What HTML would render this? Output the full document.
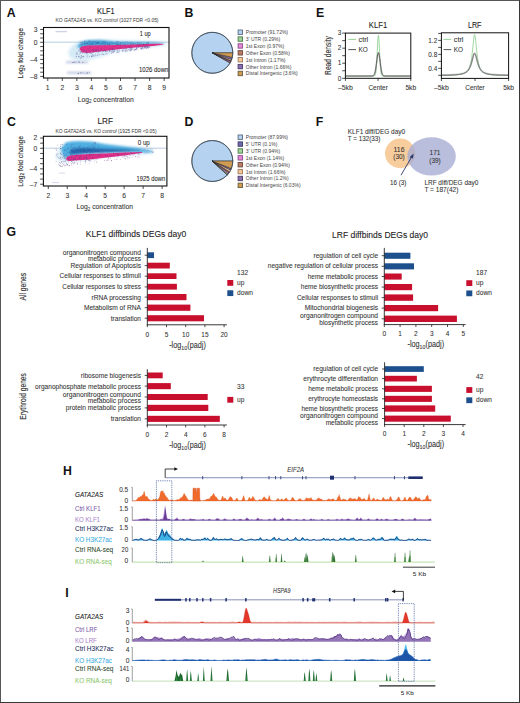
<!DOCTYPE html>
<html><head><meta charset="utf-8"><style>
html,body{margin:0;padding:0;background:#fff;}
svg{display:block;font-family:"Liberation Sans", sans-serif;}
</style></head><body>
<svg width="520" height="703" viewBox="0 0 520 703">
<defs>
<filter id="b1" x="-20%" y="-50%" width="140%" height="200%"><feGaussianBlur stdDeviation="0.8"/></filter>
<filter id="b2" x="-20%" y="-50%" width="140%" height="200%"><feGaussianBlur stdDeviation="1.5"/></filter>
<filter id="b05" x="-20%" y="-50%" width="140%" height="200%"><feGaussianBlur stdDeviation="0.4"/></filter>
</defs>
<rect x="0" y="0" width="520" height="703" fill="#fff"/>
<text x="6.8" y="16.6" font-size="12.3" fill="#111" font-weight="bold">A</text>
<text x="184.6" y="16.8" font-size="12.3" fill="#111" font-weight="bold">B</text>
<text x="316.0" y="16.9" font-size="12.3" fill="#111" font-weight="bold">E</text>
<text x="6.9" y="125.9" font-size="12.3" fill="#111" font-weight="bold">C</text>
<text x="184.6" y="125.8" font-size="12.3" fill="#111" font-weight="bold">D</text>
<text x="315.8" y="126.2" font-size="12.3" fill="#111" font-weight="bold">F</text>
<text x="6.6" y="236.4" font-size="12.3" fill="#111" font-weight="bold">G</text>
<text x="63.0" y="474.7" font-size="12.3" fill="#111" font-weight="bold">H</text>
<text x="65.3" y="596.7" font-size="12.3" fill="#111" font-weight="bold">I</text>
<g>
<path d="M68,52 L72,46 L80,41 L100,39.5 L130,40.5 L166,41.6 L166,45.5 L140,48.5 L116,52 L104,56 L90,60 L78,61 L70,58 Z" fill="#d3eaf6" stroke="none" stroke-width="1" filter="url(#b2)" opacity="0.95"/>
<line x1="43.5" y1="42.2" x2="169" y2="42.2" stroke="#a9cbdc" stroke-width="0.9"/>
<path d="M55.5,30.9 L67,30.9 L67,32.3 L55.5,32.3 Z" fill="#c9cfe2" stroke="none" stroke-width="1" filter="url(#b05)" opacity="0.9"/>
<path d="M66,61.0 L88,61.0 L88,63.4 L66,63.4 Z" fill="#c4cce4" stroke="none" stroke-width="1" filter="url(#b1)" opacity="0.95"/>
<path d="M67,71.6 L91,71.6 L91,74.0 L67,74.0 Z" fill="#c4cce4" stroke="none" stroke-width="1" filter="url(#b1)" opacity="0.95"/>
<path d="M77,47 L79,44 L83,41.5 L88,40.2 L100,40.0 L105,40.5 L116,41.8 L135,42.3 L153,42.6 L162,43.2 L162,44.2 L135,45.0 L116,45.4 L104,45.5 L90,46 L81,48.5 Z" fill="#4aa6da" stroke="none" stroke-width="1" filter="url(#b1)" opacity="0.95"/>
<path d="M84,43.5 L100,42.8 L120,43.4 L150,43.4 L120,44.6 L100,45.0 L86,45.6 Z" fill="#2a78b8" stroke="none" stroke-width="1" filter="url(#b1)" opacity="0.6"/>
<path d="M79.5,49 L81,46.8 L87,45.6 L100,45.3 L116,45.1 L135,44.5 L153,43.7 L163.5,43.8 L163.5,44.6 L153,46.0 L135,47.6 L116,49.4 L100,51.6 L88,53.0 L82,52.6 Z" fill="#e3318a" stroke="none" stroke-width="1" filter="url(#b05)" opacity="1"/>
<circle cx="102.7" cy="41.6" r="0.4" fill="#2c4f8e" opacity="0.65"/>
<circle cx="125.6" cy="41.7" r="0.4" fill="#2c4f8e" opacity="0.65"/>
<circle cx="117.5" cy="42.6" r="0.4" fill="#2c4f8e" opacity="0.65"/>
<circle cx="84.1" cy="42.8" r="0.4" fill="#2c4f8e" opacity="0.65"/>
<circle cx="82.6" cy="42.5" r="0.4" fill="#2c4f8e" opacity="0.65"/>
<circle cx="84.9" cy="41.0" r="0.4" fill="#2c4f8e" opacity="0.65"/>
<circle cx="109.7" cy="44.3" r="0.4" fill="#2c4f8e" opacity="0.65"/>
<circle cx="88.7" cy="41.6" r="0.4" fill="#2c4f8e" opacity="0.65"/>
<circle cx="123.9" cy="44.8" r="0.4" fill="#2c4f8e" opacity="0.65"/>
<circle cx="120.4" cy="42.8" r="0.4" fill="#2c4f8e" opacity="0.65"/>
<circle cx="148.3" cy="42.0" r="0.4" fill="#2c4f8e" opacity="0.65"/>
<circle cx="140.1" cy="42.7" r="0.4" fill="#2c4f8e" opacity="0.65"/>
<circle cx="90.1" cy="41.2" r="0.4" fill="#2c4f8e" opacity="0.65"/>
<circle cx="101.6" cy="44.3" r="0.4" fill="#2c4f8e" opacity="0.65"/>
<circle cx="92.7" cy="43.2" r="0.4" fill="#2c4f8e" opacity="0.65"/>
<circle cx="124.7" cy="42.7" r="0.4" fill="#2c4f8e" opacity="0.65"/>
<circle cx="118.3" cy="41.5" r="0.4" fill="#2c4f8e" opacity="0.65"/>
<circle cx="84.2" cy="41.5" r="0.4" fill="#2c4f8e" opacity="0.65"/>
<circle cx="127.6" cy="43.0" r="0.4" fill="#2c4f8e" opacity="0.65"/>
<circle cx="102.0" cy="43.3" r="0.4" fill="#2c4f8e" opacity="0.65"/>
<circle cx="111.7" cy="42.3" r="0.4" fill="#2c4f8e" opacity="0.65"/>
<circle cx="135.6" cy="44.0" r="0.4" fill="#2c4f8e" opacity="0.65"/>
<circle cx="97.1" cy="43.2" r="0.4" fill="#2c4f8e" opacity="0.65"/>
<circle cx="116.8" cy="44.5" r="0.4" fill="#2c4f8e" opacity="0.65"/>
<circle cx="131.1" cy="42.5" r="0.4" fill="#2c4f8e" opacity="0.65"/>
<circle cx="148.6" cy="42.2" r="0.4" fill="#2c4f8e" opacity="0.65"/>
<circle cx="109.3" cy="44.0" r="0.4" fill="#2c4f8e" opacity="0.65"/>
<circle cx="90.6" cy="42.8" r="0.4" fill="#2c4f8e" opacity="0.65"/>
<circle cx="82.7" cy="43.5" r="0.4" fill="#2c4f8e" opacity="0.65"/>
<circle cx="133.5" cy="43.5" r="0.4" fill="#2c4f8e" opacity="0.65"/>
<circle cx="141.3" cy="42.8" r="0.4" fill="#2c4f8e" opacity="0.65"/>
<circle cx="128.7" cy="43.6" r="0.4" fill="#2c4f8e" opacity="0.65"/>
<circle cx="120.6" cy="43.0" r="0.4" fill="#2c4f8e" opacity="0.65"/>
<circle cx="138.8" cy="44.8" r="0.4" fill="#2c4f8e" opacity="0.65"/>
<circle cx="113.2" cy="43.7" r="0.4" fill="#2c4f8e" opacity="0.65"/>
<circle cx="84.2" cy="43.7" r="0.4" fill="#2c4f8e" opacity="0.65"/>
<circle cx="125.3" cy="45.0" r="0.4" fill="#2c4f8e" opacity="0.65"/>
<circle cx="137.5" cy="42.6" r="0.4" fill="#2c4f8e" opacity="0.65"/>
<circle cx="107.0" cy="43.7" r="0.4" fill="#2c4f8e" opacity="0.65"/>
<circle cx="81.6" cy="42.6" r="0.4" fill="#2c4f8e" opacity="0.65"/>
<circle cx="91.8" cy="41.2" r="0.4" fill="#2c4f8e" opacity="0.65"/>
<circle cx="84.1" cy="44.0" r="0.4" fill="#2c4f8e" opacity="0.65"/>
<circle cx="89.1" cy="41.8" r="0.4" fill="#2c4f8e" opacity="0.65"/>
<circle cx="107.4" cy="44.5" r="0.4" fill="#2c4f8e" opacity="0.65"/>
<circle cx="85.6" cy="42.6" r="0.4" fill="#2c4f8e" opacity="0.65"/>
<circle cx="118.5" cy="44.6" r="0.4" fill="#2c4f8e" opacity="0.65"/>
<circle cx="137.3" cy="44.5" r="0.4" fill="#2c4f8e" opacity="0.65"/>
<circle cx="99.5" cy="42.6" r="0.4" fill="#2c4f8e" opacity="0.65"/>
<circle cx="105.1" cy="44.5" r="0.4" fill="#2c4f8e" opacity="0.65"/>
<circle cx="147.0" cy="42.3" r="0.4" fill="#2c4f8e" opacity="0.65"/>
<circle cx="92.3" cy="41.7" r="0.4" fill="#2c4f8e" opacity="0.65"/>
<circle cx="96.3" cy="42.9" r="0.4" fill="#2c4f8e" opacity="0.65"/>
<circle cx="121.2" cy="42.3" r="0.4" fill="#2c4f8e" opacity="0.65"/>
<circle cx="80.3" cy="42.4" r="0.4" fill="#2c4f8e" opacity="0.65"/>
<circle cx="105.8" cy="43.3" r="0.4" fill="#2c4f8e" opacity="0.65"/>
<circle cx="146.7" cy="44.0" r="0.4" fill="#2c4f8e" opacity="0.65"/>
<circle cx="116.1" cy="43.6" r="0.4" fill="#2c4f8e" opacity="0.65"/>
<circle cx="127.3" cy="41.6" r="0.4" fill="#2c4f8e" opacity="0.65"/>
<circle cx="143.0" cy="44.3" r="0.4" fill="#2c4f8e" opacity="0.65"/>
<circle cx="141.2" cy="44.3" r="0.4" fill="#2c4f8e" opacity="0.65"/>
<circle cx="107.5" cy="42.6" r="0.4" fill="#2c4f8e" opacity="0.65"/>
<circle cx="87.2" cy="43.4" r="0.4" fill="#2c4f8e" opacity="0.65"/>
<circle cx="84.4" cy="40.9" r="0.4" fill="#2c4f8e" opacity="0.65"/>
<circle cx="94.6" cy="41.5" r="0.4" fill="#2c4f8e" opacity="0.65"/>
<circle cx="103.8" cy="41.2" r="0.4" fill="#2c4f8e" opacity="0.65"/>
<circle cx="80.0" cy="41.2" r="0.4" fill="#2c4f8e" opacity="0.65"/>
<circle cx="87.1" cy="42.2" r="0.4" fill="#2c4f8e" opacity="0.65"/>
<circle cx="81.8" cy="44.4" r="0.4" fill="#2c4f8e" opacity="0.65"/>
<circle cx="123.0" cy="41.9" r="0.4" fill="#2c4f8e" opacity="0.65"/>
<circle cx="97.7" cy="42.3" r="0.4" fill="#2c4f8e" opacity="0.65"/>
<circle cx="105.5" cy="41.5" r="0.4" fill="#2c4f8e" opacity="0.65"/>
<circle cx="139.4" cy="45.0" r="0.4" fill="#2c4f8e" opacity="0.65"/>
<circle cx="112.6" cy="43.0" r="0.4" fill="#2c4f8e" opacity="0.65"/>
<circle cx="86.0" cy="41.1" r="0.4" fill="#2c4f8e" opacity="0.65"/>
<circle cx="104.0" cy="42.0" r="0.4" fill="#2c4f8e" opacity="0.65"/>
<circle cx="138.0" cy="42.2" r="0.4" fill="#2c4f8e" opacity="0.65"/>
<circle cx="81.6" cy="44.8" r="0.4" fill="#2c4f8e" opacity="0.65"/>
<circle cx="117.0" cy="41.8" r="0.4" fill="#2c4f8e" opacity="0.65"/>
<circle cx="118.0" cy="41.4" r="0.4" fill="#2c4f8e" opacity="0.65"/>
<circle cx="117.0" cy="44.9" r="0.4" fill="#2c4f8e" opacity="0.65"/>
<circle cx="140.4" cy="44.0" r="0.4" fill="#2c4f8e" opacity="0.65"/>
<circle cx="98.3" cy="42.4" r="0.4" fill="#2c4f8e" opacity="0.65"/>
<circle cx="91.7" cy="44.0" r="0.4" fill="#2c4f8e" opacity="0.65"/>
<circle cx="117.3" cy="44.2" r="0.4" fill="#2c4f8e" opacity="0.65"/>
<circle cx="103.1" cy="41.9" r="0.4" fill="#2c4f8e" opacity="0.65"/>
<circle cx="136.8" cy="44.9" r="0.4" fill="#2c4f8e" opacity="0.65"/>
<circle cx="139.7" cy="44.4" r="0.4" fill="#2c4f8e" opacity="0.65"/>
<circle cx="137.3" cy="44.1" r="0.4" fill="#2c4f8e" opacity="0.65"/>
<circle cx="95.9" cy="43.0" r="0.4" fill="#2c4f8e" opacity="0.65"/>
<circle cx="104.9" cy="41.1" r="0.4" fill="#2c4f8e" opacity="0.65"/>
<circle cx="82.0" cy="41.8" r="0.4" fill="#2c4f8e" opacity="0.65"/>
<circle cx="98.1" cy="43.7" r="0.4" fill="#2c4f8e" opacity="0.65"/>
<circle cx="147.0" cy="43.3" r="0.4" fill="#2c4f8e" opacity="0.65"/>
<circle cx="145.6" cy="45.0" r="0.4" fill="#2c4f8e" opacity="0.65"/>
<circle cx="146.9" cy="43.0" r="0.4" fill="#2c4f8e" opacity="0.65"/>
<circle cx="95.4" cy="41.8" r="0.4" fill="#2c4f8e" opacity="0.65"/>
<circle cx="93.8" cy="41.6" r="0.4" fill="#2c4f8e" opacity="0.65"/>
<circle cx="123.7" cy="44.6" r="0.4" fill="#2c4f8e" opacity="0.65"/>
<circle cx="138.8" cy="43.3" r="0.4" fill="#2c4f8e" opacity="0.65"/>
<circle cx="125.7" cy="44.3" r="0.4" fill="#2c4f8e" opacity="0.65"/>
<circle cx="85.9" cy="43.5" r="0.4" fill="#2c4f8e" opacity="0.65"/>
<circle cx="143.7" cy="44.3" r="0.4" fill="#2c4f8e" opacity="0.65"/>
<circle cx="132.5" cy="43.2" r="0.4" fill="#2c4f8e" opacity="0.65"/>
<circle cx="92.5" cy="44.1" r="0.4" fill="#2c4f8e" opacity="0.65"/>
<circle cx="103.3" cy="44.2" r="0.4" fill="#2c4f8e" opacity="0.65"/>
<circle cx="148.0" cy="43.1" r="0.4" fill="#2c4f8e" opacity="0.65"/>
<circle cx="108.1" cy="44.8" r="0.4" fill="#2c4f8e" opacity="0.65"/>
<circle cx="130.7" cy="42.1" r="0.4" fill="#2c4f8e" opacity="0.65"/>
<circle cx="88.9" cy="41.3" r="0.4" fill="#2c4f8e" opacity="0.65"/>
<circle cx="143.3" cy="44.4" r="0.4" fill="#2c4f8e" opacity="0.65"/>
<circle cx="90.2" cy="44.3" r="0.4" fill="#2c4f8e" opacity="0.65"/>
<circle cx="148.6" cy="43.9" r="0.4" fill="#2c4f8e" opacity="0.65"/>
<circle cx="104.5" cy="43.2" r="0.4" fill="#2c4f8e" opacity="0.65"/>
<circle cx="89.2" cy="40.7" r="0.4" fill="#2c4f8e" opacity="0.65"/>
<circle cx="148.0" cy="43.9" r="0.4" fill="#2c4f8e" opacity="0.65"/>
<circle cx="116.9" cy="44.8" r="0.4" fill="#2c4f8e" opacity="0.65"/>
<circle cx="110.4" cy="44.5" r="0.4" fill="#2c4f8e" opacity="0.65"/>
<circle cx="137.8" cy="42.4" r="0.4" fill="#2c4f8e" opacity="0.65"/>
<circle cx="97.6" cy="42.1" r="0.4" fill="#2c4f8e" opacity="0.65"/>
<circle cx="96.8" cy="43.3" r="0.4" fill="#2c4f8e" opacity="0.65"/>
<circle cx="98.2" cy="42.6" r="0.4" fill="#2c4f8e" opacity="0.65"/>
<circle cx="89.2" cy="44.6" r="0.4" fill="#2c4f8e" opacity="0.65"/>
<circle cx="104.8" cy="42.8" r="0.4" fill="#2c4f8e" opacity="0.65"/>
<circle cx="120.8" cy="44.6" r="0.4" fill="#2c4f8e" opacity="0.65"/>
<circle cx="109.4" cy="44.7" r="0.4" fill="#2c4f8e" opacity="0.65"/>
<circle cx="115.1" cy="43.2" r="0.4" fill="#2c4f8e" opacity="0.65"/>
<circle cx="116.6" cy="41.3" r="0.4" fill="#2c4f8e" opacity="0.65"/>
<circle cx="110.8" cy="41.8" r="0.4" fill="#2c4f8e" opacity="0.65"/>
<circle cx="80.3" cy="44.1" r="0.4" fill="#2c4f8e" opacity="0.65"/>
<circle cx="92.1" cy="42.8" r="0.4" fill="#2c4f8e" opacity="0.65"/>
<circle cx="130.8" cy="43.5" r="0.4" fill="#2c4f8e" opacity="0.65"/>
<circle cx="102.8" cy="43.1" r="0.4" fill="#2c4f8e" opacity="0.65"/>
<circle cx="118.9" cy="44.2" r="0.4" fill="#2c4f8e" opacity="0.65"/>
<circle cx="87.4" cy="43.1" r="0.4" fill="#2c4f8e" opacity="0.65"/>
<circle cx="97.4" cy="42.0" r="0.4" fill="#2c4f8e" opacity="0.65"/>
<circle cx="134.1" cy="43.3" r="0.4" fill="#2c4f8e" opacity="0.65"/>
<circle cx="119.3" cy="44.1" r="0.4" fill="#2c4f8e" opacity="0.65"/>
<circle cx="143.9" cy="43.2" r="0.4" fill="#2c4f8e" opacity="0.65"/>
<circle cx="122.9" cy="43.2" r="0.4" fill="#2c4f8e" opacity="0.65"/>
<circle cx="115.9" cy="43.8" r="0.4" fill="#2c4f8e" opacity="0.65"/>
<circle cx="109.5" cy="51.3" r="0.45" fill="#5a4a9a" opacity="0.65"/>
<circle cx="111.4" cy="53.4" r="0.45" fill="#5a4a9a" opacity="0.65"/>
<circle cx="127.7" cy="50.8" r="0.45" fill="#5a4a9a" opacity="0.65"/>
<circle cx="145.7" cy="47.0" r="0.45" fill="#5a4a9a" opacity="0.65"/>
<circle cx="117.4" cy="52.5" r="0.45" fill="#5a4a9a" opacity="0.65"/>
<circle cx="138.2" cy="47.3" r="0.45" fill="#5a4a9a" opacity="0.65"/>
<circle cx="85.0" cy="53.1" r="0.45" fill="#5a4a9a" opacity="0.65"/>
<circle cx="81.4" cy="51.8" r="0.45" fill="#5a4a9a" opacity="0.65"/>
<circle cx="81.4" cy="55.4" r="0.45" fill="#5a4a9a" opacity="0.65"/>
<circle cx="134.0" cy="50.0" r="0.45" fill="#5a4a9a" opacity="0.65"/>
<circle cx="87.4" cy="55.1" r="0.45" fill="#5a4a9a" opacity="0.65"/>
<circle cx="124.9" cy="48.1" r="0.45" fill="#5a4a9a" opacity="0.65"/>
<circle cx="141.3" cy="49.1" r="0.45" fill="#5a4a9a" opacity="0.65"/>
<circle cx="92.2" cy="56.2" r="0.45" fill="#5a4a9a" opacity="0.65"/>
<circle cx="105.5" cy="51.5" r="0.45" fill="#5a4a9a" opacity="0.65"/>
<circle cx="149.3" cy="47.7" r="0.45" fill="#5a4a9a" opacity="0.65"/>
<circle cx="87.9" cy="52.8" r="0.45" fill="#5a4a9a" opacity="0.65"/>
<circle cx="114.2" cy="49.9" r="0.45" fill="#5a4a9a" opacity="0.65"/>
<circle cx="90.5" cy="51.7" r="0.45" fill="#5a4a9a" opacity="0.65"/>
<circle cx="129.4" cy="47.4" r="0.45" fill="#5a4a9a" opacity="0.65"/>
<circle cx="117.0" cy="50.1" r="0.45" fill="#5a4a9a" opacity="0.65"/>
<circle cx="77.3" cy="52.9" r="0.45" fill="#5a4a9a" opacity="0.65"/>
<circle cx="122.2" cy="49.9" r="0.45" fill="#5a4a9a" opacity="0.65"/>
<circle cx="80.8" cy="58.2" r="0.45" fill="#5a4a9a" opacity="0.65"/>
<circle cx="134.3" cy="50.2" r="0.45" fill="#5a4a9a" opacity="0.65"/>
<circle cx="83.8" cy="51.8" r="0.45" fill="#5a4a9a" opacity="0.65"/>
<circle cx="78.9" cy="56.6" r="0.45" fill="#5a4a9a" opacity="0.65"/>
<circle cx="96.0" cy="49.9" r="0.45" fill="#5a4a9a" opacity="0.65"/>
<circle cx="107.2" cy="53.8" r="0.45" fill="#5a4a9a" opacity="0.65"/>
<circle cx="136.6" cy="47.7" r="0.45" fill="#5a4a9a" opacity="0.65"/>
<circle cx="87.1" cy="56.7" r="0.45" fill="#5a4a9a" opacity="0.65"/>
<circle cx="118.2" cy="51.2" r="0.45" fill="#5a4a9a" opacity="0.65"/>
<circle cx="82.6" cy="50.1" r="0.45" fill="#5a4a9a" opacity="0.65"/>
<circle cx="126.9" cy="49.1" r="0.45" fill="#5a4a9a" opacity="0.65"/>
<circle cx="81.4" cy="57.7" r="0.45" fill="#5a4a9a" opacity="0.65"/>
<circle cx="122.9" cy="51.1" r="0.45" fill="#5a4a9a" opacity="0.65"/>
<circle cx="82.2" cy="56.9" r="0.45" fill="#5a4a9a" opacity="0.65"/>
<circle cx="80.9" cy="57.1" r="0.45" fill="#5a4a9a" opacity="0.65"/>
<circle cx="109.6" cy="50.2" r="0.45" fill="#5a4a9a" opacity="0.65"/>
<circle cx="116.9" cy="52.5" r="0.45" fill="#5a4a9a" opacity="0.65"/>
<circle cx="95.8" cy="49.9" r="0.45" fill="#5a4a9a" opacity="0.65"/>
<circle cx="115.0" cy="49.3" r="0.45" fill="#5a4a9a" opacity="0.65"/>
<circle cx="84.1" cy="50.9" r="0.45" fill="#5a4a9a" opacity="0.65"/>
<circle cx="79.7" cy="51.6" r="0.45" fill="#5a4a9a" opacity="0.65"/>
<circle cx="99.1" cy="50.9" r="0.45" fill="#5a4a9a" opacity="0.65"/>
<circle cx="132.2" cy="48.2" r="0.45" fill="#5a4a9a" opacity="0.65"/>
<circle cx="113.0" cy="49.1" r="0.45" fill="#5a4a9a" opacity="0.65"/>
<circle cx="101.7" cy="48.8" r="0.45" fill="#5a4a9a" opacity="0.65"/>
<circle cx="94.5" cy="49.2" r="0.45" fill="#5a4a9a" opacity="0.65"/>
<circle cx="130.2" cy="49.3" r="0.45" fill="#5a4a9a" opacity="0.65"/>
<circle cx="90.0" cy="52.9" r="0.45" fill="#5a4a9a" opacity="0.65"/>
<circle cx="145.2" cy="46.8" r="0.45" fill="#5a4a9a" opacity="0.65"/>
<circle cx="136.6" cy="48.2" r="0.45" fill="#5a4a9a" opacity="0.65"/>
<circle cx="112.6" cy="52.6" r="0.45" fill="#5a4a9a" opacity="0.65"/>
<circle cx="105.1" cy="51.6" r="0.45" fill="#5a4a9a" opacity="0.65"/>
<circle cx="126.9" cy="51.3" r="0.45" fill="#5a4a9a" opacity="0.65"/>
<circle cx="101.4" cy="54.1" r="0.45" fill="#5a4a9a" opacity="0.65"/>
<circle cx="128.3" cy="49.8" r="0.45" fill="#5a4a9a" opacity="0.65"/>
<circle cx="105.9" cy="50.6" r="0.45" fill="#5a4a9a" opacity="0.65"/>
<circle cx="80.0" cy="50.9" r="0.45" fill="#5a4a9a" opacity="0.65"/>
<circle cx="81.2" cy="56.0" r="0.45" fill="#5a4a9a" opacity="0.65"/>
<circle cx="94.9" cy="50.2" r="0.45" fill="#5a4a9a" opacity="0.65"/>
<circle cx="82.3" cy="56.7" r="0.45" fill="#5a4a9a" opacity="0.65"/>
<circle cx="140.4" cy="48.5" r="0.45" fill="#5a4a9a" opacity="0.65"/>
<circle cx="96.9" cy="50.6" r="0.45" fill="#5a4a9a" opacity="0.65"/>
<circle cx="97.7" cy="52.1" r="0.45" fill="#5a4a9a" opacity="0.65"/>
<circle cx="87.7" cy="52.9" r="0.45" fill="#5a4a9a" opacity="0.65"/>
<circle cx="95.5" cy="55.8" r="0.45" fill="#5a4a9a" opacity="0.65"/>
<circle cx="148.0" cy="47.4" r="0.45" fill="#5a4a9a" opacity="0.65"/>
<circle cx="94.1" cy="56.0" r="0.45" fill="#5a4a9a" opacity="0.65"/>
<circle cx="98.9" cy="51.2" r="0.45" fill="#5a4a9a" opacity="0.65"/>
<circle cx="76.1" cy="53.4" r="0.45" fill="#5a4a9a" opacity="0.65"/>
<circle cx="111.1" cy="51.0" r="0.45" fill="#5a4a9a" opacity="0.65"/>
<circle cx="90.9" cy="53.0" r="0.45" fill="#5a4a9a" opacity="0.65"/>
<circle cx="76.4" cy="52.3" r="0.45" fill="#5a4a9a" opacity="0.65"/>
<circle cx="82.6" cy="53.0" r="0.45" fill="#5a4a9a" opacity="0.65"/>
<circle cx="79.1" cy="50.0" r="0.45" fill="#5a4a9a" opacity="0.65"/>
<circle cx="98.5" cy="50.4" r="0.45" fill="#5a4a9a" opacity="0.65"/>
<circle cx="119.3" cy="50.3" r="0.45" fill="#5a4a9a" opacity="0.65"/>
<circle cx="131.5" cy="49.5" r="0.45" fill="#5a4a9a" opacity="0.65"/>
<circle cx="129.0" cy="50.6" r="0.45" fill="#5a4a9a" opacity="0.65"/>
<circle cx="104.8" cy="50.6" r="0.45" fill="#5a4a9a" opacity="0.65"/>
<circle cx="148.9" cy="46.6" r="0.45" fill="#5a4a9a" opacity="0.65"/>
<circle cx="129.6" cy="49.7" r="0.45" fill="#5a4a9a" opacity="0.65"/>
<circle cx="79.2" cy="57.1" r="0.45" fill="#5a4a9a" opacity="0.65"/>
<circle cx="142.0" cy="48.2" r="0.45" fill="#5a4a9a" opacity="0.65"/>
<circle cx="130.3" cy="50.2" r="0.45" fill="#5a4a9a" opacity="0.65"/>
<circle cx="86.3" cy="53.7" r="0.45" fill="#5a4a9a" opacity="0.65"/>
<circle cx="113.3" cy="52.5" r="0.45" fill="#5a4a9a" opacity="0.65"/>
<circle cx="135.5" cy="49.5" r="0.45" fill="#5a4a9a" opacity="0.65"/>
<circle cx="119.2" cy="52.0" r="0.45" fill="#5a4a9a" opacity="0.65"/>
<circle cx="126.5" cy="50.2" r="0.45" fill="#5a4a9a" opacity="0.65"/>
<circle cx="93.0" cy="49.4" r="0.45" fill="#5a4a9a" opacity="0.65"/>
<circle cx="85.8" cy="52.4" r="0.45" fill="#5a4a9a" opacity="0.65"/>
<circle cx="83.8" cy="56.5" r="0.45" fill="#5a4a9a" opacity="0.65"/>
<circle cx="117.3" cy="51.0" r="0.45" fill="#5a4a9a" opacity="0.65"/>
<circle cx="122.3" cy="50.7" r="0.45" fill="#5a4a9a" opacity="0.65"/>
<circle cx="112.2" cy="48.2" r="0.45" fill="#5a4a9a" opacity="0.65"/>
<circle cx="135.0" cy="49.4" r="0.45" fill="#5a4a9a" opacity="0.65"/>
<circle cx="113.2" cy="51.0" r="0.45" fill="#5a4a9a" opacity="0.65"/>
<circle cx="124.8" cy="47.8" r="0.45" fill="#5a4a9a" opacity="0.65"/>
<circle cx="130.5" cy="48.2" r="0.45" fill="#5a4a9a" opacity="0.65"/>
<circle cx="81.5" cy="52.0" r="0.45" fill="#5a4a9a" opacity="0.65"/>
<circle cx="130.0" cy="48.0" r="0.45" fill="#5a4a9a" opacity="0.65"/>
<circle cx="130.7" cy="50.7" r="0.45" fill="#5a4a9a" opacity="0.65"/>
<circle cx="112.6" cy="50.2" r="0.45" fill="#5a4a9a" opacity="0.65"/>
<circle cx="111.4" cy="52.0" r="0.45" fill="#5a4a9a" opacity="0.65"/>
<circle cx="132.8" cy="49.2" r="0.45" fill="#5a4a9a" opacity="0.65"/>
<circle cx="123.6" cy="48.0" r="0.45" fill="#5a4a9a" opacity="0.65"/>
<circle cx="86.9" cy="51.5" r="0.45" fill="#5a4a9a" opacity="0.65"/>
<circle cx="131.0" cy="48.3" r="0.45" fill="#5a4a9a" opacity="0.65"/>
<circle cx="118.0" cy="48.0" r="0.45" fill="#5a4a9a" opacity="0.65"/>
<circle cx="80.5" cy="52.1" r="0.45" fill="#5a4a9a" opacity="0.65"/>
<circle cx="125.7" cy="50.3" r="0.45" fill="#5a4a9a" opacity="0.65"/>
<circle cx="126.0" cy="48.7" r="0.45" fill="#5a4a9a" opacity="0.65"/>
<circle cx="114.2" cy="50.5" r="0.45" fill="#5a4a9a" opacity="0.65"/>
<circle cx="110.5" cy="48.9" r="0.45" fill="#5a4a9a" opacity="0.65"/>
<circle cx="142.1" cy="47.2" r="0.45" fill="#5a4a9a" opacity="0.65"/>
<circle cx="148.4" cy="48.0" r="0.45" fill="#5a4a9a" opacity="0.65"/>
<circle cx="77.3" cy="54.0" r="0.45" fill="#5a4a9a" opacity="0.65"/>
<circle cx="136.7" cy="49.8" r="0.45" fill="#5a4a9a" opacity="0.65"/>
<circle cx="109.3" cy="49.9" r="0.45" fill="#5a4a9a" opacity="0.65"/>
<circle cx="91.5" cy="56.3" r="0.45" fill="#5a4a9a" opacity="0.65"/>
<circle cx="91.6" cy="53.5" r="0.45" fill="#5a4a9a" opacity="0.65"/>
<circle cx="86.5" cy="53.6" r="0.45" fill="#5a4a9a" opacity="0.65"/>
<circle cx="146.5" cy="46.7" r="0.45" fill="#5a4a9a" opacity="0.65"/>
<circle cx="136.7" cy="48.5" r="0.45" fill="#5a4a9a" opacity="0.65"/>
<circle cx="141.6" cy="48.4" r="0.45" fill="#5a4a9a" opacity="0.65"/>
<circle cx="93.1" cy="55.7" r="0.45" fill="#5a4a9a" opacity="0.65"/>
<circle cx="112.0" cy="48.3" r="0.45" fill="#5a4a9a" opacity="0.65"/>
<circle cx="76.3" cy="54.4" r="0.45" fill="#5a4a9a" opacity="0.65"/>
<circle cx="109.4" cy="50.0" r="0.45" fill="#5a4a9a" opacity="0.65"/>
<circle cx="86.4" cy="52.2" r="0.45" fill="#5a4a9a" opacity="0.65"/>
<circle cx="99.4" cy="54.4" r="0.45" fill="#5a4a9a" opacity="0.65"/>
<circle cx="76.1" cy="56.7" r="0.45" fill="#5a4a9a" opacity="0.65"/>
<circle cx="138.1" cy="47.2" r="0.45" fill="#5a4a9a" opacity="0.65"/>
<circle cx="144.6" cy="48.1" r="0.45" fill="#5a4a9a" opacity="0.65"/>
<circle cx="142.7" cy="47.3" r="0.45" fill="#5a4a9a" opacity="0.65"/>
<circle cx="103.5" cy="51.1" r="0.45" fill="#5a4a9a" opacity="0.65"/>
<circle cx="149.9" cy="47.3" r="0.45" fill="#5a4a9a" opacity="0.65"/>
<circle cx="102.7" cy="51.4" r="0.45" fill="#5a4a9a" opacity="0.65"/>
<circle cx="96.4" cy="49.3" r="0.45" fill="#5a4a9a" opacity="0.65"/>
<circle cx="83.5" cy="56.5" r="0.45" fill="#5a4a9a" opacity="0.65"/>
<circle cx="97.1" cy="55.4" r="0.45" fill="#5a4a9a" opacity="0.65"/>
<circle cx="94.5" cy="51.0" r="0.45" fill="#5a4a9a" opacity="0.65"/>
<circle cx="113.8" cy="49.1" r="0.45" fill="#5a4a9a" opacity="0.65"/>
<circle cx="103.6" cy="54.6" r="0.45" fill="#5a4a9a" opacity="0.65"/>
<circle cx="141.4" cy="48.7" r="0.45" fill="#5a4a9a" opacity="0.65"/>
<circle cx="122.7" cy="51.6" r="0.45" fill="#5a4a9a" opacity="0.65"/>
<circle cx="145.6" cy="47.6" r="0.45" fill="#5a4a9a" opacity="0.65"/>
<circle cx="129.2" cy="47.5" r="0.45" fill="#5a4a9a" opacity="0.65"/>
<circle cx="130.2" cy="48.9" r="0.45" fill="#5a4a9a" opacity="0.65"/>
<circle cx="131.7" cy="49.4" r="0.45" fill="#5a4a9a" opacity="0.65"/>
<circle cx="97.2" cy="49.3" r="0.45" fill="#5a4a9a" opacity="0.65"/>
<circle cx="144.6" cy="46.8" r="0.45" fill="#5a4a9a" opacity="0.65"/>
<circle cx="110.9" cy="50.1" r="0.45" fill="#5a4a9a" opacity="0.65"/>
<circle cx="98.0" cy="53.9" r="0.45" fill="#5a4a9a" opacity="0.65"/>
<circle cx="148.2" cy="46.8" r="0.45" fill="#5a4a9a" opacity="0.65"/>
<circle cx="124.5" cy="48.8" r="0.45" fill="#5a4a9a" opacity="0.65"/>
<circle cx="117.2" cy="49.9" r="0.45" fill="#5a4a9a" opacity="0.65"/>
<circle cx="88.4" cy="50.6" r="0.45" fill="#5a4a9a" opacity="0.65"/>
<circle cx="91.4" cy="56.0" r="0.45" fill="#5a4a9a" opacity="0.65"/>
<circle cx="112.8" cy="49.3" r="0.45" fill="#5a4a9a" opacity="0.65"/>
<circle cx="143.1" cy="48.9" r="0.45" fill="#5a4a9a" opacity="0.65"/>
<circle cx="109.3" cy="49.1" r="0.45" fill="#5a4a9a" opacity="0.65"/>
<circle cx="90.2" cy="50.0" r="0.45" fill="#5a4a9a" opacity="0.65"/>
<circle cx="101.3" cy="49.3" r="0.45" fill="#5a4a9a" opacity="0.65"/>
<circle cx="93.7" cy="51.0" r="0.45" fill="#5a4a9a" opacity="0.65"/>
<circle cx="118.2" cy="52.1" r="0.45" fill="#5a4a9a" opacity="0.65"/>
<circle cx="131.5" cy="48.7" r="0.45" fill="#5a4a9a" opacity="0.65"/>
<circle cx="106.6" cy="51.6" r="0.45" fill="#5a4a9a" opacity="0.65"/>
<circle cx="103.9" cy="50.7" r="0.45" fill="#5a4a9a" opacity="0.65"/>
<circle cx="80.6" cy="52.1" r="0.45" fill="#5a4a9a" opacity="0.65"/>
<circle cx="147.6" cy="46.7" r="0.45" fill="#5a4a9a" opacity="0.65"/>
<circle cx="113.3" cy="51.5" r="0.45" fill="#5a4a9a" opacity="0.65"/>
<circle cx="139.9" cy="47.4" r="0.45" fill="#5a4a9a" opacity="0.65"/>
<circle cx="96.1" cy="50.7" r="0.45" fill="#5a4a9a" opacity="0.65"/>
<circle cx="105.6" cy="51.2" r="0.45" fill="#5a4a9a" opacity="0.65"/>
<circle cx="146.6" cy="48.1" r="0.45" fill="#5a4a9a" opacity="0.65"/>
<circle cx="140.6" cy="46.8" r="0.45" fill="#5a4a9a" opacity="0.65"/>
<circle cx="78.4" cy="56.1" r="0.45" fill="#5a4a9a" opacity="0.65"/>
<circle cx="142.3" cy="47.8" r="0.45" fill="#5a4a9a" opacity="0.65"/>
<circle cx="119.5" cy="47.8" r="0.45" fill="#5a4a9a" opacity="0.65"/>
<circle cx="105.0" cy="54.2" r="0.45" fill="#5a4a9a" opacity="0.65"/>
<circle cx="137.1" cy="49.4" r="0.45" fill="#5a4a9a" opacity="0.65"/>
<circle cx="147.9" cy="46.9" r="0.45" fill="#5a4a9a" opacity="0.65"/>
<circle cx="84.1" cy="50.9" r="0.45" fill="#5a4a9a" opacity="0.65"/>
<circle cx="114.7" cy="51.6" r="0.45" fill="#5a4a9a" opacity="0.65"/>
<circle cx="145.7" cy="48.0" r="0.45" fill="#5a4a9a" opacity="0.65"/>
<circle cx="123.9" cy="50.8" r="0.45" fill="#5a4a9a" opacity="0.65"/>
<circle cx="109.8" cy="51.4" r="0.45" fill="#5a4a9a" opacity="0.65"/>
<circle cx="78.9" cy="56.7" r="0.45" fill="#5a4a9a" opacity="0.65"/>
<circle cx="93.2" cy="55.8" r="0.45" fill="#5a4a9a" opacity="0.65"/>
<circle cx="123.8" cy="48.9" r="0.45" fill="#5a4a9a" opacity="0.65"/>
<circle cx="85.5" cy="51.6" r="0.45" fill="#5a4a9a" opacity="0.65"/>
<circle cx="123.1" cy="50.6" r="0.45" fill="#5a4a9a" opacity="0.65"/>
<circle cx="84.3" cy="50.2" r="0.45" fill="#5a4a9a" opacity="0.65"/>
<circle cx="114.8" cy="51.0" r="0.45" fill="#5a4a9a" opacity="0.65"/>
<circle cx="104.7" cy="49.9" r="0.45" fill="#5a4a9a" opacity="0.65"/>
<circle cx="120.5" cy="47.8" r="0.45" fill="#5a4a9a" opacity="0.65"/>
<circle cx="98.3" cy="52.0" r="0.45" fill="#5a4a9a" opacity="0.65"/>
<circle cx="147.0" cy="47.7" r="0.45" fill="#5a4a9a" opacity="0.65"/>
<circle cx="141.4" cy="47.9" r="0.45" fill="#5a4a9a" opacity="0.65"/>
<circle cx="93.4" cy="50.9" r="0.45" fill="#5a4a9a" opacity="0.65"/>
<circle cx="147.1" cy="47.8" r="0.45" fill="#5a4a9a" opacity="0.65"/>
<circle cx="98.7" cy="49.0" r="0.45" fill="#5a4a9a" opacity="0.65"/>
<circle cx="112.9" cy="51.7" r="0.45" fill="#5a4a9a" opacity="0.65"/>
<circle cx="107.1" cy="50.0" r="0.45" fill="#5a4a9a" opacity="0.65"/>
<circle cx="125.4" cy="51.3" r="0.45" fill="#5a4a9a" opacity="0.65"/>
<circle cx="92.8" cy="49.4" r="0.45" fill="#5a4a9a" opacity="0.65"/>
<circle cx="101.0" cy="51.5" r="0.45" fill="#5a4a9a" opacity="0.65"/>
<circle cx="126.5" cy="48.3" r="0.45" fill="#5a4a9a" opacity="0.65"/>
<circle cx="135.0" cy="49.3" r="0.45" fill="#5a4a9a" opacity="0.65"/>
<circle cx="113.4" cy="49.2" r="0.45" fill="#5a4a9a" opacity="0.65"/>
<circle cx="147.8" cy="47.0" r="0.45" fill="#5a4a9a" opacity="0.65"/>
<circle cx="136.7" cy="47.6" r="0.45" fill="#5a4a9a" opacity="0.65"/>
<circle cx="92.4" cy="54.8" r="0.45" fill="#5a4a9a" opacity="0.65"/>
<circle cx="97.8" cy="55.4" r="0.45" fill="#5a4a9a" opacity="0.65"/>
<circle cx="112.7" cy="49.2" r="0.45" fill="#5a4a9a" opacity="0.65"/>
<circle cx="92.5" cy="52.2" r="0.45" fill="#5a4a9a" opacity="0.65"/>
<circle cx="125.2" cy="51.4" r="0.45" fill="#5a4a9a" opacity="0.65"/>
<circle cx="86.8" cy="52.6" r="0.45" fill="#5a4a9a" opacity="0.65"/>
<circle cx="91.8" cy="56.4" r="0.45" fill="#5a4a9a" opacity="0.65"/>
<circle cx="86.5" cy="49.9" r="0.45" fill="#5a4a9a" opacity="0.65"/>
<circle cx="80.5" cy="53.1" r="0.45" fill="#5a4a9a" opacity="0.65"/>
<circle cx="142.5" cy="48.8" r="0.45" fill="#5a4a9a" opacity="0.65"/>
<circle cx="130.2" cy="50.9" r="0.45" fill="#5a4a9a" opacity="0.65"/>
<circle cx="144.9" cy="47.2" r="0.45" fill="#5a4a9a" opacity="0.65"/>
<circle cx="89.7" cy="56.5" r="0.45" fill="#5a4a9a" opacity="0.65"/>
<circle cx="131.2" cy="47.3" r="0.45" fill="#5a4a9a" opacity="0.65"/>
<circle cx="125.2" cy="49.1" r="0.45" fill="#5a4a9a" opacity="0.65"/>
<circle cx="103.7" cy="50.7" r="0.45" fill="#5a4a9a" opacity="0.65"/>
<circle cx="88.5" cy="49.4" r="0.45" fill="#5a4a9a" opacity="0.65"/>
<circle cx="96.7" cy="51.4" r="0.45" fill="#5a4a9a" opacity="0.65"/>
<circle cx="146.7" cy="46.7" r="0.45" fill="#5a4a9a" opacity="0.65"/>
<circle cx="147.4" cy="46.8" r="0.45" fill="#5a4a9a" opacity="0.65"/>
<circle cx="102.4" cy="53.9" r="0.45" fill="#5a4a9a" opacity="0.65"/>
<circle cx="136.8" cy="48.2" r="0.45" fill="#5a4a9a" opacity="0.65"/>
<circle cx="79.6" cy="53.9" r="0.45" fill="#5a4a9a" opacity="0.65"/>
<circle cx="103.6" cy="54.4" r="0.45" fill="#5a4a9a" opacity="0.65"/>
<circle cx="90.3" cy="52.0" r="0.45" fill="#5a4a9a" opacity="0.65"/>
<circle cx="142.4" cy="46.8" r="0.45" fill="#5a4a9a" opacity="0.65"/>
<circle cx="106.4" cy="53.3" r="0.45" fill="#5a4a9a" opacity="0.65"/>
<circle cx="132.7" cy="47.3" r="0.45" fill="#5a4a9a" opacity="0.65"/>
<circle cx="78.6" cy="50.4" r="0.45" fill="#5a4a9a" opacity="0.65"/>
<circle cx="144.1" cy="47.2" r="0.45" fill="#5a4a9a" opacity="0.65"/>
<circle cx="131.3" cy="50.4" r="0.45" fill="#5a4a9a" opacity="0.65"/>
<circle cx="101.1" cy="50.5" r="0.45" fill="#5a4a9a" opacity="0.65"/>
<circle cx="146.9" cy="47.6" r="0.45" fill="#5a4a9a" opacity="0.65"/>
<circle cx="95.4" cy="54.1" r="0.45" fill="#5a4a9a" opacity="0.65"/>
<circle cx="99.4" cy="50.7" r="0.45" fill="#5a4a9a" opacity="0.65"/>
<circle cx="76.3" cy="56.8" r="0.45" fill="#5a4a9a" opacity="0.65"/>
<circle cx="143.8" cy="48.0" r="0.45" fill="#5a4a9a" opacity="0.65"/>
<circle cx="145.8" cy="46.6" r="0.45" fill="#5a4a9a" opacity="0.65"/>
<circle cx="93.3" cy="52.6" r="0.45" fill="#5a4a9a" opacity="0.65"/>
<circle cx="146.8" cy="48.3" r="0.45" fill="#5a4a9a" opacity="0.65"/>
<circle cx="104.6" cy="50.1" r="0.45" fill="#5a4a9a" opacity="0.65"/>
<circle cx="107.8" cy="51.3" r="0.45" fill="#5a4a9a" opacity="0.65"/>
<circle cx="144.7" cy="47.0" r="0.45" fill="#5a4a9a" opacity="0.65"/>
<circle cx="135.4" cy="49.3" r="0.45" fill="#5a4a9a" opacity="0.65"/>
<circle cx="145.8" cy="45.5" r="0.45" fill="#b0307a" opacity="0.5"/>
<circle cx="128.6" cy="45.5" r="0.45" fill="#b0307a" opacity="0.5"/>
<circle cx="105.6" cy="46.8" r="0.45" fill="#b0307a" opacity="0.5"/>
<circle cx="142.6" cy="44.4" r="0.45" fill="#b0307a" opacity="0.5"/>
<circle cx="95.8" cy="49.5" r="0.45" fill="#b0307a" opacity="0.5"/>
<circle cx="99.8" cy="45.5" r="0.45" fill="#b0307a" opacity="0.5"/>
<circle cx="82.7" cy="49.2" r="0.45" fill="#b0307a" opacity="0.5"/>
<circle cx="106.1" cy="49.8" r="0.45" fill="#b0307a" opacity="0.5"/>
<circle cx="150.7" cy="45.4" r="0.45" fill="#b0307a" opacity="0.5"/>
<circle cx="101.2" cy="45.5" r="0.45" fill="#b0307a" opacity="0.5"/>
<circle cx="87.7" cy="48.5" r="0.45" fill="#b0307a" opacity="0.5"/>
<circle cx="136.8" cy="45.5" r="0.45" fill="#b0307a" opacity="0.5"/>
<circle cx="98.7" cy="47.4" r="0.45" fill="#b0307a" opacity="0.5"/>
<circle cx="129.6" cy="46.6" r="0.45" fill="#b0307a" opacity="0.5"/>
<circle cx="139.8" cy="46.2" r="0.45" fill="#b0307a" opacity="0.5"/>
<circle cx="133.2" cy="44.8" r="0.45" fill="#b0307a" opacity="0.5"/>
<circle cx="147.3" cy="44.6" r="0.45" fill="#b0307a" opacity="0.5"/>
<circle cx="125.4" cy="45.9" r="0.45" fill="#b0307a" opacity="0.5"/>
<circle cx="139.0" cy="44.8" r="0.45" fill="#b0307a" opacity="0.5"/>
<circle cx="99.8" cy="46.4" r="0.45" fill="#b0307a" opacity="0.5"/>
<circle cx="92.3" cy="50.6" r="0.45" fill="#b0307a" opacity="0.5"/>
<circle cx="126.3" cy="45.7" r="0.45" fill="#b0307a" opacity="0.5"/>
<circle cx="111.7" cy="49.3" r="0.45" fill="#b0307a" opacity="0.5"/>
<circle cx="120.6" cy="45.6" r="0.45" fill="#b0307a" opacity="0.5"/>
<circle cx="144.7" cy="45.4" r="0.45" fill="#b0307a" opacity="0.5"/>
<circle cx="159.3" cy="44.0" r="0.45" fill="#b0307a" opacity="0.5"/>
<circle cx="118.0" cy="48.0" r="0.45" fill="#b0307a" opacity="0.5"/>
<circle cx="147.2" cy="45.6" r="0.45" fill="#b0307a" opacity="0.5"/>
<circle cx="83.2" cy="47.4" r="0.45" fill="#b0307a" opacity="0.5"/>
<circle cx="89.5" cy="46.5" r="0.45" fill="#b0307a" opacity="0.5"/>
<circle cx="157.8" cy="44.4" r="0.45" fill="#b0307a" opacity="0.5"/>
<circle cx="154.4" cy="44.4" r="0.45" fill="#b0307a" opacity="0.5"/>
<circle cx="149.3" cy="44.8" r="0.45" fill="#b0307a" opacity="0.5"/>
<circle cx="100.8" cy="49.2" r="0.45" fill="#b0307a" opacity="0.5"/>
<circle cx="155.7" cy="44.1" r="0.45" fill="#b0307a" opacity="0.5"/>
<circle cx="127.7" cy="46.5" r="0.45" fill="#b0307a" opacity="0.5"/>
<circle cx="97.4" cy="47.2" r="0.45" fill="#b0307a" opacity="0.5"/>
<circle cx="91.3" cy="46.5" r="0.45" fill="#b0307a" opacity="0.5"/>
<circle cx="100.4" cy="48.3" r="0.45" fill="#b0307a" opacity="0.5"/>
<circle cx="132.1" cy="45.0" r="0.45" fill="#b0307a" opacity="0.5"/>
<circle cx="80.9" cy="47.7" r="0.45" fill="#b0307a" opacity="0.5"/>
<circle cx="134.3" cy="44.9" r="0.45" fill="#b0307a" opacity="0.5"/>
<circle cx="105.0" cy="46.0" r="0.45" fill="#b0307a" opacity="0.5"/>
<circle cx="143.6" cy="45.3" r="0.45" fill="#b0307a" opacity="0.5"/>
<circle cx="85.1" cy="46.1" r="0.45" fill="#b0307a" opacity="0.5"/>
<circle cx="111.6" cy="47.3" r="0.45" fill="#b0307a" opacity="0.5"/>
<circle cx="131.1" cy="44.7" r="0.45" fill="#b0307a" opacity="0.5"/>
<circle cx="93.1" cy="49.4" r="0.45" fill="#b0307a" opacity="0.5"/>
<circle cx="112.8" cy="46.1" r="0.45" fill="#b0307a" opacity="0.5"/>
<circle cx="104.6" cy="49.8" r="0.45" fill="#b0307a" opacity="0.5"/>
<circle cx="105.0" cy="47.8" r="0.45" fill="#b0307a" opacity="0.5"/>
<circle cx="108.6" cy="46.9" r="0.45" fill="#b0307a" opacity="0.5"/>
<circle cx="149.1" cy="45.6" r="0.45" fill="#b0307a" opacity="0.5"/>
<circle cx="109.1" cy="45.8" r="0.45" fill="#b0307a" opacity="0.5"/>
<circle cx="138.2" cy="44.8" r="0.45" fill="#b0307a" opacity="0.5"/>
<circle cx="80.5" cy="51.8" r="0.45" fill="#b0307a" opacity="0.5"/>
<circle cx="113.9" cy="48.3" r="0.45" fill="#b0307a" opacity="0.5"/>
<circle cx="112.5" cy="48.7" r="0.45" fill="#b0307a" opacity="0.5"/>
<circle cx="116.9" cy="45.4" r="0.45" fill="#b0307a" opacity="0.5"/>
<circle cx="81.2" cy="49.3" r="0.45" fill="#b0307a" opacity="0.5"/>
<circle cx="131.3" cy="47.1" r="0.45" fill="#b0307a" opacity="0.5"/>
<circle cx="87.1" cy="49.4" r="0.45" fill="#b0307a" opacity="0.5"/>
<circle cx="109.7" cy="47.2" r="0.45" fill="#b0307a" opacity="0.5"/>
<circle cx="91.7" cy="47.0" r="0.45" fill="#b0307a" opacity="0.5"/>
<circle cx="121.7" cy="48.1" r="0.45" fill="#b0307a" opacity="0.5"/>
<circle cx="88.7" cy="48.4" r="0.45" fill="#b0307a" opacity="0.5"/>
<circle cx="144.4" cy="46.0" r="0.45" fill="#b0307a" opacity="0.5"/>
<circle cx="95.8" cy="45.9" r="0.45" fill="#b0307a" opacity="0.5"/>
<circle cx="155.4" cy="44.9" r="0.45" fill="#b0307a" opacity="0.5"/>
<circle cx="118.6" cy="44.9" r="0.45" fill="#b0307a" opacity="0.5"/>
<circle cx="154.1" cy="44.4" r="0.45" fill="#b0307a" opacity="0.5"/>
<circle cx="152.3" cy="44.8" r="0.45" fill="#b0307a" opacity="0.5"/>
<circle cx="146.0" cy="44.5" r="0.45" fill="#b0307a" opacity="0.5"/>
<circle cx="142.9" cy="44.7" r="0.45" fill="#b0307a" opacity="0.5"/>
<circle cx="112.4" cy="48.6" r="0.45" fill="#b0307a" opacity="0.5"/>
<circle cx="146.3" cy="44.5" r="0.45" fill="#b0307a" opacity="0.5"/>
<circle cx="97.5" cy="47.4" r="0.45" fill="#b0307a" opacity="0.5"/>
<circle cx="121.4" cy="46.1" r="0.45" fill="#b0307a" opacity="0.5"/>
<circle cx="89.8" cy="46.8" r="0.45" fill="#b0307a" opacity="0.5"/>
<circle cx="138.0" cy="46.5" r="0.45" fill="#b0307a" opacity="0.5"/>
<circle cx="83.3" cy="49.2" r="0.45" fill="#b0307a" opacity="0.5"/>
<circle cx="140.6" cy="44.4" r="0.45" fill="#b0307a" opacity="0.5"/>
<circle cx="147.1" cy="44.4" r="0.45" fill="#b0307a" opacity="0.5"/>
<circle cx="128.0" cy="46.3" r="0.45" fill="#b0307a" opacity="0.5"/>
<circle cx="130.2" cy="45.4" r="0.45" fill="#b0307a" opacity="0.5"/>
<circle cx="113.6" cy="47.3" r="0.45" fill="#b0307a" opacity="0.5"/>
<circle cx="114.1" cy="47.6" r="0.45" fill="#b0307a" opacity="0.5"/>
<circle cx="115.7" cy="46.6" r="0.45" fill="#b0307a" opacity="0.5"/>
<circle cx="81.9" cy="49.7" r="0.45" fill="#b0307a" opacity="0.5"/>
<circle cx="119.2" cy="45.6" r="0.45" fill="#b0307a" opacity="0.5"/>
<circle cx="141.1" cy="45.9" r="0.45" fill="#b0307a" opacity="0.5"/>
<circle cx="116.7" cy="45.5" r="0.45" fill="#b0307a" opacity="0.5"/>
<circle cx="117.9" cy="45.2" r="0.45" fill="#b0307a" opacity="0.5"/>
<circle cx="90.3" cy="48.0" r="0.45" fill="#b0307a" opacity="0.5"/>
<circle cx="87.3" cy="48.2" r="0.45" fill="#b0307a" opacity="0.5"/>
<circle cx="120.8" cy="44.8" r="0.45" fill="#b0307a" opacity="0.5"/>
<circle cx="130.9" cy="44.7" r="0.45" fill="#b0307a" opacity="0.5"/>
<circle cx="138.7" cy="46.1" r="0.45" fill="#b0307a" opacity="0.5"/>
<circle cx="120.9" cy="44.9" r="0.45" fill="#b0307a" opacity="0.5"/>
<circle cx="120.3" cy="46.1" r="0.45" fill="#b0307a" opacity="0.5"/>
<circle cx="156.1" cy="44.1" r="0.45" fill="#b0307a" opacity="0.5"/>
<circle cx="148.6" cy="45.6" r="0.45" fill="#b0307a" opacity="0.5"/>
<circle cx="138.6" cy="46.2" r="0.45" fill="#b0307a" opacity="0.5"/>
<circle cx="95.5" cy="50.8" r="0.45" fill="#b0307a" opacity="0.5"/>
<circle cx="119.3" cy="48.4" r="0.45" fill="#b0307a" opacity="0.5"/>
<circle cx="153.3" cy="44.2" r="0.45" fill="#b0307a" opacity="0.5"/>
<circle cx="143.1" cy="46.1" r="0.45" fill="#b0307a" opacity="0.5"/>
<circle cx="85.2" cy="47.7" r="0.45" fill="#b0307a" opacity="0.5"/>
<circle cx="140.5" cy="44.6" r="0.45" fill="#b0307a" opacity="0.5"/>
<circle cx="151.7" cy="44.4" r="0.45" fill="#b0307a" opacity="0.5"/>
<circle cx="145.3" cy="44.5" r="0.45" fill="#b0307a" opacity="0.5"/>
<circle cx="120.2" cy="48.2" r="0.45" fill="#b0307a" opacity="0.5"/>
<circle cx="96.7" cy="46.7" r="0.45" fill="#b0307a" opacity="0.5"/>
<circle cx="120.5" cy="45.9" r="0.45" fill="#b0307a" opacity="0.5"/>
<circle cx="82.9" cy="46.7" r="0.45" fill="#b0307a" opacity="0.5"/>
<circle cx="92.9" cy="50.8" r="0.45" fill="#b0307a" opacity="0.5"/>
<circle cx="134.4" cy="46.8" r="0.45" fill="#b0307a" opacity="0.5"/>
<circle cx="93.5" cy="49.9" r="0.45" fill="#b0307a" opacity="0.5"/>
<circle cx="89.2" cy="48.6" r="0.45" fill="#b0307a" opacity="0.5"/>
<circle cx="130.9" cy="45.5" r="0.45" fill="#b0307a" opacity="0.5"/>
<circle cx="149.8" cy="44.9" r="0.45" fill="#b0307a" opacity="0.5"/>
<circle cx="126.4" cy="47.5" r="0.45" fill="#b0307a" opacity="0.5"/>
<circle cx="88.4" cy="51.6" r="0.45" fill="#b0307a" opacity="0.5"/>
<circle cx="130.4" cy="45.7" r="0.45" fill="#b0307a" opacity="0.5"/>
<circle cx="143.8" cy="44.7" r="0.45" fill="#b0307a" opacity="0.5"/>
<circle cx="159.2" cy="44.3" r="0.45" fill="#b0307a" opacity="0.5"/>
<circle cx="108.8" cy="48.5" r="0.45" fill="#b0307a" opacity="0.5"/>
<circle cx="115.4" cy="45.5" r="0.45" fill="#b0307a" opacity="0.5"/>
<circle cx="139.5" cy="44.4" r="0.45" fill="#b0307a" opacity="0.5"/>
<circle cx="145.6" cy="44.6" r="0.45" fill="#b0307a" opacity="0.5"/>
<circle cx="131.1" cy="47.3" r="0.45" fill="#b0307a" opacity="0.5"/>
<circle cx="126.9" cy="46.7" r="0.45" fill="#b0307a" opacity="0.5"/>
<circle cx="105.0" cy="45.0" r="0.45" fill="#b0307a" opacity="0.5"/>
<circle cx="82.7" cy="46.5" r="0.45" fill="#b0307a" opacity="0.5"/>
<circle cx="129.3" cy="45.8" r="0.45" fill="#b0307a" opacity="0.5"/>
<circle cx="121.0" cy="48.0" r="0.45" fill="#b0307a" opacity="0.5"/>
<circle cx="90.6" cy="46.7" r="0.45" fill="#b0307a" opacity="0.5"/>
<circle cx="132.2" cy="44.5" r="0.45" fill="#b0307a" opacity="0.5"/>
<circle cx="80.2" cy="48.0" r="0.45" fill="#b0307a" opacity="0.5"/>
<circle cx="88.5" cy="47.6" r="0.45" fill="#b0307a" opacity="0.5"/>
<circle cx="74.7" cy="62.3" r="0.4" fill="#50508a" opacity="0.7"/>
<circle cx="79.1" cy="61.8" r="0.4" fill="#50508a" opacity="0.7"/>
<circle cx="79.5" cy="62.2" r="0.4" fill="#50508a" opacity="0.7"/>
<circle cx="73.6" cy="62.7" r="0.4" fill="#50508a" opacity="0.7"/>
<circle cx="74.9" cy="61.8" r="0.4" fill="#50508a" opacity="0.7"/>
<circle cx="73.1" cy="62.4" r="0.4" fill="#50508a" opacity="0.7"/>
<circle cx="82.5" cy="62.5" r="0.4" fill="#50508a" opacity="0.7"/>
<circle cx="76.8" cy="61.9" r="0.4" fill="#50508a" opacity="0.7"/>
<circle cx="72.1" cy="62.4" r="0.4" fill="#50508a" opacity="0.7"/>
<circle cx="78.7" cy="62.0" r="0.4" fill="#50508a" opacity="0.7"/>
<circle cx="79.7" cy="62.1" r="0.4" fill="#50508a" opacity="0.7"/>
<circle cx="83.2" cy="62.5" r="0.4" fill="#50508a" opacity="0.7"/>
<circle cx="75.0" cy="62.7" r="0.4" fill="#50508a" opacity="0.7"/>
<circle cx="72.5" cy="62.2" r="0.4" fill="#50508a" opacity="0.7"/>
<circle cx="82.9" cy="72.7" r="0.4" fill="#50508a" opacity="0.7"/>
<circle cx="78.7" cy="73.5" r="0.4" fill="#50508a" opacity="0.7"/>
<circle cx="78.1" cy="73.2" r="0.4" fill="#50508a" opacity="0.7"/>
<circle cx="89.3" cy="72.6" r="0.4" fill="#50508a" opacity="0.7"/>
<circle cx="80.4" cy="73.3" r="0.4" fill="#50508a" opacity="0.7"/>
<circle cx="84.1" cy="73.3" r="0.4" fill="#50508a" opacity="0.7"/>
<circle cx="87.8" cy="72.6" r="0.4" fill="#50508a" opacity="0.7"/>
<circle cx="81.7" cy="72.8" r="0.4" fill="#50508a" opacity="0.7"/>
<circle cx="78.6" cy="73.6" r="0.4" fill="#50508a" opacity="0.7"/>
<circle cx="87.4" cy="73.4" r="0.4" fill="#50508a" opacity="0.7"/>
<circle cx="78.1" cy="73.6" r="0.4" fill="#50508a" opacity="0.7"/>
<circle cx="86.9" cy="73.1" r="0.4" fill="#50508a" opacity="0.7"/>
<circle cx="86.9" cy="73.0" r="0.4" fill="#50508a" opacity="0.7"/>
<circle cx="80.7" cy="72.5" r="0.4" fill="#50508a" opacity="0.7"/>
</g>
<line x1="40.2" y1="29.49" x2="43.5" y2="29.49" stroke="#222" stroke-width="0.8"/>
<line x1="40.2" y1="33.76" x2="43.5" y2="33.76" stroke="#222" stroke-width="0.8"/>
<line x1="40.2" y1="38.03" x2="43.5" y2="38.03" stroke="#222" stroke-width="0.8"/>
<line x1="40.2" y1="42.3" x2="43.5" y2="42.3" stroke="#222" stroke-width="0.8"/>
<line x1="40.2" y1="46.56999999999999" x2="43.5" y2="46.56999999999999" stroke="#222" stroke-width="0.8"/>
<line x1="40.2" y1="50.839999999999996" x2="43.5" y2="50.839999999999996" stroke="#222" stroke-width="0.8"/>
<line x1="40.2" y1="55.11" x2="43.5" y2="55.11" stroke="#222" stroke-width="0.8"/>
<line x1="40.2" y1="59.379999999999995" x2="43.5" y2="59.379999999999995" stroke="#222" stroke-width="0.8"/>
<line x1="40.2" y1="63.64999999999999" x2="43.5" y2="63.64999999999999" stroke="#222" stroke-width="0.8"/>
<line x1="40.2" y1="67.91999999999999" x2="43.5" y2="67.91999999999999" stroke="#222" stroke-width="0.8"/>
<line x1="40.2" y1="72.19" x2="43.5" y2="72.19" stroke="#222" stroke-width="0.8"/>
<line x1="40.2" y1="76.46" x2="43.5" y2="76.46" stroke="#222" stroke-width="0.8"/>
<text x="37.4" y="31.79" font-size="6.7" fill="#333" stroke="#333" stroke-width="0.067" text-anchor="end">3</text>
<text x="37.4" y="44.599999999999994" font-size="6.7" fill="#333" stroke="#333" stroke-width="0.067" text-anchor="end">0</text>
<text x="37.4" y="61.67999999999999" font-size="6.7" fill="#333" stroke="#333" stroke-width="0.067" text-anchor="end">&#8211;4</text>
<text x="37.4" y="78.75999999999999" font-size="6.7" fill="#333" stroke="#333" stroke-width="0.067" text-anchor="end">&#8211;8</text>
<line x1="47.75" y1="78" x2="47.75" y2="81" stroke="#222" stroke-width="0.8"/>
<text x="47.75" y="90.2" font-size="6.8" fill="#333" stroke="#333" stroke-width="0.068" text-anchor="middle">1</text>
<line x1="62.3" y1="78" x2="62.3" y2="81" stroke="#222" stroke-width="0.8"/>
<text x="62.3" y="90.2" font-size="6.8" fill="#333" stroke="#333" stroke-width="0.068" text-anchor="middle">2</text>
<line x1="76.85" y1="78" x2="76.85" y2="81" stroke="#222" stroke-width="0.8"/>
<text x="76.85" y="90.2" font-size="6.8" fill="#333" stroke="#333" stroke-width="0.068" text-anchor="middle">3</text>
<line x1="91.4" y1="78" x2="91.4" y2="81" stroke="#222" stroke-width="0.8"/>
<text x="91.4" y="90.2" font-size="6.8" fill="#333" stroke="#333" stroke-width="0.068" text-anchor="middle">4</text>
<line x1="105.95" y1="78" x2="105.95" y2="81" stroke="#222" stroke-width="0.8"/>
<text x="105.95" y="90.2" font-size="6.8" fill="#333" stroke="#333" stroke-width="0.068" text-anchor="middle">5</text>
<line x1="120.5" y1="78" x2="120.5" y2="81" stroke="#222" stroke-width="0.8"/>
<text x="120.5" y="90.2" font-size="6.8" fill="#333" stroke="#333" stroke-width="0.068" text-anchor="middle">6</text>
<line x1="135.05" y1="78" x2="135.05" y2="81" stroke="#222" stroke-width="0.8"/>
<text x="135.05" y="90.2" font-size="6.8" fill="#333" stroke="#333" stroke-width="0.068" text-anchor="middle">7</text>
<line x1="149.60000000000002" y1="78" x2="149.60000000000002" y2="81" stroke="#222" stroke-width="0.8"/>
<text x="149.60000000000002" y="90.2" font-size="6.8" fill="#333" stroke="#333" stroke-width="0.068" text-anchor="middle">8</text>
<line x1="164.15" y1="78" x2="164.15" y2="81" stroke="#222" stroke-width="0.8"/>
<text x="164.15" y="90.2" font-size="6.8" fill="#333" stroke="#333" stroke-width="0.068" text-anchor="middle">9</text>
<rect x="43.5" y="27.5" width="125.5" height="50.5" fill="none" stroke="#111" stroke-width="1.1"/>
<text x="105.85" y="13.9" font-size="8.9" fill="#222" stroke="#222" stroke-width="0.089" text-anchor="middle" textLength="17.6" lengthAdjust="spacingAndGlyphs">KLF1</text>
<text x="107" y="22.4" font-size="5.1" fill="#333" text-anchor="middle" textLength="103" lengthAdjust="spacingAndGlyphs">KO <tspan font-style="italic">GATA2AS</tspan> vs. KO <tspan font-style="italic">control</tspan> (1027 FDR &lt;0.05)</text>
<text x="145.2" y="35.6" font-size="6.5" fill="#222" stroke="#222" stroke-width="0.065" text-anchor="middle" textLength="11" lengthAdjust="spacingAndGlyphs">1 up</text>
<text x="168.4" y="72.4" font-size="6.5" fill="#222" stroke="#222" stroke-width="0.065" text-anchor="end" textLength="29.4" lengthAdjust="spacingAndGlyphs">1026 down</text>
<text x="77.7" y="101.6" font-size="7.9" fill="#333" stroke="#333" stroke-width="0.079" textLength="56" lengthAdjust="spacingAndGlyphs">Log<tspan font-size="5.4" dy="1.8">2</tspan><tspan dy="-1.8"> concentration</tspan></text>
<text transform="translate(22.6,78.4) rotate(-90)" font-size="8.0" fill="#333" stroke="#333" stroke-width="0.15" textLength="50.4" lengthAdjust="spacingAndGlyphs">Log<tspan font-size="5.4" dy="1.8">2</tspan><tspan dy="-1.8"> fold change</tspan></text>
<path d="M56,155 L60,148 L66,143 L75,141.5 L90,142.5 L110,144.5 L130,146.3 L153,148 L153,153.5 L130,155.5 L110,157.0 L90,159.5 L75,161.5 L64,163 L57,160 Z" fill="#d5eaf6" stroke="none" stroke-width="1" filter="url(#b2)" opacity="0.9"/>
<line x1="43.4" y1="148.2" x2="166.9" y2="148.2" stroke="#a9bfdc" stroke-width="0.8"/>
<path d="M61,150 L63,146 L66,142.5 L72,141.4 L80,141.2 L92,141.8 L105,144.2 L124,146.6 L140,148.5 L152,151 L152,152.5 L130,152.0 L105,152.5 L85,153.6 L72,156.5 L64,158 Z" fill="#4fafe0" stroke="none" stroke-width="1" filter="url(#b1)" opacity="1"/>
<path d="M70,150 L78,148.0 L90,148.0 L105,148.8 L124,149.6 L140,150.6 L124,151.6 L100,152.4 L80,153.5 L70,154 Z" fill="#1a5aa0" stroke="none" stroke-width="1" filter="url(#b1)" opacity="0.85"/>
<path d="M66,159 L67,156.8 L70,155.4 L80,154.6 L90,154.0 L110,153.2 L124,152.4 L141,152.0 L143,152.8 L124,155.6 L116,156.6 L105,157.8 L90,159.4 L75,160.6 L69,160.9 L67,160.4 Z" fill="#e02f88" stroke="none" stroke-width="1" filter="url(#b05)" opacity="1"/>
<circle cx="66.2" cy="144.6" r="0.45" fill="#3a3f8a" opacity="0.75"/>
<circle cx="70.8" cy="159.6" r="0.45" fill="#3a3f8a" opacity="0.75"/>
<circle cx="86.6" cy="158.9" r="0.45" fill="#3a3f8a" opacity="0.75"/>
<circle cx="87.3" cy="147.7" r="0.45" fill="#3a3f8a" opacity="0.75"/>
<circle cx="80.4" cy="151.8" r="0.45" fill="#3a3f8a" opacity="0.75"/>
<circle cx="90.7" cy="152.2" r="0.45" fill="#3a3f8a" opacity="0.75"/>
<circle cx="67.7" cy="157.8" r="0.45" fill="#3a3f8a" opacity="0.75"/>
<circle cx="98.5" cy="145.9" r="0.45" fill="#3a3f8a" opacity="0.75"/>
<circle cx="94.7" cy="142.5" r="0.45" fill="#3a3f8a" opacity="0.75"/>
<circle cx="67.5" cy="148.8" r="0.45" fill="#3a3f8a" opacity="0.75"/>
<circle cx="88.7" cy="160.4" r="0.45" fill="#3a3f8a" opacity="0.75"/>
<circle cx="88.8" cy="148.7" r="0.45" fill="#3a3f8a" opacity="0.75"/>
<circle cx="94.7" cy="148.2" r="0.45" fill="#3a3f8a" opacity="0.75"/>
<circle cx="66.5" cy="163.8" r="0.45" fill="#3a3f8a" opacity="0.75"/>
<circle cx="83.8" cy="156.4" r="0.45" fill="#3a3f8a" opacity="0.75"/>
<circle cx="85.3" cy="161.7" r="0.45" fill="#3a3f8a" opacity="0.75"/>
<circle cx="76.7" cy="160.6" r="0.45" fill="#3a3f8a" opacity="0.75"/>
<circle cx="86.7" cy="159.1" r="0.45" fill="#3a3f8a" opacity="0.75"/>
<circle cx="75.2" cy="158.4" r="0.45" fill="#3a3f8a" opacity="0.75"/>
<circle cx="81.1" cy="149.1" r="0.45" fill="#3a3f8a" opacity="0.75"/>
<circle cx="65.3" cy="157.7" r="0.45" fill="#3a3f8a" opacity="0.75"/>
<circle cx="59.4" cy="165.2" r="0.45" fill="#3a3f8a" opacity="0.75"/>
<circle cx="62.4" cy="144.5" r="0.45" fill="#3a3f8a" opacity="0.75"/>
<circle cx="60.7" cy="165.4" r="0.45" fill="#3a3f8a" opacity="0.75"/>
<circle cx="71.2" cy="146.5" r="0.45" fill="#3a3f8a" opacity="0.75"/>
<circle cx="57.3" cy="145.1" r="0.45" fill="#3a3f8a" opacity="0.75"/>
<circle cx="86.5" cy="154.9" r="0.45" fill="#3a3f8a" opacity="0.75"/>
<circle cx="86.7" cy="156.8" r="0.45" fill="#3a3f8a" opacity="0.75"/>
<circle cx="58.9" cy="157.9" r="0.45" fill="#3a3f8a" opacity="0.75"/>
<circle cx="72.0" cy="160.9" r="0.45" fill="#3a3f8a" opacity="0.75"/>
<circle cx="92.1" cy="158.8" r="0.45" fill="#3a3f8a" opacity="0.75"/>
<circle cx="58.9" cy="164.3" r="0.45" fill="#3a3f8a" opacity="0.75"/>
<circle cx="96.2" cy="159.0" r="0.45" fill="#3a3f8a" opacity="0.75"/>
<circle cx="60.7" cy="148.7" r="0.45" fill="#3a3f8a" opacity="0.75"/>
<circle cx="60.9" cy="144.7" r="0.45" fill="#3a3f8a" opacity="0.75"/>
<circle cx="93.3" cy="157.1" r="0.45" fill="#3a3f8a" opacity="0.75"/>
<circle cx="83.9" cy="159.0" r="0.45" fill="#3a3f8a" opacity="0.75"/>
<circle cx="83.8" cy="148.5" r="0.45" fill="#3a3f8a" opacity="0.75"/>
<circle cx="60.4" cy="146.2" r="0.45" fill="#3a3f8a" opacity="0.75"/>
<circle cx="89.3" cy="146.4" r="0.45" fill="#3a3f8a" opacity="0.75"/>
<circle cx="70.0" cy="152.7" r="0.45" fill="#3a3f8a" opacity="0.75"/>
<circle cx="56.9" cy="150.2" r="0.45" fill="#3a3f8a" opacity="0.75"/>
<circle cx="68.4" cy="159.3" r="0.45" fill="#3a3f8a" opacity="0.75"/>
<circle cx="72.2" cy="150.2" r="0.45" fill="#3a3f8a" opacity="0.75"/>
<circle cx="98.4" cy="150.9" r="0.45" fill="#3a3f8a" opacity="0.75"/>
<circle cx="93.5" cy="153.6" r="0.45" fill="#3a3f8a" opacity="0.75"/>
<circle cx="57.4" cy="153.9" r="0.45" fill="#3a3f8a" opacity="0.75"/>
<circle cx="75.2" cy="159.4" r="0.45" fill="#3a3f8a" opacity="0.75"/>
<circle cx="71.3" cy="158.6" r="0.45" fill="#3a3f8a" opacity="0.75"/>
<circle cx="79.7" cy="147.4" r="0.45" fill="#3a3f8a" opacity="0.75"/>
<circle cx="93.9" cy="143.9" r="0.45" fill="#3a3f8a" opacity="0.75"/>
<circle cx="92.1" cy="145.5" r="0.45" fill="#3a3f8a" opacity="0.75"/>
<circle cx="56.1" cy="149.0" r="0.45" fill="#3a3f8a" opacity="0.75"/>
<circle cx="89.5" cy="160.9" r="0.45" fill="#3a3f8a" opacity="0.75"/>
<circle cx="56.2" cy="155.9" r="0.45" fill="#3a3f8a" opacity="0.75"/>
<circle cx="77.6" cy="159.5" r="0.45" fill="#3a3f8a" opacity="0.75"/>
<circle cx="64.1" cy="155.0" r="0.45" fill="#3a3f8a" opacity="0.75"/>
<circle cx="71.3" cy="161.3" r="0.45" fill="#3a3f8a" opacity="0.75"/>
<circle cx="67.5" cy="164.5" r="0.45" fill="#3a3f8a" opacity="0.75"/>
<circle cx="68.5" cy="148.3" r="0.45" fill="#3a3f8a" opacity="0.75"/>
<circle cx="86.8" cy="152.2" r="0.45" fill="#3a3f8a" opacity="0.75"/>
<circle cx="60.8" cy="158.6" r="0.45" fill="#3a3f8a" opacity="0.75"/>
<circle cx="59.6" cy="162.4" r="0.45" fill="#3a3f8a" opacity="0.75"/>
<circle cx="86.7" cy="157.8" r="0.45" fill="#3a3f8a" opacity="0.75"/>
<circle cx="83.6" cy="149.8" r="0.45" fill="#3a3f8a" opacity="0.75"/>
<circle cx="73.7" cy="151.7" r="0.45" fill="#3a3f8a" opacity="0.75"/>
<circle cx="95.2" cy="143.8" r="0.45" fill="#3a3f8a" opacity="0.75"/>
<circle cx="95.1" cy="142.7" r="0.45" fill="#3a3f8a" opacity="0.75"/>
<circle cx="65.1" cy="149.7" r="0.45" fill="#3a3f8a" opacity="0.75"/>
<circle cx="95.7" cy="151.2" r="0.45" fill="#3a3f8a" opacity="0.75"/>
<circle cx="72.7" cy="162.2" r="0.45" fill="#3a3f8a" opacity="0.75"/>
<circle cx="66.3" cy="153.9" r="0.45" fill="#3a3f8a" opacity="0.75"/>
<circle cx="79.4" cy="158.3" r="0.45" fill="#3a3f8a" opacity="0.75"/>
<circle cx="89.1" cy="154.7" r="0.45" fill="#3a3f8a" opacity="0.75"/>
<circle cx="71.3" cy="150.5" r="0.45" fill="#3a3f8a" opacity="0.75"/>
<circle cx="62.8" cy="163.1" r="0.45" fill="#3a3f8a" opacity="0.75"/>
<circle cx="85.1" cy="157.2" r="0.45" fill="#3a3f8a" opacity="0.75"/>
<circle cx="63.5" cy="153.8" r="0.45" fill="#3a3f8a" opacity="0.75"/>
<circle cx="90.0" cy="153.3" r="0.45" fill="#3a3f8a" opacity="0.75"/>
<circle cx="61.5" cy="154.5" r="0.45" fill="#3a3f8a" opacity="0.75"/>
<circle cx="94.9" cy="146.5" r="0.45" fill="#3a3f8a" opacity="0.75"/>
<circle cx="64.4" cy="150.6" r="0.45" fill="#3a3f8a" opacity="0.75"/>
<circle cx="86.9" cy="158.8" r="0.45" fill="#3a3f8a" opacity="0.75"/>
<circle cx="62.8" cy="147.4" r="0.45" fill="#3a3f8a" opacity="0.75"/>
<circle cx="66.9" cy="150.9" r="0.45" fill="#3a3f8a" opacity="0.75"/>
<circle cx="79.0" cy="146.3" r="0.45" fill="#3a3f8a" opacity="0.75"/>
<circle cx="70.4" cy="147.6" r="0.45" fill="#3a3f8a" opacity="0.75"/>
<circle cx="98.9" cy="154.7" r="0.45" fill="#3a3f8a" opacity="0.75"/>
<circle cx="60.5" cy="166.2" r="0.45" fill="#3a3f8a" opacity="0.75"/>
<circle cx="60.5" cy="152.9" r="0.45" fill="#3a3f8a" opacity="0.75"/>
<circle cx="99.3" cy="155.8" r="0.45" fill="#3a3f8a" opacity="0.75"/>
<circle cx="88.3" cy="150.8" r="0.45" fill="#3a3f8a" opacity="0.75"/>
<circle cx="64.6" cy="158.1" r="0.45" fill="#3a3f8a" opacity="0.75"/>
<circle cx="60.7" cy="148.7" r="0.45" fill="#3a3f8a" opacity="0.75"/>
<circle cx="73.1" cy="144.1" r="0.45" fill="#3a3f8a" opacity="0.75"/>
<circle cx="73.6" cy="160.1" r="0.45" fill="#3a3f8a" opacity="0.75"/>
<circle cx="86.5" cy="152.3" r="0.45" fill="#3a3f8a" opacity="0.75"/>
<circle cx="83.8" cy="151.9" r="0.45" fill="#3a3f8a" opacity="0.75"/>
<circle cx="62.2" cy="157.7" r="0.45" fill="#3a3f8a" opacity="0.75"/>
<circle cx="73.8" cy="159.0" r="0.45" fill="#3a3f8a" opacity="0.75"/>
<circle cx="96.0" cy="149.9" r="0.45" fill="#3a3f8a" opacity="0.75"/>
<circle cx="81.3" cy="157.9" r="0.45" fill="#3a3f8a" opacity="0.75"/>
<circle cx="74.5" cy="148.1" r="0.45" fill="#3a3f8a" opacity="0.75"/>
<circle cx="87.8" cy="159.4" r="0.45" fill="#3a3f8a" opacity="0.75"/>
<circle cx="90.1" cy="155.6" r="0.45" fill="#3a3f8a" opacity="0.75"/>
<circle cx="93.5" cy="154.7" r="0.45" fill="#3a3f8a" opacity="0.75"/>
<circle cx="84.2" cy="151.7" r="0.45" fill="#3a3f8a" opacity="0.75"/>
<circle cx="69.8" cy="157.2" r="0.45" fill="#3a3f8a" opacity="0.75"/>
<circle cx="60.3" cy="153.7" r="0.45" fill="#3a3f8a" opacity="0.75"/>
<circle cx="90.4" cy="155.8" r="0.45" fill="#3a3f8a" opacity="0.75"/>
<circle cx="83.7" cy="147.7" r="0.45" fill="#3a3f8a" opacity="0.75"/>
<circle cx="74.6" cy="152.8" r="0.45" fill="#3a3f8a" opacity="0.75"/>
<circle cx="83.3" cy="150.9" r="0.45" fill="#3a3f8a" opacity="0.75"/>
<circle cx="85.7" cy="160.7" r="0.45" fill="#3a3f8a" opacity="0.75"/>
<circle cx="64.1" cy="158.6" r="0.45" fill="#3a3f8a" opacity="0.75"/>
<circle cx="90.2" cy="149.7" r="0.45" fill="#3a3f8a" opacity="0.75"/>
<circle cx="77.6" cy="163.2" r="0.45" fill="#3a3f8a" opacity="0.75"/>
<circle cx="57.7" cy="156.9" r="0.45" fill="#3a3f8a" opacity="0.75"/>
<circle cx="63.1" cy="161.6" r="0.45" fill="#3a3f8a" opacity="0.75"/>
<circle cx="97.4" cy="151.3" r="0.45" fill="#3a3f8a" opacity="0.75"/>
<circle cx="60.4" cy="157.3" r="0.45" fill="#3a3f8a" opacity="0.75"/>
<circle cx="79.8" cy="157.5" r="0.45" fill="#3a3f8a" opacity="0.75"/>
<circle cx="78.5" cy="156.1" r="0.45" fill="#3a3f8a" opacity="0.75"/>
<circle cx="92.5" cy="151.9" r="0.45" fill="#3a3f8a" opacity="0.75"/>
<circle cx="74.1" cy="163.3" r="0.45" fill="#3a3f8a" opacity="0.75"/>
<circle cx="65.2" cy="159.1" r="0.45" fill="#3a3f8a" opacity="0.75"/>
<circle cx="73.3" cy="159.5" r="0.45" fill="#3a3f8a" opacity="0.75"/>
<circle cx="61.4" cy="166.6" r="0.45" fill="#3a3f8a" opacity="0.75"/>
<circle cx="71.6" cy="144.6" r="0.45" fill="#3a3f8a" opacity="0.75"/>
<circle cx="68.1" cy="152.4" r="0.45" fill="#3a3f8a" opacity="0.75"/>
<circle cx="56.6" cy="154.1" r="0.45" fill="#3a3f8a" opacity="0.75"/>
<circle cx="74.5" cy="158.0" r="0.45" fill="#3a3f8a" opacity="0.75"/>
<circle cx="71.5" cy="149.1" r="0.45" fill="#3a3f8a" opacity="0.75"/>
<circle cx="65.9" cy="160.3" r="0.45" fill="#3a3f8a" opacity="0.75"/>
<circle cx="97.4" cy="151.4" r="0.45" fill="#3a3f8a" opacity="0.75"/>
<circle cx="65.6" cy="161.6" r="0.45" fill="#3a3f8a" opacity="0.75"/>
<circle cx="73.2" cy="147.8" r="0.45" fill="#3a3f8a" opacity="0.75"/>
<circle cx="61.7" cy="161.7" r="0.45" fill="#3a3f8a" opacity="0.75"/>
<circle cx="91.6" cy="154.1" r="0.45" fill="#3a3f8a" opacity="0.75"/>
<circle cx="76.6" cy="154.8" r="0.45" fill="#3a3f8a" opacity="0.75"/>
<circle cx="65.9" cy="165.2" r="0.45" fill="#3a3f8a" opacity="0.75"/>
<circle cx="71.5" cy="157.1" r="0.45" fill="#3a3f8a" opacity="0.75"/>
<circle cx="92.0" cy="157.4" r="0.45" fill="#3a3f8a" opacity="0.75"/>
<circle cx="76.6" cy="149.3" r="0.45" fill="#3a3f8a" opacity="0.75"/>
<circle cx="80.1" cy="145.5" r="0.45" fill="#3a3f8a" opacity="0.75"/>
<circle cx="92.7" cy="148.9" r="0.45" fill="#3a3f8a" opacity="0.75"/>
<circle cx="93.4" cy="147.2" r="0.45" fill="#3a3f8a" opacity="0.75"/>
<circle cx="72.6" cy="148.8" r="0.45" fill="#3a3f8a" opacity="0.75"/>
<circle cx="74.7" cy="147.2" r="0.45" fill="#3a3f8a" opacity="0.75"/>
<circle cx="56.1" cy="161.4" r="0.45" fill="#3a3f8a" opacity="0.75"/>
<circle cx="116.3" cy="150.1" r="0.4" fill="#5a5fa0" opacity="0.55"/>
<circle cx="117.5" cy="151.2" r="0.4" fill="#5a5fa0" opacity="0.55"/>
<circle cx="124.9" cy="151.9" r="0.4" fill="#5a5fa0" opacity="0.55"/>
<circle cx="138.2" cy="150.6" r="0.4" fill="#5a5fa0" opacity="0.55"/>
<circle cx="153.9" cy="152.8" r="0.4" fill="#5a5fa0" opacity="0.55"/>
<circle cx="103.3" cy="152.7" r="0.4" fill="#5a5fa0" opacity="0.55"/>
<circle cx="152.5" cy="152.5" r="0.4" fill="#5a5fa0" opacity="0.55"/>
<circle cx="108.1" cy="152.7" r="0.4" fill="#5a5fa0" opacity="0.55"/>
<circle cx="136.7" cy="149.1" r="0.4" fill="#5a5fa0" opacity="0.55"/>
<circle cx="100.7" cy="153.3" r="0.4" fill="#5a5fa0" opacity="0.55"/>
<circle cx="138.0" cy="150.1" r="0.4" fill="#5a5fa0" opacity="0.55"/>
<circle cx="105.9" cy="149.6" r="0.4" fill="#5a5fa0" opacity="0.55"/>
<circle cx="113.6" cy="152.5" r="0.4" fill="#5a5fa0" opacity="0.55"/>
<circle cx="120.1" cy="149.7" r="0.4" fill="#5a5fa0" opacity="0.55"/>
<circle cx="152.4" cy="152.6" r="0.4" fill="#5a5fa0" opacity="0.55"/>
<circle cx="109.7" cy="153.0" r="0.4" fill="#5a5fa0" opacity="0.55"/>
<circle cx="135.3" cy="152.5" r="0.4" fill="#5a5fa0" opacity="0.55"/>
<circle cx="138.8" cy="153.0" r="0.4" fill="#5a5fa0" opacity="0.55"/>
<circle cx="145.7" cy="152.8" r="0.4" fill="#5a5fa0" opacity="0.55"/>
<circle cx="111.4" cy="152.1" r="0.4" fill="#5a5fa0" opacity="0.55"/>
<circle cx="130.8" cy="152.3" r="0.4" fill="#5a5fa0" opacity="0.55"/>
<circle cx="125.4" cy="153.0" r="0.4" fill="#5a5fa0" opacity="0.55"/>
<circle cx="132.2" cy="150.2" r="0.4" fill="#5a5fa0" opacity="0.55"/>
<circle cx="113.6" cy="149.6" r="0.4" fill="#5a5fa0" opacity="0.55"/>
<circle cx="128.6" cy="149.3" r="0.4" fill="#5a5fa0" opacity="0.55"/>
<circle cx="127.1" cy="149.6" r="0.4" fill="#5a5fa0" opacity="0.55"/>
<circle cx="128.5" cy="151.2" r="0.4" fill="#5a5fa0" opacity="0.55"/>
<circle cx="131.3" cy="152.9" r="0.4" fill="#5a5fa0" opacity="0.55"/>
<circle cx="100.4" cy="152.8" r="0.4" fill="#5a5fa0" opacity="0.55"/>
<circle cx="127.1" cy="151.5" r="0.4" fill="#5a5fa0" opacity="0.55"/>
<circle cx="138.6" cy="152.8" r="0.4" fill="#5a5fa0" opacity="0.55"/>
<circle cx="121.7" cy="150.9" r="0.4" fill="#5a5fa0" opacity="0.55"/>
<circle cx="155.7" cy="149.3" r="0.4" fill="#5a5fa0" opacity="0.55"/>
<circle cx="136.9" cy="151.9" r="0.4" fill="#5a5fa0" opacity="0.55"/>
<circle cx="101.7" cy="151.7" r="0.4" fill="#5a5fa0" opacity="0.55"/>
<circle cx="139.6" cy="153.2" r="0.4" fill="#5a5fa0" opacity="0.55"/>
<circle cx="119.2" cy="153.4" r="0.4" fill="#5a5fa0" opacity="0.55"/>
<circle cx="129.6" cy="151.2" r="0.4" fill="#5a5fa0" opacity="0.55"/>
<circle cx="152.1" cy="149.2" r="0.4" fill="#5a5fa0" opacity="0.55"/>
<circle cx="141.7" cy="151.8" r="0.4" fill="#5a5fa0" opacity="0.55"/>
<circle cx="119.6" cy="152.9" r="0.4" fill="#5a5fa0" opacity="0.55"/>
<circle cx="121.2" cy="151.1" r="0.4" fill="#5a5fa0" opacity="0.55"/>
<circle cx="130.5" cy="152.5" r="0.4" fill="#5a5fa0" opacity="0.55"/>
<circle cx="112.2" cy="151.0" r="0.4" fill="#5a5fa0" opacity="0.55"/>
<circle cx="124.5" cy="151.5" r="0.4" fill="#5a5fa0" opacity="0.55"/>
<circle cx="148.0" cy="150.3" r="0.4" fill="#5a5fa0" opacity="0.55"/>
<circle cx="148.0" cy="150.8" r="0.4" fill="#5a5fa0" opacity="0.55"/>
<circle cx="129.2" cy="150.2" r="0.4" fill="#5a5fa0" opacity="0.55"/>
<circle cx="129.4" cy="153.4" r="0.4" fill="#5a5fa0" opacity="0.55"/>
<circle cx="138.0" cy="152.6" r="0.4" fill="#5a5fa0" opacity="0.55"/>
<circle cx="119.2" cy="150.4" r="0.4" fill="#5a5fa0" opacity="0.55"/>
<circle cx="117.4" cy="151.6" r="0.4" fill="#5a5fa0" opacity="0.55"/>
<circle cx="136.8" cy="152.5" r="0.4" fill="#5a5fa0" opacity="0.55"/>
<circle cx="102.3" cy="152.3" r="0.4" fill="#5a5fa0" opacity="0.55"/>
<circle cx="151.4" cy="151.5" r="0.4" fill="#5a5fa0" opacity="0.55"/>
<circle cx="102.9" cy="150.4" r="0.4" fill="#5a5fa0" opacity="0.55"/>
<circle cx="100.4" cy="149.9" r="0.4" fill="#5a5fa0" opacity="0.55"/>
<circle cx="153.4" cy="151.7" r="0.4" fill="#5a5fa0" opacity="0.55"/>
<circle cx="138.2" cy="152.6" r="0.4" fill="#5a5fa0" opacity="0.55"/>
<circle cx="152.8" cy="151.8" r="0.4" fill="#5a5fa0" opacity="0.55"/>
<circle cx="135.8" cy="151.8" r="0.4" fill="#5a5fa0" opacity="0.55"/>
<circle cx="140.4" cy="151.7" r="0.4" fill="#5a5fa0" opacity="0.55"/>
<circle cx="139.5" cy="150.0" r="0.4" fill="#5a5fa0" opacity="0.55"/>
<circle cx="138.7" cy="151.1" r="0.4" fill="#5a5fa0" opacity="0.55"/>
<circle cx="144.2" cy="149.5" r="0.4" fill="#5a5fa0" opacity="0.55"/>
<circle cx="110.5" cy="149.2" r="0.4" fill="#5a5fa0" opacity="0.55"/>
<circle cx="144.9" cy="153.1" r="0.4" fill="#5a5fa0" opacity="0.55"/>
<circle cx="138.0" cy="150.7" r="0.4" fill="#5a5fa0" opacity="0.55"/>
<circle cx="147.7" cy="152.5" r="0.4" fill="#5a5fa0" opacity="0.55"/>
<circle cx="132.6" cy="150.2" r="0.4" fill="#5a5fa0" opacity="0.55"/>
<circle cx="84.2" cy="158.4" r="0.45" fill="#7a3a8a" opacity="0.55"/>
<circle cx="85.5" cy="158.4" r="0.45" fill="#7a3a8a" opacity="0.55"/>
<circle cx="111.3" cy="160.4" r="0.45" fill="#7a3a8a" opacity="0.55"/>
<circle cx="64.4" cy="161.5" r="0.45" fill="#7a3a8a" opacity="0.55"/>
<circle cx="63.2" cy="156.3" r="0.45" fill="#7a3a8a" opacity="0.55"/>
<circle cx="124.8" cy="156.6" r="0.45" fill="#7a3a8a" opacity="0.55"/>
<circle cx="133.5" cy="155.2" r="0.45" fill="#7a3a8a" opacity="0.55"/>
<circle cx="61.1" cy="159.6" r="0.45" fill="#7a3a8a" opacity="0.55"/>
<circle cx="107.4" cy="160.8" r="0.45" fill="#7a3a8a" opacity="0.55"/>
<circle cx="138.5" cy="155.0" r="0.45" fill="#7a3a8a" opacity="0.55"/>
<circle cx="93.0" cy="154.9" r="0.45" fill="#7a3a8a" opacity="0.55"/>
<circle cx="111.6" cy="155.0" r="0.45" fill="#7a3a8a" opacity="0.55"/>
<circle cx="72.1" cy="154.8" r="0.45" fill="#7a3a8a" opacity="0.55"/>
<circle cx="60.4" cy="163.2" r="0.45" fill="#7a3a8a" opacity="0.55"/>
<circle cx="69.7" cy="165.5" r="0.45" fill="#7a3a8a" opacity="0.55"/>
<circle cx="67.1" cy="164.7" r="0.45" fill="#7a3a8a" opacity="0.55"/>
<circle cx="70.3" cy="154.9" r="0.45" fill="#7a3a8a" opacity="0.55"/>
<circle cx="117.5" cy="154.9" r="0.45" fill="#7a3a8a" opacity="0.55"/>
<circle cx="118.7" cy="154.5" r="0.45" fill="#7a3a8a" opacity="0.55"/>
<circle cx="64.0" cy="163.9" r="0.45" fill="#7a3a8a" opacity="0.55"/>
<circle cx="117.1" cy="159.2" r="0.45" fill="#7a3a8a" opacity="0.55"/>
<circle cx="118.4" cy="153.8" r="0.45" fill="#7a3a8a" opacity="0.55"/>
<circle cx="110.3" cy="158.8" r="0.45" fill="#7a3a8a" opacity="0.55"/>
<circle cx="96.8" cy="162.0" r="0.45" fill="#7a3a8a" opacity="0.55"/>
<circle cx="80.3" cy="164.2" r="0.45" fill="#7a3a8a" opacity="0.55"/>
<circle cx="117.4" cy="153.4" r="0.45" fill="#7a3a8a" opacity="0.55"/>
<circle cx="61.2" cy="162.7" r="0.45" fill="#7a3a8a" opacity="0.55"/>
<circle cx="125.4" cy="153.5" r="0.45" fill="#7a3a8a" opacity="0.55"/>
<circle cx="84.9" cy="161.4" r="0.45" fill="#7a3a8a" opacity="0.55"/>
<circle cx="73.3" cy="163.9" r="0.45" fill="#7a3a8a" opacity="0.55"/>
<circle cx="98.9" cy="154.3" r="0.45" fill="#7a3a8a" opacity="0.55"/>
<circle cx="89.4" cy="159.5" r="0.45" fill="#7a3a8a" opacity="0.55"/>
<circle cx="95.1" cy="159.9" r="0.45" fill="#7a3a8a" opacity="0.55"/>
<circle cx="71.6" cy="163.4" r="0.45" fill="#7a3a8a" opacity="0.55"/>
<circle cx="89.1" cy="160.2" r="0.45" fill="#7a3a8a" opacity="0.55"/>
<circle cx="110.4" cy="156.6" r="0.45" fill="#7a3a8a" opacity="0.55"/>
<circle cx="90.9" cy="161.3" r="0.45" fill="#7a3a8a" opacity="0.55"/>
<circle cx="135.6" cy="156.8" r="0.45" fill="#7a3a8a" opacity="0.55"/>
<circle cx="105.3" cy="156.0" r="0.45" fill="#7a3a8a" opacity="0.55"/>
<circle cx="64.9" cy="166.1" r="0.45" fill="#7a3a8a" opacity="0.55"/>
<circle cx="116.3" cy="159.1" r="0.45" fill="#7a3a8a" opacity="0.55"/>
<circle cx="86.6" cy="160.0" r="0.45" fill="#7a3a8a" opacity="0.55"/>
<circle cx="138.2" cy="156.8" r="0.45" fill="#7a3a8a" opacity="0.55"/>
<circle cx="108.1" cy="155.9" r="0.45" fill="#7a3a8a" opacity="0.55"/>
<circle cx="94.3" cy="161.9" r="0.45" fill="#7a3a8a" opacity="0.55"/>
<circle cx="90.1" cy="160.5" r="0.45" fill="#7a3a8a" opacity="0.55"/>
<circle cx="108.1" cy="160.4" r="0.45" fill="#7a3a8a" opacity="0.55"/>
<circle cx="124.6" cy="154.8" r="0.45" fill="#7a3a8a" opacity="0.55"/>
<circle cx="60.1" cy="158.1" r="0.45" fill="#7a3a8a" opacity="0.55"/>
<circle cx="93.8" cy="159.2" r="0.45" fill="#7a3a8a" opacity="0.55"/>
<circle cx="125.3" cy="158.5" r="0.45" fill="#7a3a8a" opacity="0.55"/>
<circle cx="63.4" cy="164.6" r="0.45" fill="#7a3a8a" opacity="0.55"/>
<circle cx="124.9" cy="158.4" r="0.45" fill="#7a3a8a" opacity="0.55"/>
<circle cx="105.8" cy="155.8" r="0.45" fill="#7a3a8a" opacity="0.55"/>
<circle cx="128.1" cy="157.7" r="0.45" fill="#7a3a8a" opacity="0.55"/>
<circle cx="114.8" cy="159.8" r="0.45" fill="#7a3a8a" opacity="0.55"/>
<circle cx="87.7" cy="155.0" r="0.45" fill="#7a3a8a" opacity="0.55"/>
<circle cx="104.3" cy="160.1" r="0.45" fill="#7a3a8a" opacity="0.55"/>
<circle cx="76.0" cy="162.4" r="0.45" fill="#7a3a8a" opacity="0.55"/>
<circle cx="134.5" cy="154.0" r="0.45" fill="#7a3a8a" opacity="0.55"/>
<circle cx="108.6" cy="158.7" r="0.45" fill="#7a3a8a" opacity="0.55"/>
<circle cx="97.2" cy="155.7" r="0.45" fill="#7a3a8a" opacity="0.55"/>
<circle cx="80.4" cy="162.0" r="0.45" fill="#7a3a8a" opacity="0.55"/>
<circle cx="123.3" cy="156.0" r="0.45" fill="#7a3a8a" opacity="0.55"/>
<circle cx="67.0" cy="164.0" r="0.45" fill="#7a3a8a" opacity="0.55"/>
<circle cx="121.8" cy="154.6" r="0.45" fill="#7a3a8a" opacity="0.55"/>
<circle cx="106.4" cy="160.6" r="0.45" fill="#7a3a8a" opacity="0.55"/>
<circle cx="130.8" cy="155.8" r="0.45" fill="#7a3a8a" opacity="0.55"/>
<circle cx="98.1" cy="158.9" r="0.45" fill="#7a3a8a" opacity="0.55"/>
<circle cx="75.1" cy="156.6" r="0.45" fill="#7a3a8a" opacity="0.55"/>
<circle cx="74.5" cy="162.1" r="0.45" fill="#7a3a8a" opacity="0.55"/>
<circle cx="89.0" cy="159.4" r="0.45" fill="#7a3a8a" opacity="0.55"/>
<circle cx="92.2" cy="158.7" r="0.45" fill="#7a3a8a" opacity="0.55"/>
<circle cx="71.9" cy="155.1" r="0.45" fill="#7a3a8a" opacity="0.55"/>
<circle cx="139.8" cy="154.4" r="0.45" fill="#7a3a8a" opacity="0.55"/>
<circle cx="68.5" cy="161.9" r="0.45" fill="#7a3a8a" opacity="0.55"/>
<circle cx="123.0" cy="154.1" r="0.45" fill="#7a3a8a" opacity="0.55"/>
<circle cx="107.8" cy="156.2" r="0.45" fill="#7a3a8a" opacity="0.55"/>
<circle cx="101.6" cy="153.9" r="0.45" fill="#7a3a8a" opacity="0.55"/>
<circle cx="62.7" cy="166.6" r="0.45" fill="#7a3a8a" opacity="0.55"/>
<circle cx="129.3" cy="155.7" r="0.45" fill="#7a3a8a" opacity="0.55"/>
<circle cx="105.4" cy="155.7" r="0.45" fill="#7a3a8a" opacity="0.55"/>
<circle cx="122.3" cy="155.9" r="0.45" fill="#7a3a8a" opacity="0.55"/>
<circle cx="135.7" cy="156.7" r="0.45" fill="#7a3a8a" opacity="0.55"/>
<circle cx="125.5" cy="158.9" r="0.45" fill="#7a3a8a" opacity="0.55"/>
<circle cx="80.3" cy="154.8" r="0.45" fill="#7a3a8a" opacity="0.55"/>
<circle cx="76.1" cy="156.4" r="0.45" fill="#7a3a8a" opacity="0.55"/>
<circle cx="66.7" cy="155.4" r="0.45" fill="#7a3a8a" opacity="0.55"/>
<circle cx="104.6" cy="160.6" r="0.45" fill="#7a3a8a" opacity="0.55"/>
<circle cx="96.7" cy="162.1" r="0.45" fill="#7a3a8a" opacity="0.55"/>
<circle cx="132.8" cy="153.2" r="0.45" fill="#7a3a8a" opacity="0.55"/>
<circle cx="107.8" cy="156.6" r="0.45" fill="#7a3a8a" opacity="0.55"/>
<circle cx="69.6" cy="165.4" r="0.45" fill="#7a3a8a" opacity="0.55"/>
<circle cx="80.6" cy="160.1" r="0.45" fill="#7a3a8a" opacity="0.55"/>
<circle cx="111.3" cy="160.5" r="0.45" fill="#7a3a8a" opacity="0.55"/>
<circle cx="113.6" cy="156.2" r="0.45" fill="#7a3a8a" opacity="0.55"/>
<circle cx="95.9" cy="155.3" r="0.45" fill="#7a3a8a" opacity="0.55"/>
<circle cx="137.3" cy="157.7" r="0.45" fill="#7a3a8a" opacity="0.55"/>
<circle cx="77.7" cy="154.9" r="0.45" fill="#7a3a8a" opacity="0.55"/>
<circle cx="80.5" cy="158.0" r="0.45" fill="#7a3a8a" opacity="0.55"/>
<circle cx="132.2" cy="157.8" r="0.45" fill="#7a3a8a" opacity="0.55"/>
<circle cx="127.0" cy="153.3" r="0.45" fill="#7a3a8a" opacity="0.55"/>
<circle cx="122.9" cy="157.6" r="0.45" fill="#7a3a8a" opacity="0.55"/>
<circle cx="111.7" cy="160.7" r="0.45" fill="#7a3a8a" opacity="0.55"/>
<circle cx="64.5" cy="156.5" r="0.45" fill="#7a3a8a" opacity="0.55"/>
<circle cx="120.4" cy="159.4" r="0.45" fill="#7a3a8a" opacity="0.55"/>
<circle cx="114.2" cy="155.5" r="0.45" fill="#7a3a8a" opacity="0.55"/>
<circle cx="107.3" cy="159.4" r="0.45" fill="#7a3a8a" opacity="0.55"/>
<circle cx="68.4" cy="158.4" r="0.45" fill="#7a3a8a" opacity="0.55"/>
<circle cx="80.6" cy="155.6" r="0.45" fill="#7a3a8a" opacity="0.55"/>
<circle cx="98.5" cy="155.3" r="0.45" fill="#7a3a8a" opacity="0.55"/>
<circle cx="79.1" cy="155.9" r="0.45" fill="#7a3a8a" opacity="0.55"/>
<circle cx="114.2" cy="153.5" r="0.45" fill="#7a3a8a" opacity="0.55"/>
<circle cx="117.4" cy="154.6" r="0.45" fill="#7a3a8a" opacity="0.55"/>
<circle cx="62.9" cy="165.8" r="0.45" fill="#7a3a8a" opacity="0.55"/>
<circle cx="77.6" cy="164.2" r="0.45" fill="#7a3a8a" opacity="0.55"/>
<circle cx="129.3" cy="158.0" r="0.45" fill="#7a3a8a" opacity="0.55"/>
<circle cx="71.2" cy="159.6" r="0.45" fill="#7a3a8a" opacity="0.55"/>
<circle cx="67.8" cy="165.3" r="0.45" fill="#7a3a8a" opacity="0.55"/>
<circle cx="127.4" cy="156.7" r="0.45" fill="#7a3a8a" opacity="0.55"/>
<circle cx="96.2" cy="156.9" r="0.45" fill="#7a3a8a" opacity="0.55"/>
<circle cx="125.8" cy="155.9" r="0.45" fill="#7a3a8a" opacity="0.55"/>
<circle cx="110.3" cy="154.6" r="0.45" fill="#7a3a8a" opacity="0.55"/>
<circle cx="77.7" cy="155.1" r="0.45" fill="#7a3a8a" opacity="0.55"/>
<circle cx="117.1" cy="157.1" r="0.45" fill="#7a3a8a" opacity="0.55"/>
<circle cx="71.6" cy="164.2" r="0.45" fill="#7a3a8a" opacity="0.55"/>
<circle cx="81.3" cy="158.5" r="0.45" fill="#7a3a8a" opacity="0.55"/>
<circle cx="72.5" cy="157.6" r="0.45" fill="#7a3a8a" opacity="0.55"/>
<circle cx="127.2" cy="155.0" r="0.45" fill="#7a3a8a" opacity="0.55"/>
<circle cx="73.4" cy="159.9" r="0.45" fill="#7a3a8a" opacity="0.55"/>
<circle cx="85.4" cy="163.0" r="0.45" fill="#7a3a8a" opacity="0.55"/>
<circle cx="69.1" cy="165.7" r="0.45" fill="#7a3a8a" opacity="0.55"/>
<circle cx="64.5" cy="165.2" r="0.45" fill="#7a3a8a" opacity="0.55"/>
<circle cx="113.5" cy="154.9" r="0.45" fill="#7a3a8a" opacity="0.55"/>
<circle cx="98.2" cy="156.3" r="0.45" fill="#7a3a8a" opacity="0.55"/>
<circle cx="80.6" cy="156.4" r="0.45" fill="#7a3a8a" opacity="0.55"/>
<circle cx="89.1" cy="163.4" r="0.45" fill="#7a3a8a" opacity="0.55"/>
<circle cx="139.8" cy="157.1" r="0.45" fill="#7a3a8a" opacity="0.55"/>
<circle cx="67.8" cy="158.0" r="0.45" fill="#7a3a8a" opacity="0.55"/>
<circle cx="131.7" cy="153.2" r="0.45" fill="#7a3a8a" opacity="0.55"/>
<circle cx="118.1" cy="155.2" r="0.45" fill="#7a3a8a" opacity="0.55"/>
<circle cx="138.3" cy="152.7" r="0.45" fill="#7a3a8a" opacity="0.55"/>
<circle cx="124.6" cy="155.2" r="0.45" fill="#7a3a8a" opacity="0.55"/>
<circle cx="71.2" cy="154.7" r="0.45" fill="#7a3a8a" opacity="0.55"/>
<circle cx="126.6" cy="156.2" r="0.45" fill="#7a3a8a" opacity="0.55"/>
<circle cx="74.9" cy="159.2" r="0.45" fill="#7a3a8a" opacity="0.55"/>
<circle cx="133.0" cy="154.0" r="0.45" fill="#7a3a8a" opacity="0.55"/>
<circle cx="105.7" cy="154.7" r="0.45" fill="#7a3a8a" opacity="0.55"/>
<circle cx="74.4" cy="162.8" r="0.45" fill="#7a3a8a" opacity="0.55"/>
<circle cx="116.9" cy="154.6" r="0.45" fill="#7a3a8a" opacity="0.55"/>
<circle cx="66.3" cy="155.8" r="0.45" fill="#7a3a8a" opacity="0.55"/>
<circle cx="108.7" cy="157.3" r="0.45" fill="#7a3a8a" opacity="0.55"/>
<circle cx="81.9" cy="156.4" r="0.45" fill="#7a3a8a" opacity="0.55"/>
<circle cx="109.0" cy="158.9" r="0.45" fill="#7a3a8a" opacity="0.55"/>
<circle cx="124.9" cy="156.6" r="0.45" fill="#7a3a8a" opacity="0.55"/>
<circle cx="76.2" cy="155.2" r="0.45" fill="#7a3a8a" opacity="0.55"/>
<circle cx="118.6" cy="156.0" r="0.45" fill="#7a3a8a" opacity="0.55"/>
<circle cx="117.7" cy="153.6" r="0.45" fill="#7a3a8a" opacity="0.55"/>
<circle cx="124.9" cy="155.1" r="0.45" fill="#7a3a8a" opacity="0.55"/>
<circle cx="127.4" cy="158.1" r="0.45" fill="#7a3a8a" opacity="0.55"/>
<path d="M52,182 L59,182 L59,183.1 L52,183.1 Z" fill="#d5d8ea" stroke="none" stroke-width="1" filter="url(#b05)" opacity="0.9"/>
<path d="M59,172.6 L65,172.6 L65,173.6 L59,173.6 Z" fill="#d5d8ea" stroke="none" stroke-width="1" filter="url(#b05)" opacity="0.9"/>
<line x1="40.1" y1="138.04000000000002" x2="43.4" y2="138.04000000000002" stroke="#222" stroke-width="0.8"/>
<line x1="40.1" y1="143.17000000000002" x2="43.4" y2="143.17000000000002" stroke="#222" stroke-width="0.8"/>
<line x1="40.1" y1="148.3" x2="43.4" y2="148.3" stroke="#222" stroke-width="0.8"/>
<line x1="40.1" y1="153.43" x2="43.4" y2="153.43" stroke="#222" stroke-width="0.8"/>
<line x1="40.1" y1="158.56" x2="43.4" y2="158.56" stroke="#222" stroke-width="0.8"/>
<line x1="40.1" y1="163.69" x2="43.4" y2="163.69" stroke="#222" stroke-width="0.8"/>
<line x1="40.1" y1="168.82000000000002" x2="43.4" y2="168.82000000000002" stroke="#222" stroke-width="0.8"/>
<line x1="40.1" y1="173.95000000000002" x2="43.4" y2="173.95000000000002" stroke="#222" stroke-width="0.8"/>
<line x1="40.1" y1="179.08" x2="43.4" y2="179.08" stroke="#222" stroke-width="0.8"/>
<line x1="40.1" y1="184.21" x2="43.4" y2="184.21" stroke="#222" stroke-width="0.8"/>
<text x="37.3" y="140.34000000000003" font-size="6.7" fill="#333" stroke="#333" stroke-width="0.067" text-anchor="end">2</text>
<text x="37.3" y="150.60000000000002" font-size="6.7" fill="#333" stroke="#333" stroke-width="0.067" text-anchor="end">0</text>
<text x="37.3" y="171.12000000000003" font-size="6.7" fill="#333" stroke="#333" stroke-width="0.067" text-anchor="end">&#8211;4</text>
<text x="37.3" y="186.51000000000002" font-size="6.7" fill="#333" stroke="#333" stroke-width="0.067" text-anchor="end">&#8211;7</text>
<line x1="48.3" y1="186" x2="48.3" y2="189" stroke="#222" stroke-width="0.8"/>
<text x="48.3" y="197.8" font-size="6.8" fill="#333" stroke="#333" stroke-width="0.068" text-anchor="middle">2</text>
<line x1="67.27" y1="186" x2="67.27" y2="189" stroke="#222" stroke-width="0.8"/>
<text x="67.27" y="197.8" font-size="6.8" fill="#333" stroke="#333" stroke-width="0.068" text-anchor="middle">3</text>
<line x1="86.24" y1="186" x2="86.24" y2="189" stroke="#222" stroke-width="0.8"/>
<text x="86.24" y="197.8" font-size="6.8" fill="#333" stroke="#333" stroke-width="0.068" text-anchor="middle">4</text>
<line x1="105.21" y1="186" x2="105.21" y2="189" stroke="#222" stroke-width="0.8"/>
<text x="105.21" y="197.8" font-size="6.8" fill="#333" stroke="#333" stroke-width="0.068" text-anchor="middle">5</text>
<line x1="124.17999999999999" y1="186" x2="124.17999999999999" y2="189" stroke="#222" stroke-width="0.8"/>
<text x="124.17999999999999" y="197.8" font-size="6.8" fill="#333" stroke="#333" stroke-width="0.068" text-anchor="middle">6</text>
<line x1="143.14999999999998" y1="186" x2="143.14999999999998" y2="189" stroke="#222" stroke-width="0.8"/>
<text x="143.14999999999998" y="197.8" font-size="6.8" fill="#333" stroke="#333" stroke-width="0.068" text-anchor="middle">7</text>
<line x1="162.12" y1="186" x2="162.12" y2="189" stroke="#222" stroke-width="0.8"/>
<text x="162.12" y="197.8" font-size="6.8" fill="#333" stroke="#333" stroke-width="0.068" text-anchor="middle">8</text>
<rect x="43.4" y="136.3" width="123.5" height="49.69999999999999" fill="none" stroke="#111" stroke-width="1.1"/>
<text x="105.3" y="123.9" font-size="8.9" fill="#222" stroke="#222" stroke-width="0.089" text-anchor="middle" textLength="15.5" lengthAdjust="spacingAndGlyphs">LRF</text>
<text x="106" y="132.5" font-size="5.1" fill="#333" text-anchor="middle" textLength="101" lengthAdjust="spacingAndGlyphs">KO <tspan font-style="italic">GATA2AS</tspan> vs. KO <tspan font-style="italic">control</tspan> (1925 FDR &lt;0.05)</text>
<text x="143.8" y="145.0" font-size="6.5" fill="#222" stroke="#222" stroke-width="0.065" text-anchor="middle" textLength="12" lengthAdjust="spacingAndGlyphs">0 up</text>
<text x="165.2" y="180.8" font-size="6.5" fill="#222" stroke="#222" stroke-width="0.065" text-anchor="end" textLength="28.7" lengthAdjust="spacingAndGlyphs">1925 down</text>
<text x="76.4" y="208.7" font-size="7.9" fill="#333" stroke="#333" stroke-width="0.079" textLength="56.6" lengthAdjust="spacingAndGlyphs">Log<tspan font-size="5.4" dy="1.8">2</tspan><tspan dy="-1.8"> concentration</tspan></text>
<text transform="translate(22.6,186.7) rotate(-90)" font-size="8.0" fill="#333" stroke="#333" stroke-width="0.15" textLength="50.7" lengthAdjust="spacingAndGlyphs">Log<tspan font-size="5.4" dy="1.8">2</tspan><tspan dy="-1.8"> fold change</tspan></text>
<path d="M212.3,52.8 L232.80,52.80 A20.5,20.5 0 1 0 230.09,62.98 Z" fill="#b5d3f0" stroke="#222" stroke-width="0.5" stroke-linejoin="round"/>
<path d="M212.3,52.8 L230.09,62.98 A20.5,20.5 0 0 0 230.28,62.65 Z" fill="#a3d39c" stroke="#222" stroke-width="0.5" stroke-linejoin="round"/>
<path d="M212.3,52.8 L230.28,62.65 A20.5,20.5 0 0 0 230.84,61.54 Z" fill="#e58bd6" stroke="#222" stroke-width="0.5" stroke-linejoin="round"/>
<path d="M212.3,52.8 L230.84,61.54 A20.5,20.5 0 0 0 231.15,60.86 Z" fill="#b87c68" stroke="#222" stroke-width="0.5" stroke-linejoin="round"/>
<path d="M212.3,52.8 L231.15,60.86 A20.5,20.5 0 0 0 231.69,59.45 Z" fill="#f3c79a" stroke="#222" stroke-width="0.5" stroke-linejoin="round"/>
<path d="M212.3,52.8 L231.69,59.45 A20.5,20.5 0 0 0 232.28,57.40 Z" fill="#8a6fae" stroke="#222" stroke-width="0.5" stroke-linejoin="round"/>
<path d="M212.3,52.8 L232.28,57.40 A20.5,20.5 0 0 0 232.80,52.80 Z" fill="#cf9a52" stroke="#222" stroke-width="0.5" stroke-linejoin="round"/>
<circle cx="212.3" cy="52.8" r="20.5" fill="none" stroke="#3a4a5a" stroke-width="0.8"/>
<rect x="238.1" y="29.999999999999996" width="4.4" height="4.4" fill="#b5d3f0" stroke="#5a6a80" stroke-width="0.9"/>
<text x="245.79999999999998" y="34.099999999999994" font-size="5.0" fill="#444">Promoter (91.72%)</text>
<rect x="238.1" y="36.88" width="4.4" height="4.4" fill="#a3d39c" stroke="#4a7a4a" stroke-width="0.9"/>
<text x="245.79999999999998" y="40.98" font-size="5.0" fill="#444">3' UTR (0.29%)</text>
<rect x="238.1" y="43.76" width="4.4" height="4.4" fill="#e58bd6" stroke="#8a4a8a" stroke-width="0.9"/>
<text x="245.79999999999998" y="47.85999999999999" font-size="5.0" fill="#444">1st Exon (0.97%)</text>
<rect x="238.1" y="50.64" width="4.4" height="4.4" fill="#b87c68" stroke="#6a4a3a" stroke-width="0.9"/>
<text x="245.79999999999998" y="54.739999999999995" font-size="5.0" fill="#444">Other Exon (0.58%)</text>
<rect x="238.1" y="57.519999999999996" width="4.4" height="4.4" fill="#f3c79a" stroke="#9a7a5a" stroke-width="0.9"/>
<text x="245.79999999999998" y="61.61999999999999" font-size="5.0" fill="#444">1st Intron (1.17%)</text>
<rect x="238.1" y="64.39999999999999" width="4.4" height="4.4" fill="#8a6fae" stroke="#4a3a6a" stroke-width="0.9"/>
<text x="245.79999999999998" y="68.49999999999999" font-size="5.0" fill="#444">Other Intron (1.66%)</text>
<rect x="238.1" y="71.28" width="4.4" height="4.4" fill="#cf9a52" stroke="#6a5a3a" stroke-width="0.9"/>
<text x="245.79999999999998" y="75.38" font-size="5.0" fill="#444">Distal Intergenic (3.6%)</text>
<path d="M212.3,161.0 L232.80,161.00 A20.5,20.5 0 1 0 227.24,175.04 Z" fill="#b5d3f0" stroke="#222" stroke-width="0.5" stroke-linejoin="round"/>
<path d="M212.3,161.0 L227.24,175.04 A20.5,20.5 0 0 0 227.32,174.95 Z" fill="#6f6aa8" stroke="#222" stroke-width="0.5" stroke-linejoin="round"/>
<path d="M212.3,161.0 L227.32,174.95 A20.5,20.5 0 0 0 228.12,174.04 Z" fill="#a3d39c" stroke="#222" stroke-width="0.5" stroke-linejoin="round"/>
<path d="M212.3,161.0 L228.12,174.04 A20.5,20.5 0 0 0 229.01,172.87 Z" fill="#e58bd6" stroke="#222" stroke-width="0.5" stroke-linejoin="round"/>
<path d="M212.3,161.0 L229.01,172.87 A20.5,20.5 0 0 0 229.68,171.86 Z" fill="#b87c68" stroke="#222" stroke-width="0.5" stroke-linejoin="round"/>
<path d="M212.3,161.0 L229.68,171.86 A20.5,20.5 0 0 0 230.72,170.00 Z" fill="#f3c79a" stroke="#222" stroke-width="0.5" stroke-linejoin="round"/>
<path d="M212.3,161.0 L230.72,170.00 A20.5,20.5 0 0 0 231.35,168.58 Z" fill="#8a6fae" stroke="#222" stroke-width="0.5" stroke-linejoin="round"/>
<path d="M212.3,161.0 L231.35,168.58 A20.5,20.5 0 0 0 232.80,161.00 Z" fill="#cf9a52" stroke="#222" stroke-width="0.5" stroke-linejoin="round"/>
<circle cx="212.3" cy="161.0" r="20.5" fill="none" stroke="#3a4a5a" stroke-width="0.8"/>
<rect x="238.1" y="135.0" width="4.4" height="4.4" fill="#b5d3f0" stroke="#5a6a80" stroke-width="0.9"/>
<text x="245.79999999999998" y="139.10000000000002" font-size="5.0" fill="#444">Promoter (87.99%)</text>
<rect x="238.1" y="141.88" width="4.4" height="4.4" fill="#6f6aa8" stroke="#3a3a6a" stroke-width="0.9"/>
<text x="245.79999999999998" y="145.98000000000002" font-size="5.0" fill="#444">5' UTR (0.1%)</text>
<rect x="238.1" y="148.76" width="4.4" height="4.4" fill="#a3d39c" stroke="#4a7a4a" stroke-width="0.9"/>
<text x="245.79999999999998" y="152.86" font-size="5.0" fill="#444">3' UTR (0.94%)</text>
<rect x="238.1" y="155.64" width="4.4" height="4.4" fill="#e58bd6" stroke="#8a4a8a" stroke-width="0.9"/>
<text x="245.79999999999998" y="159.74" font-size="5.0" fill="#444">1st Exon (1.14%)</text>
<rect x="238.1" y="162.52" width="4.4" height="4.4" fill="#b87c68" stroke="#6a4a3a" stroke-width="0.9"/>
<text x="245.79999999999998" y="166.62000000000003" font-size="5.0" fill="#444">Other Exon (0.94%)</text>
<rect x="238.1" y="169.4" width="4.4" height="4.4" fill="#f3c79a" stroke="#9a7a5a" stroke-width="0.9"/>
<text x="245.79999999999998" y="173.50000000000003" font-size="5.0" fill="#444">1st Intron (1.66%)</text>
<rect x="238.1" y="176.28" width="4.4" height="4.4" fill="#8a6fae" stroke="#4a3a6a" stroke-width="0.9"/>
<text x="245.79999999999998" y="180.38000000000002" font-size="5.0" fill="#444">Other Intron (1.2%)</text>
<rect x="238.1" y="183.16" width="4.4" height="4.4" fill="#cf9a52" stroke="#6a5a3a" stroke-width="0.9"/>
<text x="245.79999999999998" y="187.26000000000002" font-size="5.0" fill="#444">Distal Intergenic (6.03%)</text>
<line x1="342.2" y1="70.765" x2="345.4" y2="70.765" stroke="#222" stroke-width="0.8"/>
<line x1="342.2" y1="55.69499999999999" x2="345.4" y2="55.69499999999999" stroke="#222" stroke-width="0.8"/>
<line x1="342.2" y1="40.625" x2="345.4" y2="40.625" stroke="#222" stroke-width="0.8"/>
<line x1="342.2" y1="33.089999999999996" x2="345.4" y2="33.089999999999996" stroke="#222" stroke-width="0.8"/>
<text x="341.2" y="35.29" font-size="6.4" fill="#333" stroke="#333" stroke-width="0.064" text-anchor="end">3</text>
<line x1="342.2" y1="48.16" x2="345.4" y2="48.16" stroke="#222" stroke-width="0.8"/>
<text x="341.2" y="50.36" font-size="6.4" fill="#333" stroke="#333" stroke-width="0.064" text-anchor="end">2</text>
<line x1="342.2" y1="63.23" x2="345.4" y2="63.23" stroke="#222" stroke-width="0.8"/>
<text x="341.2" y="65.42999999999999" font-size="6.4" fill="#333" stroke="#333" stroke-width="0.064" text-anchor="end">1</text>
<line x1="342.2" y1="78.3" x2="345.4" y2="78.3" stroke="#222" stroke-width="0.8"/>
<text x="341.2" y="80.5" font-size="6.4" fill="#333" stroke="#333" stroke-width="0.064" text-anchor="end">0</text>
<line x1="345.4" y1="78.3" x2="345.4" y2="80.89999999999999" stroke="#222" stroke-width="0.8"/>
<text x="345.4" y="90.3" font-size="7.0" fill="#333" stroke="#333" stroke-width="0.070" text-anchor="middle" textLength="14.9" lengthAdjust="spacingAndGlyphs">&#8211;5kb</text>
<line x1="378.1" y1="78.3" x2="378.1" y2="80.89999999999999" stroke="#222" stroke-width="0.8"/>
<text x="378.1" y="90.3" font-size="7.0" fill="#333" stroke="#333" stroke-width="0.070" text-anchor="middle" textLength="19.4" lengthAdjust="spacingAndGlyphs">Center</text>
<line x1="410.8" y1="78.3" x2="410.8" y2="80.89999999999999" stroke="#222" stroke-width="0.8"/>
<text x="410.8" y="90.3" font-size="7.0" fill="#333" stroke="#333" stroke-width="0.070" text-anchor="middle" textLength="10.8" lengthAdjust="spacingAndGlyphs">5kb</text>
<polyline points="345.40,76.00 345.56,76.00 345.73,76.00 345.89,76.00 346.05,76.00 346.22,76.00 346.38,76.00 346.54,76.00 346.71,76.00 346.87,76.00 347.03,76.00 347.20,76.00 347.36,76.00 347.53,76.00 347.69,76.00 347.85,76.00 348.02,76.00 348.18,76.00 348.34,76.00 348.51,76.00 348.67,76.00 348.83,76.00 349.00,76.00 349.16,76.00 349.32,76.00 349.49,76.00 349.65,76.00 349.81,76.00 349.98,76.00 350.14,76.00 350.31,76.00 350.47,76.00 350.63,76.00 350.80,76.00 350.96,76.00 351.12,76.00 351.29,76.00 351.45,76.00 351.61,76.00 351.78,76.00 351.94,76.00 352.10,76.00 352.27,76.00 352.43,76.00 352.59,76.00 352.76,76.00 352.92,76.00 353.08,76.00 353.25,76.00 353.41,76.00 353.57,76.00 353.74,76.00 353.90,76.00 354.07,76.00 354.23,76.00 354.39,76.00 354.56,76.00 354.72,76.00 354.88,76.00 355.05,76.00 355.21,76.00 355.37,76.00 355.54,76.00 355.70,76.00 355.86,76.00 356.03,76.00 356.19,76.00 356.35,76.00 356.52,76.00 356.68,76.00 356.84,76.00 357.01,76.00 357.17,76.00 357.34,76.00 357.50,76.00 357.66,76.00 357.83,76.00 357.99,76.00 358.15,76.00 358.32,76.00 358.48,76.00 358.64,76.00 358.81,76.00 358.97,76.00 359.13,76.00 359.30,76.00 359.46,76.00 359.62,76.00 359.79,76.00 359.95,76.00 360.12,76.00 360.28,76.00 360.44,76.00 360.61,76.00 360.77,76.00 360.93,76.00 361.10,76.00 361.26,76.00 361.42,76.00 361.59,76.00 361.75,76.00 361.91,76.00 362.08,76.00 362.24,76.00 362.40,76.00 362.57,76.00 362.73,76.00 362.89,76.00 363.06,76.00 363.22,76.00 363.38,76.00 363.55,76.00 363.71,76.00 363.88,76.00 364.04,76.00 364.20,76.00 364.37,76.00 364.53,76.00 364.69,76.00 364.86,76.00 365.02,76.00 365.18,76.00 365.35,76.00 365.51,76.00 365.67,76.00 365.84,76.00 366.00,76.00 366.16,76.00 366.33,76.00 366.49,76.00 366.65,76.00 366.82,76.00 366.98,76.00 367.15,76.00 367.31,76.00 367.47,76.00 367.64,76.00 367.80,76.00 367.96,76.00 368.13,76.00 368.29,76.00 368.45,76.00 368.62,76.00 368.78,76.00 368.94,76.00 369.11,76.00 369.27,76.00 369.43,76.00 369.60,76.00 369.76,76.00 369.93,76.00 370.09,76.00 370.25,76.00 370.42,76.00 370.58,76.00 370.74,76.00 370.91,76.00 371.07,76.00 371.23,76.00 371.40,76.00 371.56,76.00 371.72,76.00 371.89,76.00 372.05,76.00 372.21,76.00 372.38,76.00 372.54,76.00 372.70,76.00 372.87,76.00 373.03,76.00 373.19,76.00 373.36,76.00 373.52,75.99 373.69,75.99 373.85,75.98 374.01,75.97 374.18,75.95 374.34,75.92 374.50,75.87 374.67,75.79 374.83,75.67 374.99,75.49 375.16,75.24 375.32,74.87 375.48,74.37 375.65,73.68 375.81,72.77 375.97,71.60 376.14,70.12 376.30,68.30 376.46,66.12 376.63,63.57 376.79,60.69 376.96,57.51 377.12,54.11 377.28,50.62 377.45,47.15 377.61,43.86 377.77,40.92 377.94,38.48 378.10,36.66 378.26,35.59 378.43,35.31 378.59,35.85 378.75,37.18 378.92,39.22 379.08,41.85 379.24,44.92 379.41,48.28 379.57,51.78 379.74,55.25 379.90,58.59 380.06,61.68 380.23,64.45 380.39,66.88 380.55,68.94 380.72,70.64 380.88,72.02 381.04,73.10 381.21,73.93 381.37,74.55 381.53,75.01 381.70,75.33 381.86,75.56 382.02,75.72 382.19,75.82 382.35,75.89 382.51,75.93 382.68,75.96 382.84,75.98 383.00,75.99 383.17,75.99 383.33,76.00 383.50,76.00 383.66,76.00 383.82,76.00 383.99,76.00 384.15,76.00 384.31,76.00 384.48,76.00 384.64,76.00 384.80,76.00 384.97,76.00 385.13,76.00 385.29,76.00 385.46,76.00 385.62,76.00 385.78,76.00 385.95,76.00 386.11,76.00 386.27,76.00 386.44,76.00 386.60,76.00 386.77,76.00 386.93,76.00 387.09,76.00 387.26,76.00 387.42,76.00 387.58,76.00 387.75,76.00 387.91,76.00 388.07,76.00 388.24,76.00 388.40,76.00 388.56,76.00 388.73,76.00 388.89,76.00 389.05,76.00 389.22,76.00 389.38,76.00 389.55,76.00 389.71,76.00 389.87,76.00 390.04,76.00 390.20,76.00 390.36,76.00 390.53,76.00 390.69,76.00 390.85,76.00 391.02,76.00 391.18,76.00 391.34,76.00 391.51,76.00 391.67,76.00 391.83,76.00 392.00,76.00 392.16,76.00 392.32,76.00 392.49,76.00 392.65,76.00 392.81,76.00 392.98,76.00 393.14,76.00 393.31,76.00 393.47,76.00 393.63,76.00 393.80,76.00 393.96,76.00 394.12,76.00 394.29,76.00 394.45,76.00 394.61,76.00 394.78,76.00 394.94,76.00 395.10,76.00 395.27,76.00 395.43,76.00 395.59,76.00 395.76,76.00 395.92,76.00 396.09,76.00 396.25,76.00 396.41,76.00 396.58,76.00 396.74,76.00 396.90,76.00 397.07,76.00 397.23,76.00 397.39,76.00 397.56,76.00 397.72,76.00 397.88,76.00 398.05,76.00 398.21,76.00 398.37,76.00 398.54,76.00 398.70,76.00 398.86,76.00 399.03,76.00 399.19,76.00 399.36,76.00 399.52,76.00 399.68,76.00 399.85,76.00 400.01,76.00 400.17,76.00 400.34,76.00 400.50,76.00 400.66,76.00 400.83,76.00 400.99,76.00 401.15,76.00 401.32,76.00 401.48,76.00 401.64,76.00 401.81,76.00 401.97,76.00 402.13,76.00 402.30,76.00 402.46,76.00 402.62,76.00 402.79,76.00 402.95,76.00 403.12,76.00 403.28,76.00 403.44,76.00 403.61,76.00 403.77,76.00 403.93,76.00 404.10,76.00 404.26,76.00 404.42,76.00 404.59,76.00 404.75,76.00 404.91,76.00 405.08,76.00 405.24,76.00 405.40,76.00 405.57,76.00 405.73,76.00 405.89,76.00 406.06,76.00 406.22,76.00 406.39,76.00 406.55,76.00 406.71,76.00 406.88,76.00 407.04,76.00 407.20,76.00 407.37,76.00 407.53,76.00 407.69,76.00 407.86,76.00 408.02,76.00 408.18,76.00 408.35,76.00 408.51,76.00 408.67,76.00 408.84,76.00 409.00,76.00 409.17,76.00 409.33,76.00 409.49,76.00 409.66,76.00 409.82,76.00 409.98,76.00 410.15,76.00 410.31,76.00 410.47,76.00 410.64,76.00 410.80,76.00" fill="none" stroke="#8fd18f" stroke-width="0.9" opacity="1" stroke-linejoin="round"/>
<polyline points="345.40,76.00 345.56,76.00 345.73,76.00 345.89,76.00 346.05,76.00 346.22,76.00 346.38,76.00 346.54,76.00 346.71,76.00 346.87,76.00 347.03,76.00 347.20,76.00 347.36,76.00 347.53,76.00 347.69,76.00 347.85,76.00 348.02,76.00 348.18,76.00 348.34,76.00 348.51,76.00 348.67,76.00 348.83,76.00 349.00,76.00 349.16,76.00 349.32,76.00 349.49,76.00 349.65,76.00 349.81,76.00 349.98,76.00 350.14,76.00 350.31,76.00 350.47,76.00 350.63,76.00 350.80,76.00 350.96,76.00 351.12,76.00 351.29,76.00 351.45,76.00 351.61,76.00 351.78,76.00 351.94,76.00 352.10,76.00 352.27,76.00 352.43,76.00 352.59,76.00 352.76,76.00 352.92,76.00 353.08,76.00 353.25,76.00 353.41,76.00 353.57,76.00 353.74,76.00 353.90,76.00 354.07,76.00 354.23,76.00 354.39,76.00 354.56,76.00 354.72,76.00 354.88,76.00 355.05,76.00 355.21,76.00 355.37,76.00 355.54,76.00 355.70,76.00 355.86,76.00 356.03,76.00 356.19,76.00 356.35,76.00 356.52,76.00 356.68,76.00 356.84,76.00 357.01,76.00 357.17,76.00 357.34,76.00 357.50,76.00 357.66,76.00 357.83,76.00 357.99,76.00 358.15,76.00 358.32,76.00 358.48,76.00 358.64,76.00 358.81,76.00 358.97,76.00 359.13,76.00 359.30,76.00 359.46,76.00 359.62,76.00 359.79,76.00 359.95,76.00 360.12,76.00 360.28,76.00 360.44,76.00 360.61,76.00 360.77,76.00 360.93,76.00 361.10,76.00 361.26,76.00 361.42,76.00 361.59,76.00 361.75,76.00 361.91,76.00 362.08,76.00 362.24,76.00 362.40,76.00 362.57,76.00 362.73,76.00 362.89,76.00 363.06,76.00 363.22,76.00 363.38,76.00 363.55,76.00 363.71,76.00 363.88,76.00 364.04,76.00 364.20,76.00 364.37,76.00 364.53,76.00 364.69,76.00 364.86,76.00 365.02,76.00 365.18,76.00 365.35,76.00 365.51,76.00 365.67,76.00 365.84,76.00 366.00,76.00 366.16,76.00 366.33,76.00 366.49,76.00 366.65,76.00 366.82,76.00 366.98,76.00 367.15,76.00 367.31,76.00 367.47,76.00 367.64,76.00 367.80,76.00 367.96,76.00 368.13,76.00 368.29,76.00 368.45,76.00 368.62,76.00 368.78,76.00 368.94,76.00 369.11,76.00 369.27,76.00 369.43,76.00 369.60,76.00 369.76,76.00 369.93,76.00 370.09,76.00 370.25,76.00 370.42,76.00 370.58,76.00 370.74,76.00 370.91,76.00 371.07,76.00 371.23,75.99 371.40,75.99 371.56,75.99 371.72,75.98 371.89,75.98 372.05,75.97 372.21,75.95 372.38,75.94 372.54,75.91 372.70,75.88 372.87,75.84 373.03,75.79 373.19,75.72 373.36,75.63 373.52,75.52 373.69,75.38 373.85,75.21 374.01,74.99 374.18,74.73 374.34,74.42 374.50,74.05 374.67,73.61 374.83,73.09 374.99,72.50 375.16,71.82 375.32,71.05 375.48,70.19 375.65,69.24 375.81,68.20 375.97,67.08 376.14,65.89 376.30,64.65 376.46,63.36 376.63,62.04 376.79,60.72 376.96,59.43 377.12,58.18 377.28,57.00 377.45,55.92 377.61,54.96 377.77,54.15 377.94,53.50 378.10,53.04 378.26,52.77 378.43,52.70 378.59,52.84 378.75,53.17 378.92,53.70 379.08,54.40 379.24,55.26 379.41,56.26 379.57,57.38 379.74,58.58 379.90,59.85 380.06,61.16 380.23,62.48 380.39,63.79 380.55,65.06 380.72,66.29 380.88,67.46 381.04,68.55 381.21,69.56 381.37,70.48 381.53,71.31 381.70,72.05 381.86,72.70 382.02,73.27 382.19,73.76 382.35,74.18 382.51,74.53 382.68,74.83 382.84,75.07 383.00,75.27 383.17,75.43 383.33,75.56 383.50,75.66 383.66,75.75 383.82,75.81 383.99,75.86 384.15,75.89 384.31,75.92 384.48,75.94 384.64,75.96 384.80,75.97 384.97,75.98 385.13,75.99 385.29,75.99 385.46,75.99 385.62,76.00 385.78,76.00 385.95,76.00 386.11,76.00 386.27,76.00 386.44,76.00 386.60,76.00 386.77,76.00 386.93,76.00 387.09,76.00 387.26,76.00 387.42,76.00 387.58,76.00 387.75,76.00 387.91,76.00 388.07,76.00 388.24,76.00 388.40,76.00 388.56,76.00 388.73,76.00 388.89,76.00 389.05,76.00 389.22,76.00 389.38,76.00 389.55,76.00 389.71,76.00 389.87,76.00 390.04,76.00 390.20,76.00 390.36,76.00 390.53,76.00 390.69,76.00 390.85,76.00 391.02,76.00 391.18,76.00 391.34,76.00 391.51,76.00 391.67,76.00 391.83,76.00 392.00,76.00 392.16,76.00 392.32,76.00 392.49,76.00 392.65,76.00 392.81,76.00 392.98,76.00 393.14,76.00 393.31,76.00 393.47,76.00 393.63,76.00 393.80,76.00 393.96,76.00 394.12,76.00 394.29,76.00 394.45,76.00 394.61,76.00 394.78,76.00 394.94,76.00 395.10,76.00 395.27,76.00 395.43,76.00 395.59,76.00 395.76,76.00 395.92,76.00 396.09,76.00 396.25,76.00 396.41,76.00 396.58,76.00 396.74,76.00 396.90,76.00 397.07,76.00 397.23,76.00 397.39,76.00 397.56,76.00 397.72,76.00 397.88,76.00 398.05,76.00 398.21,76.00 398.37,76.00 398.54,76.00 398.70,76.00 398.86,76.00 399.03,76.00 399.19,76.00 399.36,76.00 399.52,76.00 399.68,76.00 399.85,76.00 400.01,76.00 400.17,76.00 400.34,76.00 400.50,76.00 400.66,76.00 400.83,76.00 400.99,76.00 401.15,76.00 401.32,76.00 401.48,76.00 401.64,76.00 401.81,76.00 401.97,76.00 402.13,76.00 402.30,76.00 402.46,76.00 402.62,76.00 402.79,76.00 402.95,76.00 403.12,76.00 403.28,76.00 403.44,76.00 403.61,76.00 403.77,76.00 403.93,76.00 404.10,76.00 404.26,76.00 404.42,76.00 404.59,76.00 404.75,76.00 404.91,76.00 405.08,76.00 405.24,76.00 405.40,76.00 405.57,76.00 405.73,76.00 405.89,76.00 406.06,76.00 406.22,76.00 406.39,76.00 406.55,76.00 406.71,76.00 406.88,76.00 407.04,76.00 407.20,76.00 407.37,76.00 407.53,76.00 407.69,76.00 407.86,76.00 408.02,76.00 408.18,76.00 408.35,76.00 408.51,76.00 408.67,76.00 408.84,76.00 409.00,76.00 409.17,76.00 409.33,76.00 409.49,76.00 409.66,76.00 409.82,76.00 409.98,76.00 410.15,76.00 410.31,76.00 410.47,76.00 410.64,76.00 410.80,76.00" fill="none" stroke="#bbb" stroke-width="1.6" opacity="0.8" stroke-linejoin="round"/>
<polyline points="345.40,76.00 345.56,76.00 345.73,76.00 345.89,76.00 346.05,76.00 346.22,76.00 346.38,76.00 346.54,76.00 346.71,76.00 346.87,76.00 347.03,76.00 347.20,76.00 347.36,76.00 347.53,76.00 347.69,76.00 347.85,76.00 348.02,76.00 348.18,76.00 348.34,76.00 348.51,76.00 348.67,76.00 348.83,76.00 349.00,76.00 349.16,76.00 349.32,76.00 349.49,76.00 349.65,76.00 349.81,76.00 349.98,76.00 350.14,76.00 350.31,76.00 350.47,76.00 350.63,76.00 350.80,76.00 350.96,76.00 351.12,76.00 351.29,76.00 351.45,76.00 351.61,76.00 351.78,76.00 351.94,76.00 352.10,76.00 352.27,76.00 352.43,76.00 352.59,76.00 352.76,76.00 352.92,76.00 353.08,76.00 353.25,76.00 353.41,76.00 353.57,76.00 353.74,76.00 353.90,76.00 354.07,76.00 354.23,76.00 354.39,76.00 354.56,76.00 354.72,76.00 354.88,76.00 355.05,76.00 355.21,76.00 355.37,76.00 355.54,76.00 355.70,76.00 355.86,76.00 356.03,76.00 356.19,76.00 356.35,76.00 356.52,76.00 356.68,76.00 356.84,76.00 357.01,76.00 357.17,76.00 357.34,76.00 357.50,76.00 357.66,76.00 357.83,76.00 357.99,76.00 358.15,76.00 358.32,76.00 358.48,76.00 358.64,76.00 358.81,76.00 358.97,76.00 359.13,76.00 359.30,76.00 359.46,76.00 359.62,76.00 359.79,76.00 359.95,76.00 360.12,76.00 360.28,76.00 360.44,76.00 360.61,76.00 360.77,76.00 360.93,76.00 361.10,76.00 361.26,76.00 361.42,76.00 361.59,76.00 361.75,76.00 361.91,76.00 362.08,76.00 362.24,76.00 362.40,76.00 362.57,76.00 362.73,76.00 362.89,76.00 363.06,76.00 363.22,76.00 363.38,76.00 363.55,76.00 363.71,76.00 363.88,76.00 364.04,76.00 364.20,76.00 364.37,76.00 364.53,76.00 364.69,76.00 364.86,76.00 365.02,76.00 365.18,76.00 365.35,76.00 365.51,76.00 365.67,76.00 365.84,76.00 366.00,76.00 366.16,76.00 366.33,76.00 366.49,76.00 366.65,76.00 366.82,76.00 366.98,76.00 367.15,76.00 367.31,76.00 367.47,76.00 367.64,76.00 367.80,76.00 367.96,76.00 368.13,76.00 368.29,76.00 368.45,76.00 368.62,76.00 368.78,76.00 368.94,76.00 369.11,76.00 369.27,76.00 369.43,76.00 369.60,76.00 369.76,76.00 369.93,76.00 370.09,76.00 370.25,76.00 370.42,76.00 370.58,76.00 370.74,76.00 370.91,76.00 371.07,76.00 371.23,75.99 371.40,75.99 371.56,75.99 371.72,75.98 371.89,75.98 372.05,75.97 372.21,75.95 372.38,75.94 372.54,75.91 372.70,75.88 372.87,75.84 373.03,75.79 373.19,75.72 373.36,75.63 373.52,75.52 373.69,75.38 373.85,75.21 374.01,74.99 374.18,74.73 374.34,74.42 374.50,74.05 374.67,73.61 374.83,73.09 374.99,72.50 375.16,71.82 375.32,71.05 375.48,70.19 375.65,69.24 375.81,68.20 375.97,67.08 376.14,65.89 376.30,64.65 376.46,63.36 376.63,62.04 376.79,60.72 376.96,59.43 377.12,58.18 377.28,57.00 377.45,55.92 377.61,54.96 377.77,54.15 377.94,53.50 378.10,53.04 378.26,52.77 378.43,52.70 378.59,52.84 378.75,53.17 378.92,53.70 379.08,54.40 379.24,55.26 379.41,56.26 379.57,57.38 379.74,58.58 379.90,59.85 380.06,61.16 380.23,62.48 380.39,63.79 380.55,65.06 380.72,66.29 380.88,67.46 381.04,68.55 381.21,69.56 381.37,70.48 381.53,71.31 381.70,72.05 381.86,72.70 382.02,73.27 382.19,73.76 382.35,74.18 382.51,74.53 382.68,74.83 382.84,75.07 383.00,75.27 383.17,75.43 383.33,75.56 383.50,75.66 383.66,75.75 383.82,75.81 383.99,75.86 384.15,75.89 384.31,75.92 384.48,75.94 384.64,75.96 384.80,75.97 384.97,75.98 385.13,75.99 385.29,75.99 385.46,75.99 385.62,76.00 385.78,76.00 385.95,76.00 386.11,76.00 386.27,76.00 386.44,76.00 386.60,76.00 386.77,76.00 386.93,76.00 387.09,76.00 387.26,76.00 387.42,76.00 387.58,76.00 387.75,76.00 387.91,76.00 388.07,76.00 388.24,76.00 388.40,76.00 388.56,76.00 388.73,76.00 388.89,76.00 389.05,76.00 389.22,76.00 389.38,76.00 389.55,76.00 389.71,76.00 389.87,76.00 390.04,76.00 390.20,76.00 390.36,76.00 390.53,76.00 390.69,76.00 390.85,76.00 391.02,76.00 391.18,76.00 391.34,76.00 391.51,76.00 391.67,76.00 391.83,76.00 392.00,76.00 392.16,76.00 392.32,76.00 392.49,76.00 392.65,76.00 392.81,76.00 392.98,76.00 393.14,76.00 393.31,76.00 393.47,76.00 393.63,76.00 393.80,76.00 393.96,76.00 394.12,76.00 394.29,76.00 394.45,76.00 394.61,76.00 394.78,76.00 394.94,76.00 395.10,76.00 395.27,76.00 395.43,76.00 395.59,76.00 395.76,76.00 395.92,76.00 396.09,76.00 396.25,76.00 396.41,76.00 396.58,76.00 396.74,76.00 396.90,76.00 397.07,76.00 397.23,76.00 397.39,76.00 397.56,76.00 397.72,76.00 397.88,76.00 398.05,76.00 398.21,76.00 398.37,76.00 398.54,76.00 398.70,76.00 398.86,76.00 399.03,76.00 399.19,76.00 399.36,76.00 399.52,76.00 399.68,76.00 399.85,76.00 400.01,76.00 400.17,76.00 400.34,76.00 400.50,76.00 400.66,76.00 400.83,76.00 400.99,76.00 401.15,76.00 401.32,76.00 401.48,76.00 401.64,76.00 401.81,76.00 401.97,76.00 402.13,76.00 402.30,76.00 402.46,76.00 402.62,76.00 402.79,76.00 402.95,76.00 403.12,76.00 403.28,76.00 403.44,76.00 403.61,76.00 403.77,76.00 403.93,76.00 404.10,76.00 404.26,76.00 404.42,76.00 404.59,76.00 404.75,76.00 404.91,76.00 405.08,76.00 405.24,76.00 405.40,76.00 405.57,76.00 405.73,76.00 405.89,76.00 406.06,76.00 406.22,76.00 406.39,76.00 406.55,76.00 406.71,76.00 406.88,76.00 407.04,76.00 407.20,76.00 407.37,76.00 407.53,76.00 407.69,76.00 407.86,76.00 408.02,76.00 408.18,76.00 408.35,76.00 408.51,76.00 408.67,76.00 408.84,76.00 409.00,76.00 409.17,76.00 409.33,76.00 409.49,76.00 409.66,76.00 409.82,76.00 409.98,76.00 410.15,76.00 410.31,76.00 410.47,76.00 410.64,76.00 410.80,76.00" fill="none" stroke="#444" stroke-width="0.8" opacity="1" stroke-linejoin="round"/>
<rect x="345.4" y="33.1" width="65.40000000000003" height="45.199999999999996" fill="none" stroke="#111" stroke-width="1.0"/>
<line x1="348.3" y1="39.4" x2="356.0" y2="39.4" stroke="#7cc47c" stroke-width="0.8"/>
<text x="358.5" y="41.5" font-size="6.3" fill="#333" stroke="#333" stroke-width="0.063" textLength="9.7" lengthAdjust="spacingAndGlyphs">ctrl</text>
<line x1="348.3" y1="49.6" x2="356.0" y2="49.6" stroke="#444" stroke-width="0.9"/>
<text x="358.5" y="51.7" font-size="6.3" fill="#333" stroke="#333" stroke-width="0.063" textLength="9.3" lengthAdjust="spacingAndGlyphs">KO</text>
<text x="378.0" y="27.8" font-size="8.4" fill="#222" stroke="#222" stroke-width="0.084" text-anchor="middle" textLength="18.3" lengthAdjust="spacingAndGlyphs">KLF1</text>
<text transform="translate(331.0,74.9) rotate(-90)" font-size="8.3" fill="#333" stroke="#333" stroke-width="0.12" textLength="38.8" lengthAdjust="spacingAndGlyphs">Read density</text>
<line x1="438.2" y1="33.42" x2="441.4" y2="33.42" stroke="#222" stroke-width="0.8"/>
<line x1="438.2" y1="47.379999999999995" x2="441.4" y2="47.379999999999995" stroke="#222" stroke-width="0.8"/>
<line x1="438.2" y1="61.339999999999996" x2="441.4" y2="61.339999999999996" stroke="#222" stroke-width="0.8"/>
<line x1="438.2" y1="75.3" x2="441.4" y2="75.3" stroke="#222" stroke-width="0.8"/>
<line x1="438.2" y1="40.4" x2="441.4" y2="40.4" stroke="#222" stroke-width="0.8"/>
<text x="437.2" y="42.6" font-size="6.4" fill="#333" stroke="#333" stroke-width="0.064" text-anchor="end">1.2</text>
<line x1="438.2" y1="54.35999999999999" x2="441.4" y2="54.35999999999999" stroke="#222" stroke-width="0.8"/>
<text x="437.2" y="56.559999999999995" font-size="6.4" fill="#333" stroke="#333" stroke-width="0.064" text-anchor="end">0.8</text>
<line x1="438.2" y1="68.32" x2="441.4" y2="68.32" stroke="#222" stroke-width="0.8"/>
<text x="437.2" y="70.52" font-size="6.4" fill="#333" stroke="#333" stroke-width="0.064" text-anchor="end">0.4</text>
<line x1="441.4" y1="78.4" x2="441.4" y2="81.0" stroke="#222" stroke-width="0.8"/>
<text x="441.4" y="90.3" font-size="7.0" fill="#333" stroke="#333" stroke-width="0.070" text-anchor="middle" textLength="14.9" lengthAdjust="spacingAndGlyphs">&#8211;5kb</text>
<line x1="475.0" y1="78.4" x2="475.0" y2="81.0" stroke="#222" stroke-width="0.8"/>
<text x="475.0" y="90.3" font-size="7.0" fill="#333" stroke="#333" stroke-width="0.070" text-anchor="middle" textLength="19.4" lengthAdjust="spacingAndGlyphs">Center</text>
<line x1="508.6" y1="78.4" x2="508.6" y2="81.0" stroke="#222" stroke-width="0.8"/>
<text x="508.6" y="90.3" font-size="7.0" fill="#333" stroke="#333" stroke-width="0.070" text-anchor="middle" textLength="10.8" lengthAdjust="spacingAndGlyphs">5kb</text>
<polyline points="441.40,75.35 441.57,75.35 441.74,75.34 441.90,75.34 442.07,75.34 442.24,75.34 442.41,75.33 442.58,75.33 442.74,75.33 442.91,75.33 443.08,75.32 443.25,75.32 443.42,75.32 443.58,75.31 443.75,75.31 443.92,75.31 444.09,75.30 444.26,75.30 444.42,75.30 444.59,75.29 444.76,75.29 444.93,75.29 445.10,75.28 445.26,75.28 445.43,75.28 445.60,75.27 445.77,75.27 445.94,75.27 446.10,75.26 446.27,75.26 446.44,75.25 446.61,75.25 446.78,75.25 446.94,75.24 447.11,75.24 447.28,75.23 447.45,75.23 447.62,75.22 447.78,75.22 447.95,75.21 448.12,75.21 448.29,75.20 448.46,75.20 448.62,75.19 448.79,75.19 448.96,75.18 449.13,75.18 449.30,75.17 449.46,75.17 449.63,75.16 449.80,75.15 449.97,75.15 450.14,75.14 450.30,75.14 450.47,75.13 450.64,75.12 450.81,75.12 450.98,75.11 451.14,75.10 451.31,75.10 451.48,75.09 451.65,75.08 451.82,75.07 451.98,75.07 452.15,75.06 452.32,75.05 452.49,75.04 452.66,75.03 452.82,75.02 452.99,75.01 453.16,75.01 453.33,75.00 453.50,74.99 453.66,74.98 453.83,74.97 454.00,74.96 454.17,74.95 454.34,74.94 454.50,74.93 454.67,74.91 454.84,74.90 455.01,74.89 455.18,74.88 455.34,74.87 455.51,74.85 455.68,74.84 455.85,74.83 456.02,74.81 456.18,74.80 456.35,74.78 456.52,74.77 456.69,74.75 456.86,74.74 457.02,74.72 457.19,74.71 457.36,74.69 457.53,74.67 457.70,74.65 457.86,74.63 458.03,74.61 458.20,74.59 458.37,74.57 458.54,74.55 458.70,74.53 458.87,74.51 459.04,74.49 459.21,74.46 459.38,74.44 459.54,74.41 459.71,74.39 459.88,74.36 460.05,74.33 460.22,74.30 460.38,74.27 460.55,74.24 460.72,74.21 460.89,74.18 461.06,74.14 461.22,74.11 461.39,74.07 461.56,74.03 461.73,73.99 461.90,73.95 462.06,73.91 462.23,73.86 462.40,73.82 462.57,73.77 462.74,73.72 462.90,73.67 463.07,73.62 463.24,73.56 463.41,73.50 463.58,73.44 463.74,73.38 463.91,73.31 464.08,73.24 464.25,73.17 464.42,73.09 464.58,73.01 464.75,72.93 464.92,72.84 465.09,72.75 465.26,72.65 465.42,72.55 465.59,72.45 465.76,72.34 465.93,72.22 466.10,72.10 466.26,71.97 466.43,71.83 466.60,71.68 466.77,71.53 466.94,71.37 467.10,71.20 467.27,71.02 467.44,70.82 467.61,70.62 467.78,70.40 467.94,70.17 468.11,69.93 468.28,69.67 468.45,69.39 468.62,69.09 468.78,68.77 468.95,68.43 469.12,68.07 469.29,67.68 469.46,67.26 469.62,66.81 469.79,66.32 469.96,65.80 470.13,65.24 470.30,64.64 470.46,63.99 470.63,63.28 470.80,62.53 470.97,61.71 471.14,60.83 471.30,59.87 471.47,58.85 471.64,57.74 471.81,56.56 471.98,55.29 472.14,53.93 472.31,52.49 472.48,50.97 472.65,49.38 472.82,47.72 472.98,46.03 473.15,44.31 473.32,42.60 473.49,40.94 473.66,39.38 473.82,37.95 473.99,36.73 474.16,35.74 474.33,35.04 474.50,34.67 474.66,34.62 474.83,34.92 475.00,35.55 475.17,36.47 475.34,37.64 475.50,39.02 475.67,40.56 475.84,42.20 476.01,43.90 476.18,45.62 476.34,47.32 476.51,48.99 476.68,50.60 476.85,52.14 477.02,53.60 477.18,54.97 477.35,56.26 477.52,57.47 477.69,58.59 477.86,59.64 478.02,60.61 478.19,61.50 478.36,62.34 478.53,63.11 478.70,63.82 478.86,64.49 479.03,65.10 479.20,65.67 479.37,66.20 479.54,66.70 479.70,67.15 479.87,67.58 480.04,67.98 480.21,68.35 480.38,68.69 480.54,69.02 480.71,69.32 480.88,69.60 481.05,69.87 481.22,70.12 481.38,70.35 481.55,70.57 481.72,70.78 481.89,70.97 482.06,71.15 482.22,71.33 482.39,71.49 482.56,71.65 482.73,71.79 482.90,71.93 483.06,72.06 483.23,72.19 483.40,72.31 483.57,72.42 483.74,72.53 483.90,72.63 484.07,72.73 484.24,72.82 484.41,72.91 484.58,72.99 484.74,73.07 484.91,73.15 485.08,73.22 485.25,73.29 485.42,73.36 485.58,73.42 485.75,73.49 485.92,73.55 486.09,73.60 486.26,73.66 486.42,73.71 486.59,73.76 486.76,73.81 486.93,73.85 487.10,73.90 487.26,73.94 487.43,73.98 487.60,74.02 487.77,74.06 487.94,74.10 488.10,74.13 488.27,74.17 488.44,74.20 488.61,74.23 488.78,74.27 488.94,74.30 489.11,74.32 489.28,74.35 489.45,74.38 489.62,74.41 489.78,74.43 489.95,74.46 490.12,74.48 490.29,74.50 490.46,74.53 490.62,74.55 490.79,74.57 490.96,74.59 491.13,74.61 491.30,74.63 491.46,74.65 491.63,74.67 491.80,74.68 491.97,74.70 492.14,74.72 492.30,74.73 492.47,74.75 492.64,74.77 492.81,74.78 492.98,74.80 493.14,74.81 493.31,74.82 493.48,74.84 493.65,74.85 493.82,74.86 493.98,74.88 494.15,74.89 494.32,74.90 494.49,74.91 494.66,74.92 494.82,74.93 494.99,74.94 495.16,74.95 495.33,74.96 495.50,74.97 495.66,74.98 495.83,74.99 496.00,75.00 496.17,75.01 496.34,75.02 496.50,75.03 496.67,75.04 496.84,75.05 497.01,75.06 497.18,75.06 497.34,75.07 497.51,75.08 497.68,75.09 497.85,75.09 498.02,75.10 498.18,75.11 498.35,75.11 498.52,75.12 498.69,75.13 498.86,75.13 499.02,75.14 499.19,75.15 499.36,75.15 499.53,75.16 499.70,75.16 499.86,75.17 500.03,75.18 500.20,75.18 500.37,75.19 500.54,75.19 500.70,75.20 500.87,75.20 501.04,75.21 501.21,75.21 501.38,75.22 501.54,75.22 501.71,75.23 501.88,75.23 502.05,75.24 502.22,75.24 502.38,75.24 502.55,75.25 502.72,75.25 502.89,75.26 503.06,75.26 503.22,75.26 503.39,75.27 503.56,75.27 503.73,75.28 503.90,75.28 504.06,75.28 504.23,75.29 504.40,75.29 504.57,75.29 504.74,75.30 504.90,75.30 505.07,75.30 505.24,75.31 505.41,75.31 505.58,75.31 505.74,75.32 505.91,75.32 506.08,75.32 506.25,75.33 506.42,75.33 506.58,75.33 506.75,75.33 506.92,75.34 507.09,75.34 507.26,75.34 507.42,75.34 507.59,75.35 507.76,75.35 507.93,75.35 508.10,75.35 508.26,75.36 508.43,75.36 508.60,75.36" fill="none" stroke="#8fd18f" stroke-width="0.9" opacity="1" stroke-linejoin="round"/>
<polyline points="441.40,75.05 441.57,75.04 441.74,75.04 441.90,75.04 442.07,75.03 442.24,75.03 442.41,75.03 442.58,75.03 442.74,75.02 442.91,75.02 443.08,75.02 443.25,75.02 443.42,75.01 443.58,75.01 443.75,75.01 443.92,75.00 444.09,75.00 444.26,75.00 444.42,74.99 444.59,74.99 444.76,74.99 444.93,74.98 445.10,74.98 445.26,74.98 445.43,74.97 445.60,74.97 445.77,74.96 445.94,74.96 446.10,74.96 446.27,74.95 446.44,74.95 446.61,74.94 446.78,74.94 446.94,74.94 447.11,74.93 447.28,74.93 447.45,74.92 447.62,74.92 447.78,74.91 447.95,74.91 448.12,74.90 448.29,74.90 448.46,74.89 448.62,74.89 448.79,74.88 448.96,74.88 449.13,74.87 449.30,74.87 449.46,74.86 449.63,74.85 449.80,74.85 449.97,74.84 450.14,74.84 450.30,74.83 450.47,74.82 450.64,74.82 450.81,74.81 450.98,74.80 451.14,74.80 451.31,74.79 451.48,74.78 451.65,74.77 451.82,74.77 451.98,74.76 452.15,74.75 452.32,74.74 452.49,74.73 452.66,74.73 452.82,74.72 452.99,74.71 453.16,74.70 453.33,74.69 453.50,74.68 453.66,74.67 453.83,74.66 454.00,74.65 454.17,74.64 454.34,74.63 454.50,74.62 454.67,74.61 454.84,74.60 455.01,74.58 455.18,74.57 455.34,74.56 455.51,74.55 455.68,74.53 455.85,74.52 456.02,74.51 456.18,74.49 456.35,74.48 456.52,74.46 456.69,74.45 456.86,74.43 457.02,74.42 457.19,74.40 457.36,74.38 457.53,74.37 457.70,74.35 457.86,74.33 458.03,74.31 458.20,74.29 458.37,74.27 458.54,74.25 458.70,74.23 458.87,74.21 459.04,74.19 459.21,74.16 459.38,74.14 459.54,74.12 459.71,74.09 459.88,74.06 460.05,74.04 460.22,74.01 460.38,73.98 460.55,73.95 460.72,73.92 460.89,73.89 461.06,73.85 461.22,73.82 461.39,73.79 461.56,73.75 461.73,73.71 461.90,73.67 462.06,73.63 462.23,73.59 462.40,73.55 462.57,73.50 462.74,73.45 462.90,73.40 463.07,73.35 463.24,73.30 463.41,73.25 463.58,73.19 463.74,73.13 463.91,73.07 464.08,73.00 464.25,72.94 464.42,72.87 464.58,72.79 464.75,72.72 464.92,72.64 465.09,72.56 465.26,72.47 465.42,72.38 465.59,72.28 465.76,72.18 465.93,72.08 466.10,71.97 466.26,71.86 466.43,71.74 466.60,71.61 466.77,71.48 466.94,71.34 467.10,71.20 467.27,71.04 467.44,70.88 467.61,70.71 467.78,70.53 467.94,70.34 468.11,70.14 468.28,69.93 468.45,69.71 468.62,69.48 468.78,69.23 468.95,68.97 469.12,68.70 469.29,68.41 469.46,68.10 469.62,67.78 469.79,67.43 469.96,67.07 470.13,66.69 470.30,66.29 470.46,65.86 470.63,65.41 470.80,64.94 470.97,64.45 471.14,63.93 471.30,63.39 471.47,62.82 471.64,62.23 471.81,61.63 471.98,61.00 472.14,60.36 472.31,59.70 472.48,59.04 472.65,58.38 472.82,57.72 472.98,57.07 473.15,56.45 473.32,55.86 473.49,55.31 473.66,54.81 473.82,54.37 473.99,54.01 474.16,53.72 474.33,53.52 474.50,53.42 474.66,53.41 474.83,53.49 475.00,53.67 475.17,53.93 475.34,54.28 475.50,54.70 475.67,55.18 475.84,55.72 476.01,56.31 476.18,56.92 476.34,57.56 476.51,58.22 476.68,58.88 476.85,59.54 477.02,60.20 477.18,60.85 477.35,61.48 477.52,62.09 477.69,62.68 477.86,63.25 478.02,63.80 478.19,64.33 478.36,64.83 478.53,65.30 478.70,65.76 478.86,66.19 479.03,66.59 479.20,66.98 479.37,67.35 479.54,67.70 479.70,68.02 479.87,68.34 480.04,68.63 480.21,68.91 480.38,69.17 480.54,69.42 480.71,69.66 480.88,69.88 481.05,70.10 481.22,70.30 481.38,70.49 481.55,70.67 481.72,70.84 481.89,71.00 482.06,71.16 482.22,71.31 482.39,71.45 482.56,71.58 482.73,71.71 482.90,71.83 483.06,71.95 483.23,72.06 483.40,72.16 483.57,72.26 483.74,72.36 483.90,72.45 484.07,72.54 484.24,72.62 484.41,72.70 484.58,72.78 484.74,72.85 484.91,72.92 485.08,72.99 485.25,73.05 485.42,73.12 485.58,73.18 485.75,73.23 485.92,73.29 486.09,73.34 486.26,73.39 486.42,73.44 486.59,73.49 486.76,73.54 486.93,73.58 487.10,73.62 487.26,73.66 487.43,73.70 487.60,73.74 487.77,73.78 487.94,73.81 488.10,73.85 488.27,73.88 488.44,73.91 488.61,73.94 488.78,73.97 488.94,74.00 489.11,74.03 489.28,74.06 489.45,74.08 489.62,74.11 489.78,74.13 489.95,74.16 490.12,74.18 490.29,74.20 490.46,74.23 490.62,74.25 490.79,74.27 490.96,74.29 491.13,74.31 491.30,74.33 491.46,74.35 491.63,74.36 491.80,74.38 491.97,74.40 492.14,74.41 492.30,74.43 492.47,74.45 492.64,74.46 492.81,74.48 492.98,74.49 493.14,74.50 493.31,74.52 493.48,74.53 493.65,74.54 493.82,74.56 493.98,74.57 494.15,74.58 494.32,74.59 494.49,74.61 494.66,74.62 494.82,74.63 494.99,74.64 495.16,74.65 495.33,74.66 495.50,74.67 495.66,74.68 495.83,74.69 496.00,74.70 496.17,74.71 496.34,74.72 496.50,74.72 496.67,74.73 496.84,74.74 497.01,74.75 497.18,74.76 497.34,74.76 497.51,74.77 497.68,74.78 497.85,74.79 498.02,74.79 498.18,74.80 498.35,74.81 498.52,74.81 498.69,74.82 498.86,74.83 499.02,74.83 499.19,74.84 499.36,74.85 499.53,74.85 499.70,74.86 499.86,74.86 500.03,74.87 500.20,74.88 500.37,74.88 500.54,74.89 500.70,74.89 500.87,74.90 501.04,74.90 501.21,74.91 501.38,74.91 501.54,74.92 501.71,74.92 501.88,74.93 502.05,74.93 502.22,74.93 502.38,74.94 502.55,74.94 502.72,74.95 502.89,74.95 503.06,74.96 503.22,74.96 503.39,74.96 503.56,74.97 503.73,74.97 503.90,74.97 504.06,74.98 504.23,74.98 504.40,74.98 504.57,74.99 504.74,74.99 504.90,75.00 505.07,75.00 505.24,75.00 505.41,75.00 505.58,75.01 505.74,75.01 505.91,75.01 506.08,75.02 506.25,75.02 506.42,75.02 506.58,75.03 506.75,75.03 506.92,75.03 507.09,75.03 507.26,75.04 507.42,75.04 507.59,75.04 507.76,75.04 507.93,75.05 508.10,75.05 508.26,75.05 508.43,75.05 508.60,75.06" fill="none" stroke="#aaa" stroke-width="1.8" opacity="0.6" stroke-linejoin="round"/>
<polyline points="441.40,75.34 441.57,75.34 441.74,75.34 441.90,75.33 442.07,75.33 442.24,75.33 442.41,75.33 442.58,75.32 442.74,75.32 442.91,75.32 443.08,75.31 443.25,75.31 443.42,75.31 443.58,75.30 443.75,75.30 443.92,75.30 444.09,75.30 444.26,75.29 444.42,75.29 444.59,75.29 444.76,75.28 444.93,75.28 445.10,75.27 445.26,75.27 445.43,75.27 445.60,75.26 445.77,75.26 445.94,75.26 446.10,75.25 446.27,75.25 446.44,75.24 446.61,75.24 446.78,75.23 446.94,75.23 447.11,75.23 447.28,75.22 447.45,75.22 447.62,75.21 447.78,75.21 447.95,75.20 448.12,75.20 448.29,75.19 448.46,75.19 448.62,75.18 448.79,75.18 448.96,75.17 449.13,75.17 449.30,75.16 449.46,75.15 449.63,75.15 449.80,75.14 449.97,75.14 450.14,75.13 450.30,75.12 450.47,75.12 450.64,75.11 450.81,75.10 450.98,75.10 451.14,75.09 451.31,75.08 451.48,75.07 451.65,75.07 451.82,75.06 451.98,75.05 452.15,75.04 452.32,75.04 452.49,75.03 452.66,75.02 452.82,75.01 452.99,75.00 453.16,74.99 453.33,74.98 453.50,74.97 453.66,74.96 453.83,74.95 454.00,74.94 454.17,74.93 454.34,74.92 454.50,74.91 454.67,74.90 454.84,74.89 455.01,74.87 455.18,74.86 455.34,74.85 455.51,74.84 455.68,74.82 455.85,74.81 456.02,74.80 456.18,74.78 456.35,74.77 456.52,74.75 456.69,74.74 456.86,74.72 457.02,74.71 457.19,74.69 457.36,74.67 457.53,74.65 457.70,74.64 457.86,74.62 458.03,74.60 458.20,74.58 458.37,74.56 458.54,74.54 458.70,74.52 458.87,74.49 459.04,74.47 459.21,74.45 459.38,74.42 459.54,74.40 459.71,74.37 459.88,74.35 460.05,74.32 460.22,74.29 460.38,74.26 460.55,74.23 460.72,74.20 460.89,74.17 461.06,74.14 461.22,74.10 461.39,74.06 461.56,74.03 461.73,73.99 461.90,73.95 462.06,73.91 462.23,73.87 462.40,73.82 462.57,73.78 462.74,73.73 462.90,73.68 463.07,73.63 463.24,73.57 463.41,73.52 463.58,73.46 463.74,73.40 463.91,73.34 464.08,73.27 464.25,73.20 464.42,73.13 464.58,73.06 464.75,72.98 464.92,72.90 465.09,72.82 465.26,72.73 465.42,72.64 465.59,72.54 465.76,72.44 465.93,72.34 466.10,72.23 466.26,72.11 466.43,71.99 466.60,71.86 466.77,71.73 466.94,71.59 467.10,71.44 467.27,71.28 467.44,71.12 467.61,70.95 467.78,70.77 467.94,70.58 468.11,70.37 468.28,70.16 468.45,69.94 468.62,69.70 468.78,69.45 468.95,69.19 469.12,68.91 469.29,68.61 469.46,68.30 469.62,67.97 469.79,67.63 469.96,67.26 470.13,66.87 470.30,66.46 470.46,66.03 470.63,65.58 470.80,65.10 470.97,64.60 471.14,64.07 471.30,63.52 471.47,62.95 471.64,62.35 471.81,61.74 471.98,61.10 472.14,60.45 472.31,59.79 472.48,59.12 472.65,58.44 472.82,57.78 472.98,57.12 473.15,56.49 473.32,55.89 473.49,55.33 473.66,54.83 473.82,54.39 473.99,54.02 474.16,53.73 474.33,53.53 474.50,53.42 474.66,53.41 474.83,53.49 475.00,53.67 475.17,53.94 475.34,54.29 475.50,54.72 475.67,55.21 475.84,55.75 476.01,56.35 476.18,56.97 476.34,57.62 476.51,58.28 476.68,58.96 476.85,59.63 477.02,60.29 477.18,60.95 477.35,61.59 477.52,62.21 477.69,62.81 477.86,63.39 478.02,63.94 478.19,64.48 478.36,64.98 478.53,65.47 478.70,65.92 478.86,66.36 479.03,66.78 479.20,67.17 479.37,67.54 479.54,67.89 479.70,68.22 479.87,68.54 480.04,68.84 480.21,69.12 480.38,69.39 480.54,69.64 480.71,69.88 480.88,70.11 481.05,70.32 481.22,70.53 481.38,70.72 481.55,70.91 481.72,71.08 481.89,71.25 482.06,71.40 482.22,71.55 482.39,71.69 482.56,71.83 482.73,71.96 482.90,72.08 483.06,72.20 483.23,72.31 483.40,72.42 483.57,72.52 483.74,72.62 483.90,72.71 484.07,72.80 484.24,72.88 484.41,72.96 484.58,73.04 484.74,73.12 484.91,73.19 485.08,73.26 485.25,73.32 485.42,73.39 485.58,73.45 485.75,73.50 485.92,73.56 486.09,73.61 486.26,73.67 486.42,73.72 486.59,73.76 486.76,73.81 486.93,73.86 487.10,73.90 487.26,73.94 487.43,73.98 487.60,74.02 487.77,74.06 487.94,74.09 488.10,74.13 488.27,74.16 488.44,74.19 488.61,74.22 488.78,74.26 488.94,74.28 489.11,74.31 489.28,74.34 489.45,74.37 489.62,74.39 489.78,74.42 489.95,74.44 490.12,74.47 490.29,74.49 490.46,74.51 490.62,74.53 490.79,74.55 490.96,74.57 491.13,74.59 491.30,74.61 491.46,74.63 491.63,74.65 491.80,74.67 491.97,74.69 492.14,74.70 492.30,74.72 492.47,74.73 492.64,74.75 492.81,74.76 492.98,74.78 493.14,74.79 493.31,74.81 493.48,74.82 493.65,74.83 493.82,74.85 493.98,74.86 494.15,74.87 494.32,74.88 494.49,74.90 494.66,74.91 494.82,74.92 494.99,74.93 495.16,74.94 495.33,74.95 495.50,74.96 495.66,74.97 495.83,74.98 496.00,74.99 496.17,75.00 496.34,75.01 496.50,75.02 496.67,75.02 496.84,75.03 497.01,75.04 497.18,75.05 497.34,75.06 497.51,75.07 497.68,75.07 497.85,75.08 498.02,75.09 498.18,75.09 498.35,75.10 498.52,75.11 498.69,75.11 498.86,75.12 499.02,75.13 499.19,75.13 499.36,75.14 499.53,75.15 499.70,75.15 499.86,75.16 500.03,75.16 500.20,75.17 500.37,75.17 500.54,75.18 500.70,75.19 500.87,75.19 501.04,75.20 501.21,75.20 501.38,75.21 501.54,75.21 501.71,75.22 501.88,75.22 502.05,75.22 502.22,75.23 502.38,75.23 502.55,75.24 502.72,75.24 502.89,75.25 503.06,75.25 503.22,75.25 503.39,75.26 503.56,75.26 503.73,75.27 503.90,75.27 504.06,75.27 504.23,75.28 504.40,75.28 504.57,75.28 504.74,75.29 504.90,75.29 505.07,75.29 505.24,75.30 505.41,75.30 505.58,75.30 505.74,75.31 505.91,75.31 506.08,75.31 506.25,75.32 506.42,75.32 506.58,75.32 506.75,75.33 506.92,75.33 507.09,75.33 507.26,75.33 507.42,75.34 507.59,75.34 507.76,75.34 507.93,75.34 508.10,75.35 508.26,75.35 508.43,75.35 508.60,75.35" fill="none" stroke="#555" stroke-width="0.8" opacity="1" stroke-linejoin="round"/>
<rect x="441.4" y="32.8" width="67.20000000000005" height="45.60000000000001" fill="none" stroke="#111" stroke-width="1.0"/>
<line x1="443.6" y1="39.4" x2="451.3" y2="39.4" stroke="#7cc47c" stroke-width="0.8"/>
<text x="453.8" y="41.5" font-size="6.3" fill="#333" stroke="#333" stroke-width="0.063" textLength="9.7" lengthAdjust="spacingAndGlyphs">ctrl</text>
<line x1="443.6" y1="49.6" x2="451.3" y2="49.6" stroke="#444" stroke-width="0.9"/>
<text x="453.8" y="51.7" font-size="6.3" fill="#333" stroke="#333" stroke-width="0.063" textLength="9.3" lengthAdjust="spacingAndGlyphs">KO</text>
<text x="474.7" y="27.8" font-size="8.4" fill="#222" stroke="#222" stroke-width="0.084" text-anchor="middle" textLength="13.5" lengthAdjust="spacingAndGlyphs">LRF</text>
<ellipse cx="400.2" cy="153.4" rx="15.2" ry="14.8" fill="#f8cd9e"/>
<ellipse cx="431.6" cy="156.4" rx="24.2" ry="19.2" fill="#a7acd3" opacity="0.78"/>
<text x="399.0" y="152.0" font-size="6.6" fill="#333" stroke="#333" stroke-width="0.066" text-anchor="middle" textLength="11.0" lengthAdjust="spacingAndGlyphs">116</text>
<text x="399.0" y="159.3" font-size="6.6" fill="#333" stroke="#333" stroke-width="0.066" text-anchor="middle" textLength="11.5" lengthAdjust="spacingAndGlyphs">(30)</text>
<text x="435.0" y="155.0" font-size="6.6" fill="#333" stroke="#333" stroke-width="0.066" text-anchor="middle" textLength="11.0" lengthAdjust="spacingAndGlyphs">171</text>
<text x="435.0" y="162.5" font-size="6.6" fill="#333" stroke="#333" stroke-width="0.066" text-anchor="middle" textLength="11.5" lengthAdjust="spacingAndGlyphs">(39)</text>
<text x="347.8" y="134.2" font-size="6.8" fill="#333" stroke="#333" stroke-width="0.068" textLength="57.3" lengthAdjust="spacingAndGlyphs">KLF1 diff/DEG day0</text>
<text x="347.8" y="141.2" font-size="6.8" fill="#333" stroke="#333" stroke-width="0.068" textLength="32.5" lengthAdjust="spacingAndGlyphs">T = 132(33)</text>
<text x="424.4" y="185.1" font-size="6.8" fill="#333" stroke="#333" stroke-width="0.068" textLength="54.0" lengthAdjust="spacingAndGlyphs">LRF diff/DEG day0</text>
<text x="424.4" y="191.9" font-size="6.8" fill="#333" stroke="#333" stroke-width="0.068" textLength="34.0" lengthAdjust="spacingAndGlyphs">T = 187(42)</text>
<text x="398.2" y="185.1" font-size="6.8" fill="#333" stroke="#333" stroke-width="0.068" text-anchor="middle" textLength="16.4" lengthAdjust="spacingAndGlyphs">16 (3)</text>
<line x1="401.0" y1="175.2" x2="411.6" y2="157.0" stroke="#2a3a6a" stroke-width="0.9"/>
<path d="M413.6,153.6 L409.5,157.2 L413.0,158.6 Z" fill="#2a3a6a" stroke="none" stroke-width="1"/>
<rect x="147.3" y="252.3" width="6.699999999999989" height="5.800000000000011" fill="#1d4f8c" stroke="none" stroke-width="1"/>
<rect x="147.3" y="262.7" width="22.5" height="5.800000000000011" fill="#c8102e" stroke="none" stroke-width="1"/>
<rect x="147.3" y="273.3" width="29.19999999999999" height="5.699999999999989" fill="#c8102e" stroke="none" stroke-width="1"/>
<rect x="147.3" y="283.8" width="29.599999999999994" height="5.800000000000011" fill="#c8102e" stroke="none" stroke-width="1"/>
<rect x="147.3" y="294.0" width="39.19999999999999" height="6.199999999999989" fill="#c8102e" stroke="none" stroke-width="1"/>
<rect x="147.3" y="304.6" width="43.099999999999994" height="6.199999999999989" fill="#c8102e" stroke="none" stroke-width="1"/>
<rect x="147.3" y="315.2" width="56.69999999999999" height="6.100000000000023" fill="#c8102e" stroke="none" stroke-width="1"/>
<line x1="147.3" y1="247.9" x2="147.3" y2="325.2" stroke="#222" stroke-width="0.9"/>
<line x1="146.9" y1="324.8" x2="226.9" y2="324.8" stroke="#222" stroke-width="0.9"/>
<line x1="144.70000000000002" y1="255.2" x2="147.3" y2="255.2" stroke="#222" stroke-width="0.8"/>
<line x1="144.70000000000002" y1="265.6" x2="147.3" y2="265.6" stroke="#222" stroke-width="0.8"/>
<line x1="144.70000000000002" y1="276.2" x2="147.3" y2="276.2" stroke="#222" stroke-width="0.8"/>
<line x1="144.70000000000002" y1="286.9" x2="147.3" y2="286.9" stroke="#222" stroke-width="0.8"/>
<line x1="144.70000000000002" y1="297.1" x2="147.3" y2="297.1" stroke="#222" stroke-width="0.8"/>
<line x1="144.70000000000002" y1="307.7" x2="147.3" y2="307.7" stroke="#222" stroke-width="0.8"/>
<line x1="144.70000000000002" y1="318.2" x2="147.3" y2="318.2" stroke="#222" stroke-width="0.8"/>
<line x1="147.3" y1="324.8" x2="147.3" y2="327.2" stroke="#222" stroke-width="0.8"/>
<text x="147.3" y="336.6" font-size="6.5" fill="#333" stroke="#333" stroke-width="0.065" text-anchor="middle">0</text>
<line x1="166.5" y1="324.8" x2="166.5" y2="327.2" stroke="#222" stroke-width="0.8"/>
<text x="166.5" y="336.6" font-size="6.5" fill="#333" stroke="#333" stroke-width="0.065" text-anchor="middle">5</text>
<line x1="185.70000000000002" y1="324.8" x2="185.70000000000002" y2="327.2" stroke="#222" stroke-width="0.8"/>
<text x="185.70000000000002" y="336.6" font-size="6.5" fill="#333" stroke="#333" stroke-width="0.065" text-anchor="middle">10</text>
<line x1="204.9" y1="324.8" x2="204.9" y2="327.2" stroke="#222" stroke-width="0.8"/>
<text x="204.9" y="336.6" font-size="6.5" fill="#333" stroke="#333" stroke-width="0.065" text-anchor="middle">15</text>
<line x1="224.10000000000002" y1="324.8" x2="224.10000000000002" y2="327.2" stroke="#222" stroke-width="0.8"/>
<text x="224.10000000000002" y="336.6" font-size="6.5" fill="#333" stroke="#333" stroke-width="0.065" text-anchor="middle">20</text>
<text x="187.5" y="347.6" font-size="8.2" fill="#333" stroke="#333" stroke-width="0.082" text-anchor="middle" textLength="36.6" lengthAdjust="spacingAndGlyphs">-log<tspan font-size="6.0" dy="2.0">10</tspan><tspan dy="-2.0">(padj)</tspan></text>
<text x="141.0" y="255.0" font-size="6.4" fill="#333" stroke="#333" stroke-width="0.064" text-anchor="end" textLength="78.3" lengthAdjust="spacingAndGlyphs">organonitrogen compound</text>
<text x="141.0" y="261.0" font-size="6.4" fill="#333" stroke="#333" stroke-width="0.064" text-anchor="end" textLength="53.1" lengthAdjust="spacingAndGlyphs">metabolic process</text>
<text x="141.0" y="267.8" font-size="6.4" fill="#333" stroke="#333" stroke-width="0.064" text-anchor="end" textLength="70.5" lengthAdjust="spacingAndGlyphs">Regulation of Apoptosis</text>
<text x="141.0" y="278.40000000000003" font-size="6.4" fill="#333" stroke="#333" stroke-width="0.064" text-anchor="end" textLength="81.4" lengthAdjust="spacingAndGlyphs">Cellular responses to stimuli</text>
<text x="141.0" y="289.0" font-size="6.4" fill="#333" stroke="#333" stroke-width="0.064" text-anchor="end" textLength="78.7" lengthAdjust="spacingAndGlyphs">Cellular responses to stress</text>
<text x="141.0" y="299.8" font-size="6.4" fill="#333" stroke="#333" stroke-width="0.064" text-anchor="end" textLength="49.4" lengthAdjust="spacingAndGlyphs">rRNA processing</text>
<text x="141.0" y="310.0" font-size="6.4" fill="#333" stroke="#333" stroke-width="0.064" text-anchor="end" textLength="57.1" lengthAdjust="spacingAndGlyphs">Metabolism of RNA</text>
<text x="141.0" y="320.5" font-size="6.4" fill="#333" stroke="#333" stroke-width="0.064" text-anchor="end" textLength="30.2" lengthAdjust="spacingAndGlyphs">translation</text>
<text x="237.10000000000002" y="274.9" font-size="6.6" fill="#333" stroke="#333" stroke-width="0.066">132</text>
<rect x="227.3" y="279.99999999999994" width="6.0" height="5.8" fill="#c8102e" stroke="none" stroke-width="1"/>
<text x="237.10000000000002" y="284.99999999999994" font-size="6.6" fill="#333" stroke="#333" stroke-width="0.066">up</text>
<rect x="227.3" y="290.24999999999994" width="6.0" height="5.8" fill="#1d4f8c" stroke="none" stroke-width="1"/>
<text x="237.10000000000002" y="295.24999999999994" font-size="6.6" fill="#333" stroke="#333" stroke-width="0.066">down</text>
<rect x="384.3" y="252.7" width="26.099999999999966" height="6.100000000000023" fill="#1d4f8c" stroke="none" stroke-width="1"/>
<rect x="384.3" y="263.3" width="29.69999999999999" height="6.099999999999966" fill="#1d4f8c" stroke="none" stroke-width="1"/>
<rect x="384.3" y="273.5" width="17.399999999999977" height="6.100000000000023" fill="#c8102e" stroke="none" stroke-width="1"/>
<rect x="384.3" y="284.0" width="27.80000000000001" height="6.199999999999989" fill="#c8102e" stroke="none" stroke-width="1"/>
<rect x="384.3" y="294.4" width="28.80000000000001" height="6.400000000000034" fill="#c8102e" stroke="none" stroke-width="1"/>
<rect x="384.3" y="305.0" width="53.80000000000001" height="6.199999999999989" fill="#c8102e" stroke="none" stroke-width="1"/>
<rect x="384.3" y="315.6" width="72.59999999999997" height="6.399999999999977" fill="#c8102e" stroke="none" stroke-width="1"/>
<line x1="384.3" y1="247.9" x2="384.3" y2="325.0" stroke="#222" stroke-width="0.9"/>
<line x1="383.90000000000003" y1="324.6" x2="465.6" y2="324.6" stroke="#222" stroke-width="0.9"/>
<line x1="381.7" y1="255.7" x2="384.3" y2="255.7" stroke="#222" stroke-width="0.8"/>
<line x1="381.7" y1="266.3" x2="384.3" y2="266.3" stroke="#222" stroke-width="0.8"/>
<line x1="381.7" y1="276.5" x2="384.3" y2="276.5" stroke="#222" stroke-width="0.8"/>
<line x1="381.7" y1="287.1" x2="384.3" y2="287.1" stroke="#222" stroke-width="0.8"/>
<line x1="381.7" y1="297.6" x2="384.3" y2="297.6" stroke="#222" stroke-width="0.8"/>
<line x1="381.7" y1="308.1" x2="384.3" y2="308.1" stroke="#222" stroke-width="0.8"/>
<line x1="381.7" y1="318.8" x2="384.3" y2="318.8" stroke="#222" stroke-width="0.8"/>
<line x1="384.3" y1="324.6" x2="384.3" y2="327.0" stroke="#222" stroke-width="0.8"/>
<text x="384.3" y="336.40000000000003" font-size="6.5" fill="#333" stroke="#333" stroke-width="0.065" text-anchor="middle">0</text>
<line x1="400.1" y1="324.6" x2="400.1" y2="327.0" stroke="#222" stroke-width="0.8"/>
<text x="400.1" y="336.40000000000003" font-size="6.5" fill="#333" stroke="#333" stroke-width="0.065" text-anchor="middle">1</text>
<line x1="415.90000000000003" y1="324.6" x2="415.90000000000003" y2="327.0" stroke="#222" stroke-width="0.8"/>
<text x="415.90000000000003" y="336.40000000000003" font-size="6.5" fill="#333" stroke="#333" stroke-width="0.065" text-anchor="middle">2</text>
<line x1="431.70000000000005" y1="324.6" x2="431.70000000000005" y2="327.0" stroke="#222" stroke-width="0.8"/>
<text x="431.70000000000005" y="336.40000000000003" font-size="6.5" fill="#333" stroke="#333" stroke-width="0.065" text-anchor="middle">3</text>
<line x1="447.5" y1="324.6" x2="447.5" y2="327.0" stroke="#222" stroke-width="0.8"/>
<text x="447.5" y="336.40000000000003" font-size="6.5" fill="#333" stroke="#333" stroke-width="0.065" text-anchor="middle">4</text>
<line x1="463.3" y1="324.6" x2="463.3" y2="327.0" stroke="#222" stroke-width="0.8"/>
<text x="463.3" y="336.40000000000003" font-size="6.5" fill="#333" stroke="#333" stroke-width="0.065" text-anchor="middle">5</text>
<text x="425.8" y="347.40000000000003" font-size="8.2" fill="#333" stroke="#333" stroke-width="0.082" text-anchor="middle" textLength="36.6" lengthAdjust="spacingAndGlyphs">-log<tspan font-size="6.0" dy="2.0">10</tspan><tspan dy="-2.0">(padj)</tspan></text>
<text x="378.1" y="257.7" font-size="6.4" fill="#333" stroke="#333" stroke-width="0.064" text-anchor="end" textLength="64.6" lengthAdjust="spacingAndGlyphs">regulation of cell cycle</text>
<text x="378.1" y="268.1" font-size="6.4" fill="#333" stroke="#333" stroke-width="0.064" text-anchor="end" textLength="110.3" lengthAdjust="spacingAndGlyphs">negative regulation of cellular process</text>
<text x="378.1" y="278.7" font-size="6.4" fill="#333" stroke="#333" stroke-width="0.064" text-anchor="end" textLength="70.4" lengthAdjust="spacingAndGlyphs">heme metabolic process</text>
<text x="378.1" y="289.1" font-size="6.4" fill="#333" stroke="#333" stroke-width="0.064" text-anchor="end" textLength="77.3" lengthAdjust="spacingAndGlyphs">heme biosynthetic process</text>
<text x="378.1" y="299.6" font-size="6.4" fill="#333" stroke="#333" stroke-width="0.064" text-anchor="end" textLength="81.2" lengthAdjust="spacingAndGlyphs">Cellular responses to stimuli</text>
<text x="378.1" y="310.1" font-size="6.4" fill="#333" stroke="#333" stroke-width="0.064" text-anchor="end" textLength="73.4" lengthAdjust="spacingAndGlyphs">Mitochondrial biogenesis</text>
<text x="378.1" y="317.90000000000003" font-size="6.4" fill="#333" stroke="#333" stroke-width="0.064" text-anchor="end" textLength="78.0" lengthAdjust="spacingAndGlyphs">organonitrogen compound</text>
<text x="378.1" y="324.7" font-size="6.4" fill="#333" stroke="#333" stroke-width="0.064" text-anchor="end" textLength="58.8" lengthAdjust="spacingAndGlyphs">biosynthetic process</text>
<text x="476.1" y="275.2" font-size="6.6" fill="#333" stroke="#333" stroke-width="0.066">187</text>
<rect x="466.3" y="280.2" width="6.0" height="5.8" fill="#c8102e" stroke="none" stroke-width="1"/>
<text x="476.1" y="285.2" font-size="6.6" fill="#333" stroke="#333" stroke-width="0.066">up</text>
<rect x="466.3" y="290.45" width="6.0" height="5.8" fill="#1d4f8c" stroke="none" stroke-width="1"/>
<text x="476.1" y="295.45" font-size="6.6" fill="#333" stroke="#333" stroke-width="0.066">down</text>
<rect x="147.3" y="372.5" width="15.399999999999977" height="5.800000000000011" fill="#c8102e" stroke="none" stroke-width="1"/>
<rect x="147.3" y="383.1" width="23.5" height="6.099999999999966" fill="#c8102e" stroke="none" stroke-width="1"/>
<rect x="147.3" y="394.0" width="60.39999999999998" height="6.0" fill="#c8102e" stroke="none" stroke-width="1"/>
<rect x="147.3" y="404.8" width="61.0" height="6.199999999999989" fill="#c8102e" stroke="none" stroke-width="1"/>
<rect x="147.3" y="415.8" width="72.5" height="6.099999999999966" fill="#c8102e" stroke="none" stroke-width="1"/>
<line x1="147.3" y1="369.2" x2="147.3" y2="425.4" stroke="#222" stroke-width="0.9"/>
<line x1="146.9" y1="425.0" x2="226.9" y2="425.0" stroke="#222" stroke-width="0.9"/>
<line x1="144.70000000000002" y1="375.4" x2="147.3" y2="375.4" stroke="#222" stroke-width="0.8"/>
<line x1="144.70000000000002" y1="386.1" x2="147.3" y2="386.1" stroke="#222" stroke-width="0.8"/>
<line x1="144.70000000000002" y1="397.0" x2="147.3" y2="397.0" stroke="#222" stroke-width="0.8"/>
<line x1="144.70000000000002" y1="407.9" x2="147.3" y2="407.9" stroke="#222" stroke-width="0.8"/>
<line x1="144.70000000000002" y1="418.8" x2="147.3" y2="418.8" stroke="#222" stroke-width="0.8"/>
<line x1="147.3" y1="425.0" x2="147.3" y2="427.4" stroke="#222" stroke-width="0.8"/>
<text x="147.3" y="436.8" font-size="6.5" fill="#333" stroke="#333" stroke-width="0.065" text-anchor="middle">0</text>
<line x1="166.5" y1="425.0" x2="166.5" y2="427.4" stroke="#222" stroke-width="0.8"/>
<text x="166.5" y="436.8" font-size="6.5" fill="#333" stroke="#333" stroke-width="0.065" text-anchor="middle">2</text>
<line x1="185.70000000000002" y1="425.0" x2="185.70000000000002" y2="427.4" stroke="#222" stroke-width="0.8"/>
<text x="185.70000000000002" y="436.8" font-size="6.5" fill="#333" stroke="#333" stroke-width="0.065" text-anchor="middle">4</text>
<line x1="204.9" y1="425.0" x2="204.9" y2="427.4" stroke="#222" stroke-width="0.8"/>
<text x="204.9" y="436.8" font-size="6.5" fill="#333" stroke="#333" stroke-width="0.065" text-anchor="middle">6</text>
<line x1="224.10000000000002" y1="425.0" x2="224.10000000000002" y2="427.4" stroke="#222" stroke-width="0.8"/>
<text x="224.10000000000002" y="436.8" font-size="6.5" fill="#333" stroke="#333" stroke-width="0.065" text-anchor="middle">8</text>
<text x="187.5" y="447.8" font-size="8.2" fill="#333" stroke="#333" stroke-width="0.082" text-anchor="middle" textLength="36.6" lengthAdjust="spacingAndGlyphs">-log<tspan font-size="6.0" dy="2.0">10</tspan><tspan dy="-2.0">(padj)</tspan></text>
<text x="141.0" y="377.7" font-size="6.4" fill="#333" stroke="#333" stroke-width="0.064" text-anchor="end" textLength="60.2" lengthAdjust="spacingAndGlyphs">ribosome biogenesis</text>
<text x="141.0" y="388.7" font-size="6.4" fill="#333" stroke="#333" stroke-width="0.064" text-anchor="end" textLength="105.9" lengthAdjust="spacingAndGlyphs">organophosphate metabolic process</text>
<text x="141.0" y="396.6" font-size="6.4" fill="#333" stroke="#333" stroke-width="0.064" text-anchor="end" textLength="78.2" lengthAdjust="spacingAndGlyphs">organonitrogen compound</text>
<text x="141.0" y="403.3" font-size="6.4" fill="#333" stroke="#333" stroke-width="0.064" text-anchor="end" textLength="53.3" lengthAdjust="spacingAndGlyphs">metabolic process</text>
<text x="141.0" y="410.3" font-size="6.4" fill="#333" stroke="#333" stroke-width="0.064" text-anchor="end" textLength="75.2" lengthAdjust="spacingAndGlyphs">protein metabolic process</text>
<text x="141.0" y="420.90000000000003" font-size="6.4" fill="#333" stroke="#333" stroke-width="0.064" text-anchor="end" textLength="30.2" lengthAdjust="spacingAndGlyphs">translation</text>
<text x="237.10000000000002" y="388.8" font-size="6.6" fill="#333" stroke="#333" stroke-width="0.066">33</text>
<rect x="227.3" y="396.9" width="6.0" height="5.8" fill="#c8102e" stroke="none" stroke-width="1"/>
<text x="237.10000000000002" y="401.9" font-size="6.6" fill="#333" stroke="#333" stroke-width="0.066">up</text>
<rect x="384.6" y="366.2" width="39.19999999999999" height="5.699999999999989" fill="#1d4f8c" stroke="none" stroke-width="1"/>
<rect x="384.6" y="375.8" width="32.299999999999955" height="5.699999999999989" fill="#c8102e" stroke="none" stroke-width="1"/>
<rect x="384.6" y="385.8" width="47.299999999999955" height="6.099999999999966" fill="#c8102e" stroke="none" stroke-width="1"/>
<rect x="384.6" y="395.8" width="47.299999999999955" height="6.099999999999966" fill="#c8102e" stroke="none" stroke-width="1"/>
<rect x="384.6" y="405.4" width="50.599999999999966" height="6.300000000000011" fill="#c8102e" stroke="none" stroke-width="1"/>
<rect x="384.6" y="415.6" width="66.19999999999999" height="6.099999999999966" fill="#c8102e" stroke="none" stroke-width="1"/>
<line x1="384.6" y1="362.3" x2="384.6" y2="425.0" stroke="#222" stroke-width="0.9"/>
<line x1="384.20000000000005" y1="424.6" x2="465.6" y2="424.6" stroke="#222" stroke-width="0.9"/>
<line x1="382.0" y1="369.0" x2="384.6" y2="369.0" stroke="#222" stroke-width="0.8"/>
<line x1="382.0" y1="378.6" x2="384.6" y2="378.6" stroke="#222" stroke-width="0.8"/>
<line x1="382.0" y1="388.8" x2="384.6" y2="388.8" stroke="#222" stroke-width="0.8"/>
<line x1="382.0" y1="398.8" x2="384.6" y2="398.8" stroke="#222" stroke-width="0.8"/>
<line x1="382.0" y1="408.5" x2="384.6" y2="408.5" stroke="#222" stroke-width="0.8"/>
<line x1="382.0" y1="418.6" x2="384.6" y2="418.6" stroke="#222" stroke-width="0.8"/>
<line x1="384.6" y1="424.6" x2="384.6" y2="427.0" stroke="#222" stroke-width="0.8"/>
<text x="384.6" y="436.40000000000003" font-size="6.5" fill="#333" stroke="#333" stroke-width="0.065" text-anchor="middle">0</text>
<line x1="404.20000000000005" y1="424.6" x2="404.20000000000005" y2="427.0" stroke="#222" stroke-width="0.8"/>
<text x="404.20000000000005" y="436.40000000000003" font-size="6.5" fill="#333" stroke="#333" stroke-width="0.065" text-anchor="middle">1</text>
<line x1="423.8" y1="424.6" x2="423.8" y2="427.0" stroke="#222" stroke-width="0.8"/>
<text x="423.8" y="436.40000000000003" font-size="6.5" fill="#333" stroke="#333" stroke-width="0.065" text-anchor="middle">2</text>
<line x1="443.40000000000003" y1="424.6" x2="443.40000000000003" y2="427.0" stroke="#222" stroke-width="0.8"/>
<text x="443.40000000000003" y="436.40000000000003" font-size="6.5" fill="#333" stroke="#333" stroke-width="0.065" text-anchor="middle">3</text>
<line x1="463.0" y1="424.6" x2="463.0" y2="427.0" stroke="#222" stroke-width="0.8"/>
<text x="463.0" y="436.40000000000003" font-size="6.5" fill="#333" stroke="#333" stroke-width="0.065" text-anchor="middle">4</text>
<text x="425.8" y="447.40000000000003" font-size="8.2" fill="#333" stroke="#333" stroke-width="0.082" text-anchor="middle" textLength="36.6" lengthAdjust="spacingAndGlyphs">-log<tspan font-size="6.0" dy="2.0">10</tspan><tspan dy="-2.0">(padj)</tspan></text>
<text x="378.1" y="370.90000000000003" font-size="6.4" fill="#333" stroke="#333" stroke-width="0.064" text-anchor="end" textLength="64.8" lengthAdjust="spacingAndGlyphs">regulation of cell cycle</text>
<text x="378.1" y="380.90000000000003" font-size="6.4" fill="#333" stroke="#333" stroke-width="0.064" text-anchor="end" textLength="74.9" lengthAdjust="spacingAndGlyphs">erythrocyte differentiation</text>
<text x="378.1" y="391.0" font-size="6.4" fill="#333" stroke="#333" stroke-width="0.064" text-anchor="end" textLength="69.9" lengthAdjust="spacingAndGlyphs">heme metabolic process</text>
<text x="378.1" y="401.1" font-size="6.4" fill="#333" stroke="#333" stroke-width="0.064" text-anchor="end" textLength="69.9" lengthAdjust="spacingAndGlyphs">erythrocyte homeostasis</text>
<text x="378.1" y="410.7" font-size="6.4" fill="#333" stroke="#333" stroke-width="0.064" text-anchor="end" textLength="76.7" lengthAdjust="spacingAndGlyphs">heme biosynthetic process</text>
<text x="378.1" y="417.7" font-size="6.4" fill="#333" stroke="#333" stroke-width="0.064" text-anchor="end" textLength="78.0" lengthAdjust="spacingAndGlyphs">organonitrogen compound</text>
<text x="378.1" y="424.5" font-size="6.4" fill="#333" stroke="#333" stroke-width="0.064" text-anchor="end" textLength="52.4" lengthAdjust="spacingAndGlyphs">metabolic process</text>
<text x="476.1" y="378.75" font-size="6.6" fill="#333" stroke="#333" stroke-width="0.066">42</text>
<rect x="466.3" y="387.09999999999997" width="6.0" height="5.8" fill="#c8102e" stroke="none" stroke-width="1"/>
<text x="476.1" y="392.09999999999997" font-size="6.6" fill="#333" stroke="#333" stroke-width="0.066">up</text>
<rect x="466.3" y="397.34999999999997" width="6.0" height="5.8" fill="#1d4f8c" stroke="none" stroke-width="1"/>
<text x="476.1" y="402.34999999999997" font-size="6.6" fill="#333" stroke="#333" stroke-width="0.066">down</text>
<text x="136.0" y="237.2" font-size="8.3" fill="#222" stroke="#222" stroke-width="0.083" text-anchor="middle" textLength="100.4" lengthAdjust="spacingAndGlyphs">KLF1 diffbinds DEGs day0</text>
<text x="380.0" y="237.9" font-size="8.3" fill="#222" stroke="#222" stroke-width="0.083" text-anchor="middle" textLength="96.0" lengthAdjust="spacingAndGlyphs">LRF diffbinds DEGs day0</text>
<text transform="translate(26.2,300.6) rotate(-90)" font-size="8.4" fill="#333" stroke="#333" stroke-width="0.15" textLength="27.8" lengthAdjust="spacingAndGlyphs">All genes</text>
<text transform="translate(26.2,419.7) rotate(-90)" font-size="8.4" fill="#333" stroke="#333" stroke-width="0.15" textLength="46.6" lengthAdjust="spacingAndGlyphs">Erythroid genes</text>
<line x1="165.2" y1="477.7" x2="422.7" y2="477.7" stroke="#4a5a95" stroke-width="0.6"/>
<line x1="167" y1="477.09999999999997" x2="167.6" y2="478.3" stroke="#6a78aa" stroke-width="0.3"/>
<line x1="169" y1="477.09999999999997" x2="169.6" y2="478.3" stroke="#6a78aa" stroke-width="0.3"/>
<line x1="171" y1="477.09999999999997" x2="171.6" y2="478.3" stroke="#6a78aa" stroke-width="0.3"/>
<line x1="173" y1="477.09999999999997" x2="173.6" y2="478.3" stroke="#6a78aa" stroke-width="0.3"/>
<line x1="175" y1="477.09999999999997" x2="175.6" y2="478.3" stroke="#6a78aa" stroke-width="0.3"/>
<line x1="177" y1="477.09999999999997" x2="177.6" y2="478.3" stroke="#6a78aa" stroke-width="0.3"/>
<line x1="179" y1="477.09999999999997" x2="179.6" y2="478.3" stroke="#6a78aa" stroke-width="0.3"/>
<line x1="181" y1="477.09999999999997" x2="181.6" y2="478.3" stroke="#6a78aa" stroke-width="0.3"/>
<line x1="183" y1="477.09999999999997" x2="183.6" y2="478.3" stroke="#6a78aa" stroke-width="0.3"/>
<line x1="185" y1="477.09999999999997" x2="185.6" y2="478.3" stroke="#6a78aa" stroke-width="0.3"/>
<line x1="187" y1="477.09999999999997" x2="187.6" y2="478.3" stroke="#6a78aa" stroke-width="0.3"/>
<line x1="189" y1="477.09999999999997" x2="189.6" y2="478.3" stroke="#6a78aa" stroke-width="0.3"/>
<line x1="191" y1="477.09999999999997" x2="191.6" y2="478.3" stroke="#6a78aa" stroke-width="0.3"/>
<line x1="193" y1="477.09999999999997" x2="193.6" y2="478.3" stroke="#6a78aa" stroke-width="0.3"/>
<line x1="195" y1="477.09999999999997" x2="195.6" y2="478.3" stroke="#6a78aa" stroke-width="0.3"/>
<line x1="197" y1="477.09999999999997" x2="197.6" y2="478.3" stroke="#6a78aa" stroke-width="0.3"/>
<line x1="199" y1="477.09999999999997" x2="199.6" y2="478.3" stroke="#6a78aa" stroke-width="0.3"/>
<line x1="201" y1="477.09999999999997" x2="201.6" y2="478.3" stroke="#6a78aa" stroke-width="0.3"/>
<line x1="203" y1="477.09999999999997" x2="203.6" y2="478.3" stroke="#6a78aa" stroke-width="0.3"/>
<line x1="205" y1="477.09999999999997" x2="205.6" y2="478.3" stroke="#6a78aa" stroke-width="0.3"/>
<line x1="207" y1="477.09999999999997" x2="207.6" y2="478.3" stroke="#6a78aa" stroke-width="0.3"/>
<line x1="209" y1="477.09999999999997" x2="209.6" y2="478.3" stroke="#6a78aa" stroke-width="0.3"/>
<line x1="211" y1="477.09999999999997" x2="211.6" y2="478.3" stroke="#6a78aa" stroke-width="0.3"/>
<line x1="213" y1="477.09999999999997" x2="213.6" y2="478.3" stroke="#6a78aa" stroke-width="0.3"/>
<line x1="215" y1="477.09999999999997" x2="215.6" y2="478.3" stroke="#6a78aa" stroke-width="0.3"/>
<line x1="217" y1="477.09999999999997" x2="217.6" y2="478.3" stroke="#6a78aa" stroke-width="0.3"/>
<line x1="219" y1="477.09999999999997" x2="219.6" y2="478.3" stroke="#6a78aa" stroke-width="0.3"/>
<line x1="221" y1="477.09999999999997" x2="221.6" y2="478.3" stroke="#6a78aa" stroke-width="0.3"/>
<line x1="223" y1="477.09999999999997" x2="223.6" y2="478.3" stroke="#6a78aa" stroke-width="0.3"/>
<line x1="225" y1="477.09999999999997" x2="225.6" y2="478.3" stroke="#6a78aa" stroke-width="0.3"/>
<line x1="227" y1="477.09999999999997" x2="227.6" y2="478.3" stroke="#6a78aa" stroke-width="0.3"/>
<line x1="229" y1="477.09999999999997" x2="229.6" y2="478.3" stroke="#6a78aa" stroke-width="0.3"/>
<line x1="231" y1="477.09999999999997" x2="231.6" y2="478.3" stroke="#6a78aa" stroke-width="0.3"/>
<line x1="233" y1="477.09999999999997" x2="233.6" y2="478.3" stroke="#6a78aa" stroke-width="0.3"/>
<line x1="235" y1="477.09999999999997" x2="235.6" y2="478.3" stroke="#6a78aa" stroke-width="0.3"/>
<line x1="237" y1="477.09999999999997" x2="237.6" y2="478.3" stroke="#6a78aa" stroke-width="0.3"/>
<line x1="239" y1="477.09999999999997" x2="239.6" y2="478.3" stroke="#6a78aa" stroke-width="0.3"/>
<line x1="241" y1="477.09999999999997" x2="241.6" y2="478.3" stroke="#6a78aa" stroke-width="0.3"/>
<line x1="243" y1="477.09999999999997" x2="243.6" y2="478.3" stroke="#6a78aa" stroke-width="0.3"/>
<line x1="245" y1="477.09999999999997" x2="245.6" y2="478.3" stroke="#6a78aa" stroke-width="0.3"/>
<line x1="247" y1="477.09999999999997" x2="247.6" y2="478.3" stroke="#6a78aa" stroke-width="0.3"/>
<line x1="249" y1="477.09999999999997" x2="249.6" y2="478.3" stroke="#6a78aa" stroke-width="0.3"/>
<line x1="251" y1="477.09999999999997" x2="251.6" y2="478.3" stroke="#6a78aa" stroke-width="0.3"/>
<line x1="253" y1="477.09999999999997" x2="253.6" y2="478.3" stroke="#6a78aa" stroke-width="0.3"/>
<line x1="255" y1="477.09999999999997" x2="255.6" y2="478.3" stroke="#6a78aa" stroke-width="0.3"/>
<line x1="257" y1="477.09999999999997" x2="257.6" y2="478.3" stroke="#6a78aa" stroke-width="0.3"/>
<line x1="259" y1="477.09999999999997" x2="259.6" y2="478.3" stroke="#6a78aa" stroke-width="0.3"/>
<line x1="261" y1="477.09999999999997" x2="261.6" y2="478.3" stroke="#6a78aa" stroke-width="0.3"/>
<line x1="263" y1="477.09999999999997" x2="263.6" y2="478.3" stroke="#6a78aa" stroke-width="0.3"/>
<line x1="265" y1="477.09999999999997" x2="265.6" y2="478.3" stroke="#6a78aa" stroke-width="0.3"/>
<line x1="267" y1="477.09999999999997" x2="267.6" y2="478.3" stroke="#6a78aa" stroke-width="0.3"/>
<line x1="269" y1="477.09999999999997" x2="269.6" y2="478.3" stroke="#6a78aa" stroke-width="0.3"/>
<line x1="271" y1="477.09999999999997" x2="271.6" y2="478.3" stroke="#6a78aa" stroke-width="0.3"/>
<line x1="273" y1="477.09999999999997" x2="273.6" y2="478.3" stroke="#6a78aa" stroke-width="0.3"/>
<line x1="275" y1="477.09999999999997" x2="275.6" y2="478.3" stroke="#6a78aa" stroke-width="0.3"/>
<line x1="277" y1="477.09999999999997" x2="277.6" y2="478.3" stroke="#6a78aa" stroke-width="0.3"/>
<line x1="279" y1="477.09999999999997" x2="279.6" y2="478.3" stroke="#6a78aa" stroke-width="0.3"/>
<line x1="281" y1="477.09999999999997" x2="281.6" y2="478.3" stroke="#6a78aa" stroke-width="0.3"/>
<line x1="283" y1="477.09999999999997" x2="283.6" y2="478.3" stroke="#6a78aa" stroke-width="0.3"/>
<line x1="285" y1="477.09999999999997" x2="285.6" y2="478.3" stroke="#6a78aa" stroke-width="0.3"/>
<line x1="287" y1="477.09999999999997" x2="287.6" y2="478.3" stroke="#6a78aa" stroke-width="0.3"/>
<line x1="289" y1="477.09999999999997" x2="289.6" y2="478.3" stroke="#6a78aa" stroke-width="0.3"/>
<line x1="291" y1="477.09999999999997" x2="291.6" y2="478.3" stroke="#6a78aa" stroke-width="0.3"/>
<line x1="293" y1="477.09999999999997" x2="293.6" y2="478.3" stroke="#6a78aa" stroke-width="0.3"/>
<line x1="295" y1="477.09999999999997" x2="295.6" y2="478.3" stroke="#6a78aa" stroke-width="0.3"/>
<line x1="297" y1="477.09999999999997" x2="297.6" y2="478.3" stroke="#6a78aa" stroke-width="0.3"/>
<line x1="299" y1="477.09999999999997" x2="299.6" y2="478.3" stroke="#6a78aa" stroke-width="0.3"/>
<line x1="301" y1="477.09999999999997" x2="301.6" y2="478.3" stroke="#6a78aa" stroke-width="0.3"/>
<line x1="303" y1="477.09999999999997" x2="303.6" y2="478.3" stroke="#6a78aa" stroke-width="0.3"/>
<line x1="305" y1="477.09999999999997" x2="305.6" y2="478.3" stroke="#6a78aa" stroke-width="0.3"/>
<line x1="307" y1="477.09999999999997" x2="307.6" y2="478.3" stroke="#6a78aa" stroke-width="0.3"/>
<line x1="309" y1="477.09999999999997" x2="309.6" y2="478.3" stroke="#6a78aa" stroke-width="0.3"/>
<line x1="311" y1="477.09999999999997" x2="311.6" y2="478.3" stroke="#6a78aa" stroke-width="0.3"/>
<line x1="313" y1="477.09999999999997" x2="313.6" y2="478.3" stroke="#6a78aa" stroke-width="0.3"/>
<line x1="315" y1="477.09999999999997" x2="315.6" y2="478.3" stroke="#6a78aa" stroke-width="0.3"/>
<line x1="317" y1="477.09999999999997" x2="317.6" y2="478.3" stroke="#6a78aa" stroke-width="0.3"/>
<line x1="319" y1="477.09999999999997" x2="319.6" y2="478.3" stroke="#6a78aa" stroke-width="0.3"/>
<line x1="321" y1="477.09999999999997" x2="321.6" y2="478.3" stroke="#6a78aa" stroke-width="0.3"/>
<line x1="323" y1="477.09999999999997" x2="323.6" y2="478.3" stroke="#6a78aa" stroke-width="0.3"/>
<line x1="325" y1="477.09999999999997" x2="325.6" y2="478.3" stroke="#6a78aa" stroke-width="0.3"/>
<line x1="327" y1="477.09999999999997" x2="327.6" y2="478.3" stroke="#6a78aa" stroke-width="0.3"/>
<line x1="329" y1="477.09999999999997" x2="329.6" y2="478.3" stroke="#6a78aa" stroke-width="0.3"/>
<line x1="331" y1="477.09999999999997" x2="331.6" y2="478.3" stroke="#6a78aa" stroke-width="0.3"/>
<line x1="333" y1="477.09999999999997" x2="333.6" y2="478.3" stroke="#6a78aa" stroke-width="0.3"/>
<line x1="335" y1="477.09999999999997" x2="335.6" y2="478.3" stroke="#6a78aa" stroke-width="0.3"/>
<line x1="337" y1="477.09999999999997" x2="337.6" y2="478.3" stroke="#6a78aa" stroke-width="0.3"/>
<line x1="339" y1="477.09999999999997" x2="339.6" y2="478.3" stroke="#6a78aa" stroke-width="0.3"/>
<line x1="341" y1="477.09999999999997" x2="341.6" y2="478.3" stroke="#6a78aa" stroke-width="0.3"/>
<line x1="343" y1="477.09999999999997" x2="343.6" y2="478.3" stroke="#6a78aa" stroke-width="0.3"/>
<line x1="345" y1="477.09999999999997" x2="345.6" y2="478.3" stroke="#6a78aa" stroke-width="0.3"/>
<line x1="347" y1="477.09999999999997" x2="347.6" y2="478.3" stroke="#6a78aa" stroke-width="0.3"/>
<line x1="349" y1="477.09999999999997" x2="349.6" y2="478.3" stroke="#6a78aa" stroke-width="0.3"/>
<line x1="351" y1="477.09999999999997" x2="351.6" y2="478.3" stroke="#6a78aa" stroke-width="0.3"/>
<line x1="353" y1="477.09999999999997" x2="353.6" y2="478.3" stroke="#6a78aa" stroke-width="0.3"/>
<line x1="355" y1="477.09999999999997" x2="355.6" y2="478.3" stroke="#6a78aa" stroke-width="0.3"/>
<line x1="357" y1="477.09999999999997" x2="357.6" y2="478.3" stroke="#6a78aa" stroke-width="0.3"/>
<line x1="359" y1="477.09999999999997" x2="359.6" y2="478.3" stroke="#6a78aa" stroke-width="0.3"/>
<line x1="361" y1="477.09999999999997" x2="361.6" y2="478.3" stroke="#6a78aa" stroke-width="0.3"/>
<line x1="363" y1="477.09999999999997" x2="363.6" y2="478.3" stroke="#6a78aa" stroke-width="0.3"/>
<line x1="365" y1="477.09999999999997" x2="365.6" y2="478.3" stroke="#6a78aa" stroke-width="0.3"/>
<line x1="367" y1="477.09999999999997" x2="367.6" y2="478.3" stroke="#6a78aa" stroke-width="0.3"/>
<line x1="369" y1="477.09999999999997" x2="369.6" y2="478.3" stroke="#6a78aa" stroke-width="0.3"/>
<line x1="371" y1="477.09999999999997" x2="371.6" y2="478.3" stroke="#6a78aa" stroke-width="0.3"/>
<line x1="373" y1="477.09999999999997" x2="373.6" y2="478.3" stroke="#6a78aa" stroke-width="0.3"/>
<line x1="375" y1="477.09999999999997" x2="375.6" y2="478.3" stroke="#6a78aa" stroke-width="0.3"/>
<line x1="377" y1="477.09999999999997" x2="377.6" y2="478.3" stroke="#6a78aa" stroke-width="0.3"/>
<line x1="379" y1="477.09999999999997" x2="379.6" y2="478.3" stroke="#6a78aa" stroke-width="0.3"/>
<line x1="381" y1="477.09999999999997" x2="381.6" y2="478.3" stroke="#6a78aa" stroke-width="0.3"/>
<line x1="383" y1="477.09999999999997" x2="383.6" y2="478.3" stroke="#6a78aa" stroke-width="0.3"/>
<line x1="385" y1="477.09999999999997" x2="385.6" y2="478.3" stroke="#6a78aa" stroke-width="0.3"/>
<line x1="387" y1="477.09999999999997" x2="387.6" y2="478.3" stroke="#6a78aa" stroke-width="0.3"/>
<line x1="389" y1="477.09999999999997" x2="389.6" y2="478.3" stroke="#6a78aa" stroke-width="0.3"/>
<line x1="391" y1="477.09999999999997" x2="391.6" y2="478.3" stroke="#6a78aa" stroke-width="0.3"/>
<line x1="393" y1="477.09999999999997" x2="393.6" y2="478.3" stroke="#6a78aa" stroke-width="0.3"/>
<line x1="395" y1="477.09999999999997" x2="395.6" y2="478.3" stroke="#6a78aa" stroke-width="0.3"/>
<line x1="397" y1="477.09999999999997" x2="397.6" y2="478.3" stroke="#6a78aa" stroke-width="0.3"/>
<line x1="399" y1="477.09999999999997" x2="399.6" y2="478.3" stroke="#6a78aa" stroke-width="0.3"/>
<line x1="401" y1="477.09999999999997" x2="401.6" y2="478.3" stroke="#6a78aa" stroke-width="0.3"/>
<line x1="403" y1="477.09999999999997" x2="403.6" y2="478.3" stroke="#6a78aa" stroke-width="0.3"/>
<line x1="405" y1="477.09999999999997" x2="405.6" y2="478.3" stroke="#6a78aa" stroke-width="0.3"/>
<line x1="407" y1="477.09999999999997" x2="407.6" y2="478.3" stroke="#6a78aa" stroke-width="0.3"/>
<line x1="409" y1="477.09999999999997" x2="409.6" y2="478.3" stroke="#6a78aa" stroke-width="0.3"/>
<line x1="411" y1="477.09999999999997" x2="411.6" y2="478.3" stroke="#6a78aa" stroke-width="0.3"/>
<line x1="413" y1="477.09999999999997" x2="413.6" y2="478.3" stroke="#6a78aa" stroke-width="0.3"/>
<line x1="415" y1="477.09999999999997" x2="415.6" y2="478.3" stroke="#6a78aa" stroke-width="0.3"/>
<line x1="417" y1="477.09999999999997" x2="417.6" y2="478.3" stroke="#6a78aa" stroke-width="0.3"/>
<line x1="419" y1="477.09999999999997" x2="419.6" y2="478.3" stroke="#6a78aa" stroke-width="0.3"/>
<line x1="421" y1="477.09999999999997" x2="421.6" y2="478.3" stroke="#6a78aa" stroke-width="0.3"/>
<rect x="202.25" y="476.09999999999997" width="0.9" height="3.2" fill="#2a3a7a" stroke="none" stroke-width="1"/>
<rect x="241.45000000000002" y="476.09999999999997" width="0.9" height="3.2" fill="#2a3a7a" stroke="none" stroke-width="1"/>
<rect x="268.55" y="476.09999999999997" width="0.9" height="3.2" fill="#2a3a7a" stroke="none" stroke-width="1"/>
<rect x="275.15000000000003" y="476.09999999999997" width="0.9" height="3.2" fill="#2a3a7a" stroke="none" stroke-width="1"/>
<rect x="280.35" y="476.09999999999997" width="0.9" height="3.2" fill="#2a3a7a" stroke="none" stroke-width="1"/>
<rect x="302.15000000000003" y="476.09999999999997" width="0.9" height="3.2" fill="#2a3a7a" stroke="none" stroke-width="1"/>
<rect x="305.55" y="476.09999999999997" width="0.9" height="3.2" fill="#2a3a7a" stroke="none" stroke-width="1"/>
<rect x="354.55" y="476.09999999999997" width="0.9" height="3.2" fill="#2a3a7a" stroke="none" stroke-width="1"/>
<rect x="393.95" y="476.09999999999997" width="0.9" height="3.2" fill="#2a3a7a" stroke="none" stroke-width="1"/>
<rect x="403.95" y="476.09999999999997" width="0.9" height="3.2" fill="#2a3a7a" stroke="none" stroke-width="1"/>
<rect x="330.0" y="475.7" width="4.0" height="4.0" fill="#1f2f6f" stroke="none" stroke-width="1"/>
<rect x="408.3" y="476.4" width="14.4" height="2.6" fill="#1f2f6f" stroke="none" stroke-width="1"/>
<path d="M165.2,477.7 L165.2,469.0 L175.0,469.0" fill="none" stroke="#111" stroke-width="0.8"/>
<path d="M178.0,469.0 L174.4,467.2 L174.4,470.8 Z" fill="#111" stroke="none" stroke-width="1"/>
<text x="287.3" y="471.6" font-size="6.8" fill="#333" stroke="#333" stroke-width="0.068" font-style="italic" textLength="16.8" lengthAdjust="spacingAndGlyphs">EIF2A</text>
<text x="75.0" y="497.0" font-size="6.7" fill="#222" stroke="#222" stroke-width="0.067" font-style="italic" textLength="28.1" lengthAdjust="spacingAndGlyphs">GATA2AS</text>
<text x="75.0" y="511.2" font-size="6.7" fill="#7c5aa6" stroke="#7c5aa6" stroke-width="0.067" textLength="25.6" lengthAdjust="spacingAndGlyphs">Ctrl KLF1</text>
<text x="75.0" y="522.4" font-size="6.7" fill="#ab86cb" stroke="#ab86cb" stroke-width="0.067" textLength="25.0" lengthAdjust="spacingAndGlyphs">KO KLF1</text>
<text x="75.0" y="530.6" font-size="6.7" fill="#1e2e5e" stroke="#1e2e5e" stroke-width="0.067" textLength="38.2" lengthAdjust="spacingAndGlyphs">Ctrl H3K27ac</text>
<text x="75.0" y="542.1" font-size="6.7" fill="#37ace0" stroke="#37ace0" stroke-width="0.067" textLength="36.8" lengthAdjust="spacingAndGlyphs">KO H3K27ac</text>
<text x="75.0" y="552.1" font-size="6.7" fill="#2e4a2e" stroke="#2e4a2e" stroke-width="0.067" textLength="38.2" lengthAdjust="spacingAndGlyphs">Ctrl RNA-seq</text>
<text x="75.0" y="563.6" font-size="6.7" fill="#8dc86e" stroke="#8dc86e" stroke-width="0.067" textLength="36.8" lengthAdjust="spacingAndGlyphs">KO RNA-seq</text>
<text x="128.2" y="492.0" font-size="6.6" fill="#333" stroke="#333" stroke-width="0.066" text-anchor="end" textLength="9.0" lengthAdjust="spacingAndGlyphs">0.5</text>
<text x="128.2" y="502.6" font-size="6.6" fill="#333" stroke="#333" stroke-width="0.066" text-anchor="end">0</text>
<text x="128.2" y="511.40000000000003" font-size="6.6" fill="#333" stroke="#333" stroke-width="0.066" text-anchor="end" textLength="9.0" lengthAdjust="spacingAndGlyphs">1.5</text>
<text x="128.2" y="522.0" font-size="6.6" fill="#333" stroke="#333" stroke-width="0.066" text-anchor="end">0</text>
<text x="128.2" y="530.0999999999999" font-size="6.6" fill="#333" stroke="#333" stroke-width="0.066" text-anchor="end" textLength="9.0" lengthAdjust="spacingAndGlyphs">1.5</text>
<text x="128.2" y="541.5999999999999" font-size="6.6" fill="#333" stroke="#333" stroke-width="0.066" text-anchor="end">0</text>
<text x="128.2" y="551.9" font-size="6.6" fill="#333" stroke="#333" stroke-width="0.066" text-anchor="end" textLength="6.6" lengthAdjust="spacingAndGlyphs">20</text>
<text x="128.2" y="563.3" font-size="6.6" fill="#333" stroke="#333" stroke-width="0.066" text-anchor="end">0</text>
<line x1="132.3" y1="487.4" x2="132.3" y2="501.4" stroke="#777" stroke-width="0.7"/>
<line x1="131.10000000000002" y1="487.4" x2="132.3" y2="487.4" stroke="#777" stroke-width="0.6"/>
<line x1="132.3" y1="507.0" x2="132.3" y2="520.9" stroke="#777" stroke-width="0.7"/>
<line x1="131.10000000000002" y1="507.0" x2="132.3" y2="507.0" stroke="#777" stroke-width="0.6"/>
<line x1="132.3" y1="526.8" x2="132.3" y2="540.9" stroke="#777" stroke-width="0.7"/>
<line x1="131.10000000000002" y1="526.8" x2="132.3" y2="526.8" stroke="#777" stroke-width="0.6"/>
<line x1="132.3" y1="548.0" x2="132.3" y2="562.4" stroke="#777" stroke-width="0.7"/>
<line x1="131.10000000000002" y1="548.0" x2="132.3" y2="548.0" stroke="#777" stroke-width="0.6"/>
<path d="M132.6,501.0 L132.6,500.78 L133.1,500.79 L133.6,500.77 L134.1,500.76 L134.6,500.69 L135.1,500.67 L135.6,500.59 L136.1,500.27 L136.6,499.77 L137.1,498.90 L137.6,498.89 L138.1,497.51 L138.6,497.58 L139.1,497.24 L139.6,497.43 L140.1,496.68 L140.6,496.33 L141.1,496.41 L141.6,496.20 L142.1,495.36 L142.6,494.65 L143.1,495.15 L143.6,493.35 L144.1,491.18 L144.6,492.78 L145.1,495.18 L145.6,496.74 L146.1,496.61 L146.6,496.62 L147.1,496.36 L147.6,497.31 L148.1,498.72 L148.6,499.12 L149.1,499.31 L149.6,499.79 L150.1,500.00 L150.6,500.28 L151.1,500.40 L151.6,500.49 L152.1,500.13 L152.6,499.88 L153.1,499.57 L153.6,499.27 L154.1,499.64 L154.6,499.65 L155.1,499.11 L155.6,499.30 L156.1,499.18 L156.6,499.20 L157.1,499.40 L157.6,499.69 L158.1,499.18 L158.6,498.55 L159.1,497.65 L159.6,496.84 L160.1,494.54 L160.6,491.74 L161.1,492.06 L161.6,490.67 L162.1,491.59 L162.6,491.03 L163.1,490.71 L163.6,493.79 L164.1,492.80 L164.6,493.80 L165.1,496.26 L165.6,495.38 L166.1,496.97 L166.6,497.03 L167.1,497.59 L167.6,498.61 L168.1,499.05 L168.6,499.80 L169.1,500.18 L169.6,500.39 L170.1,500.13 L170.6,499.90 L171.1,499.98 L171.6,499.99 L172.1,500.03 L172.6,499.86 L173.1,500.17 L173.6,500.40 L174.1,500.56 L174.6,500.57 L175.1,500.56 L175.6,500.25 L176.1,499.88 L176.6,499.91 L177.1,499.50 L177.6,499.56 L178.1,499.89 L178.6,499.50 L179.1,499.57 L179.6,498.97 L180.1,498.17 L180.6,498.00 L181.1,497.84 L181.6,497.44 L182.1,497.14 L182.6,496.45 L183.1,495.41 L183.6,494.67 L184.1,493.16 L184.6,494.31 L185.1,495.55 L185.6,495.40 L186.1,496.45 L186.6,497.39 L187.1,498.22 L187.6,498.81 L188.1,499.96 L188.6,500.14 L189.1,500.33 L189.6,500.13 L190.1,500.05 L190.6,499.88 L191.1,499.90 L191.6,500.11 L192.1,500.29 L192.6,500.50 L193.1,500.55 L193.6,500.74 L194.1,500.73 L194.6,500.56 L195.1,500.19 L195.6,499.91 L196.1,500.14 L196.6,500.40 L197.1,500.53 L197.6,500.58 L198.1,500.41 L198.6,499.89 L199.1,499.21 L199.6,499.09 L200.1,499.74 L200.6,500.22 L201.1,500.60 L201.6,500.67 L202.1,500.67 L202.6,500.66 L203.1,500.55 L203.6,500.32 L204.1,500.39 L204.6,500.15 L205.1,500.20 L205.6,499.97 L206.1,499.66 L206.6,499.12 L207.1,499.05 L207.6,499.15 L208.1,498.97 L208.6,499.10 L209.1,499.26 L209.6,498.49 L210.1,497.99 L210.6,496.83 L211.1,495.98 L211.6,497.07 L212.1,495.56 L212.6,494.94 L213.1,494.15 L213.6,493.39 L214.1,494.00 L214.6,495.68 L215.1,495.87 L215.6,497.28 L216.1,497.04 L216.6,497.36 L217.1,498.41 L217.6,499.12 L218.1,499.56 L218.6,500.02 L219.1,500.42 L219.6,500.34 L220.1,500.34 L220.6,500.30 L221.1,499.65 L221.6,498.59 L222.1,497.30 L222.6,495.93 L223.1,496.73 L223.6,498.67 L224.1,498.23 L224.6,498.01 L225.1,498.57 L225.6,498.46 L226.1,499.41 L226.6,499.84 L227.1,500.15 L227.6,500.12 L228.1,499.96 L228.6,499.16 L229.1,498.30 L229.6,497.32 L230.1,496.66 L230.6,496.57 L231.1,497.49 L231.6,497.49 L232.1,498.07 L232.6,499.42 L233.1,500.15 L233.6,500.44 L234.1,500.49 L234.6,500.46 L235.1,500.28 L235.6,499.78 L236.1,498.70 L236.6,498.33 L237.1,498.37 L237.6,498.92 L238.1,499.88 L238.6,500.41 L239.1,500.51 L239.6,500.64 L240.1,500.71 L240.6,500.70 L241.1,500.58 L241.6,500.18 L242.1,499.46 L242.6,498.43 L243.1,497.06 L243.6,495.56 L244.1,497.30 L244.6,498.70 L245.1,500.23 L245.6,500.67 L246.1,500.75 L246.6,500.69 L247.1,500.55 L247.6,500.21 L248.1,499.59 L248.6,498.80 L249.1,497.30 L249.6,497.42 L250.1,498.44 L250.6,498.98 L251.1,499.17 L251.6,498.22 L252.1,497.88 L252.6,496.61 L253.1,496.46 L253.6,497.60 L254.1,497.64 L254.6,499.39 L255.1,500.00 L255.6,500.15 L256.1,500.41 L256.6,500.44 L257.1,500.57 L257.6,500.64 L258.1,500.61 L258.6,500.21 L259.1,499.76 L259.6,499.11 L260.1,499.65 L260.6,499.86 L261.1,500.15 L261.6,500.07 L262.1,499.77 L262.6,498.68 L263.1,497.71 L263.6,497.30 L264.1,497.33 L264.6,496.87 L265.1,497.81 L265.6,498.69 L266.1,498.87 L266.6,498.83 L267.1,499.36 L267.6,499.71 L268.1,499.32 L268.6,497.66 L269.1,495.39 L269.6,496.30 L270.1,499.10 L270.6,499.80 L271.1,500.37 L271.6,500.47 L272.1,500.54 L272.6,500.58 L273.1,500.73 L273.6,500.73 L274.1,500.73 L274.6,500.72 L275.1,500.80 L275.6,500.73 L276.1,500.07 L276.6,499.60 L277.1,499.54 L277.6,499.07 L278.1,498.28 L278.6,498.79 L279.1,500.02 L279.6,500.23 L280.1,500.19 L280.6,499.83 L281.1,499.43 L281.6,498.67 L282.1,499.04 L282.6,499.53 L283.1,500.16 L283.6,500.18 L284.1,499.87 L284.6,499.18 L285.1,498.90 L285.6,498.37 L286.1,498.01 L286.6,498.18 L287.1,499.30 L287.6,499.77 L288.1,500.16 L288.6,500.23 L289.1,500.57 L289.6,500.60 L290.1,500.55 L290.6,500.25 L291.1,499.75 L291.6,498.72 L292.1,497.31 L292.6,497.49 L293.1,497.82 L293.6,498.58 L294.1,499.48 L294.6,499.80 L295.1,500.29 L295.6,500.62 L296.1,500.72 L296.6,500.76 L297.1,500.66 L297.6,500.28 L298.1,499.90 L298.6,499.06 L299.1,499.22 L299.6,498.98 L300.1,498.37 L300.6,499.34 L301.1,499.82 L301.6,499.90 L302.1,499.90 L302.6,500.18 L303.1,500.47 L303.6,500.42 L304.1,500.13 L304.6,500.19 L305.1,499.76 L305.6,499.03 L306.1,497.76 L306.6,498.02 L307.1,498.39 L307.6,498.36 L308.1,498.41 L308.6,498.58 L309.1,498.98 L309.6,498.18 L310.1,498.19 L310.6,498.01 L311.1,497.50 L311.6,499.11 L312.1,499.28 L312.6,499.95 L313.1,499.93 L313.6,500.15 L314.1,500.12 L314.6,500.28 L315.1,500.29 L315.6,500.17 L316.1,499.94 L316.6,499.82 L317.1,499.13 L317.6,498.53 L318.1,498.41 L318.6,497.68 L319.1,498.26 L319.6,498.38 L320.1,499.04 L320.6,498.90 L321.1,499.10 L321.6,499.18 L322.1,499.85 L322.6,500.04 L323.1,500.20 L323.6,500.40 L324.1,500.28 L324.6,500.28 L325.1,500.42 L325.6,500.38 L326.1,500.33 L326.6,500.30 L327.1,500.08 L327.6,499.56 L328.1,499.39 L328.6,498.75 L329.1,498.83 L329.6,499.31 L330.1,499.87 L330.6,499.61 L331.1,499.62 L331.6,499.40 L332.1,499.11 L332.6,499.06 L333.1,498.61 L333.6,499.04 L334.1,499.73 L334.6,500.19 L335.1,500.51 L335.6,500.54 L336.1,500.43 L336.6,499.83 L337.1,499.13 L337.6,497.63 L338.1,496.75 L338.6,496.57 L339.1,494.53 L339.6,496.20 L340.1,497.82 L340.6,499.01 L341.1,500.12 L341.6,500.10 L342.1,499.63 L342.6,499.52 L343.1,498.79 L343.6,499.17 L344.1,499.35 L344.6,499.60 L345.1,499.44 L345.6,499.60 L346.1,500.07 L346.6,500.35 L347.1,500.38 L347.6,500.23 L348.1,500.00 L348.6,499.46 L349.1,498.49 L349.6,498.31 L350.1,498.15 L350.6,498.11 L351.1,498.26 L351.6,499.04 L352.1,499.22 L352.6,498.94 L353.1,498.90 L353.6,499.07 L354.1,499.00 L354.6,498.81 L355.1,498.22 L355.6,499.18 L356.1,499.79 L356.6,499.89 L357.1,499.55 L357.6,499.05 L358.1,498.10 L358.6,496.39 L359.1,497.26 L359.6,497.32 L360.1,497.25 L360.6,497.97 L361.1,499.12 L361.6,499.61 L362.1,499.49 L362.6,498.99 L363.1,499.22 L363.6,498.86 L364.1,498.55 L364.6,498.54 L365.1,499.79 L365.6,500.03 L366.1,500.23 L366.6,500.15 L367.1,500.10 L367.6,499.83 L368.1,498.11 L368.6,495.66 L369.1,493.92 L369.6,496.85 L370.1,498.89 L370.6,500.17 L371.1,500.41 L371.6,500.32 L372.1,499.79 L372.6,499.08 L373.1,498.45 L373.6,497.89 L374.1,498.21 L374.6,499.40 L375.1,500.10 L375.6,500.20 L376.1,500.05 L376.6,499.56 L377.1,499.08 L377.6,499.36 L378.1,499.54 L378.6,499.77 L379.1,500.06 L379.6,500.00 L380.1,500.08 L380.6,500.19 L381.1,500.32 L381.6,500.18 L382.1,499.61 L382.6,498.36 L383.1,497.32 L383.6,497.75 L384.1,498.53 L384.6,499.38 L385.1,499.67 L385.6,499.57 L386.1,499.51 L386.6,499.72 L387.1,499.51 L387.6,499.12 L388.1,499.40 L388.6,499.66 L389.1,499.45 L389.6,497.87 L390.1,497.12 L390.6,496.41 L391.1,497.31 L391.6,498.87 L392.1,499.68 L392.6,500.23 L393.1,500.41 L393.6,500.60 L394.1,500.77 L394.6,500.76 L395.1,500.74 L395.6,500.61 L396.1,500.33 L396.6,499.67 L397.1,498.88 L397.6,498.74 L398.1,497.20 L398.6,496.92 L399.1,497.22 L399.6,498.44 L400.1,499.84 L400.6,500.54 L401.1,500.74 L401.6,500.65 L402.1,500.63 L402.6,500.42 L403.1,500.02 L403.6,499.76 L404.1,498.97 L404.6,497.19 L405.1,497.00 L405.6,498.77 L406.1,499.83 L406.6,500.36 L407.1,500.43 L407.6,500.14 L408.1,498.98 L408.6,498.43 L409.1,497.41 L409.6,497.04 L410.1,497.26 L410.6,497.39 L411.1,498.30 L411.6,499.21 L412.1,499.90 L412.6,500.10 L413.1,500.26 L413.6,499.60 L414.1,498.33 L414.6,498.72 L415.1,497.81 L415.6,496.61 L416.1,497.02 L416.6,497.34 L417.1,498.55 L417.6,498.77 L418.1,498.14 L418.6,498.52 L419.1,497.58 L419.6,498.73 L420.1,498.88 L420.6,499.77 L421.1,500.18 L421.6,500.45 L422.1,500.45 L422.6,500.01 L423.1,499.85 L423.6,499.67 L424.1,499.51 L424.6,499.69 L425.1,499.90 L425.6,498.48 L426.1,497.22 L426.6,495.97 L427.1,495.53 L427.6,495.23 L428.1,496.03 L428.6,498.68 L429.1,499.43 L429.6,499.61 L430.1,499.76 L430.6,499.72 L431.1,499.05 L431.1,501.0 Z" fill="#ef6a2c" stroke="#d9541f" stroke-width="0.3" opacity="1" stroke-linejoin="round"/>
<path d="M192.8,501 L193.0,488.2 L195.9,488.2 L196.1,492 L196.6,492 L196.8,488.2 L199.6,488.2 L199.9,501 Z" fill="#ef6a2c" stroke="#c84a22" stroke-width="0.35"/>
<path d="M132.6,520.3 L132.6,519.99 L133.1,519.97 L133.6,519.95 L134.1,519.93 L134.6,519.90 L135.1,519.88 L135.6,519.87 L136.1,519.86 L136.6,519.85 L137.1,519.83 L137.6,519.77 L138.1,519.62 L138.6,519.28 L139.1,518.95 L139.6,518.93 L140.1,518.90 L140.6,518.58 L141.1,518.55 L141.6,518.88 L142.1,518.89 L142.6,518.48 L143.1,518.20 L143.6,518.32 L144.1,518.38 L144.6,518.25 L145.1,518.43 L145.6,518.67 L146.1,518.53 L146.6,518.18 L147.1,518.05 L147.6,518.23 L148.1,518.46 L148.6,518.58 L149.1,518.68 L149.6,518.95 L150.1,519.31 L150.6,519.56 L151.1,519.65 L151.6,519.68 L152.1,519.74 L152.6,519.82 L153.1,519.86 L153.6,519.85 L154.1,519.81 L154.6,519.72 L155.1,519.52 L155.6,519.26 L156.1,519.20 L156.6,519.43 L157.1,519.67 L157.6,519.79 L158.1,519.82 L158.6,519.83 L159.1,519.81 L159.6,519.73 L160.1,519.49 L160.6,519.05 L161.1,518.63 L161.6,518.63 L162.1,518.78 L162.6,518.31 L163.1,516.97 L163.6,514.72 L164.1,511.22 L164.6,507.38 L165.1,505.59 L165.6,507.35 L166.1,511.38 L166.6,514.92 L167.1,517.26 L167.6,518.49 L168.1,518.72 L168.6,518.66 L169.1,518.67 L169.6,518.86 L170.1,519.19 L170.6,519.47 L171.1,519.61 L171.6,519.69 L172.1,519.77 L172.6,519.84 L173.1,519.88 L173.6,519.86 L174.1,519.75 L174.6,519.51 L175.1,519.12 L175.6,518.65 L176.1,518.19 L176.6,517.70 L177.1,517.51 L177.6,518.07 L178.1,518.88 L178.6,519.36 L179.1,519.58 L179.6,519.70 L180.1,519.73 L180.6,519.66 L181.1,519.61 L181.6,519.57 L182.1,519.38 L182.6,519.06 L183.1,518.79 L183.6,518.69 L184.1,518.81 L184.6,519.14 L185.1,519.46 L185.6,519.65 L186.1,519.74 L186.6,519.80 L187.1,519.82 L187.6,519.82 L188.1,519.75 L188.6,519.56 L189.1,519.24 L189.6,518.87 L190.1,518.57 L190.6,518.43 L191.1,518.57 L191.6,518.92 L192.1,519.11 L192.6,518.99 L193.1,518.89 L193.6,519.03 L194.1,519.04 L194.6,519.02 L195.1,519.25 L195.6,519.43 L196.1,519.54 L196.6,519.64 L197.1,519.74 L197.6,519.79 L198.1,519.81 L198.6,519.78 L199.1,519.75 L199.6,519.70 L200.1,519.58 L200.6,519.36 L201.1,519.40 L201.6,519.46 L202.1,519.26 L202.6,518.94 L203.1,518.78 L203.6,519.01 L204.1,519.43 L204.6,519.70 L205.1,519.82 L205.6,519.84 L206.1,519.82 L206.6,519.78 L207.1,519.72 L207.6,519.61 L208.1,519.37 L208.6,518.98 L209.1,518.68 L209.6,518.84 L210.1,519.19 L210.6,519.34 L211.1,519.41 L211.6,519.55 L212.1,519.72 L212.6,519.84 L213.1,519.90 L213.6,519.91 L214.1,519.86 L214.6,519.74 L215.1,519.54 L215.6,519.28 L216.1,518.82 L216.6,518.14 L217.1,517.90 L217.6,518.26 L218.1,518.45 L218.6,518.36 L219.1,518.82 L219.6,519.47 L220.1,519.78 L220.6,519.90 L221.1,519.93 L221.6,519.92 L222.1,519.87 L222.6,519.75 L223.1,519.41 L223.6,518.90 L224.1,518.50 L224.6,518.45 L225.1,518.57 L225.6,518.74 L226.1,519.05 L226.6,519.40 L227.1,519.62 L227.6,519.71 L228.1,519.75 L228.6,519.77 L229.1,519.79 L229.6,519.82 L230.1,519.86 L230.6,519.89 L231.1,519.89 L231.6,519.83 L232.1,519.71 L232.6,519.43 L233.1,518.93 L233.6,518.54 L234.1,518.49 L234.6,518.70 L235.1,519.15 L235.6,519.52 L236.1,519.67 L236.6,519.71 L237.1,519.69 L237.6,519.61 L238.1,519.45 L238.6,519.23 L239.1,519.04 L239.6,518.93 L240.1,518.86 L240.6,518.81 L241.1,518.91 L241.6,519.20 L242.1,519.53 L242.6,519.73 L243.1,519.82 L243.6,519.87 L244.1,519.89 L244.6,519.80 L245.1,519.41 L245.6,518.67 L246.1,518.01 L246.6,517.82 L247.1,517.79 L247.6,517.81 L248.1,518.24 L248.6,518.96 L249.1,519.50 L249.6,519.71 L250.1,519.73 L250.6,519.59 L251.1,519.37 L251.6,519.27 L252.1,519.32 L252.6,519.43 L253.1,519.58 L253.6,519.70 L254.1,519.76 L254.6,519.75 L255.1,519.71 L255.6,519.62 L256.1,519.39 L256.6,518.79 L257.1,517.99 L257.6,517.61 L258.1,517.75 L258.6,518.15 L259.1,518.72 L259.6,519.28 L260.1,519.50 L260.6,519.33 L261.1,518.92 L261.6,518.77 L262.1,519.10 L262.6,519.47 L263.1,519.63 L263.6,519.67 L264.1,519.69 L264.6,519.71 L265.1,519.73 L265.6,519.75 L266.1,519.77 L266.6,519.79 L267.1,519.79 L267.6,519.72 L268.1,519.53 L268.6,519.17 L269.1,518.86 L269.6,518.82 L270.1,519.03 L270.6,519.32 L271.1,519.61 L271.6,519.79 L272.1,519.82 L272.6,519.67 L273.1,519.26 L273.6,518.56 L274.1,517.77 L274.6,517.38 L275.1,517.74 L275.6,518.57 L276.1,519.32 L276.6,519.74 L277.1,519.90 L277.6,519.95 L278.1,519.95 L278.6,519.95 L279.1,519.91 L279.6,519.75 L280.1,519.26 L280.6,518.80 L281.1,518.79 L281.6,518.65 L282.1,518.05 L282.6,517.35 L283.1,517.61 L283.6,518.80 L284.1,519.55 L284.6,519.78 L285.1,519.79 L285.6,519.71 L286.1,519.58 L286.6,519.35 L287.1,519.01 L287.6,518.77 L288.1,518.63 L288.6,518.46 L289.1,518.57 L289.6,518.93 L290.1,519.07 L290.6,519.09 L291.1,519.21 L291.6,519.44 L292.1,519.63 L292.6,519.73 L293.1,519.76 L293.6,519.76 L294.1,519.74 L294.6,519.69 L295.1,519.54 L295.6,519.26 L296.1,519.03 L296.6,518.98 L297.1,519.04 L297.6,519.25 L298.1,519.53 L298.6,519.73 L299.1,519.81 L299.6,519.86 L300.1,519.89 L300.6,519.93 L301.1,519.95 L301.6,519.94 L302.1,519.84 L302.6,519.46 L303.1,518.99 L303.6,518.75 L304.1,518.69 L304.6,518.96 L305.1,519.40 L305.6,519.75 L306.1,519.93 L306.6,519.98 L307.1,519.95 L307.6,519.90 L308.1,519.89 L308.6,519.87 L309.1,519.77 L309.6,519.60 L310.1,519.31 L310.6,518.63 L311.1,518.18 L311.6,518.85 L312.1,519.48 L312.6,519.49 L313.1,519.17 L313.6,518.94 L314.1,519.11 L314.6,519.37 L315.1,519.58 L315.6,519.76 L316.1,519.85 L316.6,519.83 L317.1,519.82 L317.6,519.91 L318.1,519.97 L318.6,519.96 L319.1,519.92 L319.6,519.84 L320.1,519.73 L320.6,519.56 L321.1,519.29 L321.6,518.95 L322.1,518.75 L322.6,519.06 L323.1,519.61 L323.6,519.88 L324.1,519.94 L324.6,519.96 L325.1,519.97 L325.6,519.97 L326.1,519.94 L326.6,519.83 L327.1,519.46 L327.6,519.04 L328.1,519.03 L328.6,518.99 L329.1,519.11 L329.6,519.50 L330.1,519.79 L330.6,519.88 L331.1,519.88 L331.6,519.86 L332.1,519.85 L332.6,519.84 L333.1,519.84 L333.6,519.84 L334.1,519.82 L334.6,519.78 L335.1,519.69 L335.6,519.50 L336.1,519.13 L336.6,518.81 L337.1,518.86 L337.6,518.98 L338.1,519.20 L338.6,519.48 L339.1,519.61 L339.6,519.70 L340.1,519.69 L340.6,519.49 L341.1,519.02 L341.6,518.55 L342.1,518.60 L342.6,519.03 L343.1,519.34 L343.6,519.45 L344.1,519.48 L344.6,519.46 L345.1,519.42 L345.6,519.37 L346.1,519.32 L346.6,519.13 L347.1,518.73 L347.6,518.45 L348.1,518.54 L348.6,518.70 L349.1,518.79 L349.6,518.98 L350.1,519.23 L350.6,519.43 L351.1,519.57 L351.6,519.67 L352.1,519.76 L352.6,519.85 L353.1,519.91 L353.6,519.94 L354.1,519.94 L354.6,519.90 L355.1,519.74 L355.6,519.36 L356.1,518.70 L356.6,517.94 L357.1,517.51 L357.6,517.73 L358.1,518.39 L358.6,519.00 L359.1,519.22 L359.6,518.95 L360.1,518.28 L360.6,517.61 L361.1,517.68 L361.6,518.50 L362.1,519.30 L362.6,519.71 L363.1,519.85 L363.6,519.86 L364.1,519.84 L364.6,519.84 L365.1,519.86 L365.6,519.84 L366.1,519.75 L366.6,519.56 L367.1,519.33 L367.6,519.13 L368.1,518.69 L368.6,518.30 L369.1,518.87 L369.6,519.44 L370.1,519.58 L370.6,519.62 L371.1,519.66 L371.6,519.69 L372.1,519.73 L372.6,519.80 L373.1,519.87 L373.6,519.91 L374.1,519.91 L374.6,519.87 L375.1,519.78 L375.6,519.51 L376.1,518.86 L376.6,518.29 L377.1,518.29 L377.6,518.48 L378.1,518.88 L378.6,519.36 L379.1,519.65 L379.6,519.71 L380.1,519.56 L380.6,519.17 L381.1,518.70 L381.6,518.69 L382.1,519.09 L382.6,519.46 L383.1,519.67 L383.6,519.74 L384.1,519.68 L384.6,519.49 L385.1,519.22 L385.6,518.87 L386.1,518.65 L386.6,518.87 L387.1,518.85 L387.6,518.79 L388.1,519.28 L388.6,519.57 L389.1,519.67 L389.6,519.74 L390.1,519.81 L390.6,519.86 L391.1,519.89 L391.6,519.89 L392.1,519.88 L392.6,519.87 L393.1,519.79 L393.6,519.47 L394.1,519.02 L394.6,518.89 L395.1,518.92 L395.6,518.87 L396.1,518.83 L396.6,518.97 L397.1,519.28 L397.6,519.60 L398.1,519.82 L398.6,519.93 L399.1,519.97 L399.6,519.97 L400.1,519.95 L400.6,519.85 L401.1,519.61 L401.6,519.18 L402.1,518.66 L402.6,518.40 L403.1,518.67 L403.6,519.22 L404.1,519.67 L404.6,519.89 L405.1,519.96 L405.6,519.96 L406.1,519.95 L406.6,519.94 L407.1,519.91 L407.6,519.81 L408.1,519.61 L408.6,519.41 L409.1,519.30 L409.6,519.27 L410.1,519.25 L410.6,519.36 L411.1,519.64 L411.6,519.82 L412.1,519.84 L412.6,519.78 L413.1,519.57 L413.6,519.11 L414.1,518.42 L414.6,517.87 L415.1,517.80 L415.6,518.27 L416.1,518.97 L416.6,519.32 L417.1,519.39 L417.6,519.42 L418.1,519.45 L418.6,519.48 L419.1,519.50 L419.6,519.47 L420.1,519.26 L420.6,518.92 L421.1,519.12 L421.6,519.37 L422.1,519.42 L422.6,519.45 L423.1,519.44 L423.6,519.37 L424.1,519.36 L424.6,519.45 L425.1,519.41 L425.6,519.38 L426.1,519.57 L426.6,519.66 L427.1,519.63 L427.6,519.49 L428.1,519.26 L428.6,519.15 L429.1,519.10 L429.6,518.85 L430.1,518.56 L430.6,518.42 L431.1,518.39 L431.1,520.3 Z" fill="#b08ad0" stroke="none" stroke-width="0.4" opacity="1" stroke-linejoin="round"/>
<path d="M132.6,520.3 L132.6,520.30 L133.1,520.30 L133.6,520.30 L134.1,520.30 L134.6,520.30 L135.1,520.30 L135.6,520.30 L136.1,520.30 L136.6,520.30 L137.1,520.30 L137.6,520.30 L138.1,520.30 L138.6,520.30 L139.1,519.58 L139.6,519.65 L140.1,519.46 L140.6,519.15 L141.1,519.38 L141.6,519.34 L142.1,519.44 L142.6,519.35 L143.1,519.10 L143.6,519.26 L144.1,519.01 L144.6,518.78 L145.1,519.24 L145.6,519.39 L146.1,519.11 L146.6,518.72 L147.1,518.67 L147.6,518.97 L148.1,519.30 L148.6,519.22 L149.1,519.38 L149.6,519.51 L150.1,520.30 L150.6,520.30 L151.1,520.30 L151.6,520.30 L152.1,520.30 L152.6,520.30 L153.1,520.30 L153.6,520.30 L154.1,520.30 L154.6,520.30 L155.1,520.30 L155.6,520.30 L156.1,519.62 L156.6,519.69 L157.1,520.30 L157.6,520.30 L158.1,520.30 L158.6,520.30 L159.1,520.30 L159.6,520.30 L160.1,520.30 L160.6,519.54 L161.1,519.31 L161.6,519.43 L162.1,520.30 L162.6,520.30 L163.1,519.40 L163.6,519.00 L164.1,516.61 L164.6,513.98 L165.1,508.16 L165.6,509.67 L166.1,514.56 L166.6,517.66 L167.1,519.12 L167.6,519.53 L168.1,519.34 L168.6,519.18 L169.1,519.08 L169.6,519.28 L170.1,519.66 L170.6,520.30 L171.1,520.30 L171.6,520.30 L172.1,520.30 L172.6,520.30 L173.1,520.30 L173.6,520.30 L174.1,520.30 L174.6,520.30 L175.1,519.60 L175.6,519.26 L176.1,518.93 L176.6,518.92 L177.1,518.26 L177.6,518.94 L178.1,519.55 L178.6,520.30 L179.1,520.30 L179.6,520.30 L180.1,520.30 L180.6,520.30 L181.1,520.30 L181.6,520.30 L182.1,520.30 L182.6,519.52 L183.1,519.25 L183.6,519.43 L184.1,519.41 L184.6,519.68 L185.1,520.30 L185.6,520.30 L186.1,520.30 L186.6,520.30 L187.1,520.30 L187.6,520.30 L188.1,520.30 L188.6,520.30 L189.1,520.30 L189.6,519.47 L190.1,519.13 L190.6,519.26 L191.1,519.22 L191.6,519.44 L192.1,519.58 L192.6,519.49 L193.1,519.51 L193.6,519.50 L194.1,519.43 L194.6,519.55 L195.1,520.30 L195.6,520.30 L196.1,520.30 L196.6,520.30 L197.1,520.30 L197.6,520.30 L198.1,520.30 L198.6,520.30 L199.1,520.30 L199.6,520.30 L200.1,520.30 L200.6,520.30 L201.1,520.30 L201.6,520.30 L202.1,520.30 L202.6,519.42 L203.1,519.35 L203.6,519.65 L204.1,520.30 L204.6,520.30 L205.1,520.30 L205.6,520.30 L206.1,520.30 L206.6,520.30 L207.1,520.30 L207.6,520.30 L208.1,520.30 L208.6,519.49 L209.1,519.17 L209.6,519.36 L210.1,519.64 L210.6,520.30 L211.1,520.30 L211.6,520.30 L212.1,520.30 L212.6,520.30 L213.1,520.30 L213.6,520.30 L214.1,520.30 L214.6,520.30 L215.1,520.30 L215.6,520.30 L216.1,519.57 L216.6,518.88 L217.1,518.60 L217.6,519.22 L218.1,519.01 L218.6,519.19 L219.1,519.49 L219.6,520.30 L220.1,520.30 L220.6,520.30 L221.1,520.30 L221.6,520.30 L222.1,520.30 L222.6,520.30 L223.1,520.30 L223.6,519.63 L224.1,519.27 L224.6,519.16 L225.1,519.16 L225.6,519.37 L226.1,519.67 L226.6,520.30 L227.1,520.30 L227.6,520.30 L228.1,520.30 L228.6,520.30 L229.1,520.30 L229.6,520.30 L230.1,520.30 L230.6,520.30 L231.1,520.30 L231.6,520.30 L232.1,520.30 L232.6,520.30 L233.1,519.55 L233.6,519.04 L234.1,519.10 L234.6,519.39 L235.1,520.30 L235.6,520.30 L236.1,520.30 L236.6,520.30 L237.1,520.30 L237.6,520.30 L238.1,520.30 L238.6,520.30 L239.1,519.49 L239.6,519.55 L240.1,519.51 L240.6,519.35 L241.1,519.52 L241.6,519.62 L242.1,520.30 L242.6,520.30 L243.1,520.30 L243.6,520.30 L244.1,520.30 L244.6,520.30 L245.1,520.30 L245.6,519.40 L246.1,518.72 L246.6,518.49 L247.1,518.58 L247.6,518.68 L248.1,518.94 L248.6,519.35 L249.1,520.30 L249.6,520.30 L250.1,520.30 L250.6,520.30 L251.1,520.30 L251.6,520.30 L252.1,520.30 L252.6,520.30 L253.1,520.30 L253.6,520.30 L254.1,520.30 L254.6,520.30 L255.1,520.30 L255.6,520.30 L256.1,520.30 L256.6,519.57 L257.1,518.91 L257.6,518.44 L258.1,518.58 L258.6,518.94 L259.1,519.28 L259.6,520.30 L260.1,520.30 L260.6,520.30 L261.1,519.63 L261.6,519.38 L262.1,520.30 L262.6,520.30 L263.1,520.30 L263.6,520.30 L264.1,520.30 L264.6,520.30 L265.1,520.30 L265.6,520.30 L266.1,520.30 L266.6,520.30 L267.1,520.30 L267.6,520.30 L268.1,520.30 L268.6,519.62 L269.1,519.42 L269.6,519.31 L270.1,519.63 L270.6,520.30 L271.1,520.30 L271.6,520.30 L272.1,520.30 L272.6,520.30 L273.1,520.30 L273.6,519.30 L274.1,518.74 L274.6,518.44 L275.1,518.68 L275.6,519.11 L276.1,520.30 L276.6,520.30 L277.1,520.30 L277.6,520.30 L278.1,520.30 L278.6,520.30 L279.1,520.30 L279.6,520.30 L280.1,519.64 L280.6,519.16 L281.1,519.26 L281.6,519.17 L282.1,519.04 L282.6,517.97 L283.1,518.24 L283.6,519.51 L284.1,520.30 L284.6,520.30 L285.1,520.30 L285.6,520.30 L286.1,520.30 L286.6,520.30 L287.1,519.57 L287.6,519.40 L288.1,519.38 L288.6,519.15 L289.1,519.34 L289.6,519.53 L290.1,519.64 L290.6,520.30 L291.1,520.30 L291.6,520.30 L292.1,520.30 L292.6,520.30 L293.1,520.30 L293.6,520.30 L294.1,520.30 L294.6,520.30 L295.1,520.30 L295.6,520.30 L296.1,519.61 L296.6,519.56 L297.1,519.61 L297.6,520.30 L298.1,520.30 L298.6,520.30 L299.1,520.30 L299.6,520.30 L300.1,520.30 L300.6,520.30 L301.1,520.30 L301.6,520.30 L302.1,520.30 L302.6,520.30 L303.1,519.47 L303.6,519.46 L304.1,519.32 L304.6,519.61 L305.1,520.30 L305.6,520.30 L306.1,520.30 L306.6,520.30 L307.1,520.30 L307.6,520.30 L308.1,520.30 L308.6,520.30 L309.1,520.30 L309.6,520.30 L310.1,520.30 L310.6,519.07 L311.1,518.85 L311.6,519.37 L312.1,520.30 L312.6,520.30 L313.1,519.62 L313.6,519.64 L314.1,520.30 L314.6,520.30 L315.1,520.30 L315.6,520.30 L316.1,520.30 L316.6,520.30 L317.1,520.30 L317.6,520.30 L318.1,520.30 L318.6,520.30 L319.1,520.30 L319.6,520.30 L320.1,520.30 L320.6,520.30 L321.1,520.30 L321.6,519.64 L322.1,519.29 L322.6,519.66 L323.1,520.30 L323.6,520.30 L324.1,520.30 L324.6,520.30 L325.1,520.30 L325.6,520.30 L326.1,520.30 L326.6,520.30 L327.1,520.30 L327.6,519.69 L328.1,520.30 L328.6,519.45 L329.1,520.30 L329.6,520.30 L330.1,520.30 L330.6,520.30 L331.1,520.30 L331.6,520.30 L332.1,520.30 L332.6,520.30 L333.1,520.30 L333.6,520.30 L334.1,520.30 L334.6,520.30 L335.1,520.30 L335.6,520.30 L336.1,520.30 L336.6,519.55 L337.1,519.62 L337.6,519.66 L338.1,520.30 L338.6,520.30 L339.1,520.30 L339.6,520.30 L340.1,520.30 L340.6,520.30 L341.1,520.30 L341.6,519.16 L342.1,519.46 L342.6,519.63 L343.1,520.30 L343.6,520.30 L344.1,520.30 L344.6,520.30 L345.1,520.30 L345.6,520.30 L346.1,520.30 L346.6,519.68 L347.1,519.30 L347.6,519.06 L348.1,519.30 L348.6,519.23 L349.1,519.59 L349.6,519.55 L350.1,520.30 L350.6,520.30 L351.1,520.30 L351.6,520.30 L352.1,520.30 L352.6,520.30 L353.1,520.30 L353.6,520.30 L354.1,520.30 L354.6,520.30 L355.1,520.30 L355.6,520.30 L356.1,519.21 L356.6,518.57 L357.1,518.76 L357.6,518.54 L358.1,518.99 L358.6,520.30 L359.1,520.30 L359.6,519.51 L360.1,519.00 L360.6,518.42 L361.1,518.39 L361.6,519.09 L362.1,520.30 L362.6,520.30 L363.1,520.30 L363.6,520.30 L364.1,520.30 L364.6,520.30 L365.1,520.30 L365.6,520.30 L366.1,520.30 L366.6,520.30 L367.1,520.30 L367.6,519.54 L368.1,519.25 L368.6,518.87 L369.1,519.55 L369.6,520.30 L370.1,520.30 L370.6,520.30 L371.1,520.30 L371.6,520.30 L372.1,520.30 L372.6,520.30 L373.1,520.30 L373.6,520.30 L374.1,520.30 L374.6,520.30 L375.1,520.30 L375.6,520.30 L376.1,519.42 L376.6,519.02 L377.1,518.97 L377.6,519.04 L378.1,519.49 L378.6,520.30 L379.1,520.30 L379.6,520.30 L380.1,520.30 L380.6,520.30 L381.1,519.46 L381.6,519.33 L382.1,519.55 L382.6,520.30 L383.1,520.30 L383.6,520.30 L384.1,520.30 L384.6,520.30 L385.1,520.30 L385.6,519.59 L386.1,519.28 L386.6,519.57 L387.1,519.53 L387.6,519.45 L388.1,519.65 L388.6,520.30 L389.1,520.30 L389.6,520.30 L390.1,520.30 L390.6,520.30 L391.1,520.30 L391.6,520.30 L392.1,520.30 L392.6,520.30 L393.1,520.30 L393.6,520.30 L394.1,519.65 L394.6,519.46 L395.1,519.41 L395.6,519.32 L396.1,519.25 L396.6,519.36 L397.1,519.58 L397.6,520.30 L398.1,520.30 L398.6,520.30 L399.1,520.30 L399.6,520.30 L400.1,520.30 L400.6,520.30 L401.1,520.30 L401.6,519.58 L402.1,519.05 L402.6,518.94 L403.1,519.21 L403.6,519.57 L404.1,520.30 L404.6,520.30 L405.1,520.30 L405.6,520.30 L406.1,520.30 L406.6,520.30 L407.1,520.30 L407.6,520.30 L408.1,520.30 L408.6,520.30 L409.1,520.30 L409.6,520.30 L410.1,520.30 L410.6,520.30 L411.1,520.30 L411.6,520.30 L412.1,520.30 L412.6,520.30 L413.1,520.30 L413.6,519.59 L414.1,519.10 L414.6,518.76 L415.1,518.37 L415.6,519.10 L416.1,519.53 L416.6,520.30 L417.1,520.30 L417.6,520.30 L418.1,520.30 L418.6,520.30 L419.1,520.30 L419.6,520.30 L420.1,520.30 L420.6,520.30 L421.1,520.30 L421.6,520.30 L422.1,520.30 L422.6,520.30 L423.1,520.30 L423.6,520.30 L424.1,520.30 L424.6,520.30 L425.1,520.30 L425.6,520.30 L426.1,520.30 L426.6,520.30 L427.1,520.30 L427.6,520.30 L428.1,519.62 L428.6,519.65 L429.1,519.68 L429.6,519.28 L430.1,519.30 L430.6,519.15 L431.1,519.13 L431.1,520.3 Z" fill="#5b2d8a" stroke="none" stroke-width="0.4" opacity="0.85" stroke-linejoin="round"/>
<line x1="132.6" y1="520.2" x2="431.5" y2="520.2" stroke="#6b4d9a" stroke-width="0.9"/>
<path d="M132.6,540.5 L132.6,540.10 L133.1,540.00 L133.6,539.84 L134.1,539.62 L134.6,539.34 L135.1,539.08 L135.6,538.89 L136.1,538.82 L136.6,538.87 L137.1,539.04 L137.6,539.28 L138.1,539.42 L138.6,539.37 L139.1,539.15 L139.6,538.81 L140.1,538.44 L140.6,538.11 L141.1,537.90 L141.6,537.97 L142.1,538.34 L142.6,538.82 L143.1,539.24 L143.6,539.55 L144.1,539.77 L144.6,539.90 L145.1,539.96 L145.6,539.95 L146.1,539.87 L146.6,539.74 L147.1,539.60 L147.6,539.48 L148.1,539.33 L148.6,539.13 L149.1,538.90 L149.6,538.73 L150.1,538.69 L150.6,538.80 L151.1,539.03 L151.6,539.33 L152.1,539.61 L152.6,539.83 L153.1,539.98 L153.6,540.06 L154.1,540.09 L154.6,540.10 L155.1,540.08 L155.6,540.03 L156.1,539.92 L156.6,539.70 L157.1,539.31 L157.6,538.74 L158.1,537.98 L158.6,537.08 L159.1,536.06 L159.6,534.91 L160.1,533.55 L160.6,531.95 L161.1,530.29 L161.6,528.92 L162.1,528.30 L162.6,528.69 L163.1,529.96 L163.6,531.60 L164.1,532.90 L164.6,533.30 L165.1,532.68 L165.6,531.45 L166.1,530.37 L166.6,530.05 L167.1,530.68 L167.6,531.87 L168.1,533.03 L168.6,533.76 L169.1,534.11 L169.6,534.44 L170.1,535.03 L170.6,535.87 L171.1,536.73 L171.6,537.40 L172.1,537.86 L172.6,538.22 L173.1,538.60 L173.6,538.99 L174.1,539.38 L174.6,539.73 L175.1,539.94 L175.6,540.01 L176.1,539.99 L176.6,539.97 L177.1,539.96 L177.6,539.97 L178.1,539.97 L178.6,539.88 L179.1,539.57 L179.6,538.87 L180.1,537.97 L180.6,537.73 L181.1,538.33 L181.6,538.69 L182.1,538.20 L182.6,538.29 L183.1,539.12 L183.6,539.51 L184.1,539.64 L184.6,539.71 L185.1,539.67 L185.6,539.36 L186.1,538.56 L186.6,537.77 L187.1,537.87 L187.6,538.28 L188.1,538.41 L188.6,538.51 L189.1,538.70 L189.6,538.78 L190.1,538.87 L190.6,539.15 L191.1,539.45 L191.6,539.61 L192.1,539.66 L192.6,539.68 L193.1,539.70 L193.6,539.74 L194.1,539.79 L194.6,539.83 L195.1,539.81 L195.6,539.67 L196.1,539.42 L196.6,539.27 L197.1,539.32 L197.6,539.38 L198.1,539.38 L198.6,539.38 L199.1,539.46 L199.6,539.62 L200.1,539.74 L200.6,539.65 L201.1,539.30 L201.6,538.86 L202.1,538.64 L202.6,538.70 L203.1,538.71 L203.6,538.43 L204.1,537.96 L204.6,537.20 L205.1,537.05 L205.6,538.26 L206.1,538.89 L206.6,538.65 L207.1,538.01 L207.6,537.82 L208.1,537.92 L208.6,538.61 L209.1,539.39 L209.6,539.63 L210.1,539.67 L210.6,539.69 L211.1,539.65 L211.6,539.50 L212.1,539.04 L212.6,538.04 L213.1,536.92 L213.6,536.84 L214.1,537.91 L214.6,538.80 L215.1,539.00 L215.6,538.84 L216.1,538.58 L216.6,538.40 L217.1,538.61 L217.6,539.03 L218.1,539.26 L218.6,539.35 L219.1,539.34 L219.6,539.19 L220.1,538.89 L220.6,538.63 L221.1,538.64 L221.6,538.88 L222.1,539.12 L222.6,539.23 L223.1,539.25 L223.6,539.18 L224.1,538.99 L224.6,538.75 L225.1,538.66 L225.6,538.81 L226.1,538.94 L226.6,538.77 L227.1,538.82 L227.6,539.09 L228.1,539.05 L228.6,538.83 L229.1,538.71 L229.6,538.70 L230.1,538.58 L230.6,538.43 L231.1,538.36 L231.6,538.28 L232.1,538.75 L232.6,539.46 L233.1,539.78 L233.6,539.92 L234.1,540.02 L234.6,540.10 L235.1,540.14 L235.6,540.13 L236.1,540.12 L236.6,540.14 L237.1,540.17 L237.6,540.14 L238.1,540.08 L238.6,539.94 L239.1,539.72 L239.6,539.46 L240.1,539.09 L240.6,538.49 L241.1,538.13 L241.6,538.31 L242.1,538.42 L242.6,538.50 L243.1,538.89 L243.6,539.40 L244.1,539.74 L244.6,539.88 L245.1,539.92 L245.6,539.97 L246.1,540.02 L246.6,540.02 L247.1,539.91 L247.6,539.62 L248.1,539.44 L248.6,539.45 L249.1,539.27 L249.6,539.11 L250.1,539.16 L250.6,539.17 L251.1,539.01 L251.6,538.81 L252.1,538.93 L252.6,539.31 L253.1,539.56 L253.6,539.59 L254.1,539.59 L254.6,539.63 L255.1,539.65 L255.6,539.61 L256.1,539.41 L256.6,539.00 L257.1,538.82 L257.6,539.08 L258.1,539.29 L258.6,539.25 L259.1,538.86 L259.6,537.92 L260.1,536.97 L260.6,537.14 L261.1,538.26 L261.6,539.18 L262.1,539.61 L262.6,539.78 L263.1,539.85 L263.6,539.85 L264.1,539.80 L264.6,539.74 L265.1,539.67 L265.6,539.52 L266.1,539.17 L266.6,538.81 L267.1,538.93 L267.6,539.50 L268.1,539.83 L268.6,539.92 L269.1,539.95 L269.6,539.94 L270.1,539.90 L270.6,539.81 L271.1,539.62 L271.6,539.23 L272.1,538.61 L272.6,538.00 L273.1,537.69 L273.6,537.47 L274.1,536.96 L274.6,536.94 L275.1,538.27 L275.6,539.33 L276.1,539.75 L276.6,539.88 L277.1,539.78 L277.6,539.39 L278.1,538.70 L278.6,538.08 L279.1,538.10 L279.6,538.62 L280.1,539.11 L280.6,539.33 L281.1,539.39 L281.6,539.45 L282.1,539.55 L282.6,539.67 L283.1,539.77 L283.6,539.80 L284.1,539.75 L284.6,539.63 L285.1,539.47 L285.6,539.29 L286.1,539.00 L286.6,538.42 L287.1,537.81 L287.6,537.87 L288.1,538.77 L288.6,539.60 L289.1,539.94 L289.6,540.04 L290.1,540.07 L290.6,540.04 L291.1,539.96 L291.6,539.83 L292.1,539.67 L292.6,539.51 L293.1,539.40 L293.6,539.32 L294.1,539.19 L294.6,538.64 L295.1,537.41 L295.6,536.67 L296.1,537.41 L296.6,538.42 L297.1,538.99 L297.6,539.33 L298.1,539.54 L298.6,539.66 L299.1,539.75 L299.6,539.84 L300.1,539.89 L300.6,539.80 L301.1,539.33 L301.6,538.21 L302.1,537.17 L302.6,537.18 L303.1,537.48 L303.6,537.94 L304.1,538.74 L304.6,539.38 L305.1,539.62 L305.6,539.58 L306.1,539.36 L306.6,538.98 L307.1,538.67 L307.6,538.68 L308.1,539.02 L308.6,539.47 L309.1,539.82 L309.6,540.01 L310.1,540.09 L310.6,540.12 L311.1,540.12 L311.6,540.07 L312.1,539.93 L312.6,539.56 L313.1,539.20 L313.6,539.03 L314.1,538.96 L314.6,539.20 L315.1,539.60 L315.6,539.91 L316.1,540.07 L316.6,540.13 L317.1,540.15 L317.6,540.16 L318.1,540.14 L318.6,540.11 L319.1,540.06 L319.6,539.98 L320.1,539.87 L320.6,539.71 L321.1,539.53 L321.6,539.32 L322.1,539.05 L322.6,538.65 L323.1,538.22 L323.6,537.87 L324.1,538.02 L324.6,538.84 L325.1,539.41 L325.6,539.36 L326.1,539.04 L326.6,538.82 L327.1,538.82 L327.6,538.83 L328.1,538.72 L328.6,538.73 L329.1,539.07 L329.6,539.50 L330.1,539.72 L330.6,539.63 L331.1,539.24 L331.6,538.98 L332.1,539.03 L332.6,538.95 L333.1,538.69 L333.6,538.58 L334.1,538.78 L334.6,539.23 L335.1,539.72 L335.6,540.00 L336.1,540.10 L336.6,540.13 L337.1,540.14 L337.6,540.13 L338.1,540.08 L338.6,539.91 L339.1,539.40 L339.6,538.49 L340.1,537.79 L340.6,537.90 L341.1,538.46 L341.6,538.73 L342.1,538.88 L342.6,538.99 L343.1,538.83 L343.6,538.29 L344.1,537.56 L344.6,537.30 L345.1,537.83 L345.6,538.54 L346.1,538.92 L346.6,539.10 L347.1,539.24 L347.6,539.34 L348.1,539.40 L348.6,539.39 L349.1,539.28 L349.6,539.02 L350.1,538.65 L350.6,538.35 L351.1,538.26 L351.6,538.26 L352.1,538.15 L352.6,537.89 L353.1,537.55 L353.6,537.49 L354.1,538.04 L354.6,538.86 L355.1,539.45 L355.6,539.72 L356.1,539.85 L356.6,539.93 L357.1,539.97 L357.6,539.96 L358.1,539.77 L358.6,539.33 L359.1,538.98 L359.6,539.02 L360.1,539.03 L360.6,538.77 L361.1,538.63 L361.6,538.97 L362.1,539.55 L362.6,539.95 L363.1,540.10 L363.6,540.14 L364.1,540.15 L364.6,540.15 L365.1,540.13 L365.6,540.09 L366.1,540.03 L366.6,539.93 L367.1,539.68 L367.6,539.14 L368.1,538.78 L368.6,539.02 L369.1,539.27 L369.6,539.50 L370.1,539.67 L370.6,539.70 L371.1,539.49 L371.6,538.92 L372.1,538.19 L372.6,537.68 L373.1,537.46 L373.6,537.56 L374.1,537.86 L374.6,538.29 L375.1,539.10 L375.6,539.61 L376.1,539.74 L376.6,539.73 L377.1,539.45 L377.6,538.87 L378.1,538.77 L378.6,538.71 L379.1,538.59 L379.6,538.79 L380.1,538.77 L380.6,538.06 L381.1,537.19 L381.6,536.96 L382.1,537.15 L382.6,536.96 L383.1,537.67 L383.6,539.11 L384.1,539.70 L384.6,539.81 L385.1,539.84 L385.6,539.85 L386.1,539.86 L386.6,539.85 L387.1,539.81 L387.6,539.76 L388.1,539.68 L388.6,539.56 L389.1,539.31 L389.6,538.76 L390.1,538.42 L390.6,538.57 L391.1,538.65 L391.6,538.59 L392.1,538.65 L392.6,538.75 L393.1,538.69 L393.6,538.70 L394.1,538.81 L394.6,538.72 L395.1,538.29 L395.6,537.42 L396.1,536.35 L396.6,535.75 L397.1,536.08 L397.6,537.01 L398.1,537.94 L398.6,538.62 L399.1,539.09 L399.6,539.44 L400.1,539.69 L400.6,539.78 L401.1,539.64 L401.6,539.50 L402.1,539.68 L402.6,539.92 L403.1,540.05 L403.6,540.10 L404.1,540.11 L404.6,540.09 L405.1,540.05 L405.6,540.00 L406.1,539.93 L406.6,539.85 L407.1,539.73 L407.6,539.51 L408.1,539.16 L408.6,538.84 L409.1,538.78 L409.6,539.02 L410.1,539.26 L410.6,539.37 L411.1,539.36 L411.6,539.15 L412.1,538.80 L412.6,538.72 L413.1,539.11 L413.6,539.53 L414.1,539.72 L414.6,539.80 L415.1,539.83 L415.6,539.71 L416.1,539.32 L416.6,538.72 L417.1,538.29 L417.6,538.23 L418.1,538.50 L418.6,539.07 L419.1,539.34 L419.6,539.26 L420.1,539.01 L420.6,538.91 L421.1,539.16 L421.6,539.46 L422.1,539.56 L422.6,539.50 L423.1,539.36 L423.6,539.22 L424.1,539.03 L424.6,538.80 L425.1,538.71 L425.6,538.86 L426.1,539.19 L426.6,539.48 L427.1,539.66 L427.6,539.79 L428.1,539.90 L428.6,539.99 L429.1,540.05 L429.6,540.05 L430.1,540.00 L430.6,539.93 L431.1,539.85 L431.1,540.5 Z" fill="#3cb2e6" stroke="none" stroke-width="0.4" opacity="1" stroke-linejoin="round"/>
<path d="M132.6,540.45 L132.6,540.45 L133.1,540.35 L133.6,540.12 L134.1,539.87 L134.6,539.62 L135.1,539.51 L135.6,539.45 L136.1,539.45 L136.6,539.57 L137.1,539.80 L137.6,539.89 L138.1,540.06 L138.6,539.96 L139.1,539.82 L139.6,539.47 L140.1,539.15 L140.6,538.84 L141.1,538.88 L141.6,538.94 L142.1,539.20 L142.6,539.64 L143.1,539.91 L143.6,540.15 L144.1,540.27 L144.6,540.28 L145.1,540.22 L145.6,540.24 L146.1,540.37 L146.6,540.42 L147.1,540.34 L147.6,540.21 L148.1,539.87 L148.6,539.49 L149.1,539.29 L149.6,538.97 L150.1,539.10 L150.6,539.07 L151.1,539.50 L151.6,539.76 L152.1,540.01 L152.6,540.16 L153.1,540.33 L153.6,540.40 L154.1,540.40 L154.6,540.40 L155.1,540.37 L155.6,540.33 L156.1,540.24 L156.6,540.13 L157.1,539.76 L157.6,539.43 L158.1,538.70 L158.6,538.23 L159.1,537.21 L159.6,537.13 L160.1,535.24 L160.6,535.04 L161.1,533.00 L161.6,531.69 L162.1,529.89 L162.6,530.78 L163.1,531.62 L163.6,533.61 L164.1,535.70 L164.6,536.49 L165.1,535.92 L165.6,533.83 L166.1,532.02 L166.6,532.06 L167.1,533.30 L167.6,534.21 L168.1,535.29 L168.6,536.20 L169.1,535.77 L169.6,536.34 L170.1,536.92 L170.6,537.61 L171.1,538.10 L171.6,538.54 L172.1,538.98 L172.6,539.12 L173.1,539.32 L173.6,539.76 L174.1,540.03 L174.6,540.22 L175.1,540.31 L175.6,540.32 L176.1,540.30 L176.6,540.31 L177.1,540.36 L177.6,540.36 L178.1,540.36 L178.6,540.26 L179.1,539.98 L179.6,539.39 L180.1,538.44 L180.6,538.43 L181.1,538.93 L181.6,539.48 L182.1,539.01 L182.6,539.07 L183.1,539.79 L183.6,540.12 L184.1,540.21 L184.6,540.25 L185.1,540.21 L185.6,540.02 L186.1,539.34 L186.6,538.63 L187.1,538.87 L187.6,539.08 L188.1,539.19 L188.6,539.35 L189.1,539.46 L189.6,539.45 L190.1,539.37 L190.6,539.71 L191.1,540.10 L191.6,540.26 L192.1,540.34 L192.6,540.36 L193.1,540.28 L193.6,540.17 L194.1,540.24 L194.6,540.33 L195.1,540.37 L195.6,540.28 L196.1,540.00 L196.6,539.86 L197.1,539.82 L197.6,539.93 L198.1,539.90 L198.6,539.84 L199.1,539.91 L199.6,540.08 L200.1,540.19 L200.6,540.15 L201.1,539.87 L201.6,539.40 L202.1,539.21 L202.6,539.57 L203.1,539.54 L203.6,539.24 L204.1,538.91 L204.6,538.31 L205.1,538.21 L205.6,539.20 L206.1,539.60 L206.6,539.36 L207.1,538.91 L207.6,538.48 L208.1,538.85 L208.6,539.40 L209.1,540.13 L209.6,540.29 L210.1,540.35 L210.6,540.34 L211.1,540.30 L211.6,540.18 L212.1,539.80 L212.6,539.07 L213.1,537.87 L213.6,537.58 L214.1,538.69 L214.6,539.32 L215.1,539.41 L215.6,539.37 L216.1,539.17 L216.6,538.93 L217.1,539.13 L217.6,539.61 L218.1,539.79 L218.6,539.84 L219.1,539.75 L219.6,539.58 L220.1,539.51 L220.6,539.37 L221.1,539.37 L221.6,539.46 L222.1,539.70 L222.6,539.68 L223.1,539.44 L223.6,539.44 L224.1,539.25 L224.6,539.02 L225.1,539.10 L225.6,539.44 L226.1,539.65 L226.6,539.59 L227.1,539.63 L227.6,539.85 L228.1,539.77 L228.6,539.47 L229.1,539.40 L229.6,539.54 L230.1,539.32 L230.6,539.05 L231.1,539.02 L231.6,539.00 L232.1,539.20 L232.6,539.92 L233.1,540.16 L233.6,540.27 L234.1,540.33 L234.6,540.34 L235.1,540.38 L235.6,540.40 L236.1,540.43 L236.6,540.46 L237.1,540.47 L237.6,540.47 L238.1,540.44 L238.6,540.38 L239.1,540.28 L239.6,540.11 L240.1,539.81 L240.6,539.19 L241.1,538.91 L241.6,539.02 L242.1,539.31 L242.6,539.28 L243.1,539.70 L243.6,540.06 L244.1,540.30 L244.6,540.39 L245.1,540.40 L245.6,540.40 L246.1,540.41 L246.6,540.41 L247.1,540.31 L247.6,539.98 L248.1,539.72 L248.6,539.76 L249.1,539.42 L249.6,539.46 L250.1,539.46 L250.6,539.38 L251.1,539.30 L251.6,539.09 L252.1,539.18 L252.6,539.59 L253.1,539.77 L253.6,539.85 L254.1,539.86 L254.6,539.96 L255.1,540.03 L255.6,540.02 L256.1,539.90 L256.6,539.53 L257.1,539.43 L257.6,539.63 L258.1,539.81 L258.6,539.79 L259.1,539.71 L259.6,538.77 L260.1,538.33 L260.6,537.99 L261.1,539.01 L261.6,539.86 L262.1,540.07 L262.6,540.17 L263.1,540.19 L263.6,540.18 L264.1,540.17 L264.6,540.19 L265.1,540.17 L265.6,540.01 L266.1,539.76 L266.6,539.34 L267.1,539.56 L267.6,539.85 L268.1,540.07 L268.6,540.09 L269.1,540.16 L269.6,540.24 L270.1,540.35 L270.6,540.35 L271.1,540.23 L271.6,539.93 L272.1,539.29 L272.6,538.65 L273.1,538.46 L273.6,538.17 L274.1,537.96 L274.6,537.52 L275.1,538.86 L275.6,539.73 L276.1,539.99 L276.6,539.93 L277.1,539.82 L277.6,539.58 L278.1,539.10 L278.6,538.43 L279.1,538.33 L279.6,538.96 L280.1,539.59 L280.6,539.74 L281.1,539.91 L281.6,540.06 L282.1,540.15 L282.6,540.28 L283.1,540.32 L283.6,540.29 L284.1,540.27 L284.6,540.19 L285.1,540.02 L285.6,539.92 L286.1,539.59 L286.6,539.07 L287.1,538.50 L287.6,538.62 L288.1,539.42 L288.6,539.91 L289.1,540.17 L289.6,540.27 L290.1,540.34 L290.6,540.36 L291.1,540.32 L291.6,540.23 L292.1,540.10 L292.6,539.94 L293.1,539.78 L293.6,539.75 L294.1,539.67 L294.6,539.19 L295.1,538.19 L295.6,537.60 L296.1,538.53 L296.6,539.22 L297.1,539.76 L297.6,539.99 L298.1,540.17 L298.6,540.29 L299.1,540.34 L299.6,540.39 L300.1,540.40 L300.6,540.34 L301.1,540.01 L301.6,538.96 L302.1,538.12 L302.6,538.15 L303.1,538.24 L303.6,538.81 L304.1,539.53 L304.6,539.90 L305.1,540.01 L305.6,539.96 L306.1,539.66 L306.6,539.37 L307.1,539.14 L307.6,539.36 L308.1,539.59 L308.6,539.88 L309.1,540.14 L309.6,540.24 L310.1,540.20 L310.6,540.21 L311.1,540.14 L311.6,540.16 L312.1,540.07 L312.6,539.80 L313.1,539.61 L313.6,539.45 L314.1,539.28 L314.6,539.55 L315.1,539.92 L315.6,540.15 L316.1,540.25 L316.6,540.20 L317.1,540.16 L317.6,540.16 L318.1,540.10 L318.6,540.02 L319.1,540.09 L319.6,540.10 L320.1,540.03 L320.6,539.98 L321.1,539.89 L321.6,539.81 L322.1,539.69 L322.6,539.32 L323.1,538.90 L323.6,538.33 L324.1,538.44 L324.6,539.44 L325.1,539.87 L325.6,539.85 L326.1,539.47 L326.6,539.26 L327.1,539.17 L327.6,539.44 L328.1,539.34 L328.6,539.35 L329.1,539.78 L329.6,540.11 L330.1,540.28 L330.6,540.17 L331.1,539.77 L331.6,539.51 L332.1,539.49 L332.6,539.47 L333.1,539.15 L333.6,539.27 L334.1,539.36 L334.6,539.72 L335.1,540.00 L335.6,540.20 L336.1,540.25 L336.6,540.28 L337.1,540.31 L337.6,540.36 L338.1,540.36 L338.6,540.29 L339.1,539.95 L339.6,539.21 L340.1,538.64 L340.6,538.75 L341.1,539.15 L341.6,539.24 L342.1,539.34 L342.6,539.45 L343.1,539.55 L343.6,539.12 L344.1,538.57 L344.6,538.26 L345.1,538.94 L345.6,539.28 L346.1,539.47 L346.6,539.63 L347.1,539.85 L347.6,539.95 L348.1,539.94 L348.6,539.98 L349.1,540.00 L349.6,539.85 L350.1,539.38 L350.6,539.13 L351.1,538.98 L351.6,538.95 L352.1,538.69 L352.6,538.75 L353.1,538.39 L353.6,538.41 L354.1,538.62 L354.6,539.56 L355.1,539.90 L355.6,540.15 L356.1,540.26 L356.6,540.34 L357.1,540.36 L357.6,540.38 L358.1,540.22 L358.6,539.78 L359.1,539.43 L359.6,539.65 L360.1,539.73 L360.6,539.50 L361.1,539.16 L361.6,539.49 L362.1,539.76 L362.6,540.04 L363.1,540.13 L363.6,540.12 L364.1,540.17 L364.6,540.25 L365.1,540.26 L365.6,540.26 L366.1,540.20 L366.6,540.20 L367.1,540.17 L367.6,539.72 L368.1,539.46 L368.6,539.62 L369.1,539.88 L369.6,540.03 L370.1,540.19 L370.6,540.16 L371.1,539.93 L371.6,539.51 L372.1,538.84 L372.6,538.29 L373.1,538.28 L373.6,538.32 L374.1,538.70 L374.6,538.80 L375.1,539.49 L375.6,539.95 L376.1,540.12 L376.6,540.17 L377.1,540.02 L377.6,539.61 L378.1,539.68 L378.6,539.61 L379.1,539.25 L379.6,539.66 L380.1,539.60 L380.6,538.99 L381.1,538.43 L381.6,538.22 L382.1,538.35 L382.6,537.98 L383.1,538.89 L383.6,539.98 L384.1,540.37 L384.6,540.45 L385.1,540.44 L385.6,540.41 L386.1,540.34 L386.6,540.29 L387.1,540.29 L387.6,540.26 L388.1,540.20 L388.6,540.11 L389.1,539.97 L389.6,539.47 L390.1,539.33 L390.6,539.51 L391.1,539.64 L391.6,539.46 L392.1,539.31 L392.6,539.60 L393.1,539.46 L393.6,539.65 L394.1,539.84 L394.6,539.80 L395.1,539.57 L395.6,538.83 L396.1,537.82 L396.6,537.21 L397.1,537.76 L397.6,538.35 L398.1,539.12 L398.6,539.62 L399.1,539.93 L399.6,540.11 L400.1,540.22 L400.6,540.28 L401.1,540.15 L401.6,539.94 L402.1,540.07 L402.6,540.25 L403.1,540.38 L403.6,540.40 L404.1,540.40 L404.6,540.40 L405.1,540.38 L405.6,540.36 L406.1,540.31 L406.6,540.21 L407.1,540.11 L407.6,539.86 L408.1,539.42 L408.6,539.19 L409.1,539.05 L409.6,539.45 L410.1,539.73 L410.6,539.83 L411.1,539.82 L411.6,539.53 L412.1,539.40 L412.6,539.31 L413.1,539.90 L413.6,540.25 L414.1,540.38 L414.6,540.40 L415.1,540.39 L415.6,540.24 L416.1,540.00 L416.6,539.31 L417.1,539.05 L417.6,538.85 L418.1,539.21 L418.6,539.54 L419.1,539.78 L419.6,539.88 L420.1,539.70 L420.6,539.57 L421.1,539.85 L421.6,540.07 L422.1,539.98 L422.6,539.83 L423.1,539.75 L423.6,539.66 L424.1,539.78 L424.6,539.67 L425.1,539.61 L425.6,539.81 L426.1,540.07 L426.6,540.23 L427.1,540.28 L427.6,540.28 L428.1,540.16 L428.6,540.19 L429.1,540.25 L429.6,540.31 L430.1,540.33 L430.6,540.33 L431.1,540.36" fill="none" stroke="#1b2f6e" stroke-width="0.9" opacity="1" stroke-linejoin="round"/>
<line x1="132.6" y1="562.1" x2="435.0" y2="562.1" stroke="#a6d58a" stroke-width="0.8"/>
<path d="M202.0,562.1 L202.5,561.3 L203.6,561.4 L204.0,562.1 Z" fill="#84c46a" stroke="none" stroke-width="1" opacity="0.8"/>
<path d="M202.4,562.1 L202.8,560.8 L203.0,560.6 L203.3,560.8 L203.6,562.1 Z" fill="#2a6a30" stroke="none" stroke-width="1"/>
<path d="M241.7,562.1 L242.2,558.6 L243.3,559.0 L243.7,562.1 Z" fill="#84c46a" stroke="none" stroke-width="1" opacity="0.8"/>
<path d="M242.1,562.1 L242.5,556.4 L242.7,555.8 L243.0,556.7 L243.3,562.1 Z" fill="#2a6a30" stroke="none" stroke-width="1"/>
<path d="M268.8,562.1 L269.3,558.3 L270.4,558.6 L270.8,562.1 Z" fill="#84c46a" stroke="none" stroke-width="1" opacity="0.8"/>
<path d="M269.2,562.1 L269.6,555.9 L269.8,555.2 L270.1,556.2 L270.4,562.1 Z" fill="#2a6a30" stroke="none" stroke-width="1"/>
<path d="M275.2,562.1 L275.7,557.4 L276.8,557.9 L277.2,562.1 Z" fill="#84c46a" stroke="none" stroke-width="1" opacity="0.8"/>
<path d="M275.6,562.1 L276.0,554.5 L276.2,553.6 L276.5,554.9 L276.8,562.1 Z" fill="#2a6a30" stroke="none" stroke-width="1"/>
<path d="M280.5,562.1 L281.0,557.4 L282.1,557.9 L282.5,562.1 Z" fill="#84c46a" stroke="none" stroke-width="1" opacity="0.8"/>
<path d="M280.9,562.1 L281.3,554.5 L281.5,553.6 L281.8,554.9 L282.1,562.1 Z" fill="#2a6a30" stroke="none" stroke-width="1"/>
<path d="M283.8,562.1 L284.3,561.3 L285.4,561.4 L285.8,562.1 Z" fill="#84c46a" stroke="none" stroke-width="1" opacity="0.8"/>
<path d="M284.2,562.1 L284.6,560.8 L284.8,560.6 L285.1,560.8 L285.4,562.1 Z" fill="#2a6a30" stroke="none" stroke-width="1"/>
<path d="M303.8,562.1 L304.3,559.4 L305.4,559.6 L305.8,562.1 Z" fill="#84c46a" stroke="none" stroke-width="1" opacity="0.8"/>
<path d="M304.2,562.1 L304.6,557.6 L304.8,557.1 L305.1,557.9 L305.4,562.1 Z" fill="#2a6a30" stroke="none" stroke-width="1"/>
<path d="M304.8,562.1 L305.3,557.4 L306.4,557.9 L306.8,562.1 Z" fill="#84c46a" stroke="none" stroke-width="1" opacity="0.8"/>
<path d="M305.2,562.1 L305.6,554.5 L305.8,553.6 L306.1,554.9 L306.4,562.1 Z" fill="#2a6a30" stroke="none" stroke-width="1"/>
<path d="M305.8,562.1 L306.3,556.9 L307.4,557.4 L307.8,562.1 Z" fill="#84c46a" stroke="none" stroke-width="1" opacity="0.8"/>
<path d="M306.2,562.1 L306.6,553.6 L306.8,552.6 L307.1,554.0 L307.4,562.1 Z" fill="#2a6a30" stroke="none" stroke-width="1"/>
<path d="M306.6,562.1 L307.1,558.2 L308.2,558.6 L308.6,562.1 Z" fill="#84c46a" stroke="none" stroke-width="1" opacity="0.8"/>
<path d="M307.0,562.1 L307.4,555.8 L307.6,555.1 L307.9,556.1 L308.2,562.1 Z" fill="#2a6a30" stroke="none" stroke-width="1"/>
<path d="M331.3,562.1 L331.8,556.3 L332.9,556.9 L333.3,562.1 Z" fill="#84c46a" stroke="none" stroke-width="1" opacity="0.8"/>
<path d="M331.7,562.1 L332.1,552.6 L332.3,551.6 L332.6,553.2 L332.9,562.1 Z" fill="#2a6a30" stroke="none" stroke-width="1"/>
<path d="M332.5,562.1 L333.0,557.1 L334.1,557.6 L334.5,562.1 Z" fill="#84c46a" stroke="none" stroke-width="1" opacity="0.8"/>
<path d="M332.9,562.1 L333.3,554.0 L333.5,553.1 L333.8,554.5 L334.1,562.1 Z" fill="#2a6a30" stroke="none" stroke-width="1"/>
<path d="M333.5,562.1 L334.0,558.2 L335.1,558.6 L335.5,562.1 Z" fill="#84c46a" stroke="none" stroke-width="1" opacity="0.8"/>
<path d="M333.9,562.1 L334.3,555.8 L334.5,555.1 L334.8,556.1 L335.1,562.1 Z" fill="#2a6a30" stroke="none" stroke-width="1"/>
<path d="M354.8,562.1 L355.3,558.0 L356.4,558.4 L356.8,562.1 Z" fill="#84c46a" stroke="none" stroke-width="1" opacity="0.8"/>
<path d="M355.2,562.1 L355.6,555.4 L355.8,554.6 L356.1,555.7 L356.4,562.1 Z" fill="#2a6a30" stroke="none" stroke-width="1"/>
<path d="M394.0,562.1 L394.5,556.9 L395.6,557.4 L396.0,562.1 Z" fill="#84c46a" stroke="none" stroke-width="1" opacity="0.8"/>
<path d="M394.4,562.1 L394.8,553.6 L395.0,552.6 L395.3,554.0 L395.6,562.1 Z" fill="#2a6a30" stroke="none" stroke-width="1"/>
<path d="M404.0,562.1 L404.5,556.6 L405.6,557.1 L406.0,562.1 Z" fill="#84c46a" stroke="none" stroke-width="1" opacity="0.8"/>
<path d="M404.4,562.1 L404.8,553.1 L405.0,552.1 L405.3,553.6 L405.6,562.1 Z" fill="#2a6a30" stroke="none" stroke-width="1"/>
<path d="M409.0,562.1 L409.5,555.2 L410.6,555.9 L411.0,562.1 Z" fill="#84c46a" stroke="none" stroke-width="1" opacity="0.8"/>
<path d="M409.4,562.1 L409.8,550.9 L410.0,549.6 L410.3,551.5 L410.6,562.1 Z" fill="#2a6a30" stroke="none" stroke-width="1"/>
<path d="M408.2,562.1 L408.7,558.8 L409.8,559.1 L410.2,562.1 Z" fill="#84c46a" stroke="none" stroke-width="1" opacity="0.8"/>
<path d="M408.6,562.1 L409.0,556.7 L409.2,556.1 L409.5,557.0 L409.8,562.1 Z" fill="#2a6a30" stroke="none" stroke-width="1"/>
<rect x="156.4" y="480.8" width="15.4" height="81.9" fill="none" stroke="#3f5a9c" stroke-width="0.8" stroke-dasharray="0.9,0.9"/>
<line x1="402.9" y1="567.2" x2="435.0" y2="567.2" stroke="#222" stroke-width="0.9"/>
<text x="419.4" y="576.3" font-size="6.2" fill="#333" stroke="#333" stroke-width="0.062" text-anchor="middle" textLength="13.2" lengthAdjust="spacingAndGlyphs">5 Kb</text>
<line x1="155.0" y1="599.8" x2="403.4" y2="599.8" stroke="#4a5a95" stroke-width="0.6"/>
<line x1="182" y1="599.1999999999999" x2="182.6" y2="600.4" stroke="#6a78aa" stroke-width="0.3"/>
<line x1="184" y1="599.1999999999999" x2="184.6" y2="600.4" stroke="#6a78aa" stroke-width="0.3"/>
<line x1="186" y1="599.1999999999999" x2="186.6" y2="600.4" stroke="#6a78aa" stroke-width="0.3"/>
<line x1="188" y1="599.1999999999999" x2="188.6" y2="600.4" stroke="#6a78aa" stroke-width="0.3"/>
<line x1="190" y1="599.1999999999999" x2="190.6" y2="600.4" stroke="#6a78aa" stroke-width="0.3"/>
<line x1="192" y1="599.1999999999999" x2="192.6" y2="600.4" stroke="#6a78aa" stroke-width="0.3"/>
<line x1="194" y1="599.1999999999999" x2="194.6" y2="600.4" stroke="#6a78aa" stroke-width="0.3"/>
<line x1="196" y1="599.1999999999999" x2="196.6" y2="600.4" stroke="#6a78aa" stroke-width="0.3"/>
<line x1="198" y1="599.1999999999999" x2="198.6" y2="600.4" stroke="#6a78aa" stroke-width="0.3"/>
<line x1="200" y1="599.1999999999999" x2="200.6" y2="600.4" stroke="#6a78aa" stroke-width="0.3"/>
<line x1="202" y1="599.1999999999999" x2="202.6" y2="600.4" stroke="#6a78aa" stroke-width="0.3"/>
<line x1="204" y1="599.1999999999999" x2="204.6" y2="600.4" stroke="#6a78aa" stroke-width="0.3"/>
<line x1="206" y1="599.1999999999999" x2="206.6" y2="600.4" stroke="#6a78aa" stroke-width="0.3"/>
<line x1="208" y1="599.1999999999999" x2="208.6" y2="600.4" stroke="#6a78aa" stroke-width="0.3"/>
<line x1="210" y1="599.1999999999999" x2="210.6" y2="600.4" stroke="#6a78aa" stroke-width="0.3"/>
<line x1="212" y1="599.1999999999999" x2="212.6" y2="600.4" stroke="#6a78aa" stroke-width="0.3"/>
<line x1="214" y1="599.1999999999999" x2="214.6" y2="600.4" stroke="#6a78aa" stroke-width="0.3"/>
<line x1="216" y1="599.1999999999999" x2="216.6" y2="600.4" stroke="#6a78aa" stroke-width="0.3"/>
<line x1="218" y1="599.1999999999999" x2="218.6" y2="600.4" stroke="#6a78aa" stroke-width="0.3"/>
<line x1="220" y1="599.1999999999999" x2="220.6" y2="600.4" stroke="#6a78aa" stroke-width="0.3"/>
<line x1="222" y1="599.1999999999999" x2="222.6" y2="600.4" stroke="#6a78aa" stroke-width="0.3"/>
<line x1="224" y1="599.1999999999999" x2="224.6" y2="600.4" stroke="#6a78aa" stroke-width="0.3"/>
<line x1="226" y1="599.1999999999999" x2="226.6" y2="600.4" stroke="#6a78aa" stroke-width="0.3"/>
<line x1="228" y1="599.1999999999999" x2="228.6" y2="600.4" stroke="#6a78aa" stroke-width="0.3"/>
<line x1="230" y1="599.1999999999999" x2="230.6" y2="600.4" stroke="#6a78aa" stroke-width="0.3"/>
<line x1="232" y1="599.1999999999999" x2="232.6" y2="600.4" stroke="#6a78aa" stroke-width="0.3"/>
<line x1="234" y1="599.1999999999999" x2="234.6" y2="600.4" stroke="#6a78aa" stroke-width="0.3"/>
<line x1="236" y1="599.1999999999999" x2="236.6" y2="600.4" stroke="#6a78aa" stroke-width="0.3"/>
<line x1="238" y1="599.1999999999999" x2="238.6" y2="600.4" stroke="#6a78aa" stroke-width="0.3"/>
<line x1="240" y1="599.1999999999999" x2="240.6" y2="600.4" stroke="#6a78aa" stroke-width="0.3"/>
<line x1="242" y1="599.1999999999999" x2="242.6" y2="600.4" stroke="#6a78aa" stroke-width="0.3"/>
<line x1="244" y1="599.1999999999999" x2="244.6" y2="600.4" stroke="#6a78aa" stroke-width="0.3"/>
<line x1="246" y1="599.1999999999999" x2="246.6" y2="600.4" stroke="#6a78aa" stroke-width="0.3"/>
<line x1="248" y1="599.1999999999999" x2="248.6" y2="600.4" stroke="#6a78aa" stroke-width="0.3"/>
<line x1="250" y1="599.1999999999999" x2="250.6" y2="600.4" stroke="#6a78aa" stroke-width="0.3"/>
<line x1="252" y1="599.1999999999999" x2="252.6" y2="600.4" stroke="#6a78aa" stroke-width="0.3"/>
<line x1="254" y1="599.1999999999999" x2="254.6" y2="600.4" stroke="#6a78aa" stroke-width="0.3"/>
<line x1="256" y1="599.1999999999999" x2="256.6" y2="600.4" stroke="#6a78aa" stroke-width="0.3"/>
<line x1="258" y1="599.1999999999999" x2="258.6" y2="600.4" stroke="#6a78aa" stroke-width="0.3"/>
<line x1="260" y1="599.1999999999999" x2="260.6" y2="600.4" stroke="#6a78aa" stroke-width="0.3"/>
<line x1="262" y1="599.1999999999999" x2="262.6" y2="600.4" stroke="#6a78aa" stroke-width="0.3"/>
<line x1="264" y1="599.1999999999999" x2="264.6" y2="600.4" stroke="#6a78aa" stroke-width="0.3"/>
<line x1="266" y1="599.1999999999999" x2="266.6" y2="600.4" stroke="#6a78aa" stroke-width="0.3"/>
<line x1="268" y1="599.1999999999999" x2="268.6" y2="600.4" stroke="#6a78aa" stroke-width="0.3"/>
<line x1="270" y1="599.1999999999999" x2="270.6" y2="600.4" stroke="#6a78aa" stroke-width="0.3"/>
<line x1="272" y1="599.1999999999999" x2="272.6" y2="600.4" stroke="#6a78aa" stroke-width="0.3"/>
<line x1="274" y1="599.1999999999999" x2="274.6" y2="600.4" stroke="#6a78aa" stroke-width="0.3"/>
<line x1="276" y1="599.1999999999999" x2="276.6" y2="600.4" stroke="#6a78aa" stroke-width="0.3"/>
<line x1="278" y1="599.1999999999999" x2="278.6" y2="600.4" stroke="#6a78aa" stroke-width="0.3"/>
<line x1="280" y1="599.1999999999999" x2="280.6" y2="600.4" stroke="#6a78aa" stroke-width="0.3"/>
<line x1="282" y1="599.1999999999999" x2="282.6" y2="600.4" stroke="#6a78aa" stroke-width="0.3"/>
<line x1="284" y1="599.1999999999999" x2="284.6" y2="600.4" stroke="#6a78aa" stroke-width="0.3"/>
<line x1="286" y1="599.1999999999999" x2="286.6" y2="600.4" stroke="#6a78aa" stroke-width="0.3"/>
<line x1="288" y1="599.1999999999999" x2="288.6" y2="600.4" stroke="#6a78aa" stroke-width="0.3"/>
<line x1="290" y1="599.1999999999999" x2="290.6" y2="600.4" stroke="#6a78aa" stroke-width="0.3"/>
<line x1="292" y1="599.1999999999999" x2="292.6" y2="600.4" stroke="#6a78aa" stroke-width="0.3"/>
<line x1="294" y1="599.1999999999999" x2="294.6" y2="600.4" stroke="#6a78aa" stroke-width="0.3"/>
<line x1="296" y1="599.1999999999999" x2="296.6" y2="600.4" stroke="#6a78aa" stroke-width="0.3"/>
<line x1="298" y1="599.1999999999999" x2="298.6" y2="600.4" stroke="#6a78aa" stroke-width="0.3"/>
<line x1="300" y1="599.1999999999999" x2="300.6" y2="600.4" stroke="#6a78aa" stroke-width="0.3"/>
<line x1="302" y1="599.1999999999999" x2="302.6" y2="600.4" stroke="#6a78aa" stroke-width="0.3"/>
<line x1="304" y1="599.1999999999999" x2="304.6" y2="600.4" stroke="#6a78aa" stroke-width="0.3"/>
<line x1="306" y1="599.1999999999999" x2="306.6" y2="600.4" stroke="#6a78aa" stroke-width="0.3"/>
<line x1="308" y1="599.1999999999999" x2="308.6" y2="600.4" stroke="#6a78aa" stroke-width="0.3"/>
<line x1="310" y1="599.1999999999999" x2="310.6" y2="600.4" stroke="#6a78aa" stroke-width="0.3"/>
<line x1="312" y1="599.1999999999999" x2="312.6" y2="600.4" stroke="#6a78aa" stroke-width="0.3"/>
<line x1="314" y1="599.1999999999999" x2="314.6" y2="600.4" stroke="#6a78aa" stroke-width="0.3"/>
<line x1="316" y1="599.1999999999999" x2="316.6" y2="600.4" stroke="#6a78aa" stroke-width="0.3"/>
<line x1="318" y1="599.1999999999999" x2="318.6" y2="600.4" stroke="#6a78aa" stroke-width="0.3"/>
<line x1="320" y1="599.1999999999999" x2="320.6" y2="600.4" stroke="#6a78aa" stroke-width="0.3"/>
<line x1="322" y1="599.1999999999999" x2="322.6" y2="600.4" stroke="#6a78aa" stroke-width="0.3"/>
<line x1="324" y1="599.1999999999999" x2="324.6" y2="600.4" stroke="#6a78aa" stroke-width="0.3"/>
<line x1="326" y1="599.1999999999999" x2="326.6" y2="600.4" stroke="#6a78aa" stroke-width="0.3"/>
<line x1="328" y1="599.1999999999999" x2="328.6" y2="600.4" stroke="#6a78aa" stroke-width="0.3"/>
<line x1="330" y1="599.1999999999999" x2="330.6" y2="600.4" stroke="#6a78aa" stroke-width="0.3"/>
<line x1="332" y1="599.1999999999999" x2="332.6" y2="600.4" stroke="#6a78aa" stroke-width="0.3"/>
<line x1="334" y1="599.1999999999999" x2="334.6" y2="600.4" stroke="#6a78aa" stroke-width="0.3"/>
<line x1="336" y1="599.1999999999999" x2="336.6" y2="600.4" stroke="#6a78aa" stroke-width="0.3"/>
<line x1="338" y1="599.1999999999999" x2="338.6" y2="600.4" stroke="#6a78aa" stroke-width="0.3"/>
<line x1="340" y1="599.1999999999999" x2="340.6" y2="600.4" stroke="#6a78aa" stroke-width="0.3"/>
<line x1="342" y1="599.1999999999999" x2="342.6" y2="600.4" stroke="#6a78aa" stroke-width="0.3"/>
<line x1="344" y1="599.1999999999999" x2="344.6" y2="600.4" stroke="#6a78aa" stroke-width="0.3"/>
<line x1="346" y1="599.1999999999999" x2="346.6" y2="600.4" stroke="#6a78aa" stroke-width="0.3"/>
<line x1="348" y1="599.1999999999999" x2="348.6" y2="600.4" stroke="#6a78aa" stroke-width="0.3"/>
<line x1="350" y1="599.1999999999999" x2="350.6" y2="600.4" stroke="#6a78aa" stroke-width="0.3"/>
<line x1="352" y1="599.1999999999999" x2="352.6" y2="600.4" stroke="#6a78aa" stroke-width="0.3"/>
<line x1="354" y1="599.1999999999999" x2="354.6" y2="600.4" stroke="#6a78aa" stroke-width="0.3"/>
<line x1="356" y1="599.1999999999999" x2="356.6" y2="600.4" stroke="#6a78aa" stroke-width="0.3"/>
<line x1="358" y1="599.1999999999999" x2="358.6" y2="600.4" stroke="#6a78aa" stroke-width="0.3"/>
<line x1="360" y1="599.1999999999999" x2="360.6" y2="600.4" stroke="#6a78aa" stroke-width="0.3"/>
<line x1="362" y1="599.1999999999999" x2="362.6" y2="600.4" stroke="#6a78aa" stroke-width="0.3"/>
<line x1="364" y1="599.1999999999999" x2="364.6" y2="600.4" stroke="#6a78aa" stroke-width="0.3"/>
<line x1="366" y1="599.1999999999999" x2="366.6" y2="600.4" stroke="#6a78aa" stroke-width="0.3"/>
<line x1="368" y1="599.1999999999999" x2="368.6" y2="600.4" stroke="#6a78aa" stroke-width="0.3"/>
<line x1="370" y1="599.1999999999999" x2="370.6" y2="600.4" stroke="#6a78aa" stroke-width="0.3"/>
<line x1="372" y1="599.1999999999999" x2="372.6" y2="600.4" stroke="#6a78aa" stroke-width="0.3"/>
<line x1="374" y1="599.1999999999999" x2="374.6" y2="600.4" stroke="#6a78aa" stroke-width="0.3"/>
<line x1="376" y1="599.1999999999999" x2="376.6" y2="600.4" stroke="#6a78aa" stroke-width="0.3"/>
<line x1="378" y1="599.1999999999999" x2="378.6" y2="600.4" stroke="#6a78aa" stroke-width="0.3"/>
<line x1="380" y1="599.1999999999999" x2="380.6" y2="600.4" stroke="#6a78aa" stroke-width="0.3"/>
<line x1="382" y1="599.1999999999999" x2="382.6" y2="600.4" stroke="#6a78aa" stroke-width="0.3"/>
<line x1="384" y1="599.1999999999999" x2="384.6" y2="600.4" stroke="#6a78aa" stroke-width="0.3"/>
<line x1="386" y1="599.1999999999999" x2="386.6" y2="600.4" stroke="#6a78aa" stroke-width="0.3"/>
<line x1="388" y1="599.1999999999999" x2="388.6" y2="600.4" stroke="#6a78aa" stroke-width="0.3"/>
<line x1="390" y1="599.1999999999999" x2="390.6" y2="600.4" stroke="#6a78aa" stroke-width="0.3"/>
<line x1="392" y1="599.1999999999999" x2="392.6" y2="600.4" stroke="#6a78aa" stroke-width="0.3"/>
<line x1="394" y1="599.1999999999999" x2="394.6" y2="600.4" stroke="#6a78aa" stroke-width="0.3"/>
<line x1="396" y1="599.1999999999999" x2="396.6" y2="600.4" stroke="#6a78aa" stroke-width="0.3"/>
<line x1="398" y1="599.1999999999999" x2="398.6" y2="600.4" stroke="#6a78aa" stroke-width="0.3"/>
<line x1="400" y1="599.1999999999999" x2="400.6" y2="600.4" stroke="#6a78aa" stroke-width="0.3"/>
<rect x="154.8" y="598.8" width="26.3" height="2.0" fill="#1f2f6f" stroke="none" stroke-width="1"/>
<rect x="185.25" y="598.0" width="1.5" height="3.6" fill="#1f2f6f" stroke="none" stroke-width="1" rx="0.5"/>
<rect x="189.05" y="598.0" width="1.5" height="3.6" fill="#1f2f6f" stroke="none" stroke-width="1" rx="0.5"/>
<rect x="196.25" y="598.0" width="1.5" height="3.6" fill="#1f2f6f" stroke="none" stroke-width="1" rx="0.5"/>
<rect x="202.05" y="598.0" width="1.5" height="3.6" fill="#1f2f6f" stroke="none" stroke-width="1" rx="0.5"/>
<rect x="209.85" y="598.0" width="1.5" height="3.6" fill="#1f2f6f" stroke="none" stroke-width="1" rx="0.5"/>
<rect x="225.35" y="598.0" width="1.5" height="3.6" fill="#1f2f6f" stroke="none" stroke-width="1" rx="0.5"/>
<rect x="245.15" y="598.0" width="1.5" height="3.6" fill="#1f2f6f" stroke="none" stroke-width="1" rx="0.5"/>
<rect x="302.35" y="598.0" width="1.5" height="3.6" fill="#1f2f6f" stroke="none" stroke-width="1" rx="0.5"/>
<rect x="306.95" y="598.0" width="1.5" height="3.6" fill="#1f2f6f" stroke="none" stroke-width="1" rx="0.5"/>
<rect x="328.95" y="598.0" width="1.5" height="3.6" fill="#1f2f6f" stroke="none" stroke-width="1" rx="0.5"/>
<rect x="353.45" y="598.0" width="1.5" height="3.6" fill="#1f2f6f" stroke="none" stroke-width="1" rx="0.5"/>
<rect x="385.05" y="598.0" width="1.5" height="3.6" fill="#1f2f6f" stroke="none" stroke-width="1" rx="0.5"/>
<rect x="386.85" y="598.0" width="1.5" height="3.6" fill="#1f2f6f" stroke="none" stroke-width="1" rx="0.5"/>
<rect x="312.2" y="598.1999999999999" width="3.0" height="3.2" fill="#1f2f6f" stroke="none" stroke-width="1"/>
<rect x="402.4" y="598.1999999999999" width="1.4" height="3.2" fill="#1f2f6f" stroke="none" stroke-width="1"/>
<path d="M403.4,599.8 L403.4,591.4 L394.8,591.4" fill="none" stroke="#111" stroke-width="0.8"/>
<path d="M391.6,591.4 L395.2,589.6 L395.2,593.2 Z" fill="#111" stroke="none" stroke-width="1"/>
<text x="273.0" y="593.3" font-size="7.0" fill="#333" stroke="#333" stroke-width="0.070" font-style="italic" textLength="17.4" lengthAdjust="spacingAndGlyphs">HSPA9</text>
<text x="75.0" y="619.0" font-size="6.7" fill="#222" stroke="#222" stroke-width="0.067" font-style="italic" textLength="28.1" lengthAdjust="spacingAndGlyphs">GATA2AS</text>
<text x="75.0" y="631.6999999999999" font-size="6.7" fill="#7c5aa6" stroke="#7c5aa6" stroke-width="0.067" textLength="22.3" lengthAdjust="spacingAndGlyphs">Ctrl LRF</text>
<text x="75.0" y="643.3" font-size="6.7" fill="#ab86cb" stroke="#ab86cb" stroke-width="0.067" textLength="21.6" lengthAdjust="spacingAndGlyphs">KO LRF</text>
<text x="75.0" y="651.4" font-size="6.7" fill="#1e2e5e" stroke="#1e2e5e" stroke-width="0.067" textLength="38.5" lengthAdjust="spacingAndGlyphs">Ctrl H3K27ac</text>
<text x="75.0" y="662.9" font-size="6.7" fill="#37ace0" stroke="#37ace0" stroke-width="0.067" textLength="36.9" lengthAdjust="spacingAndGlyphs">KO H3K27ac</text>
<text x="75.0" y="671.3" font-size="6.7" fill="#2e4a2e" stroke="#2e4a2e" stroke-width="0.067" textLength="38.5" lengthAdjust="spacingAndGlyphs">Ctrl RNA-seq</text>
<text x="75.0" y="682.8" font-size="6.7" fill="#8dc86e" stroke="#8dc86e" stroke-width="0.067" textLength="36.9" lengthAdjust="spacingAndGlyphs">KO RNA-seq</text>
<text x="129.3" y="612.9" font-size="6.6" fill="#333" stroke="#333" stroke-width="0.066" text-anchor="end">3</text>
<text x="129.5" y="624.5" font-size="6.6" fill="#333" stroke="#333" stroke-width="0.066" text-anchor="end">0</text>
<text x="129.3" y="631.8" font-size="6.6" fill="#333" stroke="#333" stroke-width="0.066" text-anchor="end">1</text>
<text x="129.5" y="642.9" font-size="6.6" fill="#333" stroke="#333" stroke-width="0.066" text-anchor="end">0</text>
<text x="129.3" y="651.6999999999999" font-size="6.6" fill="#333" stroke="#333" stroke-width="0.066" text-anchor="end">4</text>
<text x="129.5" y="662.6999999999999" font-size="6.6" fill="#333" stroke="#333" stroke-width="0.066" text-anchor="end">0</text>
<text x="129.3" y="670.8" font-size="6.6" fill="#333" stroke="#333" stroke-width="0.066" text-anchor="end" textLength="9.8" lengthAdjust="spacingAndGlyphs">141</text>
<text x="129.5" y="682.1999999999999" font-size="6.6" fill="#333" stroke="#333" stroke-width="0.066" text-anchor="end">0</text>
<line x1="132.3" y1="609.0" x2="132.3" y2="623.3" stroke="#777" stroke-width="0.7"/>
<line x1="131.10000000000002" y1="609.0" x2="132.3" y2="609.0" stroke="#777" stroke-width="0.6"/>
<line x1="132.3" y1="628.0" x2="132.3" y2="641.8" stroke="#777" stroke-width="0.7"/>
<line x1="131.10000000000002" y1="628.0" x2="132.3" y2="628.0" stroke="#777" stroke-width="0.6"/>
<line x1="132.3" y1="647.5" x2="132.3" y2="661.3" stroke="#777" stroke-width="0.7"/>
<line x1="131.10000000000002" y1="647.5" x2="132.3" y2="647.5" stroke="#777" stroke-width="0.6"/>
<line x1="132.3" y1="666.5" x2="132.3" y2="681.3" stroke="#777" stroke-width="0.7"/>
<line x1="131.10000000000002" y1="666.5" x2="132.3" y2="666.5" stroke="#777" stroke-width="0.6"/>
<path d="M132.6,623.0 L132.6,622.24 L133.1,622.24 L133.6,622.32 L134.1,622.15 L134.6,622.12 L135.1,622.25 L135.6,622.21 L136.1,622.25 L136.6,622.41 L137.1,622.32 L137.6,622.33 L138.1,622.34 L138.6,622.49 L139.1,622.39 L139.6,622.30 L140.1,622.30 L140.6,622.29 L141.1,622.35 L141.6,622.47 L142.1,622.31 L142.6,622.32 L143.1,622.02 L143.6,621.91 L144.1,620.98 L144.6,620.69 L145.1,620.06 L145.6,619.92 L146.1,619.89 L146.6,620.66 L147.1,621.20 L147.6,621.31 L148.1,621.73 L148.6,621.80 L149.1,621.87 L149.6,622.13 L150.1,622.26 L150.6,622.33 L151.1,622.26 L151.6,622.26 L152.1,622.44 L152.6,622.34 L153.1,622.47 L153.6,622.51 L154.1,622.37 L154.6,622.45 L155.1,622.39 L155.6,622.45 L156.1,622.51 L156.6,622.46 L157.1,622.35 L157.6,622.21 L158.1,622.06 L158.6,621.99 L159.1,622.01 L159.6,622.19 L160.1,622.21 L160.6,622.31 L161.1,622.34 L161.6,622.42 L162.1,622.39 L162.6,622.43 L163.1,622.51 L163.6,622.30 L164.1,622.25 L164.6,622.09 L165.1,622.09 L165.6,622.17 L166.1,622.17 L166.6,622.33 L167.1,622.28 L167.6,622.33 L168.1,622.08 L168.6,622.06 L169.1,622.05 L169.6,621.91 L170.1,622.19 L170.6,622.19 L171.1,622.02 L171.6,621.97 L172.1,622.04 L172.6,622.15 L173.1,622.00 L173.6,621.80 L174.1,621.92 L174.6,621.94 L175.1,621.99 L175.6,621.95 L176.1,622.01 L176.6,622.03 L177.1,622.01 L177.6,622.05 L178.1,622.13 L178.6,622.12 L179.1,621.88 L179.6,621.90 L180.1,621.96 L180.6,622.31 L181.1,622.26 L181.6,622.33 L182.1,622.52 L182.6,622.47 L183.1,622.38 L183.6,622.45 L184.1,622.27 L184.6,622.40 L185.1,622.30 L185.6,622.38 L186.1,622.36 L186.6,622.29 L187.1,622.16 L187.6,622.13 L188.1,622.34 L188.6,622.27 L189.1,622.36 L189.6,622.27 L190.1,622.33 L190.6,622.38 L191.1,622.42 L191.6,622.47 L192.1,622.36 L192.6,622.45 L193.1,622.52 L193.6,622.36 L194.1,622.40 L194.6,622.51 L195.1,622.36 L195.6,622.39 L196.1,622.43 L196.6,622.43 L197.1,622.35 L197.6,622.48 L198.1,622.43 L198.6,622.40 L199.1,622.40 L199.6,622.31 L200.1,622.11 L200.6,622.08 L201.1,622.13 L201.6,622.15 L202.1,622.28 L202.6,622.14 L203.1,622.36 L203.6,622.18 L204.1,622.24 L204.6,622.31 L205.1,622.23 L205.6,622.26 L206.1,622.40 L206.6,622.32 L207.1,622.41 L207.6,622.26 L208.1,622.37 L208.6,622.37 L209.1,622.39 L209.6,622.42 L210.1,622.37 L210.6,622.37 L211.1,622.24 L211.6,622.19 L212.1,622.36 L212.6,622.39 L213.1,622.29 L213.6,622.40 L214.1,622.35 L214.6,622.32 L215.1,622.49 L215.6,622.42 L216.1,622.47 L216.6,622.56 L217.1,622.52 L217.6,622.44 L218.1,622.53 L218.6,622.50 L219.1,622.38 L219.6,622.25 L220.1,622.25 L220.6,622.15 L221.1,622.33 L221.6,622.28 L222.1,622.34 L222.6,622.27 L223.1,622.45 L223.6,622.39 L224.1,622.55 L224.6,622.45 L225.1,622.34 L225.6,622.31 L226.1,622.30 L226.6,622.39 L227.1,622.24 L227.6,622.47 L228.1,622.30 L228.6,622.35 L229.1,622.34 L229.6,622.35 L230.1,622.37 L230.6,622.24 L231.1,622.05 L231.6,621.95 L232.1,621.99 L232.6,621.81 L233.1,622.11 L233.6,622.09 L234.1,622.24 L234.6,622.28 L235.1,622.25 L235.6,622.34 L236.1,622.49 L236.6,622.45 L237.1,622.47 L237.6,622.31 L238.1,622.31 L238.6,622.32 L239.1,622.24 L239.6,622.06 L240.1,622.18 L240.6,622.10 L241.1,622.14 L241.6,622.20 L242.1,622.21 L242.6,622.30 L243.1,622.38 L243.6,622.34 L244.1,622.42 L244.6,622.44 L245.1,622.48 L245.6,622.33 L246.1,622.43 L246.6,622.48 L247.1,622.49 L247.6,622.34 L248.1,622.05 L248.6,622.32 L249.1,622.39 L249.6,622.52 L250.1,622.38 L250.6,622.23 L251.1,621.92 L251.6,622.07 L252.1,622.29 L252.6,622.36 L253.1,622.26 L253.6,622.18 L254.1,622.21 L254.6,622.27 L255.1,622.33 L255.6,622.21 L256.1,622.25 L256.6,622.44 L257.1,622.35 L257.6,622.37 L258.1,622.42 L258.6,622.38 L259.1,622.37 L259.6,622.40 L260.1,622.04 L260.6,622.15 L261.1,622.22 L261.6,622.22 L262.1,622.50 L262.6,622.49 L263.1,622.45 L263.6,622.51 L264.1,622.51 L264.6,622.41 L265.1,622.45 L265.6,622.42 L266.1,622.41 L266.6,622.40 L267.1,622.39 L267.6,622.38 L268.1,622.31 L268.6,622.36 L269.1,622.28 L269.6,622.34 L270.1,622.28 L270.6,622.39 L271.1,622.47 L271.6,622.44 L272.1,622.51 L272.6,622.52 L273.1,622.40 L273.6,622.36 L274.1,622.38 L274.6,622.39 L275.1,622.29 L275.6,622.15 L276.1,622.30 L276.6,622.08 L277.1,622.24 L277.6,622.15 L278.1,622.26 L278.6,622.28 L279.1,622.28 L279.6,622.39 L280.1,622.40 L280.6,622.25 L281.1,622.31 L281.6,622.22 L282.1,622.21 L282.6,622.29 L283.1,622.33 L283.6,622.49 L284.1,622.42 L284.6,622.48 L285.1,622.40 L285.6,622.38 L286.1,622.51 L286.6,622.43 L287.1,622.21 L287.6,622.24 L288.1,622.03 L288.6,621.91 L289.1,622.13 L289.6,622.06 L290.1,622.34 L290.6,622.25 L291.1,622.27 L291.6,622.19 L292.1,622.23 L292.6,622.30 L293.1,622.12 L293.6,622.33 L294.1,622.19 L294.6,622.11 L295.1,621.91 L295.6,621.87 L296.1,622.00 L296.6,622.22 L297.1,622.08 L297.6,622.26 L298.1,621.94 L298.6,622.10 L299.1,622.09 L299.6,622.10 L300.1,622.06 L300.6,621.98 L301.1,622.02 L301.6,622.12 L302.1,622.18 L302.6,622.36 L303.1,622.38 L303.6,622.42 L304.1,622.40 L304.6,622.29 L305.1,622.22 L305.6,622.38 L306.1,622.08 L306.6,622.07 L307.1,622.23 L307.6,622.23 L308.1,622.29 L308.6,622.48 L309.1,622.43 L309.6,622.37 L310.1,622.36 L310.6,622.32 L311.1,622.45 L311.6,622.28 L312.1,622.34 L312.6,622.27 L313.1,622.47 L313.6,622.40 L314.1,622.49 L314.6,622.37 L315.1,622.40 L315.6,622.54 L316.1,622.48 L316.6,622.51 L317.1,622.40 L317.6,622.38 L318.1,622.46 L318.6,622.19 L319.1,622.10 L319.6,622.20 L320.1,622.15 L320.6,622.24 L321.1,622.22 L321.6,622.33 L322.1,622.37 L322.6,622.34 L323.1,622.45 L323.6,622.30 L324.1,621.96 L324.6,622.12 L325.1,622.31 L325.6,622.22 L326.1,622.43 L326.6,622.36 L327.1,622.37 L327.6,622.38 L328.1,622.34 L328.6,622.27 L329.1,622.34 L329.6,622.18 L330.1,622.28 L330.6,622.25 L331.1,622.22 L331.6,622.22 L332.1,622.22 L332.6,622.25 L333.1,622.11 L333.6,622.18 L334.1,622.25 L334.6,622.19 L335.1,622.23 L335.6,622.31 L336.1,622.18 L336.6,622.11 L337.1,622.19 L337.6,622.22 L338.1,622.34 L338.6,622.31 L339.1,622.45 L339.6,622.34 L340.1,622.23 L340.6,622.29 L341.1,622.15 L341.6,622.33 L342.1,622.10 L342.6,622.19 L343.1,621.99 L343.6,622.06 L344.1,621.99 L344.6,622.09 L345.1,622.10 L345.6,621.96 L346.1,622.10 L346.6,622.18 L347.1,622.37 L347.6,622.37 L348.1,622.24 L348.6,622.44 L349.1,622.39 L349.6,622.38 L350.1,622.43 L350.6,622.41 L351.1,622.27 L351.6,622.28 L352.1,622.42 L352.6,622.44 L353.1,622.48 L353.6,622.43 L354.1,622.39 L354.6,622.39 L355.1,622.16 L355.6,622.15 L356.1,622.28 L356.6,622.24 L357.1,622.24 L357.6,622.26 L358.1,622.04 L358.6,621.83 L359.1,621.78 L359.6,621.90 L360.1,621.85 L360.6,622.00 L361.1,621.99 L361.6,622.03 L362.1,622.41 L362.6,622.43 L363.1,622.45 L363.6,622.45 L364.1,622.41 L364.6,622.48 L365.1,622.33 L365.6,622.25 L366.1,622.41 L366.6,622.41 L367.1,622.36 L367.6,622.24 L368.1,622.37 L368.6,622.23 L369.1,622.38 L369.6,622.27 L370.1,622.23 L370.6,622.22 L371.1,622.35 L371.6,622.08 L372.1,622.07 L372.6,622.15 L373.1,622.02 L373.6,622.11 L374.1,622.26 L374.6,622.22 L375.1,622.13 L375.6,622.24 L376.1,622.36 L376.6,622.33 L377.1,622.33 L377.6,622.23 L378.1,622.24 L378.6,622.32 L379.1,622.36 L379.6,622.25 L380.1,622.41 L380.6,622.36 L381.1,622.48 L381.6,622.44 L382.1,622.52 L382.6,622.54 L383.1,622.48 L383.6,622.50 L384.1,622.41 L384.6,622.36 L385.1,622.38 L385.6,622.30 L386.1,622.30 L386.6,622.33 L387.1,622.09 L387.6,622.16 L388.1,622.08 L388.6,622.08 L389.1,622.28 L389.6,622.40 L390.1,622.42 L390.6,622.40 L391.1,622.43 L391.6,622.45 L392.1,622.34 L392.6,622.22 L393.1,622.12 L393.6,622.07 L394.1,621.98 L394.6,621.96 L395.1,622.02 L395.6,621.87 L396.1,622.12 L396.6,621.99 L397.1,622.12 L397.6,622.28 L398.1,622.22 L398.6,622.26 L399.1,622.10 L399.6,622.21 L400.1,622.13 L400.6,622.13 L401.1,622.22 L401.6,622.35 L402.1,622.37 L402.6,622.21 L403.1,622.19 L403.6,622.35 L404.1,622.31 L404.6,622.23 L405.1,622.29 L405.6,622.44 L406.1,622.42 L406.6,622.31 L407.1,622.48 L407.6,622.43 L408.1,622.35 L408.6,622.32 L409.1,622.32 L409.6,622.43 L410.1,622.37 L410.6,622.35 L411.1,622.49 L411.6,622.52 L412.1,622.52 L412.6,622.43 L413.1,622.55 L413.6,622.47 L414.1,622.37 L414.6,622.45 L415.1,622.26 L415.6,622.23 L416.1,622.16 L416.6,622.35 L417.1,622.40 L417.6,622.32 L418.1,622.31 L418.6,622.40 L419.1,622.19 L419.6,622.27 L420.1,622.10 L420.6,622.12 L421.1,622.28 L421.6,622.34 L422.1,622.41 L422.6,622.41 L423.1,622.43 L423.6,622.44 L424.1,622.32 L424.6,622.48 L425.1,622.38 L425.6,622.40 L426.1,622.36 L426.6,622.34 L427.1,622.21 L427.6,622.40 L428.1,622.51 L428.6,622.46 L429.1,622.52 L429.6,622.38 L430.1,622.35 L430.6,622.35 L431.1,622.28 L431.6,622.37 L432.1,622.24 L432.6,622.18 L433.1,622.10 L433.6,622.00 L434.1,621.90 L434.6,621.82 L434.6,623.0 Z" fill="#f7c4bc" stroke="none" stroke-width="0.4" opacity="1" stroke-linejoin="round"/>
<path d="M132.6,622.24 L132.6,622.24 L133.1,622.24 L133.6,622.32 L134.1,622.15 L134.6,622.12 L135.1,622.25 L135.6,622.21 L136.1,622.25 L136.6,622.41 L137.1,622.32 L137.6,622.33 L138.1,622.34 L138.6,622.49 L139.1,622.39 L139.6,622.30 L140.1,622.30 L140.6,622.29 L141.1,622.35 L141.6,622.47 L142.1,622.31 L142.6,622.32 L143.1,622.02 L143.6,621.91 L144.1,620.98 L144.6,620.69 L145.1,620.06 L145.6,619.92 L146.1,619.89 L146.6,620.66 L147.1,621.20 L147.6,621.31 L148.1,621.73 L148.6,621.80 L149.1,621.87 L149.6,622.13 L150.1,622.26 L150.6,622.33 L151.1,622.26 L151.6,622.26 L152.1,622.44 L152.6,622.34 L153.1,622.47 L153.6,622.51 L154.1,622.37 L154.6,622.45 L155.1,622.39 L155.6,622.45 L156.1,622.51 L156.6,622.46 L157.1,622.35 L157.6,622.21 L158.1,622.06 L158.6,621.99 L159.1,622.01 L159.6,622.19 L160.1,622.21 L160.6,622.31 L161.1,622.34 L161.6,622.42 L162.1,622.39 L162.6,622.43 L163.1,622.51 L163.6,622.30 L164.1,622.25 L164.6,622.09 L165.1,622.09 L165.6,622.17 L166.1,622.17 L166.6,622.33 L167.1,622.28 L167.6,622.33 L168.1,622.08 L168.6,622.06 L169.1,622.05 L169.6,621.91 L170.1,622.19 L170.6,622.19 L171.1,622.02 L171.6,621.97 L172.1,622.04 L172.6,622.15 L173.1,622.00 L173.6,621.80 L174.1,621.92 L174.6,621.94 L175.1,621.99 L175.6,621.95 L176.1,622.01 L176.6,622.03 L177.1,622.01 L177.6,622.05 L178.1,622.13 L178.6,622.12 L179.1,621.88 L179.6,621.90 L180.1,621.96 L180.6,622.31 L181.1,622.26 L181.6,622.33 L182.1,622.52 L182.6,622.47 L183.1,622.38 L183.6,622.45 L184.1,622.27 L184.6,622.40 L185.1,622.30 L185.6,622.38 L186.1,622.36 L186.6,622.29 L187.1,622.16 L187.6,622.13 L188.1,622.34 L188.6,622.27 L189.1,622.36 L189.6,622.27 L190.1,622.33 L190.6,622.38 L191.1,622.42 L191.6,622.47 L192.1,622.36 L192.6,622.45 L193.1,622.52 L193.6,622.36 L194.1,622.40 L194.6,622.51 L195.1,622.36 L195.6,622.39 L196.1,622.43 L196.6,622.43 L197.1,622.35 L197.6,622.48 L198.1,622.43 L198.6,622.40 L199.1,622.40 L199.6,622.31 L200.1,622.11 L200.6,622.08 L201.1,622.13 L201.6,622.15 L202.1,622.28 L202.6,622.14 L203.1,622.36 L203.6,622.18 L204.1,622.24 L204.6,622.31 L205.1,622.23 L205.6,622.26 L206.1,622.40 L206.6,622.32 L207.1,622.41 L207.6,622.26 L208.1,622.37 L208.6,622.37 L209.1,622.39 L209.6,622.42 L210.1,622.37 L210.6,622.37 L211.1,622.24 L211.6,622.19 L212.1,622.36 L212.6,622.39 L213.1,622.29 L213.6,622.40 L214.1,622.35 L214.6,622.32 L215.1,622.49 L215.6,622.42 L216.1,622.47 L216.6,622.56 L217.1,622.52 L217.6,622.44 L218.1,622.53 L218.6,622.50 L219.1,622.38 L219.6,622.25 L220.1,622.25 L220.6,622.15 L221.1,622.33 L221.6,622.28 L222.1,622.34 L222.6,622.27 L223.1,622.45 L223.6,622.39 L224.1,622.55 L224.6,622.45 L225.1,622.34 L225.6,622.31 L226.1,622.30 L226.6,622.39 L227.1,622.24 L227.6,622.47 L228.1,622.30 L228.6,622.35 L229.1,622.34 L229.6,622.35 L230.1,622.37 L230.6,622.24 L231.1,622.05 L231.6,621.95 L232.1,621.99 L232.6,621.81 L233.1,622.11 L233.6,622.09 L234.1,622.24 L234.6,622.28 L235.1,622.25 L235.6,622.34 L236.1,622.49 L236.6,622.45 L237.1,622.47 L237.6,622.31 L238.1,622.31 L238.6,622.32 L239.1,622.24 L239.6,622.06 L240.1,622.18 L240.6,622.10 L241.1,622.14 L241.6,622.20 L242.1,622.21 L242.6,622.30 L243.1,622.38 L243.6,622.34 L244.1,622.42 L244.6,622.44 L245.1,622.48 L245.6,622.33 L246.1,622.43 L246.6,622.48 L247.1,622.49 L247.6,622.34 L248.1,622.05 L248.6,622.32 L249.1,622.39 L249.6,622.52 L250.1,622.38 L250.6,622.23 L251.1,621.92 L251.6,622.07 L252.1,622.29 L252.6,622.36 L253.1,622.26 L253.6,622.18 L254.1,622.21 L254.6,622.27 L255.1,622.33 L255.6,622.21 L256.1,622.25 L256.6,622.44 L257.1,622.35 L257.6,622.37 L258.1,622.42 L258.6,622.38 L259.1,622.37 L259.6,622.40 L260.1,622.04 L260.6,622.15 L261.1,622.22 L261.6,622.22 L262.1,622.50 L262.6,622.49 L263.1,622.45 L263.6,622.51 L264.1,622.51 L264.6,622.41 L265.1,622.45 L265.6,622.42 L266.1,622.41 L266.6,622.40 L267.1,622.39 L267.6,622.38 L268.1,622.31 L268.6,622.36 L269.1,622.28 L269.6,622.34 L270.1,622.28 L270.6,622.39 L271.1,622.47 L271.6,622.44 L272.1,622.51 L272.6,622.52 L273.1,622.40 L273.6,622.36 L274.1,622.38 L274.6,622.39 L275.1,622.29 L275.6,622.15 L276.1,622.30 L276.6,622.08 L277.1,622.24 L277.6,622.15 L278.1,622.26 L278.6,622.28 L279.1,622.28 L279.6,622.39 L280.1,622.40 L280.6,622.25 L281.1,622.31 L281.6,622.22 L282.1,622.21 L282.6,622.29 L283.1,622.33 L283.6,622.49 L284.1,622.42 L284.6,622.48 L285.1,622.40 L285.6,622.38 L286.1,622.51 L286.6,622.43 L287.1,622.21 L287.6,622.24 L288.1,622.03 L288.6,621.91 L289.1,622.13 L289.6,622.06 L290.1,622.34 L290.6,622.25 L291.1,622.27 L291.6,622.19 L292.1,622.23 L292.6,622.30 L293.1,622.12 L293.6,622.33 L294.1,622.19 L294.6,622.11 L295.1,621.91 L295.6,621.87 L296.1,622.00 L296.6,622.22 L297.1,622.08 L297.6,622.26 L298.1,621.94 L298.6,622.10 L299.1,622.09 L299.6,622.10 L300.1,622.06 L300.6,621.98 L301.1,622.02 L301.6,622.12 L302.1,622.18 L302.6,622.36 L303.1,622.38 L303.6,622.42 L304.1,622.40 L304.6,622.29 L305.1,622.22 L305.6,622.38 L306.1,622.08 L306.6,622.07 L307.1,622.23 L307.6,622.23 L308.1,622.29 L308.6,622.48 L309.1,622.43 L309.6,622.37 L310.1,622.36 L310.6,622.32 L311.1,622.45 L311.6,622.28 L312.1,622.34 L312.6,622.27 L313.1,622.47 L313.6,622.40 L314.1,622.49 L314.6,622.37 L315.1,622.40 L315.6,622.54 L316.1,622.48 L316.6,622.51 L317.1,622.40 L317.6,622.38 L318.1,622.46 L318.6,622.19 L319.1,622.10 L319.6,622.20 L320.1,622.15 L320.6,622.24 L321.1,622.22 L321.6,622.33 L322.1,622.37 L322.6,622.34 L323.1,622.45 L323.6,622.30 L324.1,621.96 L324.6,622.12 L325.1,622.31 L325.6,622.22 L326.1,622.43 L326.6,622.36 L327.1,622.37 L327.6,622.38 L328.1,622.34 L328.6,622.27 L329.1,622.34 L329.6,622.18 L330.1,622.28 L330.6,622.25 L331.1,622.22 L331.6,622.22 L332.1,622.22 L332.6,622.25 L333.1,622.11 L333.6,622.18 L334.1,622.25 L334.6,622.19 L335.1,622.23 L335.6,622.31 L336.1,622.18 L336.6,622.11 L337.1,622.19 L337.6,622.22 L338.1,622.34 L338.6,622.31 L339.1,622.45 L339.6,622.34 L340.1,622.23 L340.6,622.29 L341.1,622.15 L341.6,622.33 L342.1,622.10 L342.6,622.19 L343.1,621.99 L343.6,622.06 L344.1,621.99 L344.6,622.09 L345.1,622.10 L345.6,621.96 L346.1,622.10 L346.6,622.18 L347.1,622.37 L347.6,622.37 L348.1,622.24 L348.6,622.44 L349.1,622.39 L349.6,622.38 L350.1,622.43 L350.6,622.41 L351.1,622.27 L351.6,622.28 L352.1,622.42 L352.6,622.44 L353.1,622.48 L353.6,622.43 L354.1,622.39 L354.6,622.39 L355.1,622.16 L355.6,622.15 L356.1,622.28 L356.6,622.24 L357.1,622.24 L357.6,622.26 L358.1,622.04 L358.6,621.83 L359.1,621.78 L359.6,621.90 L360.1,621.85 L360.6,622.00 L361.1,621.99 L361.6,622.03 L362.1,622.41 L362.6,622.43 L363.1,622.45 L363.6,622.45 L364.1,622.41 L364.6,622.48 L365.1,622.33 L365.6,622.25 L366.1,622.41 L366.6,622.41 L367.1,622.36 L367.6,622.24 L368.1,622.37 L368.6,622.23 L369.1,622.38 L369.6,622.27 L370.1,622.23 L370.6,622.22 L371.1,622.35 L371.6,622.08 L372.1,622.07 L372.6,622.15 L373.1,622.02 L373.6,622.11 L374.1,622.26 L374.6,622.22 L375.1,622.13 L375.6,622.24 L376.1,622.36 L376.6,622.33 L377.1,622.33 L377.6,622.23 L378.1,622.24 L378.6,622.32 L379.1,622.36 L379.6,622.25 L380.1,622.41 L380.6,622.36 L381.1,622.48 L381.6,622.44 L382.1,622.52 L382.6,622.54 L383.1,622.48 L383.6,622.50 L384.1,622.41 L384.6,622.36 L385.1,622.38 L385.6,622.30 L386.1,622.30 L386.6,622.33 L387.1,622.09 L387.6,622.16 L388.1,622.08 L388.6,622.08 L389.1,622.28 L389.6,622.40 L390.1,622.42 L390.6,622.40 L391.1,622.43 L391.6,622.45 L392.1,622.34 L392.6,622.22 L393.1,622.12 L393.6,622.07 L394.1,621.98 L394.6,621.96 L395.1,622.02 L395.6,621.87 L396.1,622.12 L396.6,621.99 L397.1,622.12 L397.6,622.28 L398.1,622.22 L398.6,622.26 L399.1,622.10 L399.6,622.21 L400.1,622.13 L400.6,622.13 L401.1,622.22 L401.6,622.35 L402.1,622.37 L402.6,622.21 L403.1,622.19 L403.6,622.35 L404.1,622.31 L404.6,622.23 L405.1,622.29 L405.6,622.44 L406.1,622.42 L406.6,622.31 L407.1,622.48 L407.6,622.43 L408.1,622.35 L408.6,622.32 L409.1,622.32 L409.6,622.43 L410.1,622.37 L410.6,622.35 L411.1,622.49 L411.6,622.52 L412.1,622.52 L412.6,622.43 L413.1,622.55 L413.6,622.47 L414.1,622.37 L414.6,622.45 L415.1,622.26 L415.6,622.23 L416.1,622.16 L416.6,622.35 L417.1,622.40 L417.6,622.32 L418.1,622.31 L418.6,622.40 L419.1,622.19 L419.6,622.27 L420.1,622.10 L420.6,622.12 L421.1,622.28 L421.6,622.34 L422.1,622.41 L422.6,622.41 L423.1,622.43 L423.6,622.44 L424.1,622.32 L424.6,622.48 L425.1,622.38 L425.6,622.40 L426.1,622.36 L426.6,622.34 L427.1,622.21 L427.6,622.40 L428.1,622.51 L428.6,622.46 L429.1,622.52 L429.6,622.38 L430.1,622.35 L430.6,622.35 L431.1,622.28 L431.6,622.37 L432.1,622.24 L432.6,622.18 L433.1,622.10 L433.6,622.00 L434.1,621.90 L434.6,621.82" fill="none" stroke="#ee8e86" stroke-width="0.6" opacity="1" stroke-linejoin="round"/>
<path d="M132.6,623.0 L132.6,623.00 L133.1,623.00 L133.6,623.00 L134.1,623.00 L134.6,623.00 L135.1,623.00 L135.6,623.00 L136.1,623.00 L136.6,623.00 L137.1,623.00 L137.6,623.00 L138.1,623.00 L138.6,623.00 L139.1,623.00 L139.6,623.00 L140.1,623.00 L140.6,623.00 L141.1,623.00 L141.6,623.00 L142.1,623.00 L142.6,623.00 L143.1,623.00 L143.6,623.00 L144.1,622.35 L144.6,621.96 L145.1,621.53 L145.6,621.18 L146.1,621.01 L146.6,621.08 L147.1,621.37 L147.6,621.79 L148.1,622.20 L148.6,623.00 L149.1,623.00 L149.6,623.00 L150.1,623.00 L150.6,623.00 L151.1,623.00 L151.6,623.00 L152.1,623.00 L152.6,623.00 L153.1,623.00 L153.6,623.00 L154.1,623.00 L154.6,623.00 L155.1,623.00 L155.6,623.00 L156.1,623.00 L156.6,623.00 L157.1,623.00 L157.6,623.00 L158.1,623.00 L158.6,623.00 L159.1,623.00 L159.6,623.00 L160.1,623.00 L160.6,623.00 L161.1,623.00 L161.6,623.00 L162.1,623.00 L162.6,623.00 L163.1,623.00 L163.6,623.00 L164.1,623.00 L164.6,623.00 L165.1,623.00 L165.6,623.00 L166.1,623.00 L166.6,623.00 L167.1,623.00 L167.6,623.00 L168.1,623.00 L168.6,623.00 L169.1,623.00 L169.6,623.00 L170.1,623.00 L170.6,623.00 L171.1,623.00 L171.6,623.00 L172.1,623.00 L172.6,623.00 L173.1,623.00 L173.6,623.00 L174.1,623.00 L174.6,623.00 L175.1,623.00 L175.6,623.00 L176.1,623.00 L176.6,623.00 L177.1,623.00 L177.6,623.00 L178.1,623.00 L178.6,623.00 L179.1,623.00 L179.6,623.00 L180.1,623.00 L180.6,623.00 L181.1,623.00 L181.6,623.00 L182.1,623.00 L182.6,623.00 L183.1,623.00 L183.6,623.00 L184.1,623.00 L184.6,623.00 L185.1,623.00 L185.6,623.00 L186.1,623.00 L186.6,623.00 L187.1,623.00 L187.6,623.00 L188.1,623.00 L188.6,623.00 L189.1,623.00 L189.6,623.00 L190.1,623.00 L190.6,623.00 L191.1,623.00 L191.6,623.00 L192.1,623.00 L192.6,623.00 L193.1,623.00 L193.6,623.00 L194.1,623.00 L194.6,623.00 L195.1,623.00 L195.6,623.00 L196.1,623.00 L196.6,623.00 L197.1,623.00 L197.6,623.00 L198.1,623.00 L198.6,623.00 L199.1,623.00 L199.6,623.00 L200.1,623.00 L200.6,622.47 L201.1,622.27 L201.6,622.10 L202.1,622.01 L202.6,622.02 L203.1,622.13 L203.6,622.31 L204.1,623.00 L204.6,623.00 L205.1,623.00 L205.6,623.00 L206.1,623.00 L206.6,623.00 L207.1,623.00 L207.6,623.00 L208.1,623.00 L208.6,623.00 L209.1,623.00 L209.6,623.00 L210.1,623.00 L210.6,623.00 L211.1,623.00 L211.6,623.00 L212.1,623.00 L212.6,623.00 L213.1,623.00 L213.6,623.00 L214.1,623.00 L214.6,623.00 L215.1,623.00 L215.6,623.00 L216.1,623.00 L216.6,623.00 L217.1,623.00 L217.6,623.00 L218.1,623.00 L218.6,623.00 L219.1,623.00 L219.6,623.00 L220.1,623.00 L220.6,623.00 L221.1,623.00 L221.6,623.00 L222.1,623.00 L222.6,623.00 L223.1,623.00 L223.6,623.00 L224.1,623.00 L224.6,623.00 L225.1,623.00 L225.6,623.00 L226.1,623.00 L226.6,623.00 L227.1,623.00 L227.6,623.00 L228.1,623.00 L228.6,623.00 L229.1,623.00 L229.6,623.00 L230.1,623.00 L230.6,623.00 L231.1,623.00 L231.6,623.00 L232.1,623.00 L232.6,623.00 L233.1,623.00 L233.6,623.00 L234.1,623.00 L234.6,623.00 L235.1,623.00 L235.6,623.00 L236.1,623.00 L236.6,623.00 L237.1,623.00 L237.6,622.47 L238.1,622.27 L238.6,622.10 L239.1,622.01 L239.6,622.02 L240.1,622.13 L240.6,622.31 L241.1,623.00 L241.6,623.00 L242.1,623.00 L242.6,622.21 L243.1,621.20 L243.6,619.34 L244.1,616.68 L244.6,613.66 L245.1,610.88 L245.6,608.90 L246.1,608.11 L246.6,608.57 L247.1,609.88 L247.6,611.44 L248.1,612.94 L248.6,614.54 L249.1,616.47 L249.6,618.59 L250.1,620.48 L250.6,621.81 L251.1,623.00 L251.6,623.00 L252.1,623.00 L252.6,623.00 L253.1,623.00 L253.6,623.00 L254.1,623.00 L254.6,623.00 L255.1,623.00 L255.6,623.00 L256.1,623.00 L256.6,623.00 L257.1,623.00 L257.6,623.00 L258.1,623.00 L258.6,623.00 L259.1,623.00 L259.6,623.00 L260.1,623.00 L260.6,623.00 L261.1,623.00 L261.6,623.00 L262.1,623.00 L262.6,623.00 L263.1,623.00 L263.6,623.00 L264.1,623.00 L264.6,623.00 L265.1,623.00 L265.6,623.00 L266.1,623.00 L266.6,623.00 L267.1,623.00 L267.6,623.00 L268.1,623.00 L268.6,623.00 L269.1,623.00 L269.6,623.00 L270.1,623.00 L270.6,623.00 L271.1,623.00 L271.6,623.00 L272.1,623.00 L272.6,623.00 L273.1,623.00 L273.6,623.00 L274.1,623.00 L274.6,623.00 L275.1,623.00 L275.6,623.00 L276.1,623.00 L276.6,623.00 L277.1,623.00 L277.6,623.00 L278.1,623.00 L278.6,623.00 L279.1,623.00 L279.6,623.00 L280.1,623.00 L280.6,623.00 L281.1,623.00 L281.6,623.00 L282.1,623.00 L282.6,623.00 L283.1,623.00 L283.6,623.00 L284.1,623.00 L284.6,623.00 L285.1,623.00 L285.6,623.00 L286.1,623.00 L286.6,623.00 L287.1,623.00 L287.6,623.00 L288.1,623.00 L288.6,623.00 L289.1,623.00 L289.6,623.00 L290.1,623.00 L290.6,623.00 L291.1,623.00 L291.6,623.00 L292.1,623.00 L292.6,623.00 L293.1,623.00 L293.6,623.00 L294.1,623.00 L294.6,623.00 L295.1,623.00 L295.6,623.00 L296.1,623.00 L296.6,623.00 L297.1,623.00 L297.6,623.00 L298.1,623.00 L298.6,623.00 L299.1,623.00 L299.6,623.00 L300.1,623.00 L300.6,623.00 L301.1,623.00 L301.6,623.00 L302.1,623.00 L302.6,623.00 L303.1,623.00 L303.6,623.00 L304.1,623.00 L304.6,623.00 L305.1,623.00 L305.6,623.00 L306.1,623.00 L306.6,623.00 L307.1,623.00 L307.6,623.00 L308.1,623.00 L308.6,623.00 L309.1,623.00 L309.6,623.00 L310.1,623.00 L310.6,623.00 L311.1,623.00 L311.6,623.00 L312.1,623.00 L312.6,623.00 L313.1,623.00 L313.6,623.00 L314.1,623.00 L314.6,623.00 L315.1,623.00 L315.6,623.00 L316.1,623.00 L316.6,623.00 L317.1,623.00 L317.6,623.00 L318.1,623.00 L318.6,623.00 L319.1,623.00 L319.6,623.00 L320.1,623.00 L320.6,623.00 L321.1,623.00 L321.6,623.00 L322.1,623.00 L322.6,623.00 L323.1,623.00 L323.6,623.00 L324.1,623.00 L324.6,623.00 L325.1,623.00 L325.6,623.00 L326.1,623.00 L326.6,623.00 L327.1,623.00 L327.6,623.00 L328.1,623.00 L328.6,623.00 L329.1,623.00 L329.6,623.00 L330.1,623.00 L330.6,623.00 L331.1,623.00 L331.6,623.00 L332.1,623.00 L332.6,623.00 L333.1,623.00 L333.6,623.00 L334.1,623.00 L334.6,623.00 L335.1,623.00 L335.6,623.00 L336.1,623.00 L336.6,623.00 L337.1,623.00 L337.6,623.00 L338.1,623.00 L338.6,623.00 L339.1,623.00 L339.6,623.00 L340.1,623.00 L340.6,623.00 L341.1,623.00 L341.6,623.00 L342.1,623.00 L342.6,623.00 L343.1,623.00 L343.6,623.00 L344.1,623.00 L344.6,623.00 L345.1,623.00 L345.6,623.00 L346.1,623.00 L346.6,623.00 L347.1,623.00 L347.6,623.00 L348.1,623.00 L348.6,623.00 L349.1,623.00 L349.6,623.00 L350.1,623.00 L350.6,623.00 L351.1,623.00 L351.6,623.00 L352.1,623.00 L352.6,623.00 L353.1,623.00 L353.6,623.00 L354.1,623.00 L354.6,623.00 L355.1,623.00 L355.6,623.00 L356.1,623.00 L356.6,623.00 L357.1,623.00 L357.6,623.00 L358.1,623.00 L358.6,623.00 L359.1,623.00 L359.6,623.00 L360.1,623.00 L360.6,623.00 L361.1,623.00 L361.6,623.00 L362.1,623.00 L362.6,623.00 L363.1,623.00 L363.6,623.00 L364.1,623.00 L364.6,623.00 L365.1,623.00 L365.6,623.00 L366.1,623.00 L366.6,623.00 L367.1,623.00 L367.6,623.00 L368.1,623.00 L368.6,623.00 L369.1,623.00 L369.6,623.00 L370.1,623.00 L370.6,623.00 L371.1,623.00 L371.6,623.00 L372.1,623.00 L372.6,623.00 L373.1,623.00 L373.6,623.00 L374.1,623.00 L374.6,623.00 L375.1,623.00 L375.6,623.00 L376.1,623.00 L376.6,623.00 L377.1,623.00 L377.6,623.00 L378.1,623.00 L378.6,623.00 L379.1,623.00 L379.6,623.00 L380.1,623.00 L380.6,623.00 L381.1,623.00 L381.6,623.00 L382.1,623.00 L382.6,623.00 L383.1,623.00 L383.6,623.00 L384.1,623.00 L384.6,623.00 L385.1,623.00 L385.6,623.00 L386.1,623.00 L386.6,623.00 L387.1,623.00 L387.6,623.00 L388.1,623.00 L388.6,623.00 L389.1,623.00 L389.6,623.00 L390.1,623.00 L390.6,623.00 L391.1,623.00 L391.6,623.00 L392.1,623.00 L392.6,623.00 L393.1,623.00 L393.6,623.00 L394.1,623.00 L394.6,623.00 L395.1,623.00 L395.6,623.00 L396.1,623.00 L396.6,623.00 L397.1,623.00 L397.6,623.00 L398.1,623.00 L398.6,623.00 L399.1,623.00 L399.6,623.00 L400.1,623.00 L400.6,623.00 L401.1,623.00 L401.6,623.00 L402.1,623.00 L402.6,622.04 L403.1,620.82 L403.6,618.97 L404.1,616.75 L404.6,614.63 L405.1,613.06 L405.6,612.34 L406.1,612.56 L406.6,613.58 L407.1,615.17 L407.6,617.08 L408.1,619.06 L408.6,620.77 L409.1,621.96 L409.6,623.00 L410.1,623.00 L410.6,623.00 L411.1,623.00 L411.6,623.00 L412.1,623.00 L412.6,623.00 L413.1,623.00 L413.6,623.00 L414.1,623.00 L414.6,623.00 L415.1,623.00 L415.6,623.00 L416.1,623.00 L416.6,623.00 L417.1,623.00 L417.6,623.00 L418.1,623.00 L418.6,623.00 L419.1,623.00 L419.6,623.00 L420.1,623.00 L420.6,623.00 L421.1,623.00 L421.6,623.00 L422.1,623.00 L422.6,623.00 L423.1,623.00 L423.6,623.00 L424.1,623.00 L424.6,623.00 L425.1,623.00 L425.6,623.00 L426.1,623.00 L426.6,623.00 L427.1,623.00 L427.6,623.00 L428.1,623.00 L428.6,623.00 L429.1,623.00 L429.6,623.00 L430.1,623.00 L430.6,623.00 L431.1,623.00 L431.6,623.00 L432.1,623.00 L432.6,623.00 L433.1,623.00 L433.6,623.00 L434.1,623.00 L434.6,623.00 L434.6,623.0 Z" fill="#e2372a" stroke="#c42a20" stroke-width="0.3" opacity="1" stroke-linejoin="round"/>
<path d="M132.6,641.5 L132.6,639.67 L133.1,639.69 L133.6,639.73 L134.1,639.68 L134.6,639.84 L135.1,639.86 L135.6,639.66 L136.1,639.66 L136.6,639.42 L137.1,639.32 L137.6,638.87 L138.1,638.25 L138.6,637.84 L139.1,638.14 L139.6,637.98 L140.1,637.87 L140.6,637.06 L141.1,636.31 L141.6,636.37 L142.1,636.88 L142.6,636.91 L143.1,637.43 L143.6,638.18 L144.1,638.13 L144.6,638.62 L145.1,639.01 L145.6,639.34 L146.1,639.60 L146.6,639.64 L147.1,639.75 L147.6,639.82 L148.1,639.70 L148.6,639.69 L149.1,639.58 L149.6,639.49 L150.1,639.51 L150.6,639.21 L151.1,639.03 L151.6,638.65 L152.1,638.24 L152.6,637.68 L153.1,637.95 L153.6,637.40 L154.1,637.20 L154.6,636.59 L155.1,636.30 L155.6,636.61 L156.1,636.95 L156.6,636.67 L157.1,636.86 L157.6,637.00 L158.1,637.14 L158.6,637.51 L159.1,637.55 L159.6,637.45 L160.1,637.90 L160.6,637.75 L161.1,637.48 L161.6,637.40 L162.1,637.64 L162.6,638.32 L163.1,638.32 L163.6,638.99 L164.1,639.22 L164.6,639.56 L165.1,639.56 L165.6,639.71 L166.1,639.59 L166.6,639.36 L167.1,639.44 L167.6,639.08 L168.1,639.08 L168.6,639.32 L169.1,639.57 L169.6,639.34 L170.1,639.32 L170.6,639.11 L171.1,639.14 L171.6,638.82 L172.1,639.22 L172.6,639.43 L173.1,639.54 L173.6,639.56 L174.1,639.28 L174.6,639.35 L175.1,639.20 L175.6,639.04 L176.1,638.84 L176.6,639.01 L177.1,638.82 L177.6,638.44 L178.1,638.48 L178.6,638.45 L179.1,638.01 L179.6,638.21 L180.1,637.89 L180.6,637.73 L181.1,637.01 L181.6,636.82 L182.1,636.69 L182.6,636.37 L183.1,636.42 L183.6,636.05 L184.1,636.16 L184.6,636.74 L185.1,636.72 L185.6,637.66 L186.1,637.60 L186.6,637.95 L187.1,637.86 L187.6,637.50 L188.1,637.95 L188.6,638.26 L189.1,638.47 L189.6,638.49 L190.1,638.42 L190.6,638.81 L191.1,639.03 L191.6,638.90 L192.1,638.99 L192.6,638.98 L193.1,639.35 L193.6,639.27 L194.1,639.11 L194.6,638.80 L195.1,638.88 L195.6,638.62 L196.1,638.81 L196.6,638.60 L197.1,638.39 L197.6,638.52 L198.1,638.28 L198.6,638.06 L199.1,638.03 L199.6,638.12 L200.1,638.14 L200.6,638.22 L201.1,638.60 L201.6,638.95 L202.1,639.12 L202.6,639.30 L203.1,639.02 L203.6,639.12 L204.1,639.01 L204.6,638.75 L205.1,638.66 L205.6,638.67 L206.1,638.48 L206.6,638.62 L207.1,638.42 L207.6,638.25 L208.1,637.93 L208.6,638.05 L209.1,638.24 L209.6,638.54 L210.1,638.73 L210.6,638.80 L211.1,638.99 L211.6,638.86 L212.1,638.65 L212.6,638.72 L213.1,638.98 L213.6,638.88 L214.1,638.78 L214.6,639.01 L215.1,638.93 L215.6,638.82 L216.1,638.97 L216.6,638.64 L217.1,638.99 L217.6,638.54 L218.1,638.57 L218.6,638.63 L219.1,638.63 L219.6,638.32 L220.1,638.40 L220.6,638.68 L221.1,638.67 L221.6,638.77 L222.1,638.60 L222.6,638.94 L223.1,639.20 L223.6,639.15 L224.1,639.36 L224.6,639.41 L225.1,639.09 L225.6,638.83 L226.1,638.56 L226.6,638.40 L227.1,638.15 L227.6,638.03 L228.1,638.51 L228.6,638.51 L229.1,638.67 L229.6,638.65 L230.1,638.86 L230.6,638.59 L231.1,638.66 L231.6,638.17 L232.1,638.33 L232.6,638.22 L233.1,638.25 L233.6,638.25 L234.1,638.48 L234.6,638.74 L235.1,638.73 L235.6,638.76 L236.1,639.03 L236.6,638.67 L237.1,638.77 L237.6,638.32 L238.1,638.53 L238.6,638.33 L239.1,638.54 L239.6,638.75 L240.1,638.61 L240.6,638.93 L241.1,638.89 L241.6,638.67 L242.1,638.81 L242.6,638.75 L243.1,638.52 L243.6,638.39 L244.1,638.02 L244.6,637.90 L245.1,638.24 L245.6,639.08 L246.1,639.14 L246.6,639.30 L247.1,639.50 L247.6,639.53 L248.1,639.48 L248.6,639.51 L249.1,639.34 L249.6,639.21 L250.1,639.41 L250.6,639.52 L251.1,639.59 L251.6,639.39 L252.1,639.57 L252.6,639.71 L253.1,639.51 L253.6,639.48 L254.1,638.78 L254.6,638.66 L255.1,639.06 L255.6,639.36 L256.1,639.29 L256.6,638.56 L257.1,638.37 L257.6,637.88 L258.1,637.74 L258.6,638.06 L259.1,638.10 L259.6,638.07 L260.1,638.18 L260.6,638.38 L261.1,638.56 L261.6,638.64 L262.1,638.93 L262.6,638.87 L263.1,639.07 L263.6,639.15 L264.1,639.34 L264.6,639.25 L265.1,639.29 L265.6,639.13 L266.1,639.18 L266.6,639.08 L267.1,639.07 L267.6,639.21 L268.1,639.27 L268.6,639.00 L269.1,639.09 L269.6,639.20 L270.1,639.10 L270.6,639.38 L271.1,639.17 L271.6,639.28 L272.1,639.49 L272.6,639.52 L273.1,639.58 L273.6,639.54 L274.1,639.36 L274.6,639.49 L275.1,639.66 L275.6,639.52 L276.1,639.37 L276.6,639.41 L277.1,639.53 L277.6,639.41 L278.1,639.38 L278.6,639.34 L279.1,639.09 L279.6,639.24 L280.1,638.98 L280.6,638.72 L281.1,638.74 L281.6,638.76 L282.1,638.70 L282.6,638.70 L283.1,639.05 L283.6,638.86 L284.1,638.94 L284.6,639.09 L285.1,639.25 L285.6,639.19 L286.1,639.32 L286.6,639.18 L287.1,639.39 L287.6,639.10 L288.1,638.93 L288.6,638.83 L289.1,638.82 L289.6,638.39 L290.1,638.58 L290.6,638.16 L291.1,638.00 L291.6,638.02 L292.1,638.11 L292.6,637.82 L293.1,637.91 L293.6,637.93 L294.1,638.04 L294.6,638.16 L295.1,638.26 L295.6,638.80 L296.1,638.63 L296.6,639.05 L297.1,638.92 L297.6,639.18 L298.1,638.82 L298.6,638.41 L299.1,638.74 L299.6,639.48 L300.1,639.53 L300.6,639.34 L301.1,639.44 L301.6,639.17 L302.1,639.11 L302.6,639.05 L303.1,639.04 L303.6,639.31 L304.1,639.45 L304.6,639.27 L305.1,639.29 L305.6,639.04 L306.1,638.77 L306.6,638.63 L307.1,638.71 L307.6,639.07 L308.1,639.40 L308.6,639.04 L309.1,639.21 L309.6,639.23 L310.1,639.08 L310.6,639.01 L311.1,639.28 L311.6,639.29 L312.1,639.51 L312.6,639.41 L313.1,639.30 L313.6,639.32 L314.1,639.50 L314.6,639.26 L315.1,639.09 L315.6,639.21 L316.1,638.87 L316.6,639.01 L317.1,638.66 L317.6,638.65 L318.1,638.63 L318.6,638.89 L319.1,638.79 L319.6,638.78 L320.1,638.78 L320.6,638.92 L321.1,638.48 L321.6,638.25 L322.1,638.22 L322.6,638.09 L323.1,638.17 L323.6,638.50 L324.1,638.80 L324.6,638.85 L325.1,639.04 L325.6,639.02 L326.1,638.67 L326.6,638.87 L327.1,638.85 L327.6,638.66 L328.1,638.69 L328.6,638.99 L329.1,638.74 L329.6,638.53 L330.1,638.44 L330.6,637.85 L331.1,637.59 L331.6,637.11 L332.1,637.33 L332.6,637.06 L333.1,636.79 L333.6,636.43 L334.1,636.46 L334.6,636.04 L335.1,635.99 L335.6,636.06 L336.1,635.09 L336.6,635.13 L337.1,634.46 L337.6,634.57 L338.1,633.90 L338.6,634.00 L339.1,634.08 L339.6,633.69 L340.1,634.69 L340.6,634.54 L341.1,635.61 L341.6,636.05 L342.1,637.44 L342.6,637.83 L343.1,638.54 L343.6,638.78 L344.1,639.08 L344.6,639.22 L345.1,639.23 L345.6,639.02 L346.1,638.39 L346.6,638.88 L347.1,639.03 L347.6,639.46 L348.1,639.56 L348.6,639.63 L349.1,639.76 L349.6,639.71 L350.1,639.67 L350.6,639.50 L351.1,639.38 L351.6,639.14 L352.1,639.21 L352.6,639.24 L353.1,639.35 L353.6,639.28 L354.1,639.29 L354.6,639.31 L355.1,639.57 L355.6,639.50 L356.1,639.27 L356.6,638.98 L357.1,638.57 L357.6,638.69 L358.1,638.46 L358.6,638.93 L359.1,639.27 L359.6,639.47 L360.1,639.60 L360.6,639.45 L361.1,639.14 L361.6,639.29 L362.1,638.91 L362.6,638.61 L363.1,638.64 L363.6,638.99 L364.1,638.91 L364.6,639.01 L365.1,639.30 L365.6,639.28 L366.1,639.38 L366.6,639.13 L367.1,639.45 L367.6,639.36 L368.1,639.35 L368.6,639.38 L369.1,639.30 L369.6,639.29 L370.1,639.12 L370.6,639.33 L371.1,639.60 L371.6,639.64 L372.1,639.64 L372.6,639.62 L373.1,639.51 L373.6,639.46 L374.1,639.03 L374.6,639.03 L375.1,638.45 L375.6,638.54 L376.1,638.57 L376.6,638.84 L377.1,639.06 L377.6,639.05 L378.1,639.15 L378.6,638.99 L379.1,639.14 L379.6,638.88 L380.1,638.95 L380.6,639.07 L381.1,639.05 L381.6,638.95 L382.1,638.95 L382.6,638.78 L383.1,638.81 L383.6,638.91 L384.1,638.63 L384.6,638.38 L385.1,637.85 L385.6,637.59 L386.1,637.49 L386.6,636.95 L387.1,637.24 L387.6,636.95 L388.1,636.76 L388.6,636.46 L389.1,636.25 L389.6,635.86 L390.1,635.41 L390.6,635.78 L391.1,635.70 L391.6,635.52 L392.1,635.19 L392.6,635.95 L393.1,636.13 L393.6,637.40 L394.1,638.06 L394.6,638.71 L395.1,639.09 L395.6,639.24 L396.1,639.50 L396.6,639.40 L397.1,639.32 L397.6,638.87 L398.1,638.72 L398.6,638.32 L399.1,638.03 L399.6,636.73 L400.1,635.56 L400.6,635.67 L401.1,634.32 L401.6,635.11 L402.1,635.93 L402.6,636.38 L403.1,635.92 L403.6,635.72 L404.1,635.73 L404.6,634.76 L405.1,635.11 L405.6,633.45 L406.1,633.67 L406.6,632.87 L407.1,631.71 L407.6,630.67 L408.1,628.59 L408.6,628.80 L409.1,629.08 L409.6,629.33 L410.1,631.66 L410.6,633.72 L411.1,635.43 L411.6,636.63 L412.1,637.41 L412.6,638.04 L413.1,638.85 L413.6,638.91 L414.1,638.95 L414.6,639.16 L415.1,639.17 L415.6,639.19 L416.1,639.57 L416.6,639.39 L417.1,639.55 L417.6,639.39 L418.1,639.48 L418.6,639.41 L419.1,638.98 L419.6,638.82 L420.1,638.55 L420.6,638.36 L421.1,638.21 L421.6,638.14 L422.1,637.45 L422.6,637.39 L423.1,637.25 L423.6,637.55 L424.1,637.49 L424.6,637.14 L425.1,637.40 L425.6,636.99 L426.1,637.14 L426.6,636.76 L427.1,637.19 L427.6,636.71 L428.1,636.45 L428.6,636.68 L429.1,637.11 L429.6,637.66 L430.1,637.81 L430.6,637.96 L430.6,641.5 Z" fill="#c5a8dd" stroke="none" stroke-width="0.4" opacity="1" stroke-linejoin="round"/>
<path d="M132.6,641.5 L132.6,639.81 L133.1,639.71 L133.6,639.60 L134.1,639.22 L134.6,638.86 L135.1,638.98 L135.6,638.94 L136.1,638.54 L136.6,638.45 L137.1,638.94 L137.6,639.02 L138.1,639.04 L138.6,638.68 L139.1,638.24 L139.6,638.27 L140.1,637.35 L140.6,637.57 L141.1,637.10 L141.6,636.63 L142.1,636.55 L142.6,637.18 L143.1,637.48 L143.6,638.24 L144.1,638.64 L144.6,638.87 L145.1,639.38 L145.6,639.42 L146.1,639.47 L146.6,639.44 L147.1,639.72 L147.6,639.76 L148.1,639.50 L148.6,639.66 L149.1,639.78 L149.6,639.70 L150.1,639.80 L150.6,639.79 L151.1,639.81 L151.6,639.61 L152.1,639.55 L152.6,638.99 L153.1,638.55 L153.6,638.18 L154.1,637.67 L154.6,636.90 L155.1,637.44 L155.6,637.64 L156.1,637.69 L156.6,638.16 L157.1,638.60 L157.6,638.32 L158.1,638.80 L158.6,639.24 L159.1,638.99 L159.6,639.12 L160.1,638.76 L160.6,638.21 L161.1,637.96 L161.6,638.30 L162.1,638.17 L162.6,638.68 L163.1,639.31 L163.6,639.51 L164.1,639.65 L164.6,639.86 L165.1,639.99 L165.6,639.97 L166.1,640.14 L166.6,639.94 L167.1,639.89 L167.6,639.95 L168.1,639.98 L168.6,639.92 L169.1,640.05 L169.6,640.02 L170.1,639.97 L170.6,640.14 L171.1,640.10 L171.6,640.08 L172.1,640.07 L172.6,639.94 L173.1,639.55 L173.6,639.48 L174.1,639.45 L174.6,638.99 L175.1,638.94 L175.6,639.43 L176.1,639.41 L176.6,639.89 L177.1,640.01 L177.6,640.13 L178.1,640.02 L178.6,640.04 L179.1,639.92 L179.6,639.86 L180.1,639.63 L180.6,639.27 L181.1,639.03 L181.6,638.83 L182.1,638.50 L182.6,637.58 L183.1,637.19 L183.6,636.94 L184.1,636.32 L184.6,636.45 L185.1,637.20 L185.6,637.98 L186.1,638.45 L186.6,638.77 L187.1,639.26 L187.6,639.88 L188.1,639.94 L188.6,639.65 L189.1,639.19 L189.6,638.88 L190.1,638.57 L190.6,638.82 L191.1,638.57 L191.6,638.07 L192.1,638.28 L192.6,638.42 L193.1,638.13 L193.6,638.98 L194.1,638.98 L194.6,639.07 L195.1,639.44 L195.6,639.55 L196.1,639.88 L196.6,639.75 L197.1,639.52 L197.6,639.80 L198.1,639.66 L198.6,639.49 L199.1,639.91 L199.6,639.77 L200.1,639.86 L200.6,640.08 L201.1,639.88 L201.6,639.98 L202.1,640.22 L202.6,639.98 L203.1,639.99 L203.6,639.91 L204.1,639.79 L204.6,639.37 L205.1,639.47 L205.6,639.17 L206.1,639.25 L206.6,638.95 L207.1,638.94 L207.6,639.31 L208.1,639.83 L208.6,639.91 L209.1,639.91 L209.6,639.86 L210.1,639.55 L210.6,639.40 L211.1,639.63 L211.6,639.09 L212.1,639.09 L212.6,638.34 L213.1,638.27 L213.6,637.73 L214.1,637.53 L214.6,637.42 L215.1,638.07 L215.6,638.24 L216.1,637.82 L216.6,638.19 L217.1,638.05 L217.6,638.29 L218.1,638.18 L218.6,637.70 L219.1,637.73 L219.6,637.38 L220.1,637.32 L220.6,637.00 L221.1,637.66 L221.6,637.48 L222.1,637.67 L222.6,637.97 L223.1,638.25 L223.6,638.99 L224.1,639.03 L224.6,639.38 L225.1,639.55 L225.6,639.41 L226.1,639.42 L226.6,639.15 L227.1,639.32 L227.6,638.62 L228.1,638.75 L228.6,638.82 L229.1,638.63 L229.6,638.32 L230.1,638.24 L230.6,637.63 L231.1,637.84 L231.6,637.17 L232.1,637.50 L232.6,637.19 L233.1,636.39 L233.6,636.54 L234.1,636.83 L234.6,638.16 L235.1,638.84 L235.6,639.10 L236.1,639.62 L236.6,639.70 L237.1,639.39 L237.6,639.07 L238.1,639.31 L238.6,639.64 L239.1,639.89 L239.6,640.26 L240.1,640.07 L240.6,640.05 L241.1,639.81 L241.6,639.53 L242.1,639.32 L242.6,639.48 L243.1,639.03 L243.6,638.84 L244.1,638.92 L244.6,639.03 L245.1,638.50 L245.6,638.52 L246.1,638.36 L246.6,638.29 L247.1,638.25 L247.6,638.73 L248.1,638.21 L248.6,638.40 L249.1,639.02 L249.6,639.09 L250.1,639.31 L250.6,639.77 L251.1,639.99 L251.6,640.03 L252.1,640.04 L252.6,640.15 L253.1,639.97 L253.6,639.70 L254.1,639.67 L254.6,639.20 L255.1,639.47 L255.6,639.30 L256.1,639.37 L256.6,639.74 L257.1,639.93 L257.6,639.97 L258.1,639.86 L258.6,639.77 L259.1,639.75 L259.6,639.89 L260.1,639.83 L260.6,639.95 L261.1,639.86 L261.6,639.81 L262.1,639.77 L262.6,640.06 L263.1,640.04 L263.6,639.70 L264.1,639.63 L264.6,639.75 L265.1,639.41 L265.6,639.82 L266.1,639.78 L266.6,640.01 L267.1,639.78 L267.6,639.84 L268.1,639.70 L268.6,639.63 L269.1,639.63 L269.6,639.75 L270.1,639.71 L270.6,639.53 L271.1,639.46 L271.6,639.28 L272.1,639.48 L272.6,639.31 L273.1,639.19 L273.6,638.73 L274.1,639.34 L274.6,639.45 L275.1,639.89 L275.6,639.88 L276.1,640.05 L276.6,639.99 L277.1,640.17 L277.6,639.75 L278.1,639.65 L278.6,639.42 L279.1,638.57 L279.6,638.77 L280.1,638.66 L280.6,639.41 L281.1,639.62 L281.6,639.93 L282.1,640.10 L282.6,640.03 L283.1,640.18 L283.6,639.92 L284.1,640.08 L284.6,639.71 L285.1,639.86 L285.6,639.63 L286.1,639.47 L286.6,639.57 L287.1,639.45 L287.6,639.55 L288.1,638.55 L288.6,638.84 L289.1,638.89 L289.6,639.55 L290.1,639.94 L290.6,640.03 L291.1,640.01 L291.6,639.84 L292.1,640.06 L292.6,639.76 L293.1,639.68 L293.6,639.77 L294.1,639.48 L294.6,639.31 L295.1,639.29 L295.6,638.77 L296.1,638.68 L296.6,638.71 L297.1,639.17 L297.6,638.86 L298.1,638.89 L298.6,639.16 L299.1,639.23 L299.6,639.39 L300.1,639.63 L300.6,639.72 L301.1,639.91 L301.6,639.66 L302.1,639.67 L302.6,639.46 L303.1,639.21 L303.6,639.11 L304.1,639.30 L304.6,639.44 L305.1,639.63 L305.6,639.89 L306.1,640.09 L306.6,639.85 L307.1,639.69 L307.6,639.78 L308.1,639.56 L308.6,639.42 L309.1,639.72 L309.6,639.46 L310.1,639.49 L310.6,639.71 L311.1,639.44 L311.6,639.50 L312.1,639.58 L312.6,639.47 L313.1,639.09 L313.6,639.16 L314.1,638.21 L314.6,638.00 L315.1,637.84 L315.6,637.72 L316.1,637.51 L316.6,638.09 L317.1,637.81 L317.6,638.45 L318.1,638.41 L318.6,638.55 L319.1,638.69 L319.6,639.06 L320.1,638.92 L320.6,638.66 L321.1,638.51 L321.6,638.77 L322.1,638.99 L322.6,638.77 L323.1,638.99 L323.6,638.93 L324.1,638.99 L324.6,638.68 L325.1,638.87 L325.6,639.23 L326.1,639.11 L326.6,639.41 L327.1,639.61 L327.6,639.46 L328.1,639.51 L328.6,639.16 L329.1,639.42 L329.6,638.96 L330.1,638.87 L330.6,638.38 L331.1,638.16 L331.6,638.49 L332.1,638.52 L332.6,638.45 L333.1,638.10 L333.6,637.97 L334.1,636.93 L334.6,636.78 L335.1,637.16 L335.6,636.10 L336.1,636.73 L336.6,636.23 L337.1,635.47 L337.6,634.55 L338.1,635.24 L338.6,634.94 L339.1,634.54 L339.6,634.12 L340.1,634.43 L340.6,634.43 L341.1,634.79 L341.6,636.80 L342.1,637.16 L342.6,637.44 L343.1,637.96 L343.6,638.26 L344.1,638.94 L344.6,639.19 L345.1,639.13 L345.6,639.16 L346.1,639.18 L346.6,639.27 L347.1,639.47 L347.6,639.30 L348.1,639.64 L348.6,639.81 L349.1,639.79 L349.6,639.56 L350.1,639.45 L350.6,639.32 L351.1,639.40 L351.6,639.45 L352.1,639.52 L352.6,639.81 L353.1,639.65 L353.6,639.77 L354.1,639.77 L354.6,639.89 L355.1,639.89 L355.6,639.75 L356.1,639.82 L356.6,640.06 L357.1,640.00 L357.6,640.28 L358.1,640.22 L358.6,639.65 L359.1,639.06 L359.6,639.04 L360.1,639.34 L360.6,640.04 L361.1,640.32 L361.6,640.19 L362.1,640.06 L362.6,639.88 L363.1,639.38 L363.6,639.27 L364.1,639.10 L364.6,638.54 L365.1,638.83 L365.6,639.14 L366.1,639.20 L366.6,639.49 L367.1,639.57 L367.6,639.88 L368.1,639.97 L368.6,639.96 L369.1,639.82 L369.6,639.63 L370.1,639.62 L370.6,639.28 L371.1,638.98 L371.6,638.99 L372.1,639.20 L372.6,638.39 L373.1,637.83 L373.6,638.65 L374.1,638.98 L374.6,639.64 L375.1,639.85 L375.6,639.89 L376.1,639.94 L376.6,640.15 L377.1,640.17 L377.6,640.17 L378.1,640.04 L378.6,639.57 L379.1,639.23 L379.6,638.58 L380.1,638.82 L380.6,638.91 L381.1,639.08 L381.6,638.91 L382.1,639.27 L382.6,639.37 L383.1,639.46 L383.6,639.33 L384.1,639.19 L384.6,638.84 L385.1,637.91 L385.6,637.28 L386.1,637.24 L386.6,636.81 L387.1,636.28 L387.6,635.58 L388.1,636.12 L388.6,636.18 L389.1,635.83 L389.6,635.61 L390.1,635.33 L390.6,635.73 L391.1,635.77 L391.6,635.51 L392.1,636.58 L392.6,638.00 L393.1,638.58 L393.6,639.34 L394.1,639.28 L394.6,639.79 L395.1,639.72 L395.6,640.10 L396.1,640.16 L396.6,640.13 L397.1,640.10 L397.6,640.00 L398.1,639.78 L398.6,639.41 L399.1,639.01 L399.6,637.86 L400.1,636.84 L400.6,636.54 L401.1,636.20 L401.6,636.34 L402.1,636.60 L402.6,636.98 L403.1,637.67 L403.6,637.99 L404.1,638.19 L404.6,638.29 L405.1,637.51 L405.6,636.70 L406.1,635.98 L406.6,635.16 L407.1,633.05 L407.6,630.46 L408.1,628.67 L408.6,630.42 L409.1,630.14 L409.6,631.38 L410.1,632.74 L410.6,636.33 L411.1,637.73 L411.6,638.50 L412.1,638.97 L412.6,639.28 L413.1,638.94 L413.6,638.66 L414.1,638.90 L414.6,638.41 L415.1,638.57 L415.6,638.88 L416.1,639.04 L416.6,639.31 L417.1,639.00 L417.6,639.43 L418.1,639.27 L418.6,639.18 L419.1,639.17 L419.6,638.97 L420.1,639.12 L420.6,638.69 L421.1,638.71 L421.6,638.03 L422.1,637.59 L422.6,637.47 L423.1,636.95 L423.6,636.82 L424.1,637.43 L424.6,637.21 L425.1,637.16 L425.6,636.53 L426.1,636.23 L426.6,636.83 L427.1,636.15 L427.6,637.12 L428.1,637.14 L428.6,636.98 L429.1,637.72 L429.6,637.44 L430.1,638.32 L430.6,638.34 L430.6,641.5 Z" fill="#6a4a98" stroke="none" stroke-width="0.4" opacity="0.55" stroke-linejoin="round"/>
<path d="M132.6,639.81 L132.6,639.81 L133.1,639.71 L133.6,639.60 L134.1,639.22 L134.6,638.86 L135.1,638.98 L135.6,638.94 L136.1,638.54 L136.6,638.45 L137.1,638.94 L137.6,639.02 L138.1,639.04 L138.6,638.68 L139.1,638.24 L139.6,638.27 L140.1,637.35 L140.6,637.57 L141.1,637.10 L141.6,636.63 L142.1,636.55 L142.6,637.18 L143.1,637.48 L143.6,638.24 L144.1,638.64 L144.6,638.87 L145.1,639.38 L145.6,639.42 L146.1,639.47 L146.6,639.44 L147.1,639.72 L147.6,639.76 L148.1,639.50 L148.6,639.66 L149.1,639.78 L149.6,639.70 L150.1,639.80 L150.6,639.79 L151.1,639.81 L151.6,639.61 L152.1,639.55 L152.6,638.99 L153.1,638.55 L153.6,638.18 L154.1,637.67 L154.6,636.90 L155.1,637.44 L155.6,637.64 L156.1,637.69 L156.6,638.16 L157.1,638.60 L157.6,638.32 L158.1,638.80 L158.6,639.24 L159.1,638.99 L159.6,639.12 L160.1,638.76 L160.6,638.21 L161.1,637.96 L161.6,638.30 L162.1,638.17 L162.6,638.68 L163.1,639.31 L163.6,639.51 L164.1,639.65 L164.6,639.86 L165.1,639.99 L165.6,639.97 L166.1,640.14 L166.6,639.94 L167.1,639.89 L167.6,639.95 L168.1,639.98 L168.6,639.92 L169.1,640.05 L169.6,640.02 L170.1,639.97 L170.6,640.14 L171.1,640.10 L171.6,640.08 L172.1,640.07 L172.6,639.94 L173.1,639.55 L173.6,639.48 L174.1,639.45 L174.6,638.99 L175.1,638.94 L175.6,639.43 L176.1,639.41 L176.6,639.89 L177.1,640.01 L177.6,640.13 L178.1,640.02 L178.6,640.04 L179.1,639.92 L179.6,639.86 L180.1,639.63 L180.6,639.27 L181.1,639.03 L181.6,638.83 L182.1,638.50 L182.6,637.58 L183.1,637.19 L183.6,636.94 L184.1,636.32 L184.6,636.45 L185.1,637.20 L185.6,637.98 L186.1,638.45 L186.6,638.77 L187.1,639.26 L187.6,639.88 L188.1,639.94 L188.6,639.65 L189.1,639.19 L189.6,638.88 L190.1,638.57 L190.6,638.82 L191.1,638.57 L191.6,638.07 L192.1,638.28 L192.6,638.42 L193.1,638.13 L193.6,638.98 L194.1,638.98 L194.6,639.07 L195.1,639.44 L195.6,639.55 L196.1,639.88 L196.6,639.75 L197.1,639.52 L197.6,639.80 L198.1,639.66 L198.6,639.49 L199.1,639.91 L199.6,639.77 L200.1,639.86 L200.6,640.08 L201.1,639.88 L201.6,639.98 L202.1,640.22 L202.6,639.98 L203.1,639.99 L203.6,639.91 L204.1,639.79 L204.6,639.37 L205.1,639.47 L205.6,639.17 L206.1,639.25 L206.6,638.95 L207.1,638.94 L207.6,639.31 L208.1,639.83 L208.6,639.91 L209.1,639.91 L209.6,639.86 L210.1,639.55 L210.6,639.40 L211.1,639.63 L211.6,639.09 L212.1,639.09 L212.6,638.34 L213.1,638.27 L213.6,637.73 L214.1,637.53 L214.6,637.42 L215.1,638.07 L215.6,638.24 L216.1,637.82 L216.6,638.19 L217.1,638.05 L217.6,638.29 L218.1,638.18 L218.6,637.70 L219.1,637.73 L219.6,637.38 L220.1,637.32 L220.6,637.00 L221.1,637.66 L221.6,637.48 L222.1,637.67 L222.6,637.97 L223.1,638.25 L223.6,638.99 L224.1,639.03 L224.6,639.38 L225.1,639.55 L225.6,639.41 L226.1,639.42 L226.6,639.15 L227.1,639.32 L227.6,638.62 L228.1,638.75 L228.6,638.82 L229.1,638.63 L229.6,638.32 L230.1,638.24 L230.6,637.63 L231.1,637.84 L231.6,637.17 L232.1,637.50 L232.6,637.19 L233.1,636.39 L233.6,636.54 L234.1,636.83 L234.6,638.16 L235.1,638.84 L235.6,639.10 L236.1,639.62 L236.6,639.70 L237.1,639.39 L237.6,639.07 L238.1,639.31 L238.6,639.64 L239.1,639.89 L239.6,640.26 L240.1,640.07 L240.6,640.05 L241.1,639.81 L241.6,639.53 L242.1,639.32 L242.6,639.48 L243.1,639.03 L243.6,638.84 L244.1,638.92 L244.6,639.03 L245.1,638.50 L245.6,638.52 L246.1,638.36 L246.6,638.29 L247.1,638.25 L247.6,638.73 L248.1,638.21 L248.6,638.40 L249.1,639.02 L249.6,639.09 L250.1,639.31 L250.6,639.77 L251.1,639.99 L251.6,640.03 L252.1,640.04 L252.6,640.15 L253.1,639.97 L253.6,639.70 L254.1,639.67 L254.6,639.20 L255.1,639.47 L255.6,639.30 L256.1,639.37 L256.6,639.74 L257.1,639.93 L257.6,639.97 L258.1,639.86 L258.6,639.77 L259.1,639.75 L259.6,639.89 L260.1,639.83 L260.6,639.95 L261.1,639.86 L261.6,639.81 L262.1,639.77 L262.6,640.06 L263.1,640.04 L263.6,639.70 L264.1,639.63 L264.6,639.75 L265.1,639.41 L265.6,639.82 L266.1,639.78 L266.6,640.01 L267.1,639.78 L267.6,639.84 L268.1,639.70 L268.6,639.63 L269.1,639.63 L269.6,639.75 L270.1,639.71 L270.6,639.53 L271.1,639.46 L271.6,639.28 L272.1,639.48 L272.6,639.31 L273.1,639.19 L273.6,638.73 L274.1,639.34 L274.6,639.45 L275.1,639.89 L275.6,639.88 L276.1,640.05 L276.6,639.99 L277.1,640.17 L277.6,639.75 L278.1,639.65 L278.6,639.42 L279.1,638.57 L279.6,638.77 L280.1,638.66 L280.6,639.41 L281.1,639.62 L281.6,639.93 L282.1,640.10 L282.6,640.03 L283.1,640.18 L283.6,639.92 L284.1,640.08 L284.6,639.71 L285.1,639.86 L285.6,639.63 L286.1,639.47 L286.6,639.57 L287.1,639.45 L287.6,639.55 L288.1,638.55 L288.6,638.84 L289.1,638.89 L289.6,639.55 L290.1,639.94 L290.6,640.03 L291.1,640.01 L291.6,639.84 L292.1,640.06 L292.6,639.76 L293.1,639.68 L293.6,639.77 L294.1,639.48 L294.6,639.31 L295.1,639.29 L295.6,638.77 L296.1,638.68 L296.6,638.71 L297.1,639.17 L297.6,638.86 L298.1,638.89 L298.6,639.16 L299.1,639.23 L299.6,639.39 L300.1,639.63 L300.6,639.72 L301.1,639.91 L301.6,639.66 L302.1,639.67 L302.6,639.46 L303.1,639.21 L303.6,639.11 L304.1,639.30 L304.6,639.44 L305.1,639.63 L305.6,639.89 L306.1,640.09 L306.6,639.85 L307.1,639.69 L307.6,639.78 L308.1,639.56 L308.6,639.42 L309.1,639.72 L309.6,639.46 L310.1,639.49 L310.6,639.71 L311.1,639.44 L311.6,639.50 L312.1,639.58 L312.6,639.47 L313.1,639.09 L313.6,639.16 L314.1,638.21 L314.6,638.00 L315.1,637.84 L315.6,637.72 L316.1,637.51 L316.6,638.09 L317.1,637.81 L317.6,638.45 L318.1,638.41 L318.6,638.55 L319.1,638.69 L319.6,639.06 L320.1,638.92 L320.6,638.66 L321.1,638.51 L321.6,638.77 L322.1,638.99 L322.6,638.77 L323.1,638.99 L323.6,638.93 L324.1,638.99 L324.6,638.68 L325.1,638.87 L325.6,639.23 L326.1,639.11 L326.6,639.41 L327.1,639.61 L327.6,639.46 L328.1,639.51 L328.6,639.16 L329.1,639.42 L329.6,638.96 L330.1,638.87 L330.6,638.38 L331.1,638.16 L331.6,638.49 L332.1,638.52 L332.6,638.45 L333.1,638.10 L333.6,637.97 L334.1,636.93 L334.6,636.78 L335.1,637.16 L335.6,636.10 L336.1,636.73 L336.6,636.23 L337.1,635.47 L337.6,634.55 L338.1,635.24 L338.6,634.94 L339.1,634.54 L339.6,634.12 L340.1,634.43 L340.6,634.43 L341.1,634.79 L341.6,636.80 L342.1,637.16 L342.6,637.44 L343.1,637.96 L343.6,638.26 L344.1,638.94 L344.6,639.19 L345.1,639.13 L345.6,639.16 L346.1,639.18 L346.6,639.27 L347.1,639.47 L347.6,639.30 L348.1,639.64 L348.6,639.81 L349.1,639.79 L349.6,639.56 L350.1,639.45 L350.6,639.32 L351.1,639.40 L351.6,639.45 L352.1,639.52 L352.6,639.81 L353.1,639.65 L353.6,639.77 L354.1,639.77 L354.6,639.89 L355.1,639.89 L355.6,639.75 L356.1,639.82 L356.6,640.06 L357.1,640.00 L357.6,640.28 L358.1,640.22 L358.6,639.65 L359.1,639.06 L359.6,639.04 L360.1,639.34 L360.6,640.04 L361.1,640.32 L361.6,640.19 L362.1,640.06 L362.6,639.88 L363.1,639.38 L363.6,639.27 L364.1,639.10 L364.6,638.54 L365.1,638.83 L365.6,639.14 L366.1,639.20 L366.6,639.49 L367.1,639.57 L367.6,639.88 L368.1,639.97 L368.6,639.96 L369.1,639.82 L369.6,639.63 L370.1,639.62 L370.6,639.28 L371.1,638.98 L371.6,638.99 L372.1,639.20 L372.6,638.39 L373.1,637.83 L373.6,638.65 L374.1,638.98 L374.6,639.64 L375.1,639.85 L375.6,639.89 L376.1,639.94 L376.6,640.15 L377.1,640.17 L377.6,640.17 L378.1,640.04 L378.6,639.57 L379.1,639.23 L379.6,638.58 L380.1,638.82 L380.6,638.91 L381.1,639.08 L381.6,638.91 L382.1,639.27 L382.6,639.37 L383.1,639.46 L383.6,639.33 L384.1,639.19 L384.6,638.84 L385.1,637.91 L385.6,637.28 L386.1,637.24 L386.6,636.81 L387.1,636.28 L387.6,635.58 L388.1,636.12 L388.6,636.18 L389.1,635.83 L389.6,635.61 L390.1,635.33 L390.6,635.73 L391.1,635.77 L391.6,635.51 L392.1,636.58 L392.6,638.00 L393.1,638.58 L393.6,639.34 L394.1,639.28 L394.6,639.79 L395.1,639.72 L395.6,640.10 L396.1,640.16 L396.6,640.13 L397.1,640.10 L397.6,640.00 L398.1,639.78 L398.6,639.41 L399.1,639.01 L399.6,637.86 L400.1,636.84 L400.6,636.54 L401.1,636.20 L401.6,636.34 L402.1,636.60 L402.6,636.98 L403.1,637.67 L403.6,637.99 L404.1,638.19 L404.6,638.29 L405.1,637.51 L405.6,636.70 L406.1,635.98 L406.6,635.16 L407.1,633.05 L407.6,630.46 L408.1,628.67 L408.6,630.42 L409.1,630.14 L409.6,631.38 L410.1,632.74 L410.6,636.33 L411.1,637.73 L411.6,638.50 L412.1,638.97 L412.6,639.28 L413.1,638.94 L413.6,638.66 L414.1,638.90 L414.6,638.41 L415.1,638.57 L415.6,638.88 L416.1,639.04 L416.6,639.31 L417.1,639.00 L417.6,639.43 L418.1,639.27 L418.6,639.18 L419.1,639.17 L419.6,638.97 L420.1,639.12 L420.6,638.69 L421.1,638.71 L421.6,638.03 L422.1,637.59 L422.6,637.47 L423.1,636.95 L423.6,636.82 L424.1,637.43 L424.6,637.21 L425.1,637.16 L425.6,636.53 L426.1,636.23 L426.6,636.83 L427.1,636.15 L427.6,637.12 L428.1,637.14 L428.6,636.98 L429.1,637.72 L429.6,637.44 L430.1,638.32 L430.6,638.34" fill="none" stroke="#4a2a7a" stroke-width="0.8" opacity="1" stroke-linejoin="round"/>
<line x1="132.6" y1="641.3" x2="431.0" y2="641.3" stroke="#9a7ab8" stroke-width="0.6"/>
<path d="M132.6,661.0 L132.6,661.00 L133.1,661.00 L133.6,661.00 L134.1,661.00 L134.6,661.00 L135.1,661.00 L135.6,661.00 L136.1,661.00 L136.6,661.00 L137.1,661.00 L137.6,661.00 L138.1,661.00 L138.6,661.00 L139.1,661.00 L139.6,661.00 L140.1,661.00 L140.6,661.00 L141.1,661.00 L141.6,661.00 L142.1,661.00 L142.6,661.00 L143.1,661.00 L143.6,661.00 L144.1,661.00 L144.6,661.00 L145.1,661.00 L145.6,661.00 L146.1,661.00 L146.6,661.00 L147.1,661.00 L147.6,661.00 L148.1,661.00 L148.6,661.00 L149.1,661.00 L149.6,661.00 L150.1,661.00 L150.6,661.00 L151.1,661.00 L151.6,661.00 L152.1,661.00 L152.6,661.00 L153.1,661.00 L153.6,661.00 L154.1,661.00 L154.6,661.00 L155.1,661.00 L155.6,661.00 L156.1,661.00 L156.6,661.00 L157.1,661.00 L157.6,661.00 L158.1,661.00 L158.6,661.00 L159.1,661.00 L159.6,661.00 L160.1,661.00 L160.6,661.00 L161.1,661.00 L161.6,661.00 L162.1,661.00 L162.6,661.00 L163.1,661.00 L163.6,661.00 L164.1,661.00 L164.6,661.00 L165.1,661.00 L165.6,661.00 L166.1,661.00 L166.6,661.00 L167.1,661.00 L167.6,661.00 L168.1,661.00 L168.6,661.00 L169.1,661.00 L169.6,661.00 L170.1,661.00 L170.6,661.00 L171.1,661.00 L171.6,661.00 L172.1,661.00 L172.6,661.00 L173.1,661.00 L173.6,661.00 L174.1,661.00 L174.6,661.00 L175.1,661.00 L175.6,661.00 L176.1,661.00 L176.6,661.00 L177.1,661.00 L177.6,661.00 L178.1,661.00 L178.6,661.00 L179.1,661.00 L179.6,661.00 L180.1,661.00 L180.6,661.00 L181.1,661.00 L181.6,661.00 L182.1,661.00 L182.6,661.00 L183.1,661.00 L183.6,661.00 L184.1,661.00 L184.6,661.00 L185.1,661.00 L185.6,661.00 L186.1,661.00 L186.6,661.00 L187.1,661.00 L187.6,661.00 L188.1,661.00 L188.6,661.00 L189.1,661.00 L189.6,661.00 L190.1,661.00 L190.6,661.00 L191.1,661.00 L191.6,661.00 L192.1,661.00 L192.6,661.00 L193.1,661.00 L193.6,661.00 L194.1,661.00 L194.6,661.00 L195.1,661.00 L195.6,661.00 L196.1,661.00 L196.6,661.00 L197.1,661.00 L197.6,661.00 L198.1,661.00 L198.6,661.00 L199.1,661.00 L199.6,661.00 L200.1,661.00 L200.6,661.00 L201.1,661.00 L201.6,661.00 L202.1,661.00 L202.6,661.00 L203.1,661.00 L203.6,661.00 L204.1,661.00 L204.6,661.00 L205.1,661.00 L205.6,661.00 L206.1,661.00 L206.6,661.00 L207.1,661.00 L207.6,661.00 L208.1,661.00 L208.6,661.00 L209.1,661.00 L209.6,661.00 L210.1,661.00 L210.6,661.00 L211.1,661.00 L211.6,661.00 L212.1,661.00 L212.6,661.00 L213.1,661.00 L213.6,661.00 L214.1,661.00 L214.6,661.00 L215.1,661.00 L215.6,661.00 L216.1,661.00 L216.6,661.00 L217.1,661.00 L217.6,661.00 L218.1,661.00 L218.6,661.00 L219.1,661.00 L219.6,661.00 L220.1,661.00 L220.6,661.00 L221.1,661.00 L221.6,661.00 L222.1,661.00 L222.6,661.00 L223.1,661.00 L223.6,661.00 L224.1,661.00 L224.6,661.00 L225.1,661.00 L225.6,661.00 L226.1,661.00 L226.6,661.00 L227.1,661.00 L227.6,661.00 L228.1,661.00 L228.6,661.00 L229.1,661.00 L229.6,661.00 L230.1,661.00 L230.6,661.00 L231.1,661.00 L231.6,661.00 L232.1,661.00 L232.6,661.00 L233.1,661.00 L233.6,661.00 L234.1,661.00 L234.6,661.00 L235.1,661.00 L235.6,661.00 L236.1,661.00 L236.6,661.00 L237.1,661.00 L237.6,661.00 L238.1,661.00 L238.6,661.00 L239.1,661.00 L239.6,661.00 L240.1,661.00 L240.6,661.00 L241.1,661.00 L241.6,661.00 L242.1,661.00 L242.6,661.00 L243.1,661.00 L243.6,661.00 L244.1,661.00 L244.6,661.00 L245.1,661.00 L245.6,661.00 L246.1,661.00 L246.6,661.00 L247.1,661.00 L247.6,661.00 L248.1,661.00 L248.6,661.00 L249.1,661.00 L249.6,661.00 L250.1,661.00 L250.6,661.00 L251.1,661.00 L251.6,661.00 L252.1,661.00 L252.6,661.00 L253.1,661.00 L253.6,661.00 L254.1,661.00 L254.6,661.00 L255.1,661.00 L255.6,661.00 L256.1,661.00 L256.6,661.00 L257.1,661.00 L257.6,661.00 L258.1,661.00 L258.6,661.00 L259.1,661.00 L259.6,661.00 L260.1,661.00 L260.6,661.00 L261.1,661.00 L261.6,661.00 L262.1,661.00 L262.6,661.00 L263.1,661.00 L263.6,661.00 L264.1,661.00 L264.6,661.00 L265.1,661.00 L265.6,661.00 L266.1,661.00 L266.6,661.00 L267.1,661.00 L267.6,661.00 L268.1,661.00 L268.6,661.00 L269.1,661.00 L269.6,661.00 L270.1,661.00 L270.6,661.00 L271.1,661.00 L271.6,661.00 L272.1,661.00 L272.6,661.00 L273.1,661.00 L273.6,661.00 L274.1,661.00 L274.6,661.00 L275.1,661.00 L275.6,661.00 L276.1,661.00 L276.6,661.00 L277.1,661.00 L277.6,661.00 L278.1,661.00 L278.6,661.00 L279.1,661.00 L279.6,661.00 L280.1,661.00 L280.6,661.00 L281.1,661.00 L281.6,661.00 L282.1,661.00 L282.6,661.00 L283.1,661.00 L283.6,661.00 L284.1,661.00 L284.6,661.00 L285.1,661.00 L285.6,661.00 L286.1,661.00 L286.6,661.00 L287.1,661.00 L287.6,661.00 L288.1,661.00 L288.6,661.00 L289.1,661.00 L289.6,661.00 L290.1,661.00 L290.6,661.00 L291.1,661.00 L291.6,661.00 L292.1,661.00 L292.6,661.00 L293.1,661.00 L293.6,661.00 L294.1,661.00 L294.6,661.00 L295.1,661.00 L295.6,661.00 L296.1,661.00 L296.6,661.00 L297.1,661.00 L297.6,661.00 L298.1,661.00 L298.6,661.00 L299.1,661.00 L299.6,661.00 L300.1,661.00 L300.6,661.00 L301.1,661.00 L301.6,661.00 L302.1,661.00 L302.6,661.00 L303.1,661.00 L303.6,661.00 L304.1,661.00 L304.6,661.00 L305.1,661.00 L305.6,661.00 L306.1,661.00 L306.6,661.00 L307.1,661.00 L307.6,661.00 L308.1,661.00 L308.6,661.00 L309.1,661.00 L309.6,661.00 L310.1,661.00 L310.6,661.00 L311.1,661.00 L311.6,661.00 L312.1,661.00 L312.6,661.00 L313.1,661.00 L313.6,661.00 L314.1,661.00 L314.6,661.00 L315.1,661.00 L315.6,661.00 L316.1,661.00 L316.6,661.00 L317.1,661.00 L317.6,661.00 L318.1,661.00 L318.6,661.00 L319.1,661.00 L319.6,661.00 L320.1,661.00 L320.6,661.00 L321.1,661.00 L321.6,661.00 L322.1,661.00 L322.6,661.00 L323.1,661.00 L323.6,661.00 L324.1,661.00 L324.6,661.00 L325.1,661.00 L325.6,661.00 L326.1,661.00 L326.6,661.00 L327.1,661.00 L327.6,661.00 L328.1,661.00 L328.6,661.00 L329.1,661.00 L329.6,661.00 L330.1,661.00 L330.6,661.00 L331.1,661.00 L331.6,661.00 L332.1,661.00 L332.6,661.00 L333.1,661.00 L333.6,661.00 L334.1,661.00 L334.6,661.00 L335.1,661.00 L335.6,661.00 L336.1,661.00 L336.6,661.00 L337.1,661.00 L337.6,661.00 L338.1,661.00 L338.6,661.00 L339.1,661.00 L339.6,661.00 L340.1,661.00 L340.6,661.00 L341.1,661.00 L341.6,661.00 L342.1,661.00 L342.6,661.00 L343.1,661.00 L343.6,661.00 L344.1,661.00 L344.6,661.00 L345.1,661.00 L345.6,661.00 L346.1,661.00 L346.6,661.00 L347.1,661.00 L347.6,661.00 L348.1,661.00 L348.6,661.00 L349.1,661.00 L349.6,661.00 L350.1,661.00 L350.6,661.00 L351.1,661.00 L351.6,661.00 L352.1,661.00 L352.6,661.00 L353.1,661.00 L353.6,661.00 L354.1,661.00 L354.6,661.00 L355.1,661.00 L355.6,661.00 L356.1,661.00 L356.6,661.00 L357.1,661.00 L357.6,661.00 L358.1,661.00 L358.6,661.00 L359.1,661.00 L359.6,661.00 L360.1,661.00 L360.6,661.00 L361.1,661.00 L361.6,661.00 L362.1,661.00 L362.6,661.00 L363.1,661.00 L363.6,661.00 L364.1,661.00 L364.6,661.00 L365.1,661.00 L365.6,661.00 L366.1,661.00 L366.6,661.00 L367.1,661.00 L367.6,661.00 L368.1,661.00 L368.6,661.00 L369.1,661.00 L369.6,661.00 L370.1,661.00 L370.6,661.00 L371.1,661.00 L371.6,661.00 L372.1,661.00 L372.6,661.00 L373.1,661.00 L373.6,661.00 L374.1,661.00 L374.6,661.00 L375.1,661.00 L375.6,661.00 L376.1,661.00 L376.6,661.00 L377.1,661.00 L377.6,661.00 L378.1,661.00 L378.6,661.00 L379.1,661.00 L379.6,661.00 L380.1,661.00 L380.6,661.00 L381.1,661.00 L381.6,661.00 L382.1,661.00 L382.6,661.00 L383.1,661.00 L383.6,661.00 L384.1,661.00 L384.6,661.00 L385.1,661.00 L385.6,661.00 L386.1,661.00 L386.6,661.00 L387.1,661.00 L387.6,661.00 L388.1,661.00 L388.6,661.00 L389.1,661.00 L389.6,661.00 L390.1,661.00 L390.6,660.99 L391.1,660.98 L391.6,660.97 L392.1,660.94 L392.6,660.90 L393.1,660.83 L393.6,660.73 L394.1,660.60 L394.6,660.41 L395.1,660.17 L395.6,659.87 L396.1,659.53 L396.6,659.14 L397.1,658.72 L397.6,658.30 L398.1,657.90 L398.6,657.52 L399.1,657.17 L399.6,656.87 L400.1,656.59 L400.6,656.32 L401.1,656.03 L401.6,655.70 L402.1,655.26 L402.6,654.63 L403.1,653.65 L403.6,652.17 L404.1,650.15 L404.6,647.82 L405.1,645.72 L405.6,644.53 L406.1,644.69 L406.6,646.15 L407.1,648.38 L407.6,650.70 L408.1,652.63 L408.6,653.98 L409.1,654.84 L409.6,655.36 L410.1,655.70 L410.6,655.95 L411.1,656.20 L411.6,656.50 L412.1,656.88 L412.6,657.35 L413.1,657.89 L413.6,658.47 L414.1,659.03 L414.6,659.55 L415.1,659.98 L415.6,660.32 L416.1,660.57 L416.6,660.74 L417.1,660.85 L417.6,660.92 L418.1,660.95 L418.6,660.98 L419.1,660.99 L419.6,660.99 L420.1,661.00 L420.6,661.00 L421.1,661.00 L421.6,661.00 L422.1,661.00 L422.6,661.00 L423.1,661.00 L423.6,661.00 L424.1,661.00 L424.6,661.00 L425.1,661.00 L425.6,661.00 L426.1,661.00 L426.6,661.00 L427.1,661.00 L427.6,661.00 L428.1,661.00 L428.6,661.00 L429.1,661.00 L429.6,661.00 L430.1,661.00 L430.6,661.00 L430.6,661.0 Z" fill="#59c1ea" stroke="none" stroke-width="0.4" opacity="1" stroke-linejoin="round"/>
<path d="M132.6,661.0 L132.6,660.50 L133.1,660.49 L133.6,660.46 L134.1,660.43 L134.6,660.40 L135.1,660.38 L135.6,660.36 L136.1,660.34 L136.6,660.30 L137.1,660.25 L137.6,660.20 L138.1,660.16 L138.6,660.13 L139.1,660.11 L139.6,660.10 L140.1,660.10 L140.6,660.09 L141.1,660.08 L141.6,660.05 L142.1,660.01 L142.6,659.97 L143.1,659.95 L143.6,659.94 L144.1,659.97 L144.6,660.02 L145.1,660.09 L145.6,660.16 L146.1,660.21 L146.6,660.21 L147.1,660.17 L147.6,660.11 L148.1,660.05 L148.6,660.01 L149.1,660.06 L149.6,660.21 L150.1,660.35 L150.6,660.40 L151.1,660.31 L151.6,660.18 L152.1,660.20 L152.6,660.35 L153.1,660.46 L153.6,660.49 L154.1,660.49 L154.6,660.49 L155.1,660.49 L155.6,660.48 L156.1,660.47 L156.6,660.46 L157.1,660.45 L157.6,660.44 L158.1,660.42 L158.6,660.40 L159.1,660.38 L159.6,660.34 L160.1,660.28 L160.6,660.21 L161.1,660.12 L161.6,660.03 L162.1,659.94 L162.6,659.88 L163.1,659.85 L163.6,659.87 L164.1,659.92 L164.6,660.01 L165.1,660.11 L165.6,660.21 L166.1,660.30 L166.6,660.37 L167.1,660.42 L167.6,660.45 L168.1,660.45 L168.6,660.41 L169.1,660.32 L169.6,660.22 L170.1,660.18 L170.6,660.22 L171.1,660.31 L171.6,660.34 L172.1,660.27 L172.6,660.11 L173.1,659.92 L173.6,659.76 L174.1,659.71 L174.6,659.75 L175.1,659.86 L175.6,659.98 L176.1,660.09 L176.6,660.15 L177.1,660.19 L177.6,660.20 L178.1,660.20 L178.6,660.21 L179.1,660.25 L179.6,660.27 L180.1,660.29 L180.6,660.29 L181.1,660.27 L181.6,660.21 L182.1,660.14 L182.6,660.04 L183.1,659.94 L183.6,659.84 L184.1,659.74 L184.6,659.66 L185.1,659.61 L185.6,659.58 L186.1,659.58 L186.6,659.60 L187.1,659.64 L187.6,659.70 L188.1,659.76 L188.6,659.81 L189.1,659.85 L189.6,659.88 L190.1,659.88 L190.6,659.88 L191.1,659.85 L191.6,659.82 L192.1,659.80 L192.6,659.80 L193.1,659.82 L193.6,659.86 L194.1,659.91 L194.6,659.95 L195.1,659.98 L195.6,660.02 L196.1,660.07 L196.6,660.13 L197.1,660.19 L197.6,660.19 L198.1,660.09 L198.6,659.90 L199.1,659.69 L199.6,659.57 L200.1,659.59 L200.6,659.70 L201.1,659.81 L201.6,659.87 L202.1,659.89 L202.6,659.92 L203.1,659.95 L203.6,660.00 L204.1,660.05 L204.6,660.10 L205.1,660.12 L205.6,660.10 L206.1,660.03 L206.6,659.92 L207.1,659.81 L207.6,659.75 L208.1,659.79 L208.6,659.92 L209.1,660.08 L209.6,660.21 L210.1,660.29 L210.6,660.32 L211.1,660.34 L211.6,660.35 L212.1,660.34 L212.6,660.33 L213.1,660.29 L213.6,660.20 L214.1,660.08 L214.6,660.01 L215.1,660.05 L215.6,660.18 L216.1,660.32 L216.6,660.42 L217.1,660.47 L217.6,660.49 L218.1,660.49 L218.6,660.49 L219.1,660.49 L219.6,660.49 L220.1,660.48 L220.6,660.48 L221.1,660.47 L221.6,660.46 L222.1,660.41 L222.6,660.31 L223.1,660.16 L223.6,660.06 L224.1,660.11 L224.6,660.23 L225.1,660.29 L225.6,660.27 L226.1,660.21 L226.6,660.15 L227.1,660.09 L227.6,660.05 L228.1,660.03 L228.6,660.04 L229.1,660.05 L229.6,660.09 L230.1,660.13 L230.6,660.17 L231.1,660.21 L231.6,660.25 L232.1,660.28 L232.6,660.27 L233.1,660.13 L233.6,659.84 L234.1,659.70 L234.6,659.86 L235.1,659.97 L235.6,659.94 L236.1,659.87 L236.6,659.84 L237.1,659.84 L237.6,659.86 L238.1,659.87 L238.6,659.86 L239.1,659.88 L239.6,659.99 L240.1,660.17 L240.6,660.32 L241.1,660.37 L241.6,660.25 L242.1,660.04 L242.6,659.94 L243.1,660.05 L243.6,660.14 L244.1,660.09 L244.6,659.99 L245.1,659.90 L245.6,659.86 L246.1,659.84 L246.6,659.83 L247.1,659.81 L247.6,659.79 L248.1,659.77 L248.6,659.76 L249.1,659.76 L249.6,659.77 L250.1,659.78 L250.6,659.79 L251.1,659.81 L251.6,659.81 L252.1,659.81 L252.6,659.80 L253.1,659.78 L253.6,659.76 L254.1,659.75 L254.6,659.79 L255.1,659.90 L255.6,660.03 L256.1,660.14 L256.6,660.17 L257.1,660.13 L257.6,660.07 L258.1,660.05 L258.6,660.09 L259.1,660.14 L259.6,660.15 L260.1,660.09 L260.6,660.02 L261.1,659.96 L261.6,659.86 L262.1,659.77 L262.6,659.74 L263.1,659.70 L263.6,659.60 L264.1,659.49 L264.6,659.40 L265.1,659.36 L265.6,659.39 L266.1,659.48 L266.6,659.61 L267.1,659.76 L267.6,659.90 L268.1,660.01 L268.6,660.06 L269.1,660.04 L269.6,659.98 L270.1,659.91 L270.6,659.90 L271.1,659.95 L271.6,660.01 L272.1,660.02 L272.6,659.97 L273.1,659.85 L273.6,659.70 L274.1,659.56 L274.6,659.43 L275.1,659.31 L275.6,659.19 L276.1,659.10 L276.6,659.10 L277.1,659.22 L277.6,659.43 L278.1,659.66 L278.6,659.85 L279.1,659.99 L279.6,660.08 L280.1,660.13 L280.6,660.14 L281.1,660.13 L281.6,660.10 L282.1,660.06 L282.6,660.05 L283.1,660.05 L283.6,660.05 L284.1,660.02 L284.6,659.93 L285.1,659.84 L285.6,659.84 L286.1,659.95 L286.6,660.08 L287.1,660.17 L287.6,660.18 L288.1,660.15 L288.6,660.06 L289.1,659.96 L289.6,659.86 L290.1,659.79 L290.6,659.76 L291.1,659.80 L291.6,659.86 L292.1,659.91 L292.6,659.95 L293.1,659.96 L293.6,659.96 L294.1,659.94 L294.6,659.93 L295.1,659.91 L295.6,659.88 L296.1,659.84 L296.6,659.79 L297.1,659.75 L297.6,659.77 L298.1,659.85 L298.6,659.98 L299.1,660.14 L299.6,660.27 L300.1,660.36 L300.6,660.42 L301.1,660.42 L301.6,660.36 L302.1,660.21 L302.6,660.02 L303.1,659.92 L303.6,659.97 L304.1,660.13 L304.6,660.22 L305.1,660.18 L305.6,660.05 L306.1,659.92 L306.6,659.86 L307.1,659.92 L307.6,660.06 L308.1,660.22 L308.6,660.32 L309.1,660.38 L309.6,660.39 L310.1,660.38 L310.6,660.33 L311.1,660.26 L311.6,660.17 L312.1,660.07 L312.6,659.96 L313.1,659.85 L313.6,659.75 L314.1,659.68 L314.6,659.63 L315.1,659.59 L315.6,659.57 L316.1,659.54 L316.6,659.50 L317.1,659.46 L317.6,659.41 L318.1,659.37 L318.6,659.35 L319.1,659.36 L319.6,659.41 L320.1,659.49 L320.6,659.59 L321.1,659.69 L321.6,659.80 L322.1,659.90 L322.6,659.97 L323.1,660.03 L323.6,660.08 L324.1,660.11 L324.6,660.14 L325.1,660.17 L325.6,660.19 L326.1,660.22 L326.6,660.24 L327.1,660.27 L327.6,660.29 L328.1,660.31 L328.6,660.33 L329.1,660.34 L329.6,660.36 L330.1,660.37 L330.6,660.38 L331.1,660.39 L331.6,660.40 L332.1,660.40 L332.6,660.41 L333.1,660.42 L333.6,660.42 L334.1,660.41 L334.6,660.37 L335.1,660.31 L335.6,660.24 L336.1,660.22 L336.6,660.28 L337.1,660.36 L337.6,660.41 L338.1,660.42 L338.6,660.41 L339.1,660.41 L339.6,660.42 L340.1,660.45 L340.6,660.47 L341.1,660.48 L341.6,660.46 L342.1,660.43 L342.6,660.41 L343.1,660.41 L343.6,660.40 L344.1,660.32 L344.6,660.16 L345.1,659.94 L345.6,659.74 L346.1,659.63 L346.6,659.66 L347.1,659.77 L347.6,659.88 L348.1,659.91 L348.6,659.88 L349.1,659.84 L349.6,659.87 L350.1,659.98 L350.6,660.10 L351.1,660.21 L351.6,660.26 L352.1,660.29 L352.6,660.30 L353.1,660.31 L353.6,660.32 L354.1,660.31 L354.6,660.23 L355.1,660.04 L355.6,659.96 L356.1,660.10 L356.6,660.22 L357.1,660.22 L357.6,660.15 L358.1,660.03 L358.6,659.92 L359.1,659.89 L359.6,659.87 L360.1,659.81 L360.6,659.72 L361.1,659.62 L361.6,659.53 L362.1,659.46 L362.6,659.42 L363.1,659.41 L363.6,659.43 L364.1,659.50 L364.6,659.59 L365.1,659.70 L365.6,659.81 L366.1,659.88 L366.6,659.88 L367.1,659.90 L367.6,659.97 L368.1,660.04 L368.6,660.02 L369.1,659.95 L369.6,659.85 L370.1,659.77 L370.6,659.68 L371.1,659.63 L371.6,659.60 L372.1,659.61 L372.6,659.63 L373.1,659.68 L373.6,659.74 L374.1,659.82 L374.6,659.90 L375.1,659.98 L375.6,660.06 L376.1,660.15 L376.6,660.17 L377.1,660.06 L377.6,659.88 L378.1,660.01 L378.6,660.27 L379.1,660.37 L379.6,660.36 L380.1,660.31 L380.6,660.26 L381.1,660.23 L381.6,660.21 L382.1,660.23 L382.6,660.27 L383.1,660.30 L383.6,660.32 L384.1,660.35 L384.6,660.41 L385.1,660.43 L385.6,660.36 L386.1,660.19 L386.6,660.03 L387.1,660.01 L387.6,660.08 L388.1,660.08 L388.6,660.00 L389.1,659.88 L389.6,659.74 L390.1,659.59 L390.6,659.43 L391.1,659.25 L391.6,659.04 L392.1,658.80 L392.6,658.55 L393.1,658.30 L393.6,658.05 L394.1,657.81 L394.6,657.58 L395.1,657.36 L395.6,657.16 L396.1,656.96 L396.6,656.77 L397.1,656.58 L397.6,656.39 L398.1,656.22 L398.6,656.07 L399.1,655.95 L399.6,655.86 L400.1,655.77 L400.6,655.66 L401.1,655.49 L401.6,655.25 L402.1,654.93 L402.6,654.50 L403.1,653.88 L403.6,653.04 L404.1,651.99 L404.6,650.86 L405.1,649.90 L405.6,649.37 L406.1,649.45 L406.6,650.10 L407.1,651.15 L407.6,652.30 L408.1,653.34 L408.6,654.09 L409.1,654.49 L409.6,654.66 L410.1,654.90 L410.6,655.31 L411.1,655.72 L411.6,656.05 L412.1,656.41 L412.6,656.85 L413.1,657.37 L413.6,657.93 L414.1,658.49 L414.6,658.97 L415.1,659.32 L415.6,659.49 L416.1,659.52 L416.6,659.55 L417.1,659.74 L417.6,660.03 L418.1,660.28 L418.6,660.40 L419.1,660.43 L419.6,660.42 L420.1,660.37 L420.6,660.28 L421.1,660.12 L421.6,659.97 L422.1,659.93 L422.6,659.95 L423.1,659.93 L423.6,659.88 L424.1,659.85 L424.6,659.85 L425.1,659.89 L425.6,659.94 L426.1,660.02 L426.6,660.09 L427.1,660.14 L427.6,660.12 L428.1,659.99 L428.6,659.73 L429.1,659.45 L429.6,659.36 L430.1,659.49 L430.6,659.67 L430.6,661.0 Z" fill="#1d55a8" stroke="none" stroke-width="0.4" opacity="1" stroke-linejoin="round"/>
<path d="M132.6,660.50 L132.6,660.50 L133.1,660.49 L133.6,660.46 L134.1,660.43 L134.6,660.40 L135.1,660.38 L135.6,660.36 L136.1,660.34 L136.6,660.30 L137.1,660.25 L137.6,660.20 L138.1,660.16 L138.6,660.13 L139.1,660.11 L139.6,660.10 L140.1,660.10 L140.6,660.09 L141.1,660.08 L141.6,660.05 L142.1,660.01 L142.6,659.97 L143.1,659.95 L143.6,659.94 L144.1,659.97 L144.6,660.02 L145.1,660.09 L145.6,660.16 L146.1,660.21 L146.6,660.21 L147.1,660.17 L147.6,660.11 L148.1,660.05 L148.6,660.01 L149.1,660.06 L149.6,660.21 L150.1,660.35 L150.6,660.40 L151.1,660.31 L151.6,660.18 L152.1,660.20 L152.6,660.35 L153.1,660.46 L153.6,660.49 L154.1,660.49 L154.6,660.49 L155.1,660.49 L155.6,660.48 L156.1,660.47 L156.6,660.46 L157.1,660.45 L157.6,660.44 L158.1,660.42 L158.6,660.40 L159.1,660.38 L159.6,660.34 L160.1,660.28 L160.6,660.21 L161.1,660.12 L161.6,660.03 L162.1,659.94 L162.6,659.88 L163.1,659.85 L163.6,659.87 L164.1,659.92 L164.6,660.01 L165.1,660.11 L165.6,660.21 L166.1,660.30 L166.6,660.37 L167.1,660.42 L167.6,660.45 L168.1,660.45 L168.6,660.41 L169.1,660.32 L169.6,660.22 L170.1,660.18 L170.6,660.22 L171.1,660.31 L171.6,660.34 L172.1,660.27 L172.6,660.11 L173.1,659.92 L173.6,659.76 L174.1,659.71 L174.6,659.75 L175.1,659.86 L175.6,659.98 L176.1,660.09 L176.6,660.15 L177.1,660.19 L177.6,660.20 L178.1,660.20 L178.6,660.21 L179.1,660.25 L179.6,660.27 L180.1,660.29 L180.6,660.29 L181.1,660.27 L181.6,660.21 L182.1,660.14 L182.6,660.04 L183.1,659.94 L183.6,659.84 L184.1,659.74 L184.6,659.66 L185.1,659.61 L185.6,659.58 L186.1,659.58 L186.6,659.60 L187.1,659.64 L187.6,659.70 L188.1,659.76 L188.6,659.81 L189.1,659.85 L189.6,659.88 L190.1,659.88 L190.6,659.88 L191.1,659.85 L191.6,659.82 L192.1,659.80 L192.6,659.80 L193.1,659.82 L193.6,659.86 L194.1,659.91 L194.6,659.95 L195.1,659.98 L195.6,660.02 L196.1,660.07 L196.6,660.13 L197.1,660.19 L197.6,660.19 L198.1,660.09 L198.6,659.90 L199.1,659.69 L199.6,659.57 L200.1,659.59 L200.6,659.70 L201.1,659.81 L201.6,659.87 L202.1,659.89 L202.6,659.92 L203.1,659.95 L203.6,660.00 L204.1,660.05 L204.6,660.10 L205.1,660.12 L205.6,660.10 L206.1,660.03 L206.6,659.92 L207.1,659.81 L207.6,659.75 L208.1,659.79 L208.6,659.92 L209.1,660.08 L209.6,660.21 L210.1,660.29 L210.6,660.32 L211.1,660.34 L211.6,660.35 L212.1,660.34 L212.6,660.33 L213.1,660.29 L213.6,660.20 L214.1,660.08 L214.6,660.01 L215.1,660.05 L215.6,660.18 L216.1,660.32 L216.6,660.42 L217.1,660.47 L217.6,660.49 L218.1,660.49 L218.6,660.49 L219.1,660.49 L219.6,660.49 L220.1,660.48 L220.6,660.48 L221.1,660.47 L221.6,660.46 L222.1,660.41 L222.6,660.31 L223.1,660.16 L223.6,660.06 L224.1,660.11 L224.6,660.23 L225.1,660.29 L225.6,660.27 L226.1,660.21 L226.6,660.15 L227.1,660.09 L227.6,660.05 L228.1,660.03 L228.6,660.04 L229.1,660.05 L229.6,660.09 L230.1,660.13 L230.6,660.17 L231.1,660.21 L231.6,660.25 L232.1,660.28 L232.6,660.27 L233.1,660.13 L233.6,659.84 L234.1,659.70 L234.6,659.86 L235.1,659.97 L235.6,659.94 L236.1,659.87 L236.6,659.84 L237.1,659.84 L237.6,659.86 L238.1,659.87 L238.6,659.86 L239.1,659.88 L239.6,659.99 L240.1,660.17 L240.6,660.32 L241.1,660.37 L241.6,660.25 L242.1,660.04 L242.6,659.94 L243.1,660.05 L243.6,660.14 L244.1,660.09 L244.6,659.99 L245.1,659.90 L245.6,659.86 L246.1,659.84 L246.6,659.83 L247.1,659.81 L247.6,659.79 L248.1,659.77 L248.6,659.76 L249.1,659.76 L249.6,659.77 L250.1,659.78 L250.6,659.79 L251.1,659.81 L251.6,659.81 L252.1,659.81 L252.6,659.80 L253.1,659.78 L253.6,659.76 L254.1,659.75 L254.6,659.79 L255.1,659.90 L255.6,660.03 L256.1,660.14 L256.6,660.17 L257.1,660.13 L257.6,660.07 L258.1,660.05 L258.6,660.09 L259.1,660.14 L259.6,660.15 L260.1,660.09 L260.6,660.02 L261.1,659.96 L261.6,659.86 L262.1,659.77 L262.6,659.74 L263.1,659.70 L263.6,659.60 L264.1,659.49 L264.6,659.40 L265.1,659.36 L265.6,659.39 L266.1,659.48 L266.6,659.61 L267.1,659.76 L267.6,659.90 L268.1,660.01 L268.6,660.06 L269.1,660.04 L269.6,659.98 L270.1,659.91 L270.6,659.90 L271.1,659.95 L271.6,660.01 L272.1,660.02 L272.6,659.97 L273.1,659.85 L273.6,659.70 L274.1,659.56 L274.6,659.43 L275.1,659.31 L275.6,659.19 L276.1,659.10 L276.6,659.10 L277.1,659.22 L277.6,659.43 L278.1,659.66 L278.6,659.85 L279.1,659.99 L279.6,660.08 L280.1,660.13 L280.6,660.14 L281.1,660.13 L281.6,660.10 L282.1,660.06 L282.6,660.05 L283.1,660.05 L283.6,660.05 L284.1,660.02 L284.6,659.93 L285.1,659.84 L285.6,659.84 L286.1,659.95 L286.6,660.08 L287.1,660.17 L287.6,660.18 L288.1,660.15 L288.6,660.06 L289.1,659.96 L289.6,659.86 L290.1,659.79 L290.6,659.76 L291.1,659.80 L291.6,659.86 L292.1,659.91 L292.6,659.95 L293.1,659.96 L293.6,659.96 L294.1,659.94 L294.6,659.93 L295.1,659.91 L295.6,659.88 L296.1,659.84 L296.6,659.79 L297.1,659.75 L297.6,659.77 L298.1,659.85 L298.6,659.98 L299.1,660.14 L299.6,660.27 L300.1,660.36 L300.6,660.42 L301.1,660.42 L301.6,660.36 L302.1,660.21 L302.6,660.02 L303.1,659.92 L303.6,659.97 L304.1,660.13 L304.6,660.22 L305.1,660.18 L305.6,660.05 L306.1,659.92 L306.6,659.86 L307.1,659.92 L307.6,660.06 L308.1,660.22 L308.6,660.32 L309.1,660.38 L309.6,660.39 L310.1,660.38 L310.6,660.33 L311.1,660.26 L311.6,660.17 L312.1,660.07 L312.6,659.96 L313.1,659.85 L313.6,659.75 L314.1,659.68 L314.6,659.63 L315.1,659.59 L315.6,659.57 L316.1,659.54 L316.6,659.50 L317.1,659.46 L317.6,659.41 L318.1,659.37 L318.6,659.35 L319.1,659.36 L319.6,659.41 L320.1,659.49 L320.6,659.59 L321.1,659.69 L321.6,659.80 L322.1,659.90 L322.6,659.97 L323.1,660.03 L323.6,660.08 L324.1,660.11 L324.6,660.14 L325.1,660.17 L325.6,660.19 L326.1,660.22 L326.6,660.24 L327.1,660.27 L327.6,660.29 L328.1,660.31 L328.6,660.33 L329.1,660.34 L329.6,660.36 L330.1,660.37 L330.6,660.38 L331.1,660.39 L331.6,660.40 L332.1,660.40 L332.6,660.41 L333.1,660.42 L333.6,660.42 L334.1,660.41 L334.6,660.37 L335.1,660.31 L335.6,660.24 L336.1,660.22 L336.6,660.28 L337.1,660.36 L337.6,660.41 L338.1,660.42 L338.6,660.41 L339.1,660.41 L339.6,660.42 L340.1,660.45 L340.6,660.47 L341.1,660.48 L341.6,660.46 L342.1,660.43 L342.6,660.41 L343.1,660.41 L343.6,660.40 L344.1,660.32 L344.6,660.16 L345.1,659.94 L345.6,659.74 L346.1,659.63 L346.6,659.66 L347.1,659.77 L347.6,659.88 L348.1,659.91 L348.6,659.88 L349.1,659.84 L349.6,659.87 L350.1,659.98 L350.6,660.10 L351.1,660.21 L351.6,660.26 L352.1,660.29 L352.6,660.30 L353.1,660.31 L353.6,660.32 L354.1,660.31 L354.6,660.23 L355.1,660.04 L355.6,659.96 L356.1,660.10 L356.6,660.22 L357.1,660.22 L357.6,660.15 L358.1,660.03 L358.6,659.92 L359.1,659.89 L359.6,659.87 L360.1,659.81 L360.6,659.72 L361.1,659.62 L361.6,659.53 L362.1,659.46 L362.6,659.42 L363.1,659.41 L363.6,659.43 L364.1,659.50 L364.6,659.59 L365.1,659.70 L365.6,659.81 L366.1,659.88 L366.6,659.88 L367.1,659.90 L367.6,659.97 L368.1,660.04 L368.6,660.02 L369.1,659.95 L369.6,659.85 L370.1,659.77 L370.6,659.68 L371.1,659.63 L371.6,659.60 L372.1,659.61 L372.6,659.63 L373.1,659.68 L373.6,659.74 L374.1,659.82 L374.6,659.90 L375.1,659.98 L375.6,660.06 L376.1,660.15 L376.6,660.17 L377.1,660.06 L377.6,659.88 L378.1,660.01 L378.6,660.27 L379.1,660.37 L379.6,660.36 L380.1,660.31 L380.6,660.26 L381.1,660.23 L381.6,660.21 L382.1,660.23 L382.6,660.27 L383.1,660.30 L383.6,660.32 L384.1,660.35 L384.6,660.41 L385.1,660.43 L385.6,660.36 L386.1,660.19 L386.6,660.03 L387.1,660.01 L387.6,660.08 L388.1,660.08 L388.6,660.00 L389.1,659.88 L389.6,659.74 L390.1,659.59 L390.6,659.43 L391.1,659.25 L391.6,659.04 L392.1,658.80 L392.6,658.55 L393.1,658.30 L393.6,658.05 L394.1,657.81 L394.6,657.58 L395.1,657.36 L395.6,657.16 L396.1,656.96 L396.6,656.77 L397.1,656.58 L397.6,656.39 L398.1,656.22 L398.6,656.07 L399.1,655.95 L399.6,655.86 L400.1,655.77 L400.6,655.66 L401.1,655.49 L401.6,655.25 L402.1,654.93 L402.6,654.50 L403.1,653.88 L403.6,653.04 L404.1,651.99 L404.6,650.86 L405.1,649.90 L405.6,649.37 L406.1,649.45 L406.6,650.10 L407.1,651.15 L407.6,652.30 L408.1,653.34 L408.6,654.09 L409.1,654.49 L409.6,654.66 L410.1,654.90 L410.6,655.31 L411.1,655.72 L411.6,656.05 L412.1,656.41 L412.6,656.85 L413.1,657.37 L413.6,657.93 L414.1,658.49 L414.6,658.97 L415.1,659.32 L415.6,659.49 L416.1,659.52 L416.6,659.55 L417.1,659.74 L417.6,660.03 L418.1,660.28 L418.6,660.40 L419.1,660.43 L419.6,660.42 L420.1,660.37 L420.6,660.28 L421.1,660.12 L421.6,659.97 L422.1,659.93 L422.6,659.95 L423.1,659.93 L423.6,659.88 L424.1,659.85 L424.6,659.85 L425.1,659.89 L425.6,659.94 L426.1,660.02 L426.6,660.09 L427.1,660.14 L427.6,660.12 L428.1,659.99 L428.6,659.73 L429.1,659.45 L429.6,659.36 L430.1,659.49 L430.6,659.67" fill="none" stroke="#2a6ac0" stroke-width="0.7" opacity="1" stroke-linejoin="round"/>
<line x1="132.6" y1="681.1" x2="435.4" y2="681.1" stroke="#b5d6a8" stroke-width="0.8"/>
<path d="M174.4,681.1 L175.6,676 L176.5,670.0 L177.6,675 L178.8,677 L180.5,672.6 L181.2,675 L182.0,674 L183.2,681.1 Z" fill="#1c6a30" stroke="none" stroke-width="1"/>
<path d="M175.5,681.1 L176.5,675 L177.5,681.1 Z M179.5,681.1 L180.5,677 L181.5,681.1 Z" fill="#3f9a4a" stroke="none" stroke-width="1" opacity="0.7"/>
<path d="M186.2,681.1 L186.8,672.2 L187.2,669.2 L187.5,672.8 L188.2,681.1 Z" fill="#1c6a30" stroke="none" stroke-width="1"/>
<path d="M186.7,681.1 L187.2,675.7 L187.7,681.1 Z" fill="#3f9a4a" stroke="none" stroke-width="1" opacity="0.7"/>
<path d="M189.8,681.1 L190.5,673.3 L190.8,670.7 L191.2,673.8 L191.8,681.1 Z" fill="#1c6a30" stroke="none" stroke-width="1"/>
<path d="M190.3,681.1 L190.8,676.4 L191.3,681.1 Z" fill="#3f9a4a" stroke="none" stroke-width="1" opacity="0.7"/>
<path d="M197.4,681.1 L197.9,675.0 L198.2,673.0 L198.5,675.4 L199.0,681.1 Z" fill="#1c6a30" stroke="none" stroke-width="1"/>
<path d="M197.8,681.1 L198.2,677.5 L198.6,681.1 Z" fill="#3f9a4a" stroke="none" stroke-width="1" opacity="0.7"/>
<path d="M202.9,681.1 L203.5,670.4 L203.8,666.8 L204.1,671.1 L204.7,681.1 Z" fill="#1c6a30" stroke="none" stroke-width="1"/>
<path d="M203.4,681.1 L203.8,674.7 L204.2,681.1 Z" fill="#3f9a4a" stroke="none" stroke-width="1" opacity="0.7"/>
<path d="M210.5,681.1 L211.2,669.8 L211.5,666.0 L211.8,670.5 L212.5,681.1 Z" fill="#1c6a30" stroke="none" stroke-width="1"/>
<path d="M211.0,681.1 L211.5,674.3 L212.0,681.1 Z" fill="#3f9a4a" stroke="none" stroke-width="1" opacity="0.7"/>
<path d="M226.4,681.1 L227.2,671.6 L227.7,668.4 L228.2,672.2 L229.0,681.1 Z" fill="#1c6a30" stroke="none" stroke-width="1"/>
<path d="M227.0,681.1 L227.7,675.4 L228.3,681.1 Z" fill="#3f9a4a" stroke="none" stroke-width="1" opacity="0.7"/>
<path d="M245.3,681.1 L246.1,670.8 L246.5,667.3 L246.9,671.4 L247.7,681.1 Z" fill="#1c6a30" stroke="none" stroke-width="1"/>
<path d="M245.9,681.1 L246.5,674.9 L247.1,681.1 Z" fill="#3f9a4a" stroke="none" stroke-width="1" opacity="0.7"/>
<path d="M303.7,681.1 L304.3,674.2 L304.7,671.9 L305.1,674.7 L305.7,681.1 Z" fill="#1c6a30" stroke="none" stroke-width="1"/>
<path d="M304.2,681.1 L304.7,677.0 L305.2,681.1 Z" fill="#3f9a4a" stroke="none" stroke-width="1" opacity="0.7"/>
<path d="M308.4,681.1 L309.0,671.6 L309.4,668.5 L309.8,672.3 L310.4,681.1 Z" fill="#1c6a30" stroke="none" stroke-width="1"/>
<path d="M308.9,681.1 L309.4,675.4 L309.9,681.1 Z" fill="#3f9a4a" stroke="none" stroke-width="1" opacity="0.7"/>
<path d="M312.8,681.1 L313.4,672.7 L313.8,669.9 L314.2,673.3 L314.8,681.1 Z" fill="#1c6a30" stroke="none" stroke-width="1"/>
<path d="M313.3,681.1 L313.8,676.1 L314.3,681.1 Z" fill="#3f9a4a" stroke="none" stroke-width="1" opacity="0.7"/>
<path d="M315.5,681.1 L316.1,675.0 L316.4,672.9 L316.7,675.4 L317.3,681.1 Z" fill="#1c6a30" stroke="none" stroke-width="1"/>
<path d="M315.9,681.1 L316.4,677.4 L316.8,681.1 Z" fill="#3f9a4a" stroke="none" stroke-width="1" opacity="0.7"/>
<path d="M330.2,681.1 L330.8,672.7 L331.2,669.9 L331.6,673.3 L332.2,681.1 Z" fill="#1c6a30" stroke="none" stroke-width="1"/>
<path d="M330.7,681.1 L331.2,676.1 L331.7,681.1 Z" fill="#3f9a4a" stroke="none" stroke-width="1" opacity="0.7"/>
<path d="M353.8,681.1 L354.5,671.6 L354.9,668.5 L355.3,672.3 L356.0,681.1 Z" fill="#1c6a30" stroke="none" stroke-width="1"/>
<path d="M354.3,681.1 L354.9,675.4 L355.4,681.1 Z" fill="#3f9a4a" stroke="none" stroke-width="1" opacity="0.7"/>
<path d="M385.8,681.1 L386.4,675.0 L386.7,673.0 L387.0,675.4 L387.6,681.1 Z" fill="#1c6a30" stroke="none" stroke-width="1"/>
<path d="M386.2,681.1 L386.7,677.5 L387.1,681.1 Z" fill="#3f9a4a" stroke="none" stroke-width="1" opacity="0.7"/>
<path d="M389.3,681.1 L389.8,676.8 L390.1,675.3 L390.4,677.0 L390.9,681.1 Z" fill="#1c6a30" stroke="none" stroke-width="1"/>
<path d="M389.7,681.1 L390.1,678.5 L390.5,681.1 Z" fill="#3f9a4a" stroke="none" stroke-width="1" opacity="0.7"/>
<path d="M402.8,681.1 L403.3,678.4 L403.6,677.5 L403.9,678.6 L404.4,681.1 Z" fill="#1c6a30" stroke="none" stroke-width="1"/>
<path d="M403.2,681.1 L403.6,679.5 L404.0,681.1 Z" fill="#3f9a4a" stroke="none" stroke-width="1" opacity="0.7"/>
<rect x="398.4" y="603.6" width="15.8" height="77.7" fill="none" stroke="#3f5a9c" stroke-width="0.8" stroke-dasharray="0.9,0.9"/>
<line x1="379.2" y1="685.9" x2="435.4" y2="685.9" stroke="#222" stroke-width="1.1"/>
<text x="407.3" y="694.6" font-size="6.2" fill="#333" stroke="#333" stroke-width="0.062" text-anchor="middle" textLength="13.0" lengthAdjust="spacingAndGlyphs">5 Kb</text>
<rect x="0" y="0" width="520" height="1" fill="#575757"/><rect x="0" y="0" width="1" height="703" fill="#575757"/><rect x="519" y="0" width="1" height="703" fill="#383838"/><rect x="0" y="702" width="520" height="1" fill="#383838"/>
</svg>
</body></html>
